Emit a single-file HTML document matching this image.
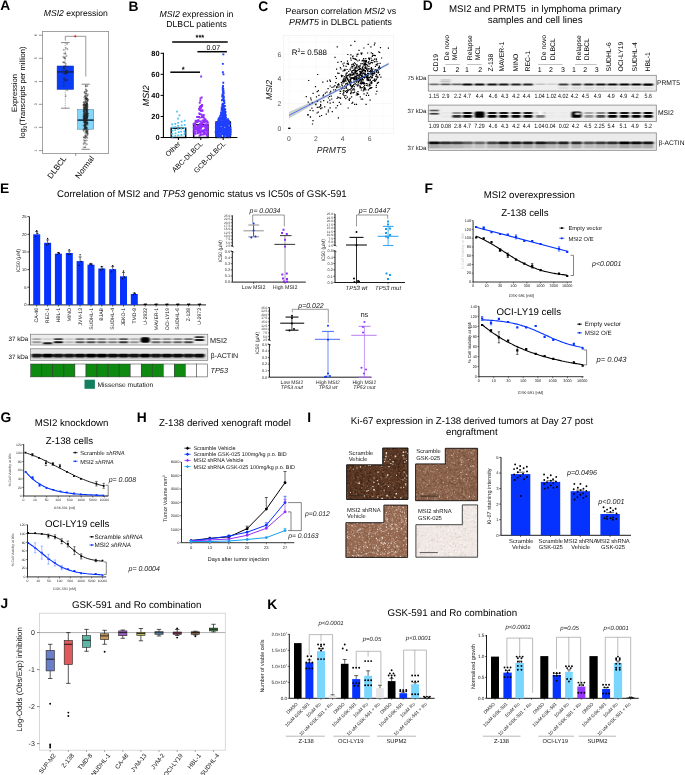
<!DOCTYPE html>
<html><head><meta charset="utf-8"><style>
html,body{margin:0;padding:0;background:#fff;width:685px;height:775px;overflow:hidden}
svg{display:block;font-family:"Liberation Sans",sans-serif;text-rendering:geometricPrecision;filter:blur(0.35px)}
</style></head><body>
<svg width="685" height="775" viewBox="0 0 685 775">
<defs>
<filter id="bl" x="-20%" y="-50%" width="140%" height="200%"><feGaussianBlur stdDeviation="0.8"/></filter>
<filter id="bl2" x="-20%" y="-50%" width="140%" height="200%"><feGaussianBlur stdDeviation="1.2"/></filter>
<filter id="bl5" x="-10%" y="-50%" width="120%" height="200%"><feGaussianBlur stdDeviation="0.9 0.55"/></filter>
</defs>
<text x="0.3" y="10.3" font-size="13.8" font-weight="bold">A</text>
<text x="128.6" y="10.5" font-size="13.8" font-weight="bold">B</text>
<text x="258.2" y="10.5" font-size="13.8" font-weight="bold">C</text>
<text x="422.7" y="10.2" font-size="13.8" font-weight="bold">D</text>
<text x="0" y="193" font-size="13.8" font-weight="bold">E</text>
<text x="424.6" y="192.8" font-size="13.8" font-weight="bold">F</text>
<text x="0.5" y="421.9" font-size="13.8" font-weight="bold">G</text>
<text x="136.8" y="421.9" font-size="13.8" font-weight="bold">H</text>
<text x="307.2" y="421.5" font-size="13.8" font-weight="bold">I</text>
<text x="0.5" y="608.4" font-size="13.8" font-weight="bold">J</text>
<text x="267.3" y="609" font-size="13.8" font-weight="bold">K</text>
<text x="43.8" y="16.2" font-size="8.6"><tspan font-style="italic">MSI2</tspan> expression</text>
<rect x="42.4" y="31.5" width="66.2" height="121.9" fill="none" stroke="#8c8c8c" stroke-width="0.8"/>
<line x1="38.9" y1="35.2" x2="42.4" y2="35.2" stroke="#555" stroke-width="0.6"/>
<text transform="translate(36.5,35.2) rotate(-90)" font-size="3.6" text-anchor="middle" fill="#333">6</text>
<line x1="38.9" y1="58.3" x2="42.4" y2="58.3" stroke="#555" stroke-width="0.6"/>
<text transform="translate(36.5,58.3) rotate(-90)" font-size="3.6" text-anchor="middle" fill="#333">5</text>
<line x1="38.9" y1="81.5" x2="42.4" y2="81.5" stroke="#555" stroke-width="0.6"/>
<text transform="translate(36.5,81.5) rotate(-90)" font-size="3.6" text-anchor="middle" fill="#333">4</text>
<line x1="38.9" y1="104.3" x2="42.4" y2="104.3" stroke="#555" stroke-width="0.6"/>
<text transform="translate(36.5,104.3) rotate(-90)" font-size="3.6" text-anchor="middle" fill="#333">3</text>
<line x1="38.9" y1="127.4" x2="42.4" y2="127.4" stroke="#555" stroke-width="0.6"/>
<text transform="translate(36.5,127.4) rotate(-90)" font-size="3.6" text-anchor="middle" fill="#333">2</text>
<line x1="38.9" y1="150.6" x2="42.4" y2="150.6" stroke="#555" stroke-width="0.6"/>
<text transform="translate(36.5,150.6) rotate(-90)" font-size="3.6" text-anchor="middle" fill="#333">1</text>
<line x1="65.3" y1="42.6" x2="65.3" y2="66" stroke="#777" stroke-width="0.6" stroke-dasharray="1.2,1"/>
<line x1="65.3" y1="89.4" x2="65.3" y2="108.2" stroke="#777" stroke-width="0.6" stroke-dasharray="1.2,1"/>
<line x1="61" y1="42.6" x2="69.7" y2="42.6" stroke="#555" stroke-width="0.7"/>
<line x1="61" y1="108.2" x2="69.7" y2="108.2" stroke="#555" stroke-width="0.7"/>
<rect x="57.1" y="66" width="16.5" height="23.4" fill="#0a3cf5" stroke="#0a2a9a" stroke-width="0.5"/>
<line x1="57.1" y1="71.9" x2="73.6" y2="71.9" stroke="#13236b" stroke-width="1.6"/>
<line x1="85.7" y1="84.2" x2="85.7" y2="109.6" stroke="#777" stroke-width="0.6" stroke-dasharray="1.2,1"/>
<line x1="85.7" y1="129.2" x2="85.7" y2="149.3" stroke="#777" stroke-width="0.6" stroke-dasharray="1.2,1"/>
<line x1="81.5" y1="84.2" x2="89.9" y2="84.2" stroke="#555" stroke-width="0.7"/>
<line x1="81.5" y1="149.3" x2="89.9" y2="149.3" stroke="#555" stroke-width="0.7"/>
<rect x="77.6" y="109.6" width="16.1" height="19.6" fill="#84d6fa" stroke="#3a7a9a" stroke-width="0.5"/>
<line x1="77.6" y1="120.1" x2="93.7" y2="120.1" stroke="#0c1a2c" stroke-width="1.4"/>
<g fill="none" stroke="#222" stroke-width="0.35"><circle cx="67.0" cy="72.0" r="0.6"/><circle cx="64.1" cy="68.7" r="0.6"/><circle cx="66.9" cy="66.5" r="0.6"/><circle cx="66.7" cy="72.7" r="0.6"/><circle cx="65.2" cy="66.1" r="0.6"/><circle cx="64.3" cy="77.9" r="0.6"/><circle cx="65.1" cy="73.3" r="0.6"/><circle cx="65.5" cy="71.6" r="0.6"/><circle cx="66.6" cy="55.9" r="0.6"/><circle cx="67.5" cy="49.2" r="0.6"/><circle cx="63.8" cy="49.9" r="0.6"/><circle cx="63.3" cy="56.8" r="0.6"/><circle cx="65.4" cy="73.9" r="0.6"/><circle cx="67.1" cy="44.0" r="0.6"/><circle cx="65.4" cy="71.4" r="0.6"/><circle cx="64.2" cy="53.6" r="0.6"/><circle cx="63.9" cy="73.8" r="0.6"/><circle cx="64.0" cy="62.3" r="0.6"/><circle cx="63.1" cy="62.3" r="0.6"/><circle cx="63.8" cy="82.6" r="0.6"/><circle cx="67.0" cy="70.7" r="0.6"/><circle cx="66.8" cy="72.8" r="0.6"/><circle cx="66.4" cy="72.9" r="0.6"/><circle cx="65.5" cy="53.4" r="0.6"/><circle cx="66.9" cy="73.4" r="0.6"/><circle cx="65.7" cy="96.0" r="0.6"/><circle cx="64.8" cy="57.6" r="0.6"/><circle cx="63.8" cy="78.9" r="0.6"/><circle cx="64.8" cy="80.2" r="0.6"/><circle cx="65.7" cy="80.0" r="0.6"/><circle cx="65.9" cy="63.9" r="0.6"/><circle cx="63.8" cy="66.4" r="0.6"/><circle cx="64.2" cy="57.8" r="0.6"/><circle cx="63.5" cy="69.6" r="0.6"/><circle cx="64.0" cy="85.7" r="0.6"/><circle cx="64.4" cy="62.5" r="0.6"/><circle cx="66.0" cy="48.1" r="0.6"/><circle cx="66.8" cy="70.8" r="0.6"/><circle cx="67.1" cy="80.3" r="0.6"/><circle cx="63.7" cy="67.6" r="0.6"/><circle cx="67.2" cy="90.3" r="0.6"/><circle cx="63.9" cy="68.4" r="0.6"/><circle cx="65.9" cy="70.6" r="0.6"/><circle cx="64.8" cy="58.6" r="0.6"/><circle cx="64.2" cy="66.7" r="0.6"/><circle cx="67.0" cy="79.8" r="0.6"/><circle cx="65.5" cy="80.0" r="0.6"/><circle cx="86.8" cy="131.7" r="0.6"/><circle cx="85.1" cy="125.6" r="0.6"/><circle cx="84.0" cy="122.5" r="0.6"/><circle cx="86.4" cy="91.5" r="0.6"/><circle cx="85.8" cy="106.3" r="0.6"/><circle cx="85.0" cy="147.2" r="0.6"/><circle cx="86.5" cy="109.9" r="0.6"/><circle cx="85.8" cy="124.4" r="0.6"/><circle cx="87.5" cy="115.3" r="0.6"/><circle cx="87.6" cy="124.8" r="0.6"/><circle cx="86.8" cy="117.0" r="0.6"/><circle cx="84.1" cy="104.3" r="0.6"/><circle cx="87.1" cy="106.8" r="0.6"/><circle cx="86.3" cy="120.5" r="0.6"/><circle cx="85.8" cy="110.3" r="0.6"/><circle cx="84.5" cy="92.0" r="0.6"/><circle cx="85.1" cy="122.7" r="0.6"/><circle cx="85.0" cy="129.0" r="0.6"/><circle cx="86.0" cy="127.8" r="0.6"/><circle cx="84.7" cy="128.1" r="0.6"/><circle cx="85.5" cy="98.0" r="0.6"/><circle cx="85.8" cy="136.7" r="0.6"/><circle cx="87.4" cy="114.4" r="0.6"/><circle cx="86.1" cy="105.3" r="0.6"/><circle cx="87.4" cy="110.9" r="0.6"/><circle cx="87.6" cy="107.7" r="0.6"/><circle cx="85.4" cy="101.4" r="0.6"/><circle cx="87.7" cy="116.0" r="0.6"/><circle cx="87.0" cy="118.2" r="0.6"/><circle cx="86.7" cy="113.8" r="0.6"/><circle cx="85.0" cy="118.1" r="0.6"/><circle cx="84.4" cy="114.1" r="0.6"/><circle cx="84.4" cy="107.5" r="0.6"/><circle cx="87.2" cy="109.3" r="0.6"/><circle cx="85.6" cy="122.4" r="0.6"/><circle cx="86.4" cy="99.1" r="0.6"/><circle cx="87.7" cy="109.8" r="0.6"/><circle cx="86.3" cy="127.6" r="0.6"/><circle cx="84.3" cy="118.9" r="0.6"/><circle cx="85.3" cy="123.9" r="0.6"/><circle cx="87.1" cy="116.1" r="0.6"/><circle cx="84.0" cy="102.2" r="0.6"/><circle cx="87.0" cy="111.4" r="0.6"/><circle cx="85.8" cy="117.6" r="0.6"/><circle cx="83.7" cy="111.4" r="0.6"/><circle cx="83.6" cy="114.1" r="0.6"/><circle cx="84.6" cy="118.3" r="0.6"/><circle cx="86.0" cy="126.8" r="0.6"/><circle cx="86.1" cy="110.7" r="0.6"/><circle cx="86.5" cy="130.3" r="0.6"/><circle cx="84.9" cy="116.2" r="0.6"/><circle cx="85.9" cy="128.2" r="0.6"/><circle cx="86.4" cy="130.0" r="0.6"/><circle cx="84.3" cy="137.7" r="0.6"/><circle cx="83.7" cy="129.2" r="0.6"/><circle cx="87.7" cy="129.4" r="0.6"/><circle cx="83.7" cy="137.3" r="0.6"/><circle cx="84.9" cy="96.0" r="0.6"/><circle cx="86.3" cy="104.8" r="0.6"/><circle cx="84.9" cy="128.9" r="0.6"/><circle cx="87.0" cy="90.6" r="0.6"/><circle cx="86.9" cy="118.6" r="0.6"/><circle cx="84.4" cy="118.5" r="0.6"/><circle cx="86.3" cy="98.3" r="0.6"/><circle cx="83.9" cy="105.4" r="0.6"/><circle cx="86.3" cy="124.6" r="0.6"/><circle cx="87.0" cy="123.3" r="0.6"/><circle cx="86.7" cy="109.4" r="0.6"/><circle cx="87.4" cy="106.5" r="0.6"/><circle cx="83.6" cy="107.8" r="0.6"/><circle cx="84.4" cy="122.4" r="0.6"/><circle cx="87.7" cy="99.9" r="0.6"/><circle cx="84.6" cy="116.8" r="0.6"/><circle cx="86.4" cy="99.2" r="0.6"/><circle cx="85.2" cy="127.7" r="0.6"/><circle cx="86.4" cy="119.1" r="0.6"/><circle cx="85.2" cy="133.0" r="0.6"/><circle cx="85.9" cy="89.4" r="0.6"/><circle cx="84.6" cy="92.4" r="0.6"/><circle cx="85.5" cy="109.1" r="0.6"/><circle cx="86.8" cy="135.3" r="0.6"/><circle cx="84.8" cy="102.8" r="0.6"/><circle cx="86.9" cy="132.7" r="0.6"/><circle cx="84.1" cy="118.6" r="0.6"/><circle cx="83.9" cy="118.5" r="0.6"/><circle cx="84.7" cy="125.2" r="0.6"/><circle cx="87.2" cy="104.4" r="0.6"/><circle cx="84.3" cy="109.1" r="0.6"/><circle cx="87.4" cy="101.5" r="0.6"/><circle cx="86.6" cy="117.9" r="0.6"/><circle cx="86.7" cy="140.4" r="0.6"/><circle cx="87.1" cy="112.0" r="0.6"/><circle cx="85.1" cy="122.9" r="0.6"/><circle cx="85.8" cy="121.3" r="0.6"/><circle cx="84.3" cy="119.1" r="0.6"/><circle cx="85.9" cy="114.5" r="0.6"/><circle cx="87.4" cy="133.4" r="0.6"/><circle cx="84.3" cy="117.9" r="0.6"/><circle cx="86.3" cy="110.8" r="0.6"/><circle cx="87.9" cy="94.4" r="0.6"/><circle cx="87.2" cy="130.5" r="0.6"/><circle cx="85.2" cy="126.7" r="0.6"/><circle cx="84.3" cy="120.8" r="0.6"/><circle cx="86.8" cy="115.4" r="0.6"/><circle cx="85.5" cy="137.7" r="0.6"/><circle cx="85.3" cy="117.2" r="0.6"/><circle cx="87.2" cy="109.7" r="0.6"/><circle cx="85.2" cy="124.6" r="0.6"/><circle cx="86.7" cy="113.5" r="0.6"/><circle cx="87.2" cy="117.1" r="0.6"/><circle cx="85.2" cy="112.9" r="0.6"/><circle cx="86.8" cy="115.1" r="0.6"/><circle cx="84.2" cy="97.3" r="0.6"/><circle cx="87.1" cy="106.9" r="0.6"/><circle cx="84.0" cy="108.0" r="0.6"/><circle cx="87.8" cy="100.1" r="0.6"/><circle cx="86.0" cy="113.9" r="0.6"/><circle cx="86.8" cy="120.5" r="0.6"/><circle cx="87.5" cy="105.1" r="0.6"/><circle cx="86.9" cy="144.2" r="0.6"/><circle cx="85.6" cy="115.4" r="0.6"/><circle cx="84.9" cy="122.1" r="0.6"/><circle cx="86.7" cy="103.6" r="0.6"/><circle cx="83.7" cy="106.2" r="0.6"/><circle cx="87.4" cy="137.8" r="0.6"/><circle cx="84.6" cy="125.2" r="0.6"/><circle cx="84.5" cy="115.4" r="0.6"/><circle cx="85.7" cy="100.4" r="0.6"/><circle cx="84.3" cy="137.2" r="0.6"/><circle cx="85.6" cy="105.8" r="0.6"/><circle cx="86.4" cy="111.4" r="0.6"/><circle cx="85.8" cy="115.3" r="0.6"/><circle cx="85.8" cy="121.9" r="0.6"/><circle cx="85.9" cy="117.5" r="0.6"/><circle cx="87.0" cy="116.9" r="0.6"/><circle cx="84.3" cy="142.3" r="0.6"/><circle cx="84.0" cy="118.7" r="0.6"/><circle cx="87.6" cy="123.0" r="0.6"/><circle cx="87.8" cy="99.7" r="0.6"/><circle cx="85.7" cy="127.2" r="0.6"/><circle cx="87.5" cy="95.8" r="0.6"/><circle cx="84.9" cy="109.2" r="0.6"/><circle cx="83.8" cy="147.4" r="0.6"/><circle cx="85.5" cy="107.9" r="0.6"/><circle cx="86.8" cy="117.3" r="0.6"/><circle cx="86.8" cy="103.0" r="0.6"/><circle cx="87.2" cy="103.0" r="0.6"/><circle cx="86.7" cy="131.8" r="0.6"/><circle cx="84.2" cy="111.8" r="0.6"/><circle cx="84.2" cy="116.3" r="0.6"/><circle cx="86.1" cy="113.6" r="0.6"/><circle cx="87.6" cy="99.2" r="0.6"/><circle cx="85.8" cy="115.5" r="0.6"/><circle cx="87.7" cy="131.0" r="0.6"/><circle cx="87.0" cy="107.8" r="0.6"/><circle cx="87.0" cy="123.1" r="0.6"/><circle cx="86.3" cy="131.4" r="0.6"/><circle cx="85.4" cy="102.2" r="0.6"/><circle cx="86.5" cy="128.5" r="0.6"/><circle cx="85.0" cy="93.3" r="0.6"/><circle cx="84.4" cy="125.8" r="0.6"/><circle cx="86.9" cy="113.0" r="0.6"/><circle cx="86.7" cy="103.4" r="0.6"/><circle cx="87.7" cy="115.7" r="0.6"/><circle cx="85.3" cy="109.6" r="0.6"/><circle cx="85.8" cy="96.3" r="0.6"/><circle cx="83.9" cy="130.8" r="0.6"/><circle cx="86.0" cy="131.9" r="0.6"/><circle cx="83.7" cy="104.4" r="0.6"/><circle cx="86.3" cy="112.0" r="0.6"/><circle cx="83.8" cy="111.0" r="0.6"/><circle cx="84.5" cy="114.0" r="0.6"/><circle cx="87.4" cy="101.2" r="0.6"/><circle cx="85.5" cy="129.5" r="0.6"/><circle cx="86.6" cy="118.0" r="0.6"/><circle cx="87.1" cy="105.3" r="0.6"/><circle cx="86.2" cy="111.3" r="0.6"/><circle cx="86.5" cy="107.9" r="0.6"/><circle cx="85.3" cy="115.0" r="0.6"/><circle cx="85.2" cy="125.6" r="0.6"/><circle cx="85.2" cy="125.8" r="0.6"/><circle cx="86.8" cy="103.9" r="0.6"/><circle cx="85.0" cy="118.7" r="0.6"/><circle cx="85.2" cy="106.2" r="0.6"/><circle cx="87.0" cy="95.6" r="0.6"/><circle cx="86.6" cy="103.9" r="0.6"/><circle cx="87.3" cy="117.2" r="0.6"/><circle cx="86.0" cy="98.2" r="0.6"/><circle cx="86.5" cy="108.3" r="0.6"/><circle cx="85.4" cy="122.9" r="0.6"/><circle cx="84.8" cy="108.6" r="0.6"/><circle cx="85.4" cy="108.2" r="0.6"/><circle cx="85.5" cy="105.4" r="0.6"/><circle cx="86.1" cy="94.1" r="0.6"/><circle cx="87.4" cy="113.8" r="0.6"/><circle cx="84.7" cy="117.6" r="0.6"/><circle cx="85.7" cy="118.6" r="0.6"/><circle cx="83.8" cy="104.5" r="0.6"/><circle cx="84.4" cy="104.8" r="0.6"/><circle cx="87.1" cy="127.7" r="0.6"/><circle cx="85.6" cy="105.5" r="0.6"/><circle cx="85.5" cy="113.4" r="0.6"/><circle cx="85.9" cy="86.0" r="0.6"/><circle cx="84.9" cy="104.0" r="0.6"/><circle cx="86.9" cy="104.0" r="0.6"/><circle cx="86.7" cy="98.4" r="0.6"/><circle cx="85.5" cy="136.0" r="0.6"/><circle cx="86.5" cy="112.8" r="0.6"/><circle cx="86.3" cy="93.4" r="0.6"/><circle cx="86.3" cy="117.6" r="0.6"/><circle cx="85.6" cy="116.8" r="0.6"/><circle cx="86.3" cy="117.1" r="0.6"/><circle cx="87.7" cy="134.8" r="0.6"/><circle cx="84.8" cy="116.2" r="0.6"/><circle cx="83.8" cy="117.2" r="0.6"/><circle cx="86.9" cy="108.3" r="0.6"/><circle cx="84.4" cy="104.4" r="0.6"/><circle cx="84.9" cy="116.6" r="0.6"/><circle cx="85.6" cy="115.6" r="0.6"/><circle cx="86.4" cy="105.7" r="0.6"/><circle cx="86.9" cy="110.9" r="0.6"/><circle cx="85.0" cy="117.9" r="0.6"/><circle cx="85.4" cy="118.9" r="0.6"/><circle cx="84.1" cy="110.0" r="0.6"/><circle cx="86.3" cy="91.0" r="0.6"/><circle cx="84.1" cy="120.0" r="0.6"/><circle cx="84.7" cy="112.5" r="0.6"/><circle cx="83.6" cy="105.3" r="0.6"/><circle cx="84.2" cy="110.8" r="0.6"/><circle cx="83.6" cy="102.3" r="0.6"/><circle cx="84.7" cy="119.9" r="0.6"/><circle cx="84.3" cy="112.3" r="0.6"/><circle cx="85.3" cy="96.4" r="0.6"/><circle cx="87.1" cy="121.2" r="0.6"/><circle cx="87.6" cy="123.0" r="0.6"/><circle cx="86.4" cy="114.6" r="0.6"/><circle cx="86.4" cy="123.6" r="0.6"/><circle cx="86.9" cy="98.3" r="0.6"/><circle cx="87.7" cy="133.2" r="0.6"/><circle cx="84.0" cy="121.0" r="0.6"/><circle cx="83.6" cy="130.3" r="0.6"/><circle cx="87.5" cy="86.0" r="0.6"/><circle cx="86.2" cy="98.6" r="0.6"/><circle cx="86.5" cy="109.7" r="0.6"/><circle cx="87.7" cy="113.2" r="0.6"/><circle cx="85.0" cy="140.7" r="0.6"/><circle cx="83.6" cy="116.7" r="0.6"/><circle cx="86.6" cy="101.6" r="0.6"/><circle cx="87.2" cy="123.5" r="0.6"/><circle cx="85.0" cy="119.4" r="0.6"/><circle cx="84.1" cy="108.0" r="0.6"/><circle cx="84.8" cy="127.5" r="0.6"/><circle cx="87.6" cy="131.9" r="0.6"/><circle cx="87.5" cy="114.0" r="0.6"/><circle cx="87.3" cy="105.0" r="0.6"/><circle cx="83.5" cy="125.5" r="0.6"/><circle cx="84.6" cy="122.0" r="0.6"/><circle cx="87.0" cy="113.3" r="0.6"/><circle cx="84.4" cy="106.8" r="0.6"/><circle cx="87.6" cy="113.6" r="0.6"/><circle cx="86.6" cy="123.0" r="0.6"/><circle cx="87.1" cy="117.8" r="0.6"/><circle cx="85.8" cy="86.0" r="0.6"/><circle cx="85.9" cy="125.1" r="0.6"/><circle cx="83.9" cy="140.1" r="0.6"/><circle cx="86.9" cy="122.1" r="0.6"/><circle cx="84.9" cy="128.2" r="0.6"/><circle cx="85.5" cy="117.5" r="0.6"/><circle cx="84.8" cy="143.4" r="0.6"/><circle cx="86.3" cy="117.4" r="0.6"/><circle cx="85.2" cy="135.5" r="0.6"/><circle cx="86.6" cy="137.1" r="0.6"/><circle cx="83.6" cy="115.6" r="0.6"/><circle cx="86.6" cy="128.2" r="0.6"/><circle cx="86.7" cy="98.4" r="0.6"/><circle cx="85.6" cy="122.4" r="0.6"/><circle cx="85.5" cy="98.2" r="0.6"/><circle cx="84.8" cy="124.4" r="0.6"/><circle cx="84.5" cy="111.8" r="0.6"/><circle cx="84.3" cy="114.9" r="0.6"/><circle cx="85.5" cy="106.1" r="0.6"/><circle cx="86.8" cy="120.7" r="0.6"/><circle cx="84.7" cy="126.8" r="0.6"/><circle cx="85.7" cy="106.0" r="0.6"/><circle cx="84.0" cy="113.4" r="0.6"/><circle cx="85.6" cy="120.8" r="0.6"/><circle cx="83.8" cy="109.8" r="0.6"/><circle cx="87.3" cy="133.7" r="0.6"/><circle cx="83.5" cy="144.0" r="0.6"/><circle cx="85.1" cy="120.8" r="0.6"/><circle cx="83.8" cy="116.4" r="0.6"/><circle cx="87.1" cy="119.5" r="0.6"/><circle cx="85.5" cy="107.2" r="0.6"/><circle cx="84.9" cy="99.3" r="0.6"/><circle cx="85.2" cy="108.1" r="0.6"/><circle cx="83.9" cy="120.8" r="0.6"/><circle cx="87.7" cy="113.6" r="0.6"/><circle cx="86.3" cy="106.4" r="0.6"/><circle cx="86.0" cy="104.7" r="0.6"/><circle cx="86.1" cy="117.6" r="0.6"/></g>
<path d="M65.3 40.6V36.3H85.8V76.5" stroke="#555" stroke-width="0.6" fill="none"/>
<circle cx="75.3" cy="36.3" r="1.1" fill="#e8202a"/>
<line x1="75.7" y1="153.4" x2="75.7" y2="156" stroke="#555" stroke-width="0.6"/>
<text transform="translate(16.6,92.9) rotate(-90)" font-size="7.7" text-anchor="middle">Expression</text>
<text transform="translate(25,92.5) rotate(-90)" font-size="7.6" text-anchor="middle">log<tspan font-size="5.2" dy="1.6">2</tspan><tspan dy="-1.6">(Transcripts per million)</tspan></text>
<text transform="translate(66.8,158.6) rotate(-53)" font-size="8.0" text-anchor="end">DLBCL</text>
<text transform="translate(94.6,158.6) rotate(-53)" font-size="8.0" text-anchor="end">Normal</text>
<text x="196.5" y="16.6" font-size="8.7" text-anchor="middle"><tspan font-style="italic">MSI2</tspan> expression in</text>
<text x="196.5" y="27.2" font-size="8.7" text-anchor="middle">DLBCL patients</text>
<line x1="163.4" y1="52.8" x2="163.4" y2="137.5" stroke="#000" stroke-width="1.1"/>
<line x1="162.8" y1="137.5" x2="237.4" y2="137.5" stroke="#000" stroke-width="1.1"/>
<line x1="160.6" y1="137.5" x2="163.4" y2="137.5" stroke="#000" stroke-width="1"/>
<text x="159.6" y="140.1" font-size="7.4" text-anchor="end" font-weight="bold">0</text>
<line x1="160.6" y1="116.5" x2="163.4" y2="116.5" stroke="#000" stroke-width="1"/>
<text x="159.6" y="119" font-size="7.4" text-anchor="end" font-weight="bold">20</text>
<line x1="160.6" y1="95.4" x2="163.4" y2="95.4" stroke="#000" stroke-width="1"/>
<text x="159.6" y="98" font-size="7.4" text-anchor="end" font-weight="bold">40</text>
<line x1="160.6" y1="74.3" x2="163.4" y2="74.3" stroke="#000" stroke-width="1"/>
<text x="159.6" y="76.9" font-size="7.4" text-anchor="end" font-weight="bold">60</text>
<line x1="160.6" y1="53.3" x2="163.4" y2="53.3" stroke="#000" stroke-width="1"/>
<text x="159.6" y="55.9" font-size="7.4" text-anchor="end" font-weight="bold">80</text>
<text transform="translate(149,95.8) rotate(-90)" font-size="9" text-anchor="middle" font-style="italic">MSI2</text>
<rect x="171.2" y="128.2" width="14.5" height="9.3" fill="none" stroke="#000" stroke-width="1.4"/>
<rect x="193.6" y="124.7" width="14.4" height="12.8" fill="none" stroke="#000" stroke-width="1.4"/>
<rect x="216" y="122" width="14.4" height="15.5" fill="none" stroke="#000" stroke-width="1.4"/>
<path d="M171.7 135.8h1.8v1.8h-1.8zM174.5 135.0h1.8v1.8h-1.8zM177.3 134.5h1.8v1.8h-1.8zM180.6 134.0h1.8v1.8h-1.8zM183.5 133.4h1.8v1.8h-1.8zM171.2 132.9h1.8v1.8h-1.8zM174.6 132.4h1.8v1.8h-1.8zM177.8 131.3h1.8v1.8h-1.8zM180.2 130.8h1.8v1.8h-1.8zM183.5 130.3h1.8v1.8h-1.8zM171.7 129.8h1.8v1.8h-1.8zM174.4 129.2h1.8v1.8h-1.8zM177.3 128.2h1.8v1.8h-1.8zM180.4 127.7h1.8v1.8h-1.8zM183.5 127.1h1.8v1.8h-1.8zM171.6 126.6h1.8v1.8h-1.8zM174.5 126.1h1.8v1.8h-1.8zM177.2 125.0h1.8v1.8h-1.8zM180.8 124.5h1.8v1.8h-1.8zM183.8 124.0h1.8v1.8h-1.8zM171.2 123.4h1.8v1.8h-1.8zM174.3 122.9h1.8v1.8h-1.8zM177.2 121.9h1.8v1.8h-1.8zM180.8 120.8h1.8v1.8h-1.8zM183.8 119.8h1.8v1.8h-1.8zM177.1 117.7h1.8v1.8h-1.8zM178.6 114.5h1.8v1.8h-1.8zM176.1 110.8h1.8v1.8h-1.8zM180.5 134.3h1.8v1.8h-1.8zM183.8 131.9h1.8v1.8h-1.8z" fill="#4fc3f7"/>
<path d="M203.0 129.8h1.9v1.9h-1.9zM198.8 129.1h1.9v1.9h-1.9zM198.6 134.8h1.9v1.9h-1.9zM203.9 124.0h1.9v1.9h-1.9zM198.7 107.4h1.9v1.9h-1.9zM201.9 133.6h1.9v1.9h-1.9zM203.0 131.7h1.9v1.9h-1.9zM200.1 125.2h1.9v1.9h-1.9zM205.2 123.3h1.9v1.9h-1.9zM199.4 123.7h1.9v1.9h-1.9zM199.3 127.6h1.9v1.9h-1.9zM196.7 128.8h1.9v1.9h-1.9zM205.9 133.3h1.9v1.9h-1.9zM199.2 109.0h1.9v1.9h-1.9zM201.3 114.8h1.9v1.9h-1.9zM198.5 129.5h1.9v1.9h-1.9zM206.1 126.0h1.9v1.9h-1.9zM206.3 127.5h1.9v1.9h-1.9zM193.1 128.2h1.9v1.9h-1.9zM207.0 131.3h1.9v1.9h-1.9zM200.2 105.0h1.9v1.9h-1.9zM193.7 127.1h1.9v1.9h-1.9zM199.8 120.5h1.9v1.9h-1.9zM193.4 127.0h1.9v1.9h-1.9zM200.6 123.9h1.9v1.9h-1.9zM198.3 112.4h1.9v1.9h-1.9zM197.9 125.1h1.9v1.9h-1.9zM198.7 113.0h1.9v1.9h-1.9zM201.3 129.4h1.9v1.9h-1.9zM204.2 120.9h1.9v1.9h-1.9zM202.8 114.1h1.9v1.9h-1.9zM197.7 120.1h1.9v1.9h-1.9zM200.9 129.4h1.9v1.9h-1.9zM192.7 130.6h1.9v1.9h-1.9zM198.0 127.9h1.9v1.9h-1.9zM206.5 129.3h1.9v1.9h-1.9zM194.4 123.6h1.9v1.9h-1.9zM205.2 126.9h1.9v1.9h-1.9zM202.0 129.9h1.9v1.9h-1.9zM196.9 131.8h1.9v1.9h-1.9zM203.9 129.3h1.9v1.9h-1.9zM196.8 126.0h1.9v1.9h-1.9zM205.1 120.6h1.9v1.9h-1.9zM193.8 123.2h1.9v1.9h-1.9zM194.6 121.1h1.9v1.9h-1.9zM201.9 115.7h1.9v1.9h-1.9zM199.1 123.0h1.9v1.9h-1.9zM194.8 132.6h1.9v1.9h-1.9zM200.0 127.3h1.9v1.9h-1.9zM196.9 132.3h1.9v1.9h-1.9zM200.6 125.0h1.9v1.9h-1.9zM203.4 133.4h1.9v1.9h-1.9zM205.0 126.3h1.9v1.9h-1.9zM193.5 125.1h1.9v1.9h-1.9zM201.2 121.8h1.9v1.9h-1.9zM206.8 125.9h1.9v1.9h-1.9zM199.7 105.0h1.9v1.9h-1.9zM203.7 128.4h1.9v1.9h-1.9zM194.8 119.8h1.9v1.9h-1.9zM205.2 128.5h1.9v1.9h-1.9zM201.0 130.8h1.9v1.9h-1.9zM205.4 128.5h1.9v1.9h-1.9zM204.0 132.6h1.9v1.9h-1.9zM205.2 124.7h1.9v1.9h-1.9zM193.5 133.6h1.9v1.9h-1.9zM202.5 119.7h1.9v1.9h-1.9zM195.5 126.2h1.9v1.9h-1.9zM196.6 121.1h1.9v1.9h-1.9zM197.3 131.6h1.9v1.9h-1.9zM200.4 113.5h1.9v1.9h-1.9zM201.0 116.4h1.9v1.9h-1.9zM204.6 118.5h1.9v1.9h-1.9zM192.8 126.7h1.9v1.9h-1.9zM196.0 120.0h1.9v1.9h-1.9zM197.9 126.2h1.9v1.9h-1.9zM202.6 115.9h1.9v1.9h-1.9zM200.6 133.5h1.9v1.9h-1.9zM200.0 125.6h1.9v1.9h-1.9zM201.8 114.9h1.9v1.9h-1.9zM201.7 119.6h1.9v1.9h-1.9zM197.4 119.1h1.9v1.9h-1.9zM194.7 119.9h1.9v1.9h-1.9zM199.3 124.7h1.9v1.9h-1.9zM205.3 130.6h1.9v1.9h-1.9zM201.3 122.5h1.9v1.9h-1.9zM193.4 128.3h1.9v1.9h-1.9zM199.0 127.4h1.9v1.9h-1.9zM198.2 126.5h1.9v1.9h-1.9zM201.0 125.8h1.9v1.9h-1.9zM201.1 130.8h1.9v1.9h-1.9zM205.9 120.8h1.9v1.9h-1.9zM197.5 124.5h1.9v1.9h-1.9zM199.0 116.7h1.9v1.9h-1.9zM200.2 106.9h1.9v1.9h-1.9zM204.8 120.2h1.9v1.9h-1.9zM202.8 125.0h1.9v1.9h-1.9zM199.4 132.1h1.9v1.9h-1.9zM204.4 126.0h1.9v1.9h-1.9zM199.6 124.4h1.9v1.9h-1.9zM206.5 123.8h1.9v1.9h-1.9zM196.7 125.5h1.9v1.9h-1.9zM194.5 128.7h1.9v1.9h-1.9zM203.6 118.8h1.9v1.9h-1.9zM196.9 124.7h1.9v1.9h-1.9zM203.4 117.6h1.9v1.9h-1.9zM201.4 129.6h1.9v1.9h-1.9zM200.0 123.6h1.9v1.9h-1.9zM196.2 116.1h1.9v1.9h-1.9zM202.4 116.1h1.9v1.9h-1.9zM193.6 131.3h1.9v1.9h-1.9zM206.5 126.3h1.9v1.9h-1.9zM205.3 127.8h1.9v1.9h-1.9zM198.1 116.1h1.9v1.9h-1.9zM194.5 122.9h1.9v1.9h-1.9zM205.4 129.3h1.9v1.9h-1.9zM199.6 125.9h1.9v1.9h-1.9zM194.4 128.5h1.9v1.9h-1.9zM199.8 125.5h1.9v1.9h-1.9zM196.2 128.2h1.9v1.9h-1.9zM198.5 124.3h1.9v1.9h-1.9zM201.1 116.0h1.9v1.9h-1.9zM201.2 105.0h1.9v1.9h-1.9zM203.5 119.6h1.9v1.9h-1.9zM198.6 108.9h1.9v1.9h-1.9zM199.5 134.0h1.9v1.9h-1.9zM199.7 120.8h1.9v1.9h-1.9zM206.1 120.2h1.9v1.9h-1.9zM193.9 122.5h1.9v1.9h-1.9zM200.0 126.2h1.9v1.9h-1.9zM205.8 134.7h1.9v1.9h-1.9zM198.4 131.1h1.9v1.9h-1.9zM196.4 127.1h1.9v1.9h-1.9zM200.7 123.1h1.9v1.9h-1.9zM197.3 130.6h1.9v1.9h-1.9zM206.0 125.9h1.9v1.9h-1.9zM193.9 126.7h1.9v1.9h-1.9zM195.6 126.6h1.9v1.9h-1.9zM193.9 125.6h1.9v1.9h-1.9zM202.9 121.6h1.9v1.9h-1.9zM196.9 127.7h1.9v1.9h-1.9zM205.6 126.7h1.9v1.9h-1.9zM205.5 130.5h1.9v1.9h-1.9zM206.1 128.1h1.9v1.9h-1.9zM196.3 130.2h1.9v1.9h-1.9zM192.7 123.0h1.9v1.9h-1.9zM199.5 106.9h1.9v1.9h-1.9zM201.6 109.8h1.9v1.9h-1.9zM203.6 129.4h1.9v1.9h-1.9zM193.5 122.6h1.9v1.9h-1.9zM202.8 125.4h1.9v1.9h-1.9zM205.9 133.6h1.9v1.9h-1.9zM206.6 134.6h1.9v1.9h-1.9zM203.0 129.7h1.9v1.9h-1.9zM205.1 127.0h1.9v1.9h-1.9zM204.8 132.5h1.9v1.9h-1.9zM197.8 131.2h1.9v1.9h-1.9zM194.1 130.8h1.9v1.9h-1.9zM203.1 131.2h1.9v1.9h-1.9zM194.6 132.3h1.9v1.9h-1.9zM198.2 127.6h1.9v1.9h-1.9zM206.9 121.6h1.9v1.9h-1.9zM200.7 124.4h1.9v1.9h-1.9zM200.2 130.8h1.9v1.9h-1.9zM206.3 127.2h1.9v1.9h-1.9zM196.7 126.0h1.9v1.9h-1.9zM200.2 75.5h1.9v1.9h-1.9zM200.7 96.6h1.9v1.9h-1.9zM199.5 97.6h1.9v1.9h-1.9zM199.4 99.7h1.9v1.9h-1.9zM198.8 101.8h1.9v1.9h-1.9zM201.1 103.9h1.9v1.9h-1.9zM198.8 106.0h1.9v1.9h-1.9zM198.1 108.1h1.9v1.9h-1.9zM201.3 109.2h1.9v1.9h-1.9zM200.2 110.2h1.9v1.9h-1.9z" fill="#912dff"/>
<path d="M227.2 121.6h1.9v1.9h-1.9zM228.0 127.6h1.9v1.9h-1.9zM221.3 104.2h1.9v1.9h-1.9zM226.0 133.5h1.9v1.9h-1.9zM224.3 133.4h1.9v1.9h-1.9zM221.7 110.9h1.9v1.9h-1.9zM226.4 133.6h1.9v1.9h-1.9zM224.2 111.6h1.9v1.9h-1.9zM221.9 129.8h1.9v1.9h-1.9zM228.1 122.7h1.9v1.9h-1.9zM220.4 112.6h1.9v1.9h-1.9zM220.6 112.6h1.9v1.9h-1.9zM225.0 118.9h1.9v1.9h-1.9zM219.3 126.2h1.9v1.9h-1.9zM223.5 128.0h1.9v1.9h-1.9zM222.2 127.8h1.9v1.9h-1.9zM220.7 109.0h1.9v1.9h-1.9zM226.0 123.3h1.9v1.9h-1.9zM223.7 114.2h1.9v1.9h-1.9zM216.9 135.7h1.9v1.9h-1.9zM218.6 128.5h1.9v1.9h-1.9zM226.7 123.5h1.9v1.9h-1.9zM228.5 128.7h1.9v1.9h-1.9zM223.3 99.5h1.9v1.9h-1.9zM222.3 132.5h1.9v1.9h-1.9zM220.6 121.3h1.9v1.9h-1.9zM221.8 117.5h1.9v1.9h-1.9zM217.3 131.1h1.9v1.9h-1.9zM222.2 117.7h1.9v1.9h-1.9zM218.6 122.3h1.9v1.9h-1.9zM221.5 94.5h1.9v1.9h-1.9zM221.7 109.8h1.9v1.9h-1.9zM215.6 126.2h1.9v1.9h-1.9zM222.0 116.3h1.9v1.9h-1.9zM224.9 122.3h1.9v1.9h-1.9zM224.6 129.0h1.9v1.9h-1.9zM227.6 119.8h1.9v1.9h-1.9zM227.2 121.4h1.9v1.9h-1.9zM222.8 107.9h1.9v1.9h-1.9zM228.3 133.5h1.9v1.9h-1.9zM221.4 133.3h1.9v1.9h-1.9zM226.8 130.8h1.9v1.9h-1.9zM219.8 119.7h1.9v1.9h-1.9zM222.4 114.9h1.9v1.9h-1.9zM229.5 126.7h1.9v1.9h-1.9zM223.7 123.7h1.9v1.9h-1.9zM222.4 125.4h1.9v1.9h-1.9zM226.6 134.1h1.9v1.9h-1.9zM219.4 131.1h1.9v1.9h-1.9zM225.1 116.9h1.9v1.9h-1.9zM217.8 117.7h1.9v1.9h-1.9zM220.8 113.6h1.9v1.9h-1.9zM218.8 119.3h1.9v1.9h-1.9zM218.6 135.9h1.9v1.9h-1.9zM228.8 123.3h1.9v1.9h-1.9zM215.6 122.7h1.9v1.9h-1.9zM219.2 133.2h1.9v1.9h-1.9zM222.5 103.3h1.9v1.9h-1.9zM225.3 126.9h1.9v1.9h-1.9zM224.5 116.4h1.9v1.9h-1.9zM221.1 118.3h1.9v1.9h-1.9zM219.0 120.2h1.9v1.9h-1.9zM223.9 110.5h1.9v1.9h-1.9zM216.5 126.8h1.9v1.9h-1.9zM218.8 116.4h1.9v1.9h-1.9zM218.7 121.7h1.9v1.9h-1.9zM222.1 132.8h1.9v1.9h-1.9zM229.0 130.0h1.9v1.9h-1.9zM225.7 132.7h1.9v1.9h-1.9zM223.2 133.9h1.9v1.9h-1.9zM222.5 121.5h1.9v1.9h-1.9zM225.2 133.5h1.9v1.9h-1.9zM223.2 116.0h1.9v1.9h-1.9zM219.8 127.6h1.9v1.9h-1.9zM216.1 127.7h1.9v1.9h-1.9zM217.7 132.9h1.9v1.9h-1.9zM226.2 122.5h1.9v1.9h-1.9zM224.3 131.4h1.9v1.9h-1.9zM225.6 119.8h1.9v1.9h-1.9zM217.3 119.3h1.9v1.9h-1.9zM228.3 134.4h1.9v1.9h-1.9zM220.7 121.5h1.9v1.9h-1.9zM228.7 135.2h1.9v1.9h-1.9zM223.1 117.9h1.9v1.9h-1.9zM223.0 135.3h1.9v1.9h-1.9zM227.1 132.1h1.9v1.9h-1.9zM222.9 111.9h1.9v1.9h-1.9zM224.9 123.9h1.9v1.9h-1.9zM218.6 119.3h1.9v1.9h-1.9zM223.8 135.8h1.9v1.9h-1.9zM220.8 118.4h1.9v1.9h-1.9zM215.8 131.1h1.9v1.9h-1.9zM220.7 106.8h1.9v1.9h-1.9zM221.9 125.3h1.9v1.9h-1.9zM218.6 126.5h1.9v1.9h-1.9zM226.3 134.1h1.9v1.9h-1.9zM216.5 131.5h1.9v1.9h-1.9zM214.9 126.0h1.9v1.9h-1.9zM224.6 111.0h1.9v1.9h-1.9zM221.3 112.3h1.9v1.9h-1.9zM222.4 127.7h1.9v1.9h-1.9zM217.8 132.6h1.9v1.9h-1.9zM217.8 132.9h1.9v1.9h-1.9zM221.9 106.1h1.9v1.9h-1.9zM226.5 123.2h1.9v1.9h-1.9zM215.2 132.2h1.9v1.9h-1.9zM223.7 108.8h1.9v1.9h-1.9zM228.2 120.8h1.9v1.9h-1.9zM222.8 118.4h1.9v1.9h-1.9zM221.0 117.3h1.9v1.9h-1.9zM218.5 122.7h1.9v1.9h-1.9zM217.4 129.3h1.9v1.9h-1.9zM219.6 134.2h1.9v1.9h-1.9zM227.6 133.2h1.9v1.9h-1.9zM214.7 131.3h1.9v1.9h-1.9zM225.8 121.1h1.9v1.9h-1.9zM224.8 130.6h1.9v1.9h-1.9zM217.7 118.0h1.9v1.9h-1.9zM218.6 116.8h1.9v1.9h-1.9zM223.3 108.7h1.9v1.9h-1.9zM223.0 108.1h1.9v1.9h-1.9zM221.5 106.9h1.9v1.9h-1.9zM227.7 123.7h1.9v1.9h-1.9zM217.8 124.3h1.9v1.9h-1.9zM221.1 129.9h1.9v1.9h-1.9zM216.6 123.3h1.9v1.9h-1.9zM224.5 124.5h1.9v1.9h-1.9zM216.0 130.0h1.9v1.9h-1.9zM217.4 134.7h1.9v1.9h-1.9zM223.5 110.6h1.9v1.9h-1.9zM222.3 120.3h1.9v1.9h-1.9zM224.7 131.7h1.9v1.9h-1.9zM225.8 128.9h1.9v1.9h-1.9zM223.3 117.9h1.9v1.9h-1.9zM217.7 129.2h1.9v1.9h-1.9zM225.0 122.7h1.9v1.9h-1.9zM219.8 114.6h1.9v1.9h-1.9zM220.3 116.9h1.9v1.9h-1.9zM221.5 126.5h1.9v1.9h-1.9zM216.4 131.1h1.9v1.9h-1.9zM216.3 128.1h1.9v1.9h-1.9zM223.7 118.0h1.9v1.9h-1.9zM225.9 126.7h1.9v1.9h-1.9zM221.7 105.9h1.9v1.9h-1.9zM221.9 103.6h1.9v1.9h-1.9zM221.0 108.3h1.9v1.9h-1.9zM222.5 118.3h1.9v1.9h-1.9zM223.5 132.5h1.9v1.9h-1.9zM223.9 105.1h1.9v1.9h-1.9zM218.0 117.8h1.9v1.9h-1.9zM228.5 129.8h1.9v1.9h-1.9zM229.7 131.0h1.9v1.9h-1.9zM219.9 129.6h1.9v1.9h-1.9zM225.7 123.9h1.9v1.9h-1.9zM227.2 133.3h1.9v1.9h-1.9zM223.0 112.6h1.9v1.9h-1.9zM219.0 127.9h1.9v1.9h-1.9zM223.7 120.0h1.9v1.9h-1.9zM228.0 134.2h1.9v1.9h-1.9zM221.4 94.5h1.9v1.9h-1.9zM222.1 114.7h1.9v1.9h-1.9zM215.0 126.1h1.9v1.9h-1.9zM227.5 132.4h1.9v1.9h-1.9zM223.5 108.1h1.9v1.9h-1.9zM215.3 128.3h1.9v1.9h-1.9zM226.0 128.5h1.9v1.9h-1.9zM225.2 131.2h1.9v1.9h-1.9zM216.6 132.7h1.9v1.9h-1.9zM222.6 126.0h1.9v1.9h-1.9zM225.1 125.2h1.9v1.9h-1.9zM219.7 128.5h1.9v1.9h-1.9zM222.3 132.2h1.9v1.9h-1.9zM224.3 108.4h1.9v1.9h-1.9zM222.8 106.8h1.9v1.9h-1.9zM222.3 131.1h1.9v1.9h-1.9zM220.1 111.5h1.9v1.9h-1.9zM216.5 125.2h1.9v1.9h-1.9zM227.6 126.1h1.9v1.9h-1.9zM223.0 100.2h1.9v1.9h-1.9zM223.4 102.1h1.9v1.9h-1.9zM223.4 128.7h1.9v1.9h-1.9zM223.0 118.9h1.9v1.9h-1.9zM222.7 129.9h1.9v1.9h-1.9zM225.8 134.2h1.9v1.9h-1.9zM220.8 117.1h1.9v1.9h-1.9zM222.2 121.7h1.9v1.9h-1.9zM221.9 118.8h1.9v1.9h-1.9zM222.6 96.6h1.9v1.9h-1.9zM217.9 127.9h1.9v1.9h-1.9zM216.2 121.4h1.9v1.9h-1.9zM216.0 124.5h1.9v1.9h-1.9zM217.4 135.0h1.9v1.9h-1.9zM227.7 127.4h1.9v1.9h-1.9zM225.5 134.1h1.9v1.9h-1.9zM226.0 125.5h1.9v1.9h-1.9zM221.4 132.3h1.9v1.9h-1.9zM216.2 132.6h1.9v1.9h-1.9zM222.1 110.4h1.9v1.9h-1.9zM227.8 128.9h1.9v1.9h-1.9zM222.4 128.1h1.9v1.9h-1.9zM224.2 123.2h1.9v1.9h-1.9zM220.3 135.4h1.9v1.9h-1.9zM216.9 131.7h1.9v1.9h-1.9zM224.2 130.9h1.9v1.9h-1.9zM222.0 122.5h1.9v1.9h-1.9zM219.9 124.1h1.9v1.9h-1.9zM218.6 130.2h1.9v1.9h-1.9zM223.0 105.4h1.9v1.9h-1.9zM219.5 129.7h1.9v1.9h-1.9zM223.4 131.1h1.9v1.9h-1.9zM218.9 122.8h1.9v1.9h-1.9zM226.1 130.7h1.9v1.9h-1.9zM221.6 113.2h1.9v1.9h-1.9zM221.9 123.5h1.9v1.9h-1.9zM228.7 130.7h1.9v1.9h-1.9zM222.8 96.8h1.9v1.9h-1.9zM225.8 128.9h1.9v1.9h-1.9zM219.8 126.5h1.9v1.9h-1.9zM227.3 123.6h1.9v1.9h-1.9zM220.6 123.3h1.9v1.9h-1.9zM229.1 122.8h1.9v1.9h-1.9zM228.3 133.3h1.9v1.9h-1.9zM224.7 125.7h1.9v1.9h-1.9zM227.3 135.2h1.9v1.9h-1.9zM222.9 128.0h1.9v1.9h-1.9zM225.8 127.1h1.9v1.9h-1.9zM217.4 121.5h1.9v1.9h-1.9zM229.7 131.2h1.9v1.9h-1.9zM226.8 123.9h1.9v1.9h-1.9zM216.8 129.2h1.9v1.9h-1.9zM218.3 125.6h1.9v1.9h-1.9zM223.4 131.8h1.9v1.9h-1.9zM224.5 116.8h1.9v1.9h-1.9zM219.0 117.6h1.9v1.9h-1.9zM229.3 134.2h1.9v1.9h-1.9zM219.9 128.2h1.9v1.9h-1.9zM229.8 128.9h1.9v1.9h-1.9zM226.1 135.2h1.9v1.9h-1.9zM222.0 133.2h1.9v1.9h-1.9zM220.2 128.2h1.9v1.9h-1.9zM216.1 133.1h1.9v1.9h-1.9zM216.0 125.3h1.9v1.9h-1.9zM223.7 119.9h1.9v1.9h-1.9zM226.4 130.5h1.9v1.9h-1.9zM227.4 121.1h1.9v1.9h-1.9zM221.6 111.9h1.9v1.9h-1.9zM228.9 130.4h1.9v1.9h-1.9zM221.0 114.6h1.9v1.9h-1.9zM224.9 114.3h1.9v1.9h-1.9zM224.3 112.0h1.9v1.9h-1.9zM217.0 126.0h1.9v1.9h-1.9zM227.7 123.8h1.9v1.9h-1.9zM225.3 131.1h1.9v1.9h-1.9zM224.1 117.6h1.9v1.9h-1.9zM225.8 119.0h1.9v1.9h-1.9zM222.8 122.8h1.9v1.9h-1.9zM222.4 126.0h1.9v1.9h-1.9zM220.2 130.3h1.9v1.9h-1.9zM227.8 135.6h1.9v1.9h-1.9zM228.3 129.7h1.9v1.9h-1.9zM217.1 134.5h1.9v1.9h-1.9zM226.4 127.0h1.9v1.9h-1.9zM218.8 131.1h1.9v1.9h-1.9zM221.5 95.5h1.9v1.9h-1.9zM217.6 130.0h1.9v1.9h-1.9zM223.4 131.6h1.9v1.9h-1.9zM221.4 104.6h1.9v1.9h-1.9zM218.3 134.2h1.9v1.9h-1.9zM220.1 113.6h1.9v1.9h-1.9zM221.4 113.0h1.9v1.9h-1.9zM226.4 126.5h1.9v1.9h-1.9zM215.0 133.2h1.9v1.9h-1.9zM222.0 129.8h1.9v1.9h-1.9zM223.8 124.6h1.9v1.9h-1.9zM218.2 117.4h1.9v1.9h-1.9zM219.7 120.7h1.9v1.9h-1.9zM227.6 121.9h1.9v1.9h-1.9zM229.8 128.7h1.9v1.9h-1.9zM224.5 114.8h1.9v1.9h-1.9zM217.2 132.0h1.9v1.9h-1.9zM226.3 130.3h1.9v1.9h-1.9zM221.5 124.3h1.9v1.9h-1.9zM219.0 118.4h1.9v1.9h-1.9zM222.0 121.5h1.9v1.9h-1.9zM227.5 121.0h1.9v1.9h-1.9zM228.0 129.1h1.9v1.9h-1.9zM221.4 115.8h1.9v1.9h-1.9zM215.6 135.2h1.9v1.9h-1.9zM228.3 130.1h1.9v1.9h-1.9zM229.6 133.2h1.9v1.9h-1.9zM222.4 132.2h1.9v1.9h-1.9zM218.6 121.9h1.9v1.9h-1.9zM222.7 117.9h1.9v1.9h-1.9zM225.2 131.8h1.9v1.9h-1.9zM222.0 125.8h1.9v1.9h-1.9zM221.7 102.7h1.9v1.9h-1.9zM218.6 123.0h1.9v1.9h-1.9zM221.3 109.4h1.9v1.9h-1.9zM219.3 114.9h1.9v1.9h-1.9zM221.0 113.4h1.9v1.9h-1.9zM229.1 127.9h1.9v1.9h-1.9zM215.5 122.4h1.9v1.9h-1.9zM222.8 95.5h1.9v1.9h-1.9zM226.6 130.6h1.9v1.9h-1.9zM221.8 112.3h1.9v1.9h-1.9zM223.7 129.5h1.9v1.9h-1.9zM218.0 125.1h1.9v1.9h-1.9zM224.2 119.9h1.9v1.9h-1.9zM225.4 128.3h1.9v1.9h-1.9zM225.8 127.2h1.9v1.9h-1.9zM222.1 132.5h1.9v1.9h-1.9zM229.4 126.6h1.9v1.9h-1.9zM227.8 133.0h1.9v1.9h-1.9zM223.2 122.0h1.9v1.9h-1.9zM225.0 124.6h1.9v1.9h-1.9zM220.8 114.6h1.9v1.9h-1.9zM229.0 127.4h1.9v1.9h-1.9zM223.2 114.7h1.9v1.9h-1.9zM224.3 113.4h1.9v1.9h-1.9zM221.2 112.4h1.9v1.9h-1.9zM227.0 118.3h1.9v1.9h-1.9zM217.1 121.6h1.9v1.9h-1.9zM222.7 123.2h1.9v1.9h-1.9zM216.3 128.8h1.9v1.9h-1.9zM217.5 126.0h1.9v1.9h-1.9zM226.3 125.9h1.9v1.9h-1.9zM221.0 99.4h1.9v1.9h-1.9zM220.5 132.7h1.9v1.9h-1.9zM217.6 127.6h1.9v1.9h-1.9zM227.4 123.4h1.9v1.9h-1.9zM215.9 131.5h1.9v1.9h-1.9zM220.6 118.8h1.9v1.9h-1.9zM227.7 129.9h1.9v1.9h-1.9zM224.8 122.5h1.9v1.9h-1.9zM225.3 125.3h1.9v1.9h-1.9zM228.0 120.2h1.9v1.9h-1.9zM215.0 132.9h1.9v1.9h-1.9zM224.6 122.9h1.9v1.9h-1.9zM223.4 109.4h1.9v1.9h-1.9zM224.4 117.2h1.9v1.9h-1.9zM222.4 53.4h1.9v1.9h-1.9zM221.9 62.9h1.9v1.9h-1.9zM221.9 71.3h1.9v1.9h-1.9zM222.5 73.4h1.9v1.9h-1.9zM222.3 81.8h1.9v1.9h-1.9zM222.1 85.0h1.9v1.9h-1.9zM221.8 87.1h1.9v1.9h-1.9zM222.3 88.1h1.9v1.9h-1.9zM221.8 89.2h1.9v1.9h-1.9zM222.6 90.2h1.9v1.9h-1.9zM222.0 91.3h1.9v1.9h-1.9zM222.8 92.3h1.9v1.9h-1.9zM221.5 93.4h1.9v1.9h-1.9zM222.2 94.5h1.9v1.9h-1.9zM221.3 95.5h1.9v1.9h-1.9zM222.9 96.6h1.9v1.9h-1.9zM222.4 97.6h1.9v1.9h-1.9zM221.5 98.7h1.9v1.9h-1.9z" fill="#1f3fff"/>
<line x1="178.4" y1="137.5" x2="178.4" y2="140" stroke="#000" stroke-width="1"/>
<line x1="200.8" y1="137.5" x2="200.8" y2="140" stroke="#000" stroke-width="1"/>
<line x1="223.2" y1="137.5" x2="223.2" y2="140" stroke="#000" stroke-width="1"/>
<line x1="172.2" y1="42" x2="227.7" y2="42" stroke="#000" stroke-width="1.5"/>
<text x="199.9" y="40.2" font-size="7.5" text-anchor="middle" font-weight="bold">***</text>
<line x1="197.4" y1="51.7" x2="226.9" y2="51.7" stroke="#000" stroke-width="1.5"/>
<text x="213.3" y="49.6" font-size="7" text-anchor="middle">0.07</text>
<line x1="170.3" y1="72.2" x2="200" y2="72.2" stroke="#000" stroke-width="1.5"/>
<text x="183.3" y="71.5" font-size="7.5" text-anchor="middle" font-weight="bold">*</text>
<text transform="translate(181,144.3) rotate(-45)" font-size="7.2" text-anchor="end">Other</text>
<text transform="translate(203.3,144.3) rotate(-45)" font-size="7.2" text-anchor="end">ABC-DLBCL</text>
<text transform="translate(225.8,144.3) rotate(-45)" font-size="7.2" text-anchor="end">GCB-DLBCL</text>
<text x="340.8" y="14" font-size="8.8" text-anchor="middle">Pearson correlation <tspan font-style="italic">MSI2</tspan> vs</text>
<text x="340.5" y="24.5" font-size="8.8" text-anchor="middle"><tspan font-style="italic">PRMT5</tspan> in DLBCL patients</text>
<line x1="289" y1="35.7" x2="289" y2="133.4" stroke="#f2f2f2" stroke-width="0.5"/>
<line x1="302.4" y1="35.7" x2="302.4" y2="133.4" stroke="#f7f7f7" stroke-width="0.5"/>
<line x1="315.9" y1="35.7" x2="315.9" y2="133.4" stroke="#f2f2f2" stroke-width="0.5"/>
<line x1="329.3" y1="35.7" x2="329.3" y2="133.4" stroke="#f7f7f7" stroke-width="0.5"/>
<line x1="342.7" y1="35.7" x2="342.7" y2="133.4" stroke="#f2f2f2" stroke-width="0.5"/>
<line x1="356.1" y1="35.7" x2="356.1" y2="133.4" stroke="#f7f7f7" stroke-width="0.5"/>
<line x1="369.6" y1="35.7" x2="369.6" y2="133.4" stroke="#f2f2f2" stroke-width="0.5"/>
<line x1="383" y1="35.7" x2="383" y2="133.4" stroke="#f7f7f7" stroke-width="0.5"/>
<line x1="283.3" y1="128.3" x2="393.7" y2="128.3" stroke="#f2f2f2" stroke-width="0.5"/>
<line x1="283.3" y1="116" x2="393.7" y2="116" stroke="#f7f7f7" stroke-width="0.5"/>
<line x1="283.3" y1="103.6" x2="393.7" y2="103.6" stroke="#f2f2f2" stroke-width="0.5"/>
<line x1="283.3" y1="91.3" x2="393.7" y2="91.3" stroke="#f7f7f7" stroke-width="0.5"/>
<line x1="283.3" y1="79" x2="393.7" y2="79" stroke="#f2f2f2" stroke-width="0.5"/>
<line x1="283.3" y1="66.7" x2="393.7" y2="66.7" stroke="#f7f7f7" stroke-width="0.5"/>
<line x1="283.3" y1="54.3" x2="393.7" y2="54.3" stroke="#f2f2f2" stroke-width="0.5"/>
<line x1="283.3" y1="42" x2="393.7" y2="42" stroke="#f7f7f7" stroke-width="0.5"/>
<rect x="283.3" y="35.7" width="110.4" height="97.7" fill="none" stroke="#ececec" stroke-width="0.5"/>
<text x="289" y="141.2" font-size="6.8" text-anchor="middle" fill="#555">0</text>
<text x="281.2" y="130.7" font-size="6.8" text-anchor="end" fill="#555">0</text>
<text x="315.9" y="141.2" font-size="6.8" text-anchor="middle" fill="#555">2</text>
<text x="281.2" y="106" font-size="6.8" text-anchor="end" fill="#555">2</text>
<text x="342.7" y="141.2" font-size="6.8" text-anchor="middle" fill="#555">4</text>
<text x="281.2" y="81.4" font-size="6.8" text-anchor="end" fill="#555">4</text>
<text x="369.6" y="141.2" font-size="6.8" text-anchor="middle" fill="#555">6</text>
<text x="281.2" y="56.7" font-size="6.8" text-anchor="end" fill="#555">6</text>
<path d="M289.0 112.1L315.9 99.7L349.4 83.4L388.7 62.5L388.7 65.0L349.4 84.7L315.9 103.2L289.0 118.6Z" stroke="none" stroke-width="1" fill="#d0d0d0"/>
<path d="M371.0 59.8h1.2v1.2h-1.2zM348.5 98.7h1.2v1.2h-1.2zM375.5 64.2h1.2v1.2h-1.2zM375.1 80.1h1.2v1.2h-1.2zM359.7 85.9h1.2v1.2h-1.2zM366.3 75.9h1.2v1.2h-1.2zM367.4 70.7h1.2v1.2h-1.2zM376.6 64.6h1.2v1.2h-1.2zM346.9 60.6h1.2v1.2h-1.2zM372.4 68.4h1.2v1.2h-1.2zM354.6 67.8h1.2v1.2h-1.2zM350.1 84.6h1.2v1.2h-1.2zM360.1 68.1h1.2v1.2h-1.2zM356.4 75.0h1.2v1.2h-1.2zM347.6 83.9h1.2v1.2h-1.2zM340.7 81.9h1.2v1.2h-1.2zM348.1 79.5h1.2v1.2h-1.2zM375.5 69.3h1.2v1.2h-1.2zM378.8 65.5h1.2v1.2h-1.2zM366.3 79.2h1.2v1.2h-1.2zM372.4 79.9h1.2v1.2h-1.2zM353.0 69.7h1.2v1.2h-1.2zM358.0 93.9h1.2v1.2h-1.2zM362.1 81.5h1.2v1.2h-1.2zM346.5 63.0h1.2v1.2h-1.2zM347.6 107.4h1.2v1.2h-1.2zM360.0 82.9h1.2v1.2h-1.2zM355.2 69.7h1.2v1.2h-1.2zM346.7 96.5h1.2v1.2h-1.2zM363.3 47.4h1.2v1.2h-1.2zM355.9 103.8h1.2v1.2h-1.2zM370.5 57.6h1.2v1.2h-1.2zM358.8 59.6h1.2v1.2h-1.2zM355.5 67.2h1.2v1.2h-1.2zM360.3 77.8h1.2v1.2h-1.2zM356.9 72.7h1.2v1.2h-1.2zM351.3 87.4h1.2v1.2h-1.2zM354.3 68.7h1.2v1.2h-1.2zM367.4 85.3h1.2v1.2h-1.2zM366.3 76.7h1.2v1.2h-1.2zM373.6 61.4h1.2v1.2h-1.2zM339.6 92.9h1.2v1.2h-1.2zM354.4 80.9h1.2v1.2h-1.2zM354.2 75.5h1.2v1.2h-1.2zM360.8 89.4h1.2v1.2h-1.2zM353.7 65.1h1.2v1.2h-1.2zM353.0 73.9h1.2v1.2h-1.2zM367.8 89.3h1.2v1.2h-1.2zM360.9 75.8h1.2v1.2h-1.2zM345.6 87.7h1.2v1.2h-1.2zM374.1 78.6h1.2v1.2h-1.2zM370.3 72.0h1.2v1.2h-1.2zM352.3 85.1h1.2v1.2h-1.2zM368.4 63.2h1.2v1.2h-1.2zM350.5 85.6h1.2v1.2h-1.2zM371.7 62.1h1.2v1.2h-1.2zM356.4 77.0h1.2v1.2h-1.2zM349.7 69.4h1.2v1.2h-1.2zM354.6 82.7h1.2v1.2h-1.2zM350.1 83.6h1.2v1.2h-1.2zM361.1 87.4h1.2v1.2h-1.2zM360.9 69.3h1.2v1.2h-1.2zM359.3 66.0h1.2v1.2h-1.2zM352.5 55.4h1.2v1.2h-1.2zM317.1 73.9h1.2v1.2h-1.2zM359.9 73.0h1.2v1.2h-1.2zM337.2 84.1h1.2v1.2h-1.2zM361.7 71.1h1.2v1.2h-1.2zM371.8 72.6h1.2v1.2h-1.2zM362.0 59.7h1.2v1.2h-1.2zM354.4 67.2h1.2v1.2h-1.2zM356.8 85.2h1.2v1.2h-1.2zM357.4 83.5h1.2v1.2h-1.2zM352.6 63.3h1.2v1.2h-1.2zM352.2 74.5h1.2v1.2h-1.2zM348.3 81.2h1.2v1.2h-1.2zM372.5 59.7h1.2v1.2h-1.2zM358.7 80.0h1.2v1.2h-1.2zM369.8 75.8h1.2v1.2h-1.2zM356.0 81.5h1.2v1.2h-1.2zM359.7 96.2h1.2v1.2h-1.2zM356.9 67.4h1.2v1.2h-1.2zM364.2 87.1h1.2v1.2h-1.2zM368.3 79.3h1.2v1.2h-1.2zM361.6 82.9h1.2v1.2h-1.2zM351.2 70.4h1.2v1.2h-1.2zM350.0 79.1h1.2v1.2h-1.2zM377.8 70.5h1.2v1.2h-1.2zM355.7 94.4h1.2v1.2h-1.2zM355.6 77.7h1.2v1.2h-1.2zM375.6 86.8h1.2v1.2h-1.2zM371.3 69.3h1.2v1.2h-1.2zM365.0 70.4h1.2v1.2h-1.2zM354.3 77.3h1.2v1.2h-1.2zM379.9 47.1h1.2v1.2h-1.2zM363.4 69.1h1.2v1.2h-1.2zM365.1 67.9h1.2v1.2h-1.2zM356.9 74.9h1.2v1.2h-1.2zM342.7 82.4h1.2v1.2h-1.2zM343.7 70.0h1.2v1.2h-1.2zM363.5 63.1h1.2v1.2h-1.2zM363.4 88.3h1.2v1.2h-1.2zM356.1 65.6h1.2v1.2h-1.2zM345.5 74.2h1.2v1.2h-1.2zM342.4 70.4h1.2v1.2h-1.2zM355.1 72.0h1.2v1.2h-1.2zM342.3 93.5h1.2v1.2h-1.2zM369.1 85.4h1.2v1.2h-1.2zM372.0 53.1h1.2v1.2h-1.2zM376.3 64.4h1.2v1.2h-1.2zM368.9 88.0h1.2v1.2h-1.2zM352.1 74.1h1.2v1.2h-1.2zM348.9 82.4h1.2v1.2h-1.2zM319.5 106.1h1.2v1.2h-1.2zM352.1 101.8h1.2v1.2h-1.2zM356.9 93.2h1.2v1.2h-1.2zM369.9 70.0h1.2v1.2h-1.2zM365.9 74.5h1.2v1.2h-1.2zM365.6 76.7h1.2v1.2h-1.2zM361.3 72.2h1.2v1.2h-1.2zM366.4 67.5h1.2v1.2h-1.2zM375.4 93.4h1.2v1.2h-1.2zM346.7 82.4h1.2v1.2h-1.2zM353.7 86.0h1.2v1.2h-1.2zM343.0 93.2h1.2v1.2h-1.2zM377.4 76.5h1.2v1.2h-1.2zM373.7 73.1h1.2v1.2h-1.2zM367.5 76.3h1.2v1.2h-1.2zM345.2 94.9h1.2v1.2h-1.2zM360.9 80.4h1.2v1.2h-1.2zM356.2 55.5h1.2v1.2h-1.2zM359.8 86.7h1.2v1.2h-1.2zM356.7 94.2h1.2v1.2h-1.2zM364.8 71.4h1.2v1.2h-1.2zM354.4 70.9h1.2v1.2h-1.2zM368.6 68.3h1.2v1.2h-1.2zM361.6 86.9h1.2v1.2h-1.2zM355.5 66.4h1.2v1.2h-1.2zM357.6 84.5h1.2v1.2h-1.2zM353.9 89.2h1.2v1.2h-1.2zM368.2 79.7h1.2v1.2h-1.2zM355.8 77.9h1.2v1.2h-1.2zM362.3 67.5h1.2v1.2h-1.2zM354.4 70.6h1.2v1.2h-1.2zM341.9 80.8h1.2v1.2h-1.2zM369.2 63.3h1.2v1.2h-1.2zM346.8 78.4h1.2v1.2h-1.2zM366.6 64.4h1.2v1.2h-1.2zM363.7 89.3h1.2v1.2h-1.2zM340.0 97.6h1.2v1.2h-1.2zM348.1 70.7h1.2v1.2h-1.2zM353.0 92.1h1.2v1.2h-1.2zM349.5 81.6h1.2v1.2h-1.2zM345.4 80.6h1.2v1.2h-1.2zM367.3 78.7h1.2v1.2h-1.2zM356.2 81.4h1.2v1.2h-1.2zM363.3 60.1h1.2v1.2h-1.2zM354.0 103.8h1.2v1.2h-1.2zM362.4 65.7h1.2v1.2h-1.2zM350.3 54.2h1.2v1.2h-1.2zM358.6 75.7h1.2v1.2h-1.2zM365.5 74.3h1.2v1.2h-1.2zM359.4 68.1h1.2v1.2h-1.2zM353.7 58.2h1.2v1.2h-1.2zM346.5 91.8h1.2v1.2h-1.2zM360.8 74.4h1.2v1.2h-1.2zM362.8 76.8h1.2v1.2h-1.2zM355.9 70.8h1.2v1.2h-1.2zM350.1 76.6h1.2v1.2h-1.2zM365.1 67.3h1.2v1.2h-1.2zM374.1 72.5h1.2v1.2h-1.2zM355.4 76.3h1.2v1.2h-1.2zM362.7 81.9h1.2v1.2h-1.2zM363.2 81.7h1.2v1.2h-1.2zM329.6 85.4h1.2v1.2h-1.2zM360.3 77.0h1.2v1.2h-1.2zM350.8 90.4h1.2v1.2h-1.2zM374.7 55.1h1.2v1.2h-1.2zM356.0 78.1h1.2v1.2h-1.2zM350.0 92.8h1.2v1.2h-1.2zM356.4 65.0h1.2v1.2h-1.2zM360.8 83.2h1.2v1.2h-1.2zM352.5 72.3h1.2v1.2h-1.2zM358.3 76.2h1.2v1.2h-1.2zM343.4 77.5h1.2v1.2h-1.2zM356.3 74.8h1.2v1.2h-1.2zM367.7 79.5h1.2v1.2h-1.2zM374.5 69.3h1.2v1.2h-1.2zM367.0 52.4h1.2v1.2h-1.2zM362.0 98.5h1.2v1.2h-1.2zM372.4 71.5h1.2v1.2h-1.2zM370.5 68.1h1.2v1.2h-1.2zM377.9 81.7h1.2v1.2h-1.2zM371.2 86.9h1.2v1.2h-1.2zM357.5 53.6h1.2v1.2h-1.2zM361.8 79.0h1.2v1.2h-1.2zM360.9 53.5h1.2v1.2h-1.2zM362.3 69.3h1.2v1.2h-1.2zM361.2 74.5h1.2v1.2h-1.2zM350.0 73.4h1.2v1.2h-1.2zM334.9 75.9h1.2v1.2h-1.2zM351.2 65.6h1.2v1.2h-1.2zM335.8 77.7h1.2v1.2h-1.2zM359.7 74.2h1.2v1.2h-1.2zM358.9 74.0h1.2v1.2h-1.2zM339.8 67.0h1.2v1.2h-1.2zM366.7 65.2h1.2v1.2h-1.2zM368.8 83.7h1.2v1.2h-1.2zM360.0 82.3h1.2v1.2h-1.2zM377.9 67.2h1.2v1.2h-1.2zM380.3 76.5h1.2v1.2h-1.2zM345.1 83.6h1.2v1.2h-1.2zM370.7 82.7h1.2v1.2h-1.2zM363.9 77.3h1.2v1.2h-1.2zM363.7 70.1h1.2v1.2h-1.2zM369.6 62.5h1.2v1.2h-1.2zM350.7 78.1h1.2v1.2h-1.2zM352.1 56.0h1.2v1.2h-1.2zM349.5 79.3h1.2v1.2h-1.2zM350.3 44.8h1.2v1.2h-1.2zM357.8 65.7h1.2v1.2h-1.2zM342.3 75.3h1.2v1.2h-1.2zM346.9 84.4h1.2v1.2h-1.2zM365.5 103.7h1.2v1.2h-1.2zM358.1 77.7h1.2v1.2h-1.2zM363.3 72.8h1.2v1.2h-1.2zM337.3 61.7h1.2v1.2h-1.2zM349.9 92.8h1.2v1.2h-1.2zM352.5 57.7h1.2v1.2h-1.2zM359.3 78.4h1.2v1.2h-1.2zM352.2 70.1h1.2v1.2h-1.2zM369.5 99.6h1.2v1.2h-1.2zM358.2 74.6h1.2v1.2h-1.2zM359.1 79.4h1.2v1.2h-1.2zM359.0 68.7h1.2v1.2h-1.2zM367.0 72.7h1.2v1.2h-1.2zM353.5 89.3h1.2v1.2h-1.2zM371.7 62.4h1.2v1.2h-1.2zM364.1 67.2h1.2v1.2h-1.2zM360.6 69.2h1.2v1.2h-1.2zM359.4 65.2h1.2v1.2h-1.2zM364.8 62.7h1.2v1.2h-1.2zM370.5 72.9h1.2v1.2h-1.2zM369.7 87.2h1.2v1.2h-1.2zM363.2 89.2h1.2v1.2h-1.2zM368.9 59.0h1.2v1.2h-1.2zM360.2 68.1h1.2v1.2h-1.2zM373.2 70.9h1.2v1.2h-1.2zM358.6 80.5h1.2v1.2h-1.2zM335.2 82.1h1.2v1.2h-1.2zM374.2 71.4h1.2v1.2h-1.2zM360.1 79.1h1.2v1.2h-1.2zM345.5 86.9h1.2v1.2h-1.2zM356.6 53.8h1.2v1.2h-1.2zM348.8 76.3h1.2v1.2h-1.2zM376.4 75.6h1.2v1.2h-1.2zM364.6 88.0h1.2v1.2h-1.2zM341.0 88.4h1.2v1.2h-1.2zM365.1 66.6h1.2v1.2h-1.2zM354.3 69.2h1.2v1.2h-1.2zM377.4 72.2h1.2v1.2h-1.2zM346.9 78.7h1.2v1.2h-1.2zM333.2 86.2h1.2v1.2h-1.2zM359.6 87.3h1.2v1.2h-1.2zM354.9 63.3h1.2v1.2h-1.2zM354.1 73.3h1.2v1.2h-1.2zM334.4 56.7h1.2v1.2h-1.2zM363.8 82.5h1.2v1.2h-1.2zM378.0 72.1h1.2v1.2h-1.2zM337.1 72.6h1.2v1.2h-1.2zM372.3 74.8h1.2v1.2h-1.2zM352.4 92.2h1.2v1.2h-1.2zM373.8 78.5h1.2v1.2h-1.2zM363.9 73.5h1.2v1.2h-1.2zM356.7 72.9h1.2v1.2h-1.2zM371.5 73.4h1.2v1.2h-1.2zM364.9 63.7h1.2v1.2h-1.2zM352.1 67.4h1.2v1.2h-1.2zM367.0 70.3h1.2v1.2h-1.2zM353.1 77.2h1.2v1.2h-1.2zM338.5 84.2h1.2v1.2h-1.2zM375.9 63.7h1.2v1.2h-1.2zM354.9 67.4h1.2v1.2h-1.2zM351.9 77.2h1.2v1.2h-1.2zM362.8 70.1h1.2v1.2h-1.2zM341.1 84.2h1.2v1.2h-1.2zM343.4 94.9h1.2v1.2h-1.2zM353.2 88.0h1.2v1.2h-1.2zM353.0 69.5h1.2v1.2h-1.2zM359.7 71.0h1.2v1.2h-1.2zM371.7 55.7h1.2v1.2h-1.2zM353.5 76.8h1.2v1.2h-1.2zM364.5 65.3h1.2v1.2h-1.2zM365.8 60.1h1.2v1.2h-1.2zM346.5 68.9h1.2v1.2h-1.2zM361.5 81.6h1.2v1.2h-1.2zM348.1 80.8h1.2v1.2h-1.2zM371.0 71.2h1.2v1.2h-1.2zM364.1 84.8h1.2v1.2h-1.2zM359.1 70.9h1.2v1.2h-1.2zM343.6 69.4h1.2v1.2h-1.2zM360.2 80.6h1.2v1.2h-1.2zM350.1 57.6h1.2v1.2h-1.2zM366.9 76.7h1.2v1.2h-1.2zM357.5 78.4h1.2v1.2h-1.2zM349.6 80.9h1.2v1.2h-1.2zM369.5 80.4h1.2v1.2h-1.2zM367.1 69.2h1.2v1.2h-1.2zM352.1 77.5h1.2v1.2h-1.2zM372.2 54.8h1.2v1.2h-1.2zM355.5 70.5h1.2v1.2h-1.2zM355.4 71.2h1.2v1.2h-1.2zM360.3 77.8h1.2v1.2h-1.2zM350.3 93.1h1.2v1.2h-1.2zM353.8 78.2h1.2v1.2h-1.2zM357.1 85.3h1.2v1.2h-1.2zM376.4 61.1h1.2v1.2h-1.2zM376.0 71.5h1.2v1.2h-1.2zM355.9 59.3h1.2v1.2h-1.2zM377.3 63.1h1.2v1.2h-1.2zM358.4 67.3h1.2v1.2h-1.2zM363.2 72.3h1.2v1.2h-1.2zM369.0 70.9h1.2v1.2h-1.2zM362.2 68.1h1.2v1.2h-1.2zM374.0 58.6h1.2v1.2h-1.2zM361.7 82.6h1.2v1.2h-1.2zM345.2 74.5h1.2v1.2h-1.2zM373.8 44.3h1.2v1.2h-1.2zM354.2 78.1h1.2v1.2h-1.2zM355.4 79.5h1.2v1.2h-1.2zM324.7 92.6h1.2v1.2h-1.2zM370.3 87.9h1.2v1.2h-1.2zM368.2 60.9h1.2v1.2h-1.2zM368.0 72.7h1.2v1.2h-1.2zM370.1 69.7h1.2v1.2h-1.2zM378.2 51.2h1.2v1.2h-1.2zM358.4 49.7h1.2v1.2h-1.2zM369.6 82.3h1.2v1.2h-1.2zM350.4 67.2h1.2v1.2h-1.2zM354.8 70.5h1.2v1.2h-1.2zM371.0 68.4h1.2v1.2h-1.2zM363.4 69.6h1.2v1.2h-1.2zM343.7 80.3h1.2v1.2h-1.2zM363.0 58.1h1.2v1.2h-1.2zM356.8 70.0h1.2v1.2h-1.2zM349.5 74.8h1.2v1.2h-1.2zM363.8 61.4h1.2v1.2h-1.2zM354.3 67.7h1.2v1.2h-1.2zM341.0 76.0h1.2v1.2h-1.2zM346.2 75.9h1.2v1.2h-1.2zM379.1 51.9h1.2v1.2h-1.2zM341.6 75.3h1.2v1.2h-1.2zM361.4 76.1h1.2v1.2h-1.2zM365.9 82.9h1.2v1.2h-1.2zM366.2 77.5h1.2v1.2h-1.2zM344.9 90.7h1.2v1.2h-1.2zM355.2 75.7h1.2v1.2h-1.2zM360.5 72.7h1.2v1.2h-1.2zM368.0 94.8h1.2v1.2h-1.2zM351.5 77.7h1.2v1.2h-1.2zM345.6 72.7h1.2v1.2h-1.2zM370.3 71.0h1.2v1.2h-1.2zM371.5 82.4h1.2v1.2h-1.2zM363.1 61.4h1.2v1.2h-1.2zM351.9 85.1h1.2v1.2h-1.2zM363.5 87.5h1.2v1.2h-1.2zM360.1 86.9h1.2v1.2h-1.2zM368.4 73.4h1.2v1.2h-1.2zM344.6 69.5h1.2v1.2h-1.2zM360.2 63.3h1.2v1.2h-1.2zM357.1 74.2h1.2v1.2h-1.2zM346.2 91.9h1.2v1.2h-1.2zM361.3 82.1h1.2v1.2h-1.2zM359.3 85.2h1.2v1.2h-1.2zM354.2 79.0h1.2v1.2h-1.2zM363.4 93.2h1.2v1.2h-1.2zM342.7 79.2h1.2v1.2h-1.2zM358.3 69.3h1.2v1.2h-1.2zM363.8 76.1h1.2v1.2h-1.2zM362.1 70.2h1.2v1.2h-1.2zM371.2 82.3h1.2v1.2h-1.2zM345.2 94.9h1.2v1.2h-1.2zM341.7 87.3h1.2v1.2h-1.2zM361.6 63.0h1.2v1.2h-1.2zM364.1 63.7h1.2v1.2h-1.2zM375.8 74.0h1.2v1.2h-1.2zM365.9 61.3h1.2v1.2h-1.2zM348.9 82.0h1.2v1.2h-1.2zM368.1 57.5h1.2v1.2h-1.2zM349.2 73.5h1.2v1.2h-1.2zM341.9 85.3h1.2v1.2h-1.2zM375.7 59.3h1.2v1.2h-1.2zM362.6 83.0h1.2v1.2h-1.2zM367.0 83.4h1.2v1.2h-1.2zM365.3 89.3h1.2v1.2h-1.2zM379.6 67.5h1.2v1.2h-1.2zM362.1 75.6h1.2v1.2h-1.2zM372.8 72.9h1.2v1.2h-1.2zM347.2 83.4h1.2v1.2h-1.2zM343.0 65.2h1.2v1.2h-1.2zM375.2 75.8h1.2v1.2h-1.2zM375.7 78.8h1.2v1.2h-1.2zM364.7 61.2h1.2v1.2h-1.2zM361.5 60.3h1.2v1.2h-1.2zM360.8 71.8h1.2v1.2h-1.2zM351.0 96.3h1.2v1.2h-1.2zM376.5 77.3h1.2v1.2h-1.2zM366.4 67.4h1.2v1.2h-1.2zM364.7 74.1h1.2v1.2h-1.2zM363.2 58.4h1.2v1.2h-1.2zM370.8 86.9h1.2v1.2h-1.2zM364.7 67.2h1.2v1.2h-1.2zM367.4 80.1h1.2v1.2h-1.2zM345.5 65.7h1.2v1.2h-1.2zM364.7 75.1h1.2v1.2h-1.2zM375.7 58.2h1.2v1.2h-1.2zM353.0 84.3h1.2v1.2h-1.2zM357.4 91.1h1.2v1.2h-1.2zM369.1 84.7h1.2v1.2h-1.2zM369.8 79.2h1.2v1.2h-1.2zM366.0 84.7h1.2v1.2h-1.2zM340.4 68.4h1.2v1.2h-1.2zM364.6 60.3h1.2v1.2h-1.2zM345.4 76.8h1.2v1.2h-1.2zM349.5 89.3h1.2v1.2h-1.2zM365.1 75.4h1.2v1.2h-1.2zM355.5 84.0h1.2v1.2h-1.2zM368.1 58.1h1.2v1.2h-1.2zM379.5 62.7h1.2v1.2h-1.2zM367.8 68.3h1.2v1.2h-1.2zM367.1 77.8h1.2v1.2h-1.2zM348.7 99.8h1.2v1.2h-1.2zM351.5 86.0h1.2v1.2h-1.2zM346.7 90.9h1.2v1.2h-1.2zM352.8 73.7h1.2v1.2h-1.2zM346.4 78.3h1.2v1.2h-1.2zM351.4 86.4h1.2v1.2h-1.2zM356.5 80.6h1.2v1.2h-1.2zM347.5 62.6h1.2v1.2h-1.2zM342.7 90.4h1.2v1.2h-1.2zM343.3 89.8h1.2v1.2h-1.2zM364.1 76.9h1.2v1.2h-1.2zM359.6 83.0h1.2v1.2h-1.2zM370.6 77.2h1.2v1.2h-1.2zM370.8 67.0h1.2v1.2h-1.2zM355.0 58.8h1.2v1.2h-1.2zM366.5 92.4h1.2v1.2h-1.2zM342.4 80.6h1.2v1.2h-1.2zM378.7 68.3h1.2v1.2h-1.2zM372.5 73.0h1.2v1.2h-1.2zM356.4 78.5h1.2v1.2h-1.2zM345.6 83.1h1.2v1.2h-1.2zM363.2 64.2h1.2v1.2h-1.2zM337.5 86.6h1.2v1.2h-1.2zM350.0 79.7h1.2v1.2h-1.2zM367.4 73.5h1.2v1.2h-1.2zM359.7 74.5h1.2v1.2h-1.2zM353.3 79.2h1.2v1.2h-1.2zM369.7 62.4h1.2v1.2h-1.2zM347.0 79.3h1.2v1.2h-1.2zM362.1 73.2h1.2v1.2h-1.2zM353.2 78.0h1.2v1.2h-1.2zM349.2 89.1h1.2v1.2h-1.2zM364.2 83.1h1.2v1.2h-1.2zM347.6 90.0h1.2v1.2h-1.2zM379.9 67.9h1.2v1.2h-1.2zM352.2 85.2h1.2v1.2h-1.2zM374.1 80.8h1.2v1.2h-1.2zM346.4 76.8h1.2v1.2h-1.2zM365.8 68.5h1.2v1.2h-1.2zM345.2 98.1h1.2v1.2h-1.2zM343.6 62.4h1.2v1.2h-1.2zM360.7 75.1h1.2v1.2h-1.2zM366.6 74.9h1.2v1.2h-1.2zM344.3 68.7h1.2v1.2h-1.2zM372.4 71.4h1.2v1.2h-1.2zM349.8 84.7h1.2v1.2h-1.2zM360.4 52.5h1.2v1.2h-1.2zM363.2 86.0h1.2v1.2h-1.2zM365.7 75.0h1.2v1.2h-1.2zM338.4 72.7h1.2v1.2h-1.2zM377.4 82.0h1.2v1.2h-1.2zM365.3 75.2h1.2v1.2h-1.2zM354.0 73.2h1.2v1.2h-1.2zM347.2 53.9h1.2v1.2h-1.2zM339.5 90.6h1.2v1.2h-1.2zM343.3 80.7h1.2v1.2h-1.2zM365.1 67.3h1.2v1.2h-1.2zM355.0 76.1h1.2v1.2h-1.2zM346.0 92.1h1.2v1.2h-1.2zM352.9 73.3h1.2v1.2h-1.2zM376.7 69.8h1.2v1.2h-1.2zM355.1 72.3h1.2v1.2h-1.2zM352.2 65.9h1.2v1.2h-1.2zM374.3 61.0h1.2v1.2h-1.2zM364.2 70.2h1.2v1.2h-1.2zM359.4 72.5h1.2v1.2h-1.2zM351.9 89.3h1.2v1.2h-1.2zM341.2 82.2h1.2v1.2h-1.2zM345.5 77.3h1.2v1.2h-1.2zM353.4 81.6h1.2v1.2h-1.2zM356.4 75.6h1.2v1.2h-1.2zM363.0 83.4h1.2v1.2h-1.2zM365.2 58.1h1.2v1.2h-1.2zM361.4 52.6h1.2v1.2h-1.2zM361.4 79.3h1.2v1.2h-1.2zM347.4 74.9h1.2v1.2h-1.2zM334.3 85.1h1.2v1.2h-1.2zM352.9 64.3h1.2v1.2h-1.2zM348.0 74.3h1.2v1.2h-1.2zM351.4 77.1h1.2v1.2h-1.2zM355.8 79.1h1.2v1.2h-1.2zM344.7 78.5h1.2v1.2h-1.2zM346.2 89.9h1.2v1.2h-1.2zM357.7 69.1h1.2v1.2h-1.2zM360.2 83.0h1.2v1.2h-1.2zM351.4 72.4h1.2v1.2h-1.2zM364.6 73.0h1.2v1.2h-1.2zM356.4 65.1h1.2v1.2h-1.2zM347.2 79.3h1.2v1.2h-1.2zM359.4 65.0h1.2v1.2h-1.2zM373.7 79.6h1.2v1.2h-1.2zM351.2 71.6h1.2v1.2h-1.2zM372.2 74.6h1.2v1.2h-1.2zM374.6 69.5h1.2v1.2h-1.2zM376.0 70.4h1.2v1.2h-1.2zM349.5 68.7h1.2v1.2h-1.2zM376.3 90.7h1.2v1.2h-1.2zM360.2 72.1h1.2v1.2h-1.2zM356.0 92.4h1.2v1.2h-1.2zM356.3 64.0h1.2v1.2h-1.2zM365.8 94.7h1.2v1.2h-1.2zM359.5 86.3h1.2v1.2h-1.2zM356.9 94.0h1.2v1.2h-1.2zM373.5 54.7h1.2v1.2h-1.2zM350.6 91.7h1.2v1.2h-1.2zM347.0 78.0h1.2v1.2h-1.2zM367.9 79.0h1.2v1.2h-1.2zM366.9 92.5h1.2v1.2h-1.2zM371.4 76.0h1.2v1.2h-1.2zM346.6 72.3h1.2v1.2h-1.2zM371.2 74.4h1.2v1.2h-1.2zM364.4 64.5h1.2v1.2h-1.2zM379.0 74.1h1.2v1.2h-1.2zM344.6 79.7h1.2v1.2h-1.2zM361.4 79.2h1.2v1.2h-1.2zM355.7 73.2h1.2v1.2h-1.2zM340.7 61.0h1.2v1.2h-1.2zM350.7 74.3h1.2v1.2h-1.2zM371.8 70.3h1.2v1.2h-1.2zM353.5 83.8h1.2v1.2h-1.2zM350.6 86.1h1.2v1.2h-1.2zM368.8 57.8h1.2v1.2h-1.2zM370.2 84.4h1.2v1.2h-1.2zM370.2 82.4h1.2v1.2h-1.2zM349.9 79.4h1.2v1.2h-1.2zM358.2 80.5h1.2v1.2h-1.2zM370.7 52.2h1.2v1.2h-1.2zM351.4 102.8h1.2v1.2h-1.2zM350.3 74.5h1.2v1.2h-1.2zM368.3 65.8h1.2v1.2h-1.2zM376.7 82.7h1.2v1.2h-1.2zM345.7 86.3h1.2v1.2h-1.2zM329.2 79.5h1.2v1.2h-1.2zM342.3 63.4h1.2v1.2h-1.2zM347.3 88.7h1.2v1.2h-1.2zM357.3 92.9h1.2v1.2h-1.2zM365.9 63.8h1.2v1.2h-1.2zM357.2 60.4h1.2v1.2h-1.2zM350.9 81.6h1.2v1.2h-1.2zM360.6 98.6h1.2v1.2h-1.2zM347.9 63.7h1.2v1.2h-1.2zM358.4 78.1h1.2v1.2h-1.2zM351.6 66.1h1.2v1.2h-1.2zM379.3 67.9h1.2v1.2h-1.2zM368.2 77.3h1.2v1.2h-1.2zM349.4 83.3h1.2v1.2h-1.2zM347.5 63.6h1.2v1.2h-1.2zM353.9 62.2h1.2v1.2h-1.2zM340.1 103.5h1.2v1.2h-1.2zM350.5 88.0h1.2v1.2h-1.2zM350.5 59.6h1.2v1.2h-1.2zM369.0 77.0h1.2v1.2h-1.2zM354.0 91.5h1.2v1.2h-1.2zM349.9 78.3h1.2v1.2h-1.2zM343.6 81.2h1.2v1.2h-1.2zM345.5 80.6h1.2v1.2h-1.2zM358.1 81.1h1.2v1.2h-1.2zM356.4 79.8h1.2v1.2h-1.2zM371.8 77.1h1.2v1.2h-1.2zM351.7 74.4h1.2v1.2h-1.2zM371.0 81.1h1.2v1.2h-1.2zM361.8 78.1h1.2v1.2h-1.2zM358.8 77.4h1.2v1.2h-1.2zM336.0 68.5h1.2v1.2h-1.2zM344.2 76.0h1.2v1.2h-1.2zM367.4 74.7h1.2v1.2h-1.2zM374.8 65.9h1.2v1.2h-1.2zM361.2 71.0h1.2v1.2h-1.2zM367.6 62.1h1.2v1.2h-1.2zM354.2 71.9h1.2v1.2h-1.2zM354.6 58.3h1.2v1.2h-1.2zM351.3 63.9h1.2v1.2h-1.2zM370.0 73.3h1.2v1.2h-1.2zM362.8 79.2h1.2v1.2h-1.2zM356.2 67.4h1.2v1.2h-1.2zM355.1 71.5h1.2v1.2h-1.2zM365.2 75.1h1.2v1.2h-1.2zM362.6 90.4h1.2v1.2h-1.2zM349.4 97.7h1.2v1.2h-1.2zM378.5 66.8h1.2v1.2h-1.2zM361.8 67.0h1.2v1.2h-1.2zM359.0 67.4h1.2v1.2h-1.2zM375.8 84.7h1.2v1.2h-1.2zM370.6 61.8h1.2v1.2h-1.2zM357.9 81.8h1.2v1.2h-1.2zM365.0 70.1h1.2v1.2h-1.2zM346.7 74.9h1.2v1.2h-1.2zM351.6 86.3h1.2v1.2h-1.2zM333.1 89.2h1.2v1.2h-1.2zM309.5 109.7h1.2v1.2h-1.2zM322.5 95.2h1.2v1.2h-1.2zM320.2 101.2h1.2v1.2h-1.2zM312.4 110.1h1.2v1.2h-1.2zM308.1 79.9h1.2v1.2h-1.2zM330.6 95.6h1.2v1.2h-1.2zM336.4 97.9h1.2v1.2h-1.2zM307.0 114.2h1.2v1.2h-1.2zM317.0 100.5h1.2v1.2h-1.2zM316.6 100.4h1.2v1.2h-1.2zM326.3 91.5h1.2v1.2h-1.2zM328.9 95.9h1.2v1.2h-1.2zM321.0 114.9h1.2v1.2h-1.2zM339.4 86.3h1.2v1.2h-1.2zM320.2 105.0h1.2v1.2h-1.2zM316.7 106.8h1.2v1.2h-1.2zM335.4 107.2h1.2v1.2h-1.2zM338.4 97.1h1.2v1.2h-1.2zM339.8 97.7h1.2v1.2h-1.2zM311.3 107.6h1.2v1.2h-1.2zM312.4 120.0h1.2v1.2h-1.2zM323.1 100.0h1.2v1.2h-1.2zM343.5 87.8h1.2v1.2h-1.2zM329.5 107.2h1.2v1.2h-1.2zM329.6 102.6h1.2v1.2h-1.2zM317.7 111.5h1.2v1.2h-1.2zM344.4 80.0h1.2v1.2h-1.2zM311.9 123.4h1.2v1.2h-1.2zM327.0 101.5h1.2v1.2h-1.2zM331.7 111.0h1.2v1.2h-1.2zM337.1 96.5h1.2v1.2h-1.2zM337.3 84.6h1.2v1.2h-1.2zM320.1 108.1h1.2v1.2h-1.2zM315.4 103.6h1.2v1.2h-1.2zM344.0 96.5h1.2v1.2h-1.2zM326.8 80.5h1.2v1.2h-1.2zM315.9 96.2h1.2v1.2h-1.2zM310.1 97.5h1.2v1.2h-1.2zM336.9 105.0h1.2v1.2h-1.2zM338.7 101.8h1.2v1.2h-1.2zM327.5 88.1h1.2v1.2h-1.2zM320.0 104.1h1.2v1.2h-1.2zM331.1 98.4h1.2v1.2h-1.2zM344.0 85.5h1.2v1.2h-1.2zM327.8 109.5h1.2v1.2h-1.2zM336.2 85.9h1.2v1.2h-1.2zM340.0 90.7h1.2v1.2h-1.2zM335.0 89.3h1.2v1.2h-1.2zM324.1 106.2h1.2v1.2h-1.2zM311.7 102.3h1.2v1.2h-1.2zM332.6 101.7h1.2v1.2h-1.2zM338.0 83.2h1.2v1.2h-1.2zM343.3 78.6h1.2v1.2h-1.2zM310.6 99.2h1.2v1.2h-1.2zM309.1 103.7h1.2v1.2h-1.2zM330.1 90.7h1.2v1.2h-1.2zM337.8 117.2h1.2v1.2h-1.2zM307.6 101.6h1.2v1.2h-1.2zM329.2 99.6h1.2v1.2h-1.2zM315.2 104.1h1.2v1.2h-1.2zM344.8 90.8h1.2v1.2h-1.2zM319.1 115.7h1.2v1.2h-1.2zM307.8 114.2h1.2v1.2h-1.2zM336.0 87.1h1.2v1.2h-1.2zM316.6 91.1h1.2v1.2h-1.2zM321.4 107.3h1.2v1.2h-1.2zM309.8 116.5h1.2v1.2h-1.2zM317.8 90.1h1.2v1.2h-1.2zM309.9 116.2h1.2v1.2h-1.2zM314.9 86.0h1.2v1.2h-1.2zM327.8 97.4h1.2v1.2h-1.2zM316.5 112.4h1.2v1.2h-1.2zM331.4 86.7h1.2v1.2h-1.2zM340.8 74.8h1.2v1.2h-1.2zM327.7 111.2h1.2v1.2h-1.2zM305.7 96.0h1.2v1.2h-1.2zM343.2 91.7h1.2v1.2h-1.2zM312.5 92.8h1.2v1.2h-1.2zM318.4 106.7h1.2v1.2h-1.2zM325.7 113.6h1.2v1.2h-1.2zM329.4 92.3h1.2v1.2h-1.2zM318.3 94.7h1.2v1.2h-1.2zM322.2 81.6h1.2v1.2h-1.2zM329.8 80.8h1.2v1.2h-1.2zM322.9 94.2h1.2v1.2h-1.2zM354.2 40.8h1.2v1.2h-1.2zM336.7 46.3h1.2v1.2h-1.2zM387.8 47.5h1.2v1.2h-1.2zM374.3 42.6h1.2v1.2h-1.2zM370.3 46.3h1.2v1.2h-1.2zM367.6 43.8h1.2v1.2h-1.2zM381.0 57.4h1.2v1.2h-1.2z" fill="#000"/>
<rect x="288.2" y="127.6" width="2.2" height="1.4" fill="#000"/>
<line x1="289" y1="115.4" x2="388.7" y2="63.8" stroke="#3d6ee8" stroke-width="0.9"/>
<text x="291.8" y="54.7" font-size="7.9">R<tspan font-size="5.2" dy="-3.2">2</tspan><tspan dy="3.2">= 0.588</tspan></text>
<text x="331.4" y="152.8" font-size="8.6" text-anchor="middle" font-style="italic" fill="#222">PRMT5</text>
<text transform="translate(272,90) rotate(-90)" font-size="8.6" text-anchor="middle" font-style="italic" fill="#222">MSI2</text>
<text x="535.1" y="11.9" font-size="9.7" text-anchor="middle">MSI2 and PRMT5&#160; in lymphoma primary</text>
<text x="535.2" y="22.9" font-size="9.7" text-anchor="middle">samples and cell lines</text>
<text transform="translate(438.2,71.4) rotate(-90)" font-size="6.8">CD19</text>
<text transform="translate(493.1,71.4) rotate(-90)" font-size="6.8">Z-138</text>
<text transform="translate(504.3,71.4) rotate(-90)" font-size="6.8">MAVER-1</text>
<text transform="translate(517.7,71.4) rotate(-90)" font-size="6.8">MINO</text>
<text transform="translate(530.1,71.4) rotate(-90)" font-size="6.8">REC-1</text>
<text transform="translate(610.8,71.4) rotate(-90)" font-size="6.8">SUDHL-6</text>
<text transform="translate(623.4,71.4) rotate(-90)" font-size="6.8">OCI-LY19</text>
<text transform="translate(636.5,71.4) rotate(-90)" font-size="6.8">SUDHL-4</text>
<text transform="translate(649.6,71.4) rotate(-90)" font-size="6.8">HBL-1</text>
<text transform="translate(449.1,60.2) rotate(-90)" font-size="6.8">De novo</text>
<text transform="translate(457.4,60.2) rotate(-90)" font-size="6.8">MCL</text>
<text transform="translate(472.1,60.2) rotate(-90)" font-size="6.8">Relapse</text>
<text transform="translate(479.7,60.2) rotate(-90)" font-size="6.8">MCL</text>
<text transform="translate(546.3,60.2) rotate(-90)" font-size="6.8">De novo</text>
<text transform="translate(554.6,60.2) rotate(-90)" font-size="6.8">DLBCL</text>
<text transform="translate(580.6,60.2) rotate(-90)" font-size="6.8">Relapse</text>
<text transform="translate(588.9,60.2) rotate(-90)" font-size="6.8">DLBCL</text>
<line x1="445.4" y1="64.5" x2="459.8" y2="64.5" stroke="#999" stroke-width="0.6"/>
<line x1="467" y1="64.5" x2="481.5" y2="64.5" stroke="#999" stroke-width="0.6"/>
<line x1="538.2" y1="64.5" x2="562.6" y2="64.5" stroke="#999" stroke-width="0.6"/>
<line x1="575" y1="64.5" x2="596.7" y2="64.5" stroke="#999" stroke-width="0.6"/>
<text x="444.4" y="72" font-size="7" text-anchor="middle">1</text>
<text x="457.4" y="72" font-size="7" text-anchor="middle">2</text>
<text x="467" y="72" font-size="7" text-anchor="middle">1</text>
<text x="480.2" y="72" font-size="7" text-anchor="middle">2</text>
<text x="539.6" y="72" font-size="7" text-anchor="middle">1</text>
<text x="550.9" y="72" font-size="7" text-anchor="middle">2</text>
<text x="562.9" y="72" font-size="7" text-anchor="middle">3</text>
<text x="574" y="72" font-size="7" text-anchor="middle">1</text>
<text x="585.3" y="72" font-size="7" text-anchor="middle">2</text>
<text x="596.8" y="72" font-size="7" text-anchor="middle">3</text>
<rect x="428.3" y="75.3" width="228" height="15.8" fill="#efefef" stroke="#858585" stroke-width="0.8"/>
<rect x="428.3" y="105.1" width="228" height="16.5" fill="#efefef" stroke="#858585" stroke-width="0.8"/>
<rect x="428.3" y="132.9" width="228" height="17.4" fill="#ebebeb" stroke="#858585" stroke-width="0.8"/>
<g filter="url(#bl5)">
<rect x="429.2" y="83.4" width="10.0" height="1.8" rx="0.6" fill="#000" opacity="0.53"/>
<rect x="440.6" y="83.4" width="10.0" height="1.9" rx="0.6" fill="#000" opacity="0.63"/>
<rect x="451.8" y="83.4" width="10.0" height="1.9" rx="0.6" fill="#000" opacity="0.58"/>
<rect x="462.5" y="83.4" width="10.0" height="2.2" rx="0.6" fill="#000" opacity="0.97"/>
<rect x="474.6" y="83.4" width="10.0" height="2.2" rx="0.6" fill="#000" opacity="0.95"/>
<rect x="487.2" y="83.4" width="10.0" height="2.2" rx="0.6" fill="#000" opacity="0.92"/>
<rect x="498.8" y="83.4" width="10.0" height="2.1" rx="0.6" fill="#000" opacity="0.89"/>
<rect x="511.0" y="83.4" width="10.0" height="2.1" rx="0.6" fill="#000" opacity="0.84"/>
<rect x="523.0" y="83.4" width="10.0" height="2.1" rx="0.6" fill="#000" opacity="0.84"/>
<rect x="535.4" y="83.4" width="10.0" height="1.5" rx="0.6" fill="#000" opacity="0.19"/>
<rect x="546.5" y="83.4" width="10.0" height="1.4" rx="0.6" fill="#000" opacity="0.16"/>
<rect x="558.5" y="83.4" width="10.0" height="2.0" rx="0.6" fill="#000" opacity="0.73"/>
<rect x="571.5" y="83.4" width="10.0" height="2.0" rx="0.6" fill="#000" opacity="0.76"/>
<rect x="584.0" y="83.4" width="10.0" height="2.1" rx="0.6" fill="#000" opacity="0.86"/>
<rect x="595.8" y="83.4" width="10.0" height="2.2" rx="0.6" fill="#000" opacity="0.92"/>
<rect x="607.5" y="83.4" width="10.0" height="2.2" rx="0.6" fill="#000" opacity="0.97"/>
<rect x="619.5" y="83.4" width="10.0" height="2.2" rx="0.6" fill="#000" opacity="1.00"/>
<rect x="631.3" y="83.4" width="10.0" height="2.2" rx="0.6" fill="#000" opacity="1.00"/>
<rect x="643.1" y="83.4" width="10.0" height="2.3" rx="0.6" fill="#000" opacity="1.00"/>
<rect x="440.6" y="79.4" width="10" height="1.1" fill="#000" opacity="0.22"/>
<rect x="440.6" y="81.2" width="10" height="1.1" fill="#000" opacity="0.22"/>
<rect x="558.5" y="86.8" width="10" height="2.5" fill="#000" opacity="0.07"/>
<rect x="571.5" y="86.8" width="10" height="2.5" fill="#000" opacity="0.07"/>
<rect x="584.0" y="86.8" width="10" height="2.5" fill="#000" opacity="0.07"/>
<rect x="595.8" y="86.8" width="10" height="2.5" fill="#000" opacity="0.07"/>
<rect x="607.5" y="86.8" width="10" height="2.5" fill="#000" opacity="0.07"/>
<rect x="619.5" y="86.8" width="10" height="2.5" fill="#000" opacity="0.07"/>
<rect x="631.3" y="86.8" width="10" height="2.5" fill="#000" opacity="0.07"/>
<rect x="643.1" y="86.8" width="10" height="2.5" fill="#000" opacity="0.07"/>
<rect x="429.6" y="109.7" width="9.2" height="1.6" fill="#000" opacity="0.65"/>
<rect x="429.6" y="112.9" width="9.2" height="1.7" fill="#000" opacity="0.75"/>
<rect x="441.0" y="112" width="9.2" height="2" rx="0.8" fill="#000" opacity="0.03"/>
<rect x="441.0" y="115.1" width="9.2" height="2.6" rx="1" fill="#000" opacity="0.03"/>
<rect x="452.2" y="112" width="9.2" height="2" rx="0.8" fill="#000" opacity="0.4"/>
<rect x="452.2" y="115.1" width="9.2" height="2.6" rx="1" fill="#000" opacity="0.8"/>
<rect x="462.9" y="112" width="9.2" height="2" rx="0.8" fill="#000" opacity="0.95"/>
<rect x="462.9" y="115.1" width="9.2" height="2.6" rx="1" fill="#000" opacity="1"/>
<rect x="474.7" y="111.4" width="9.8" height="6.4" rx="1.5" fill="#000"/>
<rect x="487.6" y="112" width="9.2" height="2" rx="0.8" fill="#000" opacity="0.92"/>
<rect x="487.6" y="115.1" width="9.2" height="2.6" rx="1" fill="#000" opacity="1"/>
<rect x="499.2" y="112" width="9.2" height="2" rx="0.8" fill="#000" opacity="0.92"/>
<rect x="499.2" y="115.1" width="9.2" height="2.6" rx="1" fill="#000" opacity="1"/>
<rect x="511.4" y="112" width="9.2" height="2" rx="0.8" fill="#000" opacity="0.92"/>
<rect x="511.4" y="115.1" width="9.2" height="2.6" rx="1" fill="#000" opacity="1"/>
<rect x="523.4" y="112" width="9.2" height="2" rx="0.8" fill="#000" opacity="0.9"/>
<rect x="523.4" y="115.1" width="9.2" height="2.6" rx="1" fill="#000" opacity="1"/>
<rect x="535.8" y="112" width="9.2" height="2" rx="0.8" fill="#000" opacity="0.3"/>
<rect x="535.8" y="115.1" width="9.2" height="2.6" rx="1" fill="#000" opacity="0.5"/>
<rect x="546.9" y="112" width="9.2" height="2" rx="0.8" fill="#000" opacity="0.02"/>
<rect x="546.9" y="115.1" width="9.2" height="2.6" rx="1" fill="#000" opacity="0.02"/>
<rect x="558.9" y="112" width="9.2" height="2" rx="0.8" fill="#000" opacity="0.02"/>
<rect x="558.9" y="115.1" width="9.2" height="2.6" rx="1" fill="#000" opacity="0.02"/>
<rect x="571.6" y="111.4" width="9.8" height="6.4" rx="1.5" fill="#000"/>
<rect x="584.4" y="112" width="9.2" height="2" rx="0.8" fill="#000" opacity="0.3"/>
<rect x="584.4" y="115.1" width="9.2" height="2.6" rx="1" fill="#000" opacity="0.4"/>
<rect x="596.2" y="112" width="9.2" height="2" rx="0.8" fill="#000" opacity="0.45"/>
<rect x="596.2" y="115.1" width="9.2" height="2.6" rx="1" fill="#000" opacity="0.7"/>
<rect x="607.9" y="112" width="9.2" height="2" rx="0.8" fill="#000" opacity="0.9"/>
<rect x="607.9" y="115.1" width="9.2" height="2.6" rx="1" fill="#000" opacity="1"/>
<rect x="619.9" y="112" width="9.2" height="2" rx="0.8" fill="#000" opacity="0.92"/>
<rect x="619.9" y="115.1" width="9.2" height="2.6" rx="1" fill="#000" opacity="1"/>
<rect x="631.7" y="112" width="9.2" height="2" rx="0.8" fill="#000" opacity="0.85"/>
<rect x="631.7" y="115.1" width="9.2" height="2.6" rx="1" fill="#000" opacity="1"/>
<rect x="643.5" y="112" width="9.2" height="2" rx="0.8" fill="#000" opacity="1"/>
<rect x="643.5" y="115.1" width="9.2" height="2.6" rx="1" fill="#000" opacity="1"/>
<ellipse cx="577.7" cy="113.8" rx="2.3" ry="1.3" fill="#fff" opacity="0.85"/>
<ellipse cx="540.4" cy="113" rx="2.8" ry="2" fill="#fff" opacity="0.9"/>
<rect x="428.6" y="141.6" width="11.2" height="2.6" rx="1" fill="#000" opacity="0.95"/>
<rect x="428.6" y="144.2" width="11.2" height="4.2" fill="#000" opacity="0.28"/>
<rect x="440.0" y="141.6" width="11.2" height="2.6" rx="1" fill="#000" opacity="0.80"/>
<rect x="440.0" y="144.2" width="11.2" height="4.2" fill="#000" opacity="0.24"/>
<rect x="451.2" y="141.6" width="11.2" height="2.6" rx="1" fill="#000" opacity="0.75"/>
<rect x="451.2" y="144.2" width="11.2" height="4.2" fill="#000" opacity="0.22"/>
<rect x="461.9" y="141.6" width="11.2" height="2.6" rx="1" fill="#000" opacity="0.60"/>
<rect x="461.9" y="144.2" width="11.2" height="4.2" fill="#000" opacity="0.18"/>
<rect x="474.0" y="141.6" width="11.2" height="2.6" rx="1" fill="#000" opacity="0.55"/>
<rect x="474.0" y="144.2" width="11.2" height="4.2" fill="#000" opacity="0.17"/>
<rect x="486.6" y="141.6" width="11.2" height="2.6" rx="1" fill="#000" opacity="0.70"/>
<rect x="486.6" y="144.2" width="11.2" height="4.2" fill="#000" opacity="0.21"/>
<rect x="498.2" y="141.6" width="11.2" height="2.6" rx="1" fill="#000" opacity="0.90"/>
<rect x="498.2" y="144.2" width="11.2" height="4.2" fill="#000" opacity="0.27"/>
<rect x="510.4" y="141.6" width="11.2" height="2.6" rx="1" fill="#000" opacity="0.90"/>
<rect x="510.4" y="144.2" width="11.2" height="4.2" fill="#000" opacity="0.27"/>
<rect x="522.4" y="141.6" width="11.2" height="2.6" rx="1" fill="#000" opacity="0.88"/>
<rect x="522.4" y="144.2" width="11.2" height="4.2" fill="#000" opacity="0.26"/>
<rect x="534.8" y="141.6" width="11.2" height="2.6" rx="1" fill="#000" opacity="0.90"/>
<rect x="534.8" y="144.2" width="11.2" height="4.2" fill="#000" opacity="0.27"/>
<rect x="545.9" y="141.6" width="11.2" height="2.6" rx="1" fill="#000" opacity="0.70"/>
<rect x="545.9" y="144.2" width="11.2" height="4.2" fill="#000" opacity="0.21"/>
<rect x="557.9" y="141.6" width="11.2" height="2.6" rx="1" fill="#000" opacity="0.85"/>
<rect x="557.9" y="144.2" width="11.2" height="4.2" fill="#000" opacity="0.26"/>
<rect x="570.9" y="141.6" width="11.2" height="2.6" rx="1" fill="#000" opacity="0.80"/>
<rect x="570.9" y="144.2" width="11.2" height="4.2" fill="#000" opacity="0.24"/>
<rect x="583.4" y="141.6" width="11.2" height="2.6" rx="1" fill="#000" opacity="0.65"/>
<rect x="583.4" y="144.2" width="11.2" height="4.2" fill="#000" opacity="0.20"/>
<rect x="595.2" y="141.6" width="11.2" height="2.6" rx="1" fill="#000" opacity="0.75"/>
<rect x="595.2" y="144.2" width="11.2" height="4.2" fill="#000" opacity="0.22"/>
<rect x="606.9" y="141.6" width="11.2" height="2.6" rx="1" fill="#000" opacity="0.80"/>
<rect x="606.9" y="144.2" width="11.2" height="4.2" fill="#000" opacity="0.24"/>
<rect x="618.9" y="141.6" width="11.2" height="2.6" rx="1" fill="#000" opacity="1.00"/>
<rect x="618.9" y="144.2" width="11.2" height="4.2" fill="#000" opacity="0.30"/>
<rect x="630.7" y="141.6" width="11.2" height="2.6" rx="1" fill="#000" opacity="0.95"/>
<rect x="630.7" y="144.2" width="11.2" height="4.2" fill="#000" opacity="0.28"/>
<rect x="642.5" y="141.6" width="11.2" height="2.6" rx="1" fill="#000" opacity="0.90"/>
<rect x="642.5" y="144.2" width="11.2" height="4.2" fill="#000" opacity="0.27"/>
</g>
<text transform="translate(434.0,97.6) scale(0.86,1)" font-size="6.2" text-anchor="middle" fill="#111">1.15</text>
<text transform="translate(445.8,97.6) scale(0.86,1)" font-size="6.2" text-anchor="middle" fill="#111">2.9</text>
<text transform="translate(457.8,97.6) scale(0.86,1)" font-size="6.2" text-anchor="middle" fill="#111">2.2</text>
<text transform="translate(467.2,97.6) scale(0.86,1)" font-size="6.2" text-anchor="middle" fill="#111">4.7</text>
<text transform="translate(479.5,97.6) scale(0.86,1)" font-size="6.2" text-anchor="middle" fill="#111">4.4</text>
<text transform="translate(493.1,97.6) scale(0.86,1)" font-size="6.2" text-anchor="middle" fill="#111">4..6</text>
<text transform="translate(504.8,97.6) scale(0.86,1)" font-size="6.2" text-anchor="middle" fill="#111">4.3</text>
<text transform="translate(515.9,97.6) scale(0.86,1)" font-size="6.2" text-anchor="middle" fill="#111">4.2</text>
<text transform="translate(526.4,97.6) scale(0.86,1)" font-size="6.2" text-anchor="middle" fill="#111">4.4</text>
<text transform="translate(539.6,97.6) scale(0.86,1)" font-size="6.2" text-anchor="middle" fill="#111">1.04</text>
<text transform="translate(551.4,97.6) scale(0.86,1)" font-size="6.2" text-anchor="middle" fill="#111">1.02</text>
<text transform="translate(563.2,97.6) scale(0.86,1)" font-size="6.2" text-anchor="middle" fill="#111">4.02</text>
<text transform="translate(574.4,97.6) scale(0.86,1)" font-size="6.2" text-anchor="middle" fill="#111">4.2</text>
<text transform="translate(585.5,97.6) scale(0.86,1)" font-size="6.2" text-anchor="middle" fill="#111">4.5</text>
<text transform="translate(597.4,97.6) scale(0.86,1)" font-size="6.2" text-anchor="middle" fill="#111">4.9</text>
<text transform="translate(611.1,97.6) scale(0.86,1)" font-size="6.2" text-anchor="middle" fill="#111">4.9</text>
<text transform="translate(623.5,97.6) scale(0.86,1)" font-size="6.2" text-anchor="middle" fill="#111">4.9</text>
<text transform="translate(635.0,97.6) scale(0.86,1)" font-size="6.2" text-anchor="middle" fill="#111">4.2</text>
<text transform="translate(648.3,97.6) scale(0.86,1)" font-size="6.2" text-anchor="middle" fill="#111">5.6</text>
<text transform="translate(434.0,127.6) scale(0.86,1)" font-size="6.2" text-anchor="middle" fill="#111">1.09</text>
<text transform="translate(445.8,127.6) scale(0.86,1)" font-size="6.2" text-anchor="middle" fill="#111">0.08</text>
<text transform="translate(457.8,127.6) scale(0.86,1)" font-size="6.2" text-anchor="middle" fill="#111">2.8</text>
<text transform="translate(467.2,127.6) scale(0.86,1)" font-size="6.2" text-anchor="middle" fill="#111">4.7</text>
<text transform="translate(479.5,127.6) scale(0.86,1)" font-size="6.2" text-anchor="middle" fill="#111">7.29</text>
<text transform="translate(493.1,127.6) scale(0.86,1)" font-size="6.2" text-anchor="middle" fill="#111">4..6</text>
<text transform="translate(504.8,127.6) scale(0.86,1)" font-size="6.2" text-anchor="middle" fill="#111">4.3</text>
<text transform="translate(515.9,127.6) scale(0.86,1)" font-size="6.2" text-anchor="middle" fill="#111">4.2</text>
<text transform="translate(526.4,127.6) scale(0.86,1)" font-size="6.2" text-anchor="middle" fill="#111">4.4</text>
<text transform="translate(539.3,127.6) scale(0.86,1)" font-size="6.2" text-anchor="middle" fill="#111">1.04</text>
<text transform="translate(550.4,127.6) scale(0.86,1)" font-size="6.2" text-anchor="middle" fill="#111">0.04</text>
<text transform="translate(563.9,127.6) scale(0.86,1)" font-size="6.2" text-anchor="middle" fill="#111">0.02</text>
<text transform="translate(575.5,127.6) scale(0.86,1)" font-size="6.2" text-anchor="middle" fill="#111">4.2</text>
<text transform="translate(587.8,127.6) scale(0.86,1)" font-size="6.2" text-anchor="middle" fill="#111">4.5</text>
<text transform="translate(599.5,127.6) scale(0.86,1)" font-size="6.2" text-anchor="middle" fill="#111">2.25</text>
<text transform="translate(611.1,127.6) scale(0.86,1)" font-size="6.2" text-anchor="middle" fill="#111">5.4</text>
<text transform="translate(623.3,127.6) scale(0.86,1)" font-size="6.2" text-anchor="middle" fill="#111">5.1</text>
<text transform="translate(635.0,127.6) scale(0.86,1)" font-size="6.2" text-anchor="middle" fill="#111">4.9</text>
<text transform="translate(648.3,127.6) scale(0.86,1)" font-size="6.2" text-anchor="middle" fill="#111">5.2</text>
<text x="407.4" y="79.5" font-size="6" fill="#111">75 kDa</text>
<text x="407.4" y="112.6" font-size="6" fill="#111">37 kDa</text>
<text x="407.4" y="149.6" font-size="6" fill="#111">37 kDa</text>
<text x="656.9" y="85.2" font-size="6.8" fill="#111">PRMT5</text>
<text x="657.9" y="115.2" font-size="6.8" fill="#111">MSI2</text>
<text x="658.4" y="144.5" font-size="6.7" fill="#111">&#946;-ACTIN</text>
<text x="57" y="197.4" font-size="9.7">Correlation of MSI2 and <tspan font-style="italic">TP53</tspan> genomic status vs IC50s of GSK-591</text>
<line x1="29.4" y1="216.6" x2="29.4" y2="304.9" stroke="#000" stroke-width="0.9"/>
<line x1="29.4" y1="304.9" x2="206" y2="304.9" stroke="#000" stroke-width="0.9"/>
<line x1="27.4" y1="304.9" x2="29.4" y2="304.9" stroke="#000" stroke-width="0.7"/>
<text x="26.6" y="306.4" font-size="4.2" text-anchor="end" fill="#222">0</text>
<line x1="27.4" y1="287.2" x2="29.4" y2="287.2" stroke="#000" stroke-width="0.7"/>
<text x="26.6" y="288.8" font-size="4.2" text-anchor="end" fill="#222">5</text>
<line x1="27.4" y1="269.6" x2="29.4" y2="269.6" stroke="#000" stroke-width="0.7"/>
<text x="26.6" y="271.1" font-size="4.2" text-anchor="end" fill="#222">10</text>
<line x1="27.4" y1="251.9" x2="29.4" y2="251.9" stroke="#000" stroke-width="0.7"/>
<text x="26.6" y="253.4" font-size="4.2" text-anchor="end" fill="#222">15</text>
<line x1="27.4" y1="234.3" x2="29.4" y2="234.3" stroke="#000" stroke-width="0.7"/>
<text x="26.6" y="235.8" font-size="4.2" text-anchor="end" fill="#222">20</text>
<line x1="27.4" y1="216.6" x2="29.4" y2="216.6" stroke="#000" stroke-width="0.7"/>
<text x="26.6" y="218.1" font-size="4.2" text-anchor="end" fill="#222">25</text>
<text transform="translate(19.5,260.5) rotate(-90)" font-size="5.2" text-anchor="middle" fill="#222">IC50 (&#181;M)</text>
<rect x="33.2" y="234.3" width="7" height="70.6" fill="#0532ff"/>
<line x1="36.7" y1="234.3" x2="36.7" y2="231.5" stroke="#000" stroke-width="0.6"/>
<line x1="35.2" y1="231.5" x2="38.2" y2="231.5" stroke="#000" stroke-width="0.6"/>
<line x1="36.7" y1="304.9" x2="36.7" y2="306.6" stroke="#000" stroke-width="0.6"/>
<text transform="translate(38.3,308) rotate(-90)" font-size="5.1" text-anchor="end" fill="#111">CA-46</text>
<rect x="44.1" y="242.8" width="7" height="62.1" fill="#0532ff"/>
<line x1="47.6" y1="242.8" x2="47.6" y2="239.9" stroke="#000" stroke-width="0.6"/>
<line x1="46.1" y1="239.9" x2="49.1" y2="239.9" stroke="#000" stroke-width="0.6"/>
<line x1="47.6" y1="304.9" x2="47.6" y2="306.6" stroke="#000" stroke-width="0.6"/>
<text transform="translate(49.2,308) rotate(-90)" font-size="5.1" text-anchor="end" fill="#111">REC-1</text>
<rect x="54.9" y="253.7" width="7" height="51.2" fill="#0532ff"/>
<line x1="58.4" y1="253.7" x2="58.4" y2="252.7" stroke="#000" stroke-width="0.6"/>
<line x1="56.9" y1="252.7" x2="59.9" y2="252.7" stroke="#000" stroke-width="0.6"/>
<line x1="58.4" y1="304.9" x2="58.4" y2="306.6" stroke="#000" stroke-width="0.6"/>
<text transform="translate(60,308) rotate(-90)" font-size="5.1" text-anchor="end" fill="#111">HBL-1</text>
<rect x="65.8" y="253" width="7" height="51.9" fill="#0532ff"/>
<line x1="69.2" y1="253" x2="69.2" y2="250.9" stroke="#000" stroke-width="0.6"/>
<line x1="67.8" y1="250.9" x2="70.8" y2="250.9" stroke="#000" stroke-width="0.6"/>
<line x1="69.2" y1="304.9" x2="69.2" y2="306.6" stroke="#000" stroke-width="0.6"/>
<text transform="translate(70.8,308) rotate(-90)" font-size="5.1" text-anchor="end" fill="#111">MINO</text>
<rect x="76.6" y="261.1" width="7" height="43.8" fill="#0532ff"/>
<line x1="80.1" y1="261.1" x2="80.1" y2="256.9" stroke="#000" stroke-width="0.6"/>
<line x1="78.6" y1="256.9" x2="81.6" y2="256.9" stroke="#000" stroke-width="0.6"/>
<line x1="80.1" y1="304.9" x2="80.1" y2="306.6" stroke="#000" stroke-width="0.6"/>
<text transform="translate(81.7,308) rotate(-90)" font-size="5.1" text-anchor="end" fill="#111">JVM-13</text>
<rect x="87.5" y="264.7" width="7" height="40.2" fill="#0532ff"/>
<line x1="91" y1="264.7" x2="91" y2="263.4" stroke="#000" stroke-width="0.6"/>
<line x1="89.5" y1="263.4" x2="92.5" y2="263.4" stroke="#000" stroke-width="0.6"/>
<line x1="91" y1="304.9" x2="91" y2="306.6" stroke="#000" stroke-width="0.6"/>
<text transform="translate(92.5,308) rotate(-90)" font-size="5.1" text-anchor="end" fill="#111">SUDHL-1</text>
<rect x="98.3" y="268.5" width="7" height="36.4" fill="#0532ff"/>
<line x1="101.8" y1="268.5" x2="101.8" y2="266.8" stroke="#000" stroke-width="0.6"/>
<line x1="100.3" y1="266.8" x2="103.3" y2="266.8" stroke="#000" stroke-width="0.6"/>
<line x1="101.8" y1="304.9" x2="101.8" y2="306.6" stroke="#000" stroke-width="0.6"/>
<text transform="translate(103.4,308) rotate(-90)" font-size="5.1" text-anchor="end" fill="#111">BJAB</text>
<rect x="109.2" y="269.2" width="7" height="35.7" fill="#0532ff"/>
<line x1="112.7" y1="269.2" x2="112.7" y2="266.4" stroke="#000" stroke-width="0.6"/>
<line x1="111.2" y1="266.4" x2="114.2" y2="266.4" stroke="#000" stroke-width="0.6"/>
<line x1="112.7" y1="304.9" x2="112.7" y2="306.6" stroke="#000" stroke-width="0.6"/>
<text transform="translate(114.2,308) rotate(-90)" font-size="5.1" text-anchor="end" fill="#111">SUDHL-4</text>
<rect x="120" y="276.3" width="7" height="28.6" fill="#0532ff"/>
<line x1="123.5" y1="276.3" x2="123.5" y2="272.4" stroke="#000" stroke-width="0.6"/>
<line x1="122" y1="272.4" x2="125" y2="272.4" stroke="#000" stroke-width="0.6"/>
<line x1="123.5" y1="304.9" x2="123.5" y2="306.6" stroke="#000" stroke-width="0.6"/>
<text transform="translate(125.1,308) rotate(-90)" font-size="5.1" text-anchor="end" fill="#111">JEKO-1</text>
<rect x="130.8" y="294" width="7" height="10.9" fill="#0532ff"/>
<line x1="134.3" y1="294" x2="134.3" y2="293.1" stroke="#000" stroke-width="0.6"/>
<line x1="132.8" y1="293.1" x2="135.8" y2="293.1" stroke="#000" stroke-width="0.6"/>
<line x1="134.3" y1="304.9" x2="134.3" y2="306.6" stroke="#000" stroke-width="0.6"/>
<text transform="translate(135.9,308) rotate(-90)" font-size="5.1" text-anchor="end" fill="#111">TMD-8</text>
<line x1="145.2" y1="304.4" x2="145.2" y2="304" stroke="#000" stroke-width="0.6"/>
<line x1="143.7" y1="304" x2="146.7" y2="304" stroke="#000" stroke-width="0.6"/>
<line x1="145.2" y1="304.9" x2="145.2" y2="306.6" stroke="#000" stroke-width="0.6"/>
<text transform="translate(146.8,308) rotate(-90)" font-size="5.1" text-anchor="end" fill="#111">U-2932</text>
<line x1="156.1" y1="304.4" x2="156.1" y2="304" stroke="#000" stroke-width="0.6"/>
<line x1="154.6" y1="304" x2="157.6" y2="304" stroke="#000" stroke-width="0.6"/>
<line x1="156.1" y1="304.9" x2="156.1" y2="306.6" stroke="#000" stroke-width="0.6"/>
<text transform="translate(157.7,308) rotate(-90)" font-size="5.1" text-anchor="end" fill="#111">MAVER-1</text>
<line x1="166.9" y1="304.4" x2="166.9" y2="304" stroke="#000" stroke-width="0.6"/>
<line x1="165.4" y1="304" x2="168.4" y2="304" stroke="#000" stroke-width="0.6"/>
<line x1="166.9" y1="304.9" x2="166.9" y2="306.6" stroke="#000" stroke-width="0.6"/>
<text transform="translate(168.5,308) rotate(-90)" font-size="5.1" text-anchor="end" fill="#111">OCI-LY19</text>
<line x1="177.8" y1="304.4" x2="177.8" y2="304" stroke="#000" stroke-width="0.6"/>
<line x1="176.2" y1="304" x2="179.2" y2="304" stroke="#000" stroke-width="0.6"/>
<line x1="177.8" y1="304.9" x2="177.8" y2="306.6" stroke="#000" stroke-width="0.6"/>
<text transform="translate(179.3,308) rotate(-90)" font-size="5.1" text-anchor="end" fill="#111">SUDHL-6</text>
<line x1="188.6" y1="304.4" x2="188.6" y2="304" stroke="#000" stroke-width="0.6"/>
<line x1="187.1" y1="304" x2="190.1" y2="304" stroke="#000" stroke-width="0.6"/>
<line x1="188.6" y1="304.9" x2="188.6" y2="306.6" stroke="#000" stroke-width="0.6"/>
<text transform="translate(190.2,308) rotate(-90)" font-size="5.1" text-anchor="end" fill="#111">Z-138</text>
<line x1="199.4" y1="304.4" x2="199.4" y2="304" stroke="#000" stroke-width="0.6"/>
<line x1="197.9" y1="304" x2="200.9" y2="304" stroke="#000" stroke-width="0.6"/>
<line x1="199.4" y1="304.9" x2="199.4" y2="306.6" stroke="#000" stroke-width="0.6"/>
<text transform="translate(201,308) rotate(-90)" font-size="5.1" text-anchor="end" fill="#111">U-2973</text>
<path d="M36.0 230.8a0.7 0.7 0 1 0 1.4 0a0.7 0.7 0 1 0 -1.4 0zM35.0 236.4a0.7 0.7 0 1 0 1.4 0a0.7 0.7 0 1 0 -1.4 0zM37.0 233.2a0.7 0.7 0 1 0 1.4 0a0.7 0.7 0 1 0 -1.4 0zM46.9 238.5a0.7 0.7 0 1 0 1.4 0a0.7 0.7 0 1 0 -1.4 0zM45.9 244.9a0.7 0.7 0 1 0 1.4 0a0.7 0.7 0 1 0 -1.4 0zM47.9 243.8a0.7 0.7 0 1 0 1.4 0a0.7 0.7 0 1 0 -1.4 0zM57.7 252.7a0.7 0.7 0 1 0 1.4 0a0.7 0.7 0 1 0 -1.4 0zM56.7 254.4a0.7 0.7 0 1 0 1.4 0a0.7 0.7 0 1 0 -1.4 0zM58.7 253.4a0.7 0.7 0 1 0 1.4 0a0.7 0.7 0 1 0 -1.4 0zM68.5 249.8a0.7 0.7 0 1 0 1.4 0a0.7 0.7 0 1 0 -1.4 0zM67.5 254.4a0.7 0.7 0 1 0 1.4 0a0.7 0.7 0 1 0 -1.4 0zM69.5 254.1a0.7 0.7 0 1 0 1.4 0a0.7 0.7 0 1 0 -1.4 0zM79.4 254.8a0.7 0.7 0 1 0 1.4 0a0.7 0.7 0 1 0 -1.4 0zM78.4 265.4a0.7 0.7 0 1 0 1.4 0a0.7 0.7 0 1 0 -1.4 0zM80.4 261.5a0.7 0.7 0 1 0 1.4 0a0.7 0.7 0 1 0 -1.4 0zM90.2 264.0a0.7 0.7 0 1 0 1.4 0a0.7 0.7 0 1 0 -1.4 0zM89.2 264.3a0.7 0.7 0 1 0 1.4 0a0.7 0.7 0 1 0 -1.4 0zM91.2 265.0a0.7 0.7 0 1 0 1.4 0a0.7 0.7 0 1 0 -1.4 0zM101.1 266.4a0.7 0.7 0 1 0 1.4 0a0.7 0.7 0 1 0 -1.4 0zM100.1 270.0a0.7 0.7 0 1 0 1.4 0a0.7 0.7 0 1 0 -1.4 0zM102.1 268.9a0.7 0.7 0 1 0 1.4 0a0.7 0.7 0 1 0 -1.4 0zM112.0 265.7a0.7 0.7 0 1 0 1.4 0a0.7 0.7 0 1 0 -1.4 0zM111.0 271.7a0.7 0.7 0 1 0 1.4 0a0.7 0.7 0 1 0 -1.4 0zM113.0 269.6a0.7 0.7 0 1 0 1.4 0a0.7 0.7 0 1 0 -1.4 0zM122.8 271.0a0.7 0.7 0 1 0 1.4 0a0.7 0.7 0 1 0 -1.4 0zM121.8 278.8a0.7 0.7 0 1 0 1.4 0a0.7 0.7 0 1 0 -1.4 0zM123.8 277.0a0.7 0.7 0 1 0 1.4 0a0.7 0.7 0 1 0 -1.4 0zM133.7 292.9a0.7 0.7 0 1 0 1.4 0a0.7 0.7 0 1 0 -1.4 0zM132.7 294.7a0.7 0.7 0 1 0 1.4 0a0.7 0.7 0 1 0 -1.4 0zM134.7 294.0a0.7 0.7 0 1 0 1.4 0a0.7 0.7 0 1 0 -1.4 0zM143.5 304.4a0.7 0.7 0 1 0 1.4 0a0.7 0.7 0 1 0 -1.4 0zM145.5 304.2a0.7 0.7 0 1 0 1.4 0a0.7 0.7 0 1 0 -1.4 0zM144.5 304.5a0.7 0.7 0 1 0 1.4 0a0.7 0.7 0 1 0 -1.4 0zM154.4 304.4a0.7 0.7 0 1 0 1.4 0a0.7 0.7 0 1 0 -1.4 0zM156.4 304.2a0.7 0.7 0 1 0 1.4 0a0.7 0.7 0 1 0 -1.4 0zM155.4 304.5a0.7 0.7 0 1 0 1.4 0a0.7 0.7 0 1 0 -1.4 0zM165.2 304.4a0.7 0.7 0 1 0 1.4 0a0.7 0.7 0 1 0 -1.4 0zM167.2 304.2a0.7 0.7 0 1 0 1.4 0a0.7 0.7 0 1 0 -1.4 0zM166.2 304.5a0.7 0.7 0 1 0 1.4 0a0.7 0.7 0 1 0 -1.4 0zM176.1 304.4a0.7 0.7 0 1 0 1.4 0a0.7 0.7 0 1 0 -1.4 0zM178.1 304.2a0.7 0.7 0 1 0 1.4 0a0.7 0.7 0 1 0 -1.4 0zM177.1 304.5a0.7 0.7 0 1 0 1.4 0a0.7 0.7 0 1 0 -1.4 0zM186.9 304.4a0.7 0.7 0 1 0 1.4 0a0.7 0.7 0 1 0 -1.4 0zM188.9 304.2a0.7 0.7 0 1 0 1.4 0a0.7 0.7 0 1 0 -1.4 0zM187.9 304.5a0.7 0.7 0 1 0 1.4 0a0.7 0.7 0 1 0 -1.4 0zM197.8 304.4a0.7 0.7 0 1 0 1.4 0a0.7 0.7 0 1 0 -1.4 0zM199.8 304.2a0.7 0.7 0 1 0 1.4 0a0.7 0.7 0 1 0 -1.4 0zM198.8 304.5a0.7 0.7 0 1 0 1.4 0a0.7 0.7 0 1 0 -1.4 0z" fill="#000"/>
<rect x="30.5" y="334.2" width="177.3" height="10.8" fill="#ececec" stroke="#6a6a6a" stroke-width="0.6"/>
<rect x="30.5" y="348.8" width="177.3" height="11.6" fill="#e4e4e4" stroke="#6a6a6a" stroke-width="0.6"/>
<g filter="url(#bl5)">
<rect x="32.1" y="338.2" width="9.2" height="1.8" rx="0.7" fill="#000" opacity="0.30"/>
<rect x="32.1" y="341.2" width="9.2" height="2.1" rx="0.7" fill="#000" opacity="0.37"/>
<rect x="43.0" y="338.2" width="9.2" height="1.8" rx="0.7" fill="#000" opacity="0.12"/>
<rect x="43.0" y="342.2" width="9.2" height="2.1" rx="0.7" fill="#000" opacity="0.89"/>
<rect x="53.8" y="338.2" width="9.2" height="1.8" rx="0.7" fill="#000" opacity="0.75"/>
<rect x="53.8" y="341.2" width="9.2" height="2.1" rx="0.7" fill="#000" opacity="0.95"/>
<rect x="64.7" y="338.2" width="9.2" height="1.8" rx="0.7" fill="#000" opacity="0.15"/>
<rect x="64.7" y="341.2" width="9.2" height="2.1" rx="0.7" fill="#000" opacity="0.21"/>
<rect x="75.5" y="338.2" width="9.2" height="1.8" rx="0.7" fill="#000" opacity="0.50"/>
<rect x="75.5" y="341.2" width="9.2" height="2.1" rx="0.7" fill="#000" opacity="0.63"/>
<rect x="86.4" y="338.2" width="9.2" height="1.8" rx="0.7" fill="#000" opacity="0.55"/>
<rect x="86.4" y="341.2" width="9.2" height="2.1" rx="0.7" fill="#000" opacity="0.68"/>
<rect x="97.2" y="338.2" width="9.2" height="1.8" rx="0.7" fill="#000" opacity="0.45"/>
<rect x="97.2" y="341.2" width="9.2" height="2.1" rx="0.7" fill="#000" opacity="0.58"/>
<rect x="108.1" y="338.2" width="9.2" height="1.8" rx="0.7" fill="#000" opacity="0.35"/>
<rect x="108.1" y="341.2" width="9.2" height="2.1" rx="0.7" fill="#000" opacity="0.47"/>
<rect x="118.9" y="338.2" width="9.2" height="1.8" rx="0.7" fill="#000" opacity="0.65"/>
<rect x="118.9" y="341.2" width="9.2" height="2.1" rx="0.7" fill="#000" opacity="0.79"/>
<rect x="129.8" y="338.2" width="9.2" height="1.8" rx="0.7" fill="#000" opacity="0.25"/>
<rect x="129.8" y="341.2" width="9.2" height="2.1" rx="0.7" fill="#000" opacity="0.37"/>
<rect x="140.6" y="337.2" width="9.2" height="5.6" rx="2" fill="#000"/>
<rect x="151.5" y="338.2" width="9.2" height="1.8" rx="0.7" fill="#000" opacity="0.45"/>
<rect x="151.5" y="341.2" width="9.2" height="2.1" rx="0.7" fill="#000" opacity="0.58"/>
<rect x="162.3" y="338.2" width="9.2" height="1.8" rx="0.7" fill="#000" opacity="0.40"/>
<rect x="162.3" y="341.2" width="9.2" height="2.1" rx="0.7" fill="#000" opacity="0.53"/>
<rect x="173.2" y="338.2" width="9.2" height="1.8" rx="0.7" fill="#000" opacity="0.45"/>
<rect x="173.2" y="341.2" width="9.2" height="2.1" rx="0.7" fill="#000" opacity="0.58"/>
<rect x="184.0" y="338.2" width="9.2" height="1.8" rx="0.7" fill="#000" opacity="0.55"/>
<rect x="184.0" y="341.2" width="9.2" height="2.1" rx="0.7" fill="#000" opacity="0.73"/>
<rect x="194.8" y="336.3" width="9.2" height="1.8" rx="0.7" fill="#000" opacity="0.80"/>
<rect x="194.8" y="339.0" width="9.2" height="2.1" rx="0.7" fill="#000" opacity="0.89"/>
<rect x="31.4" y="353.8" width="10.6" height="3.6" rx="1.3" fill="#000" opacity="0.90"/>
<rect x="31.5" y="357.2" width="10.4" height="2" fill="#000" opacity="0.15"/>
<rect x="42.3" y="353.8" width="10.6" height="3.6" rx="1.3" fill="#000" opacity="1.00"/>
<rect x="42.4" y="357.2" width="10.4" height="2" fill="#000" opacity="0.15"/>
<rect x="53.1" y="353.8" width="10.6" height="3.6" rx="1.3" fill="#000" opacity="0.90"/>
<rect x="53.2" y="357.2" width="10.4" height="2" fill="#000" opacity="0.15"/>
<rect x="64.0" y="353.8" width="10.6" height="3.6" rx="1.3" fill="#000" opacity="0.90"/>
<rect x="64.0" y="357.2" width="10.4" height="2" fill="#000" opacity="0.15"/>
<rect x="74.8" y="353.8" width="10.6" height="3.6" rx="1.3" fill="#000" opacity="0.95"/>
<rect x="74.9" y="357.2" width="10.4" height="2" fill="#000" opacity="0.15"/>
<rect x="85.7" y="353.8" width="10.6" height="3.6" rx="1.3" fill="#000" opacity="1.00"/>
<rect x="85.8" y="357.2" width="10.4" height="2" fill="#000" opacity="0.15"/>
<rect x="96.5" y="353.8" width="10.6" height="3.6" rx="1.3" fill="#000" opacity="1.00"/>
<rect x="96.6" y="357.2" width="10.4" height="2" fill="#000" opacity="0.15"/>
<rect x="107.4" y="353.8" width="10.6" height="3.6" rx="1.3" fill="#000" opacity="0.95"/>
<rect x="107.5" y="357.2" width="10.4" height="2" fill="#000" opacity="0.15"/>
<rect x="118.2" y="353.8" width="10.6" height="3.6" rx="1.3" fill="#000" opacity="0.95"/>
<rect x="118.3" y="357.2" width="10.4" height="2" fill="#000" opacity="0.15"/>
<rect x="129.0" y="353.8" width="10.6" height="3.6" rx="1.3" fill="#000" opacity="0.90"/>
<rect x="129.2" y="357.2" width="10.4" height="2" fill="#000" opacity="0.15"/>
<rect x="139.9" y="353.8" width="10.6" height="3.6" rx="1.3" fill="#000" opacity="1.00"/>
<rect x="140.0" y="357.2" width="10.4" height="2" fill="#000" opacity="0.15"/>
<rect x="150.8" y="353.8" width="10.6" height="3.6" rx="1.3" fill="#000" opacity="0.90"/>
<rect x="150.9" y="357.2" width="10.4" height="2" fill="#000" opacity="0.15"/>
<rect x="161.6" y="353.8" width="10.6" height="3.6" rx="1.3" fill="#000" opacity="0.95"/>
<rect x="161.7" y="357.2" width="10.4" height="2" fill="#000" opacity="0.15"/>
<rect x="172.4" y="353.8" width="10.6" height="3.6" rx="1.3" fill="#000" opacity="0.95"/>
<rect x="172.6" y="357.2" width="10.4" height="2" fill="#000" opacity="0.15"/>
<rect x="183.3" y="353.8" width="10.6" height="3.6" rx="1.3" fill="#000" opacity="0.90"/>
<rect x="183.4" y="357.2" width="10.4" height="2" fill="#000" opacity="0.15"/>
<rect x="194.1" y="353.8" width="10.6" height="3.6" rx="1.3" fill="#000" opacity="0.95"/>
<rect x="194.2" y="357.2" width="10.4" height="2" fill="#000" opacity="0.15"/>
</g>
<text x="8.4" y="341.4" font-size="6.3" fill="#000">37 kDa</text>
<text x="8.4" y="359.4" font-size="6.3" fill="#000">37 kDa</text>
<text x="210" y="342.8" font-size="7.3" fill="#111">MSI2</text>
<text x="210.5" y="357.6" font-size="7.1" fill="#111">&#946;-ACTIN</text>
<text x="210.5" y="373.2" font-size="7.3" font-style="italic" fill="#111">TP53</text>
<rect x="30.7" y="364" width="11.1" height="12.9" fill="#0f8a10" stroke="#333" stroke-width="0.5"/>
<rect x="41.8" y="364" width="11.1" height="12.9" fill="#0f8a10" stroke="#333" stroke-width="0.5"/>
<rect x="52.8" y="364" width="11.1" height="12.9" fill="#0f8a10" stroke="#333" stroke-width="0.5"/>
<rect x="63.9" y="364" width="11.1" height="12.9" fill="#0f8a10" stroke="#333" stroke-width="0.5"/>
<rect x="74.9" y="364" width="11.1" height="12.9" fill="#fff" stroke="#333" stroke-width="0.5"/>
<rect x="86" y="364" width="11.1" height="12.9" fill="#0f8a10" stroke="#333" stroke-width="0.5"/>
<rect x="97" y="364" width="11.1" height="12.9" fill="#0f8a10" stroke="#333" stroke-width="0.5"/>
<rect x="108.1" y="364" width="11.1" height="12.9" fill="#0f8a10" stroke="#333" stroke-width="0.5"/>
<rect x="119.1" y="364" width="11.1" height="12.9" fill="#0f8a10" stroke="#333" stroke-width="0.5"/>
<rect x="130.2" y="364" width="11.1" height="12.9" fill="#fff" stroke="#333" stroke-width="0.5"/>
<rect x="141.2" y="364" width="11.1" height="12.9" fill="#0f8a10" stroke="#333" stroke-width="0.5"/>
<rect x="152.2" y="364" width="11.1" height="12.9" fill="#0f8a10" stroke="#333" stroke-width="0.5"/>
<rect x="163.3" y="364" width="11.1" height="12.9" fill="#fff" stroke="#333" stroke-width="0.5"/>
<rect x="174.3" y="364" width="11.1" height="12.9" fill="#0f8a10" stroke="#333" stroke-width="0.5"/>
<rect x="185.4" y="364" width="11.1" height="12.9" fill="#fff" stroke="#333" stroke-width="0.5"/>
<rect x="196.4" y="364" width="11.1" height="12.9" fill="#fff" stroke="#333" stroke-width="0.5"/>
<rect x="84.5" y="379.7" width="10.4" height="9.1" fill="#137f5e"/>
<text x="97.5" y="386.6" font-size="6.7" fill="#111">Missense mutation</text>
<line x1="232.3" y1="215.3" x2="232.3" y2="246.5" stroke="#000" stroke-width="0.9"/>
<line x1="232.3" y1="251" x2="232.3" y2="282.1" stroke="#000" stroke-width="0.9"/>
<line x1="230.8" y1="245.3" x2="233.8" y2="246.9" stroke="#000" stroke-width="0.6"/>
<line x1="230.8" y1="250.6" x2="233.8" y2="252.2" stroke="#000" stroke-width="0.6"/>
<line x1="232.3" y1="282.1" x2="305.8" y2="282.1" stroke="#000" stroke-width="0.9"/>
<line x1="230.9" y1="216" x2="232.3" y2="216" stroke="#000" stroke-width="0.5"/>
<text x="230.3" y="217.1" font-size="3.2" text-anchor="end" fill="#333">25.0</text>
<line x1="230.9" y1="219.3" x2="232.3" y2="219.3" stroke="#000" stroke-width="0.5"/>
<text x="230.3" y="220.4" font-size="3.2" text-anchor="end" fill="#333">22.5</text>
<line x1="230.9" y1="222.7" x2="232.3" y2="222.7" stroke="#000" stroke-width="0.5"/>
<text x="230.3" y="223.8" font-size="3.2" text-anchor="end" fill="#333">20.0</text>
<line x1="230.9" y1="226" x2="232.3" y2="226" stroke="#000" stroke-width="0.5"/>
<text x="230.3" y="227.1" font-size="3.2" text-anchor="end" fill="#333">17.5</text>
<line x1="230.9" y1="229.3" x2="232.3" y2="229.3" stroke="#000" stroke-width="0.5"/>
<text x="230.3" y="230.4" font-size="3.2" text-anchor="end" fill="#333">15.0</text>
<line x1="230.9" y1="232.7" x2="232.3" y2="232.7" stroke="#000" stroke-width="0.5"/>
<text x="230.3" y="233.8" font-size="3.2" text-anchor="end" fill="#333">12.5</text>
<line x1="230.9" y1="236" x2="232.3" y2="236" stroke="#000" stroke-width="0.5"/>
<text x="230.3" y="237.1" font-size="3.2" text-anchor="end" fill="#333">10.0</text>
<line x1="230.9" y1="239.3" x2="232.3" y2="239.3" stroke="#000" stroke-width="0.5"/>
<text x="230.3" y="240.4" font-size="3.2" text-anchor="end" fill="#333">7.5</text>
<line x1="230.9" y1="242.7" x2="232.3" y2="242.7" stroke="#000" stroke-width="0.5"/>
<text x="230.3" y="243.8" font-size="3.2" text-anchor="end" fill="#333">5.0</text>
<line x1="230.9" y1="246" x2="232.3" y2="246" stroke="#000" stroke-width="0.5"/>
<text x="230.3" y="247.1" font-size="3.2" text-anchor="end" fill="#333">2.5</text>
<line x1="230.7" y1="282.1" x2="232.3" y2="282.1" stroke="#000" stroke-width="0.6"/>
<text x="230.1" y="283.4" font-size="3.8" text-anchor="end" fill="#333">0.0</text>
<line x1="230.7" y1="276" x2="232.3" y2="276" stroke="#000" stroke-width="0.6"/>
<text x="230.1" y="277.3" font-size="3.8" text-anchor="end" fill="#333">0.1</text>
<line x1="230.7" y1="269.9" x2="232.3" y2="269.9" stroke="#000" stroke-width="0.6"/>
<text x="230.1" y="271.2" font-size="3.8" text-anchor="end" fill="#333">0.2</text>
<line x1="230.7" y1="263.7" x2="232.3" y2="263.7" stroke="#000" stroke-width="0.6"/>
<text x="230.1" y="265" font-size="3.8" text-anchor="end" fill="#333">0.3</text>
<line x1="230.7" y1="257.6" x2="232.3" y2="257.6" stroke="#000" stroke-width="0.6"/>
<text x="230.1" y="258.9" font-size="3.8" text-anchor="end" fill="#333">0.4</text>
<line x1="230.7" y1="251.5" x2="232.3" y2="251.5" stroke="#000" stroke-width="0.6"/>
<text x="230.1" y="252.8" font-size="3.8" text-anchor="end" fill="#333">0.5</text>
<text transform="translate(221.8,251.3) rotate(-90)" font-size="5" text-anchor="middle" fill="#222">IC50 (&#181;M)</text>
<path d="M252.7 222.9V215H284.3V226.4" stroke="#555" stroke-width="0.6" fill="none"/>
<text x="265" y="213.2" font-size="6.9" text-anchor="middle" font-style="italic" fill="#222">p= 0.0034</text>
<line x1="253.6" y1="225" x2="253.6" y2="236.8" stroke="#222" stroke-width="0.8"/>
<line x1="243.4" y1="230.8" x2="263.8" y2="230.8" stroke="#999" stroke-width="1.1"/>
<line x1="248.3" y1="225" x2="259.1" y2="225" stroke="#999" stroke-width="1.1"/>
<line x1="248.3" y1="236.8" x2="259.1" y2="236.8" stroke="#999" stroke-width="1.1"/>
<path d="M252.6 223.4a1.0 1.0 0 1 0 2.0 0a1.0 1.0 0 1 0 -2.0 0zM252.6 230.5a1.0 1.0 0 1 0 2.0 0a1.0 1.0 0 1 0 -2.0 0zM250.3 237.5a1.0 1.0 0 1 0 2.0 0a1.0 1.0 0 1 0 -2.0 0zM254.5 236.4a1.0 1.0 0 1 0 2.0 0a1.0 1.0 0 1 0 -2.0 0z" fill="#0532ff"/>
<line x1="285" y1="235.6" x2="285" y2="282" stroke="#999" stroke-width="0.9"/>
<line x1="274.4" y1="244.4" x2="295.2" y2="244.4" stroke="#444" stroke-width="1.1"/>
<line x1="280" y1="235.6" x2="291.5" y2="235.6" stroke="#444" stroke-width="1.1"/>
<path d="M282.5 228.7h2.0v2.0h-2.0zM281.0 232.0h2.0v2.0h-2.0zM285.8 233.0h2.0v2.0h-2.0zM284.0 238.7h2.0v2.0h-2.0zM284.0 245.5h2.0v2.0h-2.0zM281.3 273.5h2.0v2.0h-2.0zM285.8 272.5h2.0v2.0h-2.0zM282.0 277.5h2.0v2.0h-2.0zM286.0 278.0h2.0v2.0h-2.0zM283.0 280.6h2.0v2.0h-2.0zM286.0 280.6h2.0v2.0h-2.0z" fill="#912dff"/>
<line x1="253.6" y1="282.1" x2="253.6" y2="283.8" stroke="#000" stroke-width="0.6"/>
<line x1="285" y1="282.1" x2="285" y2="283.8" stroke="#000" stroke-width="0.6"/>
<text x="253.6" y="289.2" font-size="5.3" text-anchor="middle" fill="#222">Low MSI2</text>
<text x="285" y="289.2" font-size="5.3" text-anchor="middle" fill="#222">High MSI2</text>
<line x1="335" y1="213.9" x2="335" y2="245.8" stroke="#000" stroke-width="0.9"/>
<line x1="335" y1="250.6" x2="335" y2="282.5" stroke="#000" stroke-width="0.9"/>
<line x1="333.5" y1="244.6" x2="336.5" y2="246.2" stroke="#000" stroke-width="0.6"/>
<line x1="333.5" y1="250.2" x2="336.5" y2="251.8" stroke="#000" stroke-width="0.6"/>
<line x1="335" y1="282.5" x2="405" y2="282.5" stroke="#000" stroke-width="0.9"/>
<line x1="333.6" y1="214" x2="335" y2="214" stroke="#000" stroke-width="0.5"/>
<text x="333" y="215.1" font-size="3.2" text-anchor="end" fill="#333">25.0</text>
<line x1="333.6" y1="217.5" x2="335" y2="217.5" stroke="#000" stroke-width="0.5"/>
<text x="333" y="218.6" font-size="3.2" text-anchor="end" fill="#333">22.5</text>
<line x1="333.6" y1="221" x2="335" y2="221" stroke="#000" stroke-width="0.5"/>
<text x="333" y="222.1" font-size="3.2" text-anchor="end" fill="#333">20.0</text>
<line x1="333.6" y1="224.5" x2="335" y2="224.5" stroke="#000" stroke-width="0.5"/>
<text x="333" y="225.6" font-size="3.2" text-anchor="end" fill="#333">17.5</text>
<line x1="333.6" y1="228" x2="335" y2="228" stroke="#000" stroke-width="0.5"/>
<text x="333" y="229.1" font-size="3.2" text-anchor="end" fill="#333">15.0</text>
<line x1="333.6" y1="231.5" x2="335" y2="231.5" stroke="#000" stroke-width="0.5"/>
<text x="333" y="232.6" font-size="3.2" text-anchor="end" fill="#333">12.5</text>
<line x1="333.6" y1="235" x2="335" y2="235" stroke="#000" stroke-width="0.5"/>
<text x="333" y="236.1" font-size="3.2" text-anchor="end" fill="#333">10.0</text>
<line x1="333.6" y1="238.5" x2="335" y2="238.5" stroke="#000" stroke-width="0.5"/>
<text x="333" y="239.6" font-size="3.2" text-anchor="end" fill="#333">7.5</text>
<line x1="333.6" y1="242" x2="335" y2="242" stroke="#000" stroke-width="0.5"/>
<text x="333" y="243.1" font-size="3.2" text-anchor="end" fill="#333">5.0</text>
<line x1="333.6" y1="245.5" x2="335" y2="245.5" stroke="#000" stroke-width="0.5"/>
<text x="333" y="246.6" font-size="3.2" text-anchor="end" fill="#333">2.5</text>
<line x1="333.4" y1="282.5" x2="335" y2="282.5" stroke="#000" stroke-width="0.6"/>
<text x="332.8" y="283.8" font-size="3.8" text-anchor="end" fill="#333">0.0</text>
<line x1="333.4" y1="276.2" x2="335" y2="276.2" stroke="#000" stroke-width="0.6"/>
<text x="332.8" y="277.5" font-size="3.8" text-anchor="end" fill="#333">0.1</text>
<line x1="333.4" y1="269.9" x2="335" y2="269.9" stroke="#000" stroke-width="0.6"/>
<text x="332.8" y="271.2" font-size="3.8" text-anchor="end" fill="#333">0.2</text>
<line x1="333.4" y1="263.6" x2="335" y2="263.6" stroke="#000" stroke-width="0.6"/>
<text x="332.8" y="264.9" font-size="3.8" text-anchor="end" fill="#333">0.3</text>
<line x1="333.4" y1="257.3" x2="335" y2="257.3" stroke="#000" stroke-width="0.6"/>
<text x="332.8" y="258.6" font-size="3.8" text-anchor="end" fill="#333">0.4</text>
<line x1="333.4" y1="251" x2="335" y2="251" stroke="#000" stroke-width="0.6"/>
<text x="332.8" y="252.3" font-size="3.8" text-anchor="end" fill="#333">0.5</text>
<text transform="translate(324.5,250.3) rotate(-90)" font-size="5" text-anchor="middle" fill="#222">IC50 (&#181;M)</text>
<path d="M356.5 226.4V215H387.7V218.7" stroke="#555" stroke-width="0.6" fill="none"/>
<text x="374.5" y="213.2" font-size="7" text-anchor="middle" font-style="italic" fill="#222">p= 0.0447</text>
<line x1="356.5" y1="237.4" x2="356.5" y2="282.5" stroke="#111" stroke-width="0.9"/>
<line x1="346" y1="245" x2="366.9" y2="245" stroke="#111" stroke-width="1.1"/>
<line x1="349.5" y1="237.4" x2="363.5" y2="237.4" stroke="#111" stroke-width="1.1"/>
<path d="M355.5 232.0a1.0 1.0 0 1 0 2.0 0a1.0 1.0 0 1 0 -2.0 0zM355.5 245.3a1.0 1.0 0 1 0 2.0 0a1.0 1.0 0 1 0 -2.0 0zM353.0 278.5a1.0 1.0 0 1 0 2.0 0a1.0 1.0 0 1 0 -2.0 0zM357.0 281.0a1.0 1.0 0 1 0 2.0 0a1.0 1.0 0 1 0 -2.0 0zM353.5 282.0a1.0 1.0 0 1 0 2.0 0a1.0 1.0 0 1 0 -2.0 0zM358.0 281.5a1.0 1.0 0 1 0 2.0 0a1.0 1.0 0 1 0 -2.0 0z" fill="#000"/>
<line x1="388.1" y1="226.4" x2="388.1" y2="245.5" stroke="#39a7f0" stroke-width="0.9"/>
<line x1="377.7" y1="236.3" x2="398.5" y2="236.3" stroke="#39a7f0" stroke-width="1.1"/>
<line x1="383" y1="226.4" x2="393.5" y2="226.4" stroke="#39a7f0" stroke-width="1.1"/>
<line x1="383" y1="245.5" x2="393.5" y2="245.5" stroke="#39a7f0" stroke-width="1.1"/>
<path d="M387.0 220.6h2.0v2.0h-2.0zM387.0 223.5h2.0v2.0h-2.0zM385.0 228.0h2.0v2.0h-2.0zM389.0 227.5h2.0v2.0h-2.0zM385.0 232.0h2.0v2.0h-2.0zM385.0 235.6h2.0v2.0h-2.0zM389.0 234.0h2.0v2.0h-2.0zM387.0 236.5h2.0v2.0h-2.0zM385.5 272.5h2.0v2.0h-2.0zM389.0 274.0h2.0v2.0h-2.0zM387.0 278.0h2.0v2.0h-2.0z" fill="#1a9cf0"/>
<line x1="356.5" y1="282.5" x2="356.5" y2="284.2" stroke="#000" stroke-width="0.6"/>
<line x1="388.1" y1="282.5" x2="388.1" y2="284.2" stroke="#000" stroke-width="0.6"/>
<text x="356.5" y="290.3" font-size="6.0" text-anchor="middle" font-style="italic" fill="#222">TP53 wt</text>
<text x="388.1" y="290.3" font-size="6.0" text-anchor="middle" font-style="italic" fill="#222">TP53 mut</text>
<line x1="269.4" y1="307.3" x2="269.4" y2="340.4" stroke="#000" stroke-width="0.9"/>
<line x1="269.4" y1="344" x2="269.4" y2="377.2" stroke="#000" stroke-width="0.9"/>
<line x1="267.9" y1="339.2" x2="270.9" y2="340.8" stroke="#000" stroke-width="0.6"/>
<line x1="267.9" y1="343.6" x2="270.9" y2="345.2" stroke="#000" stroke-width="0.6"/>
<line x1="269.4" y1="377.2" x2="371.6" y2="377.2" stroke="#000" stroke-width="0.9"/>
<line x1="268" y1="307.5" x2="269.4" y2="307.5" stroke="#000" stroke-width="0.5"/>
<text x="267.4" y="308.6" font-size="3.2" text-anchor="end" fill="#333">25.0</text>
<line x1="268" y1="311.1" x2="269.4" y2="311.1" stroke="#000" stroke-width="0.5"/>
<text x="267.4" y="312.2" font-size="3.2" text-anchor="end" fill="#333">22.5</text>
<line x1="268" y1="314.7" x2="269.4" y2="314.7" stroke="#000" stroke-width="0.5"/>
<text x="267.4" y="315.8" font-size="3.2" text-anchor="end" fill="#333">20.0</text>
<line x1="268" y1="318.3" x2="269.4" y2="318.3" stroke="#000" stroke-width="0.5"/>
<text x="267.4" y="319.4" font-size="3.2" text-anchor="end" fill="#333">17.5</text>
<line x1="268" y1="321.9" x2="269.4" y2="321.9" stroke="#000" stroke-width="0.5"/>
<text x="267.4" y="323" font-size="3.2" text-anchor="end" fill="#333">15.0</text>
<line x1="268" y1="325.6" x2="269.4" y2="325.6" stroke="#000" stroke-width="0.5"/>
<text x="267.4" y="326.7" font-size="3.2" text-anchor="end" fill="#333">12.5</text>
<line x1="268" y1="329.2" x2="269.4" y2="329.2" stroke="#000" stroke-width="0.5"/>
<text x="267.4" y="330.3" font-size="3.2" text-anchor="end" fill="#333">10.0</text>
<line x1="268" y1="332.8" x2="269.4" y2="332.8" stroke="#000" stroke-width="0.5"/>
<text x="267.4" y="333.9" font-size="3.2" text-anchor="end" fill="#333">7.5</text>
<line x1="268" y1="336.4" x2="269.4" y2="336.4" stroke="#000" stroke-width="0.5"/>
<text x="267.4" y="337.5" font-size="3.2" text-anchor="end" fill="#333">5.0</text>
<line x1="268" y1="340" x2="269.4" y2="340" stroke="#000" stroke-width="0.5"/>
<text x="267.4" y="341.1" font-size="3.2" text-anchor="end" fill="#333">2.5</text>
<line x1="267.8" y1="377.2" x2="269.4" y2="377.2" stroke="#000" stroke-width="0.6"/>
<text x="267.2" y="378.5" font-size="3.8" text-anchor="end" fill="#333">0.0</text>
<line x1="267.8" y1="370.7" x2="269.4" y2="370.7" stroke="#000" stroke-width="0.6"/>
<text x="267.2" y="372" font-size="3.8" text-anchor="end" fill="#333">0.1</text>
<line x1="267.8" y1="364.1" x2="269.4" y2="364.1" stroke="#000" stroke-width="0.6"/>
<text x="267.2" y="365.4" font-size="3.8" text-anchor="end" fill="#333">0.2</text>
<line x1="267.8" y1="357.6" x2="269.4" y2="357.6" stroke="#000" stroke-width="0.6"/>
<text x="267.2" y="358.9" font-size="3.8" text-anchor="end" fill="#333">0.3</text>
<line x1="267.8" y1="351" x2="269.4" y2="351" stroke="#000" stroke-width="0.6"/>
<text x="267.2" y="352.3" font-size="3.8" text-anchor="end" fill="#333">0.4</text>
<line x1="267.8" y1="344.5" x2="269.4" y2="344.5" stroke="#000" stroke-width="0.6"/>
<text x="267.2" y="345.8" font-size="3.8" text-anchor="end" fill="#333">0.5</text>
<text transform="translate(259,343) rotate(-90)" font-size="5" text-anchor="middle" fill="#222">IC50 (&#181;M)</text>
<path d="M292.3 312.4V309.3H328.3V322.6" stroke="#555" stroke-width="0.6" fill="none"/>
<text x="311" y="307.7" font-size="7" text-anchor="middle" font-style="italic" fill="#222">p=0.022</text>
<line x1="291.9" y1="317.1" x2="291.9" y2="330.2" stroke="#111" stroke-width="0.8"/>
<line x1="280.2" y1="323.2" x2="304.2" y2="323.2" stroke="#111" stroke-width="1.1"/>
<line x1="285.5" y1="317.1" x2="298.5" y2="317.1" stroke="#111" stroke-width="1.1"/>
<line x1="285.5" y1="330.2" x2="298.5" y2="330.2" stroke="#111" stroke-width="1.1"/>
<path d="M291.0 315.8a1.0 1.0 0 1 0 2.0 0a1.0 1.0 0 1 0 -2.0 0zM291.0 318.0a1.0 1.0 0 1 0 2.0 0a1.0 1.0 0 1 0 -2.0 0zM291.0 323.5a1.0 1.0 0 1 0 2.0 0a1.0 1.0 0 1 0 -2.0 0zM288.5 330.5a1.0 1.0 0 1 0 2.0 0a1.0 1.0 0 1 0 -2.0 0zM293.0 329.0a1.0 1.0 0 1 0 2.0 0a1.0 1.0 0 1 0 -2.0 0z" fill="#000"/>
<line x1="328" y1="331.4" x2="328" y2="377.2" stroke="#2f5cf5" stroke-width="0.7"/>
<line x1="315" y1="339.3" x2="340" y2="339.3" stroke="#2f5cf5" stroke-width="0.9"/>
<line x1="322" y1="331.4" x2="334" y2="331.4" stroke="#2f5cf5" stroke-width="0.9"/>
<path d="M327.0 325.8a1.0 1.0 0 1 0 2.0 0a1.0 1.0 0 1 0 -2.0 0zM327.0 339.7a1.0 1.0 0 1 0 2.0 0a1.0 1.0 0 1 0 -2.0 0zM327.0 373.5a1.0 1.0 0 1 0 2.0 0a1.0 1.0 0 1 0 -2.0 0zM325.0 376.5a1.0 1.0 0 1 0 2.0 0a1.0 1.0 0 1 0 -2.0 0zM329.0 376.0a1.0 1.0 0 1 0 2.0 0a1.0 1.0 0 1 0 -2.0 0zM324.0 377.0a1.0 1.0 0 1 0 2.0 0a1.0 1.0 0 1 0 -2.0 0z" fill="#0532ff"/>
<line x1="364.4" y1="326.3" x2="364.4" y2="377.2" stroke="#b070f0" stroke-width="0.7"/>
<line x1="351.2" y1="335.3" x2="376.7" y2="335.3" stroke="#b070f0" stroke-width="0.9"/>
<line x1="358.5" y1="326.3" x2="370.5" y2="326.3" stroke="#b070f0" stroke-width="0.9"/>
<line x1="358.5" y1="377.2" x2="370.5" y2="377.2" stroke="#b070f0" stroke-width="1.1"/>
<path d="M363.4 322.0a1.0 1.0 0 1 0 2.0 0a1.0 1.0 0 1 0 -2.0 0zM362.0 327.0a1.0 1.0 0 1 0 2.0 0a1.0 1.0 0 1 0 -2.0 0zM362.0 332.5a1.0 1.0 0 1 0 2.0 0a1.0 1.0 0 1 0 -2.0 0zM360.5 367.7a1.0 1.0 0 1 0 2.0 0a1.0 1.0 0 1 0 -2.0 0zM365.0 369.5a1.0 1.0 0 1 0 2.0 0a1.0 1.0 0 1 0 -2.0 0zM363.0 373.5a1.0 1.0 0 1 0 2.0 0a1.0 1.0 0 1 0 -2.0 0z" fill="#912dff"/>
<text x="364.4" y="316.5" font-size="7.6" text-anchor="middle" fill="#222">ns</text>
<text x="291.9" y="383.9" font-size="5.1" text-anchor="middle" fill="#222">Low MSI2</text>
<text x="291.9" y="389.4" font-size="5.1" text-anchor="middle" font-style="italic" fill="#222">TP53 mut</text>
<text x="328" y="383.9" font-size="5.1" text-anchor="middle" fill="#222">High MSI2</text>
<text x="328" y="389.4" font-size="5.1" text-anchor="middle" font-style="italic" fill="#222">TP53 wt</text>
<text x="364.4" y="383.9" font-size="5.1" text-anchor="middle" fill="#222">High MSI2</text>
<text x="364.4" y="389.4" font-size="5.1" text-anchor="middle" font-style="italic" fill="#222">TP53 mut</text>
<text x="529.3" y="197.5" font-size="9.7" text-anchor="middle">MSI2 overexpression</text>
<text x="524.9" y="215.6" font-size="9.7" text-anchor="middle">Z-138 cells</text>
<line x1="473.1" y1="220.6" x2="473.1" y2="282" stroke="#000" stroke-width="0.8"/>
<line x1="473.1" y1="282" x2="572" y2="282" stroke="#000" stroke-width="0.8"/>
<line x1="471.6" y1="282" x2="473.1" y2="282" stroke="#000" stroke-width="0.5"/>
<text x="471.1" y="283.2" font-size="3.8" text-anchor="end" fill="#222">0</text>
<line x1="471.6" y1="273.2" x2="473.1" y2="273.2" stroke="#000" stroke-width="0.5"/>
<text x="471.1" y="274.4" font-size="3.8" text-anchor="end" fill="#222">20</text>
<line x1="471.6" y1="264.5" x2="473.1" y2="264.5" stroke="#000" stroke-width="0.5"/>
<text x="471.1" y="265.7" font-size="3.8" text-anchor="end" fill="#222">40</text>
<line x1="471.6" y1="255.7" x2="473.1" y2="255.7" stroke="#000" stroke-width="0.5"/>
<text x="471.1" y="256.9" font-size="3.8" text-anchor="end" fill="#222">60</text>
<line x1="471.6" y1="246.9" x2="473.1" y2="246.9" stroke="#000" stroke-width="0.5"/>
<text x="471.1" y="248.1" font-size="3.8" text-anchor="end" fill="#222">80</text>
<line x1="471.6" y1="238.2" x2="473.1" y2="238.2" stroke="#000" stroke-width="0.5"/>
<text x="471.1" y="239.3" font-size="3.8" text-anchor="end" fill="#222">100</text>
<line x1="471.6" y1="229.4" x2="473.1" y2="229.4" stroke="#000" stroke-width="0.5"/>
<text x="471.1" y="230.6" font-size="3.8" text-anchor="end" fill="#222">120</text>
<line x1="471.6" y1="220.6" x2="473.1" y2="220.6" stroke="#000" stroke-width="0.5"/>
<text x="471.1" y="221.8" font-size="3.8" text-anchor="end" fill="#222">140</text>
<line x1="473.1" y1="282" x2="473.1" y2="283.5" stroke="#000" stroke-width="0.5"/>
<text x="473.1" y="287.4" font-size="3.8" text-anchor="middle" fill="#222">0</text>
<line x1="486.6" y1="282" x2="486.6" y2="283.5" stroke="#000" stroke-width="0.5"/>
<text x="486.6" y="287.4" font-size="3.8" text-anchor="middle" fill="#222">10</text>
<line x1="500" y1="282" x2="500" y2="283.5" stroke="#000" stroke-width="0.5"/>
<text x="500" y="287.4" font-size="3.8" text-anchor="middle" fill="#222">30</text>
<line x1="513.5" y1="282" x2="513.5" y2="283.5" stroke="#000" stroke-width="0.5"/>
<text x="513.5" y="287.4" font-size="3.8" text-anchor="middle" fill="#222">100</text>
<line x1="526.9" y1="282" x2="526.9" y2="283.5" stroke="#000" stroke-width="0.5"/>
<text x="526.9" y="287.4" font-size="3.8" text-anchor="middle" fill="#222">300</text>
<line x1="540.4" y1="282" x2="540.4" y2="283.5" stroke="#000" stroke-width="0.5"/>
<text x="540.4" y="287.4" font-size="3.8" text-anchor="middle" fill="#222">1000</text>
<line x1="553.8" y1="282" x2="553.8" y2="283.5" stroke="#000" stroke-width="0.5"/>
<text x="553.8" y="287.4" font-size="3.8" text-anchor="middle" fill="#222">3000</text>
<line x1="567.2" y1="282" x2="567.2" y2="283.5" stroke="#000" stroke-width="0.5"/>
<text x="567.2" y="287.4" font-size="3.8" text-anchor="middle" fill="#222">10000</text>
<text x="521.3" y="297.2" font-size="4.0" text-anchor="middle" fill="#222">GSK-591 [nM]</text>
<text transform="translate(463.6,251) rotate(-90)" font-size="3.8" text-anchor="middle" fill="#c8c8c8">% Cell Viability at 96h</text>
<line x1="476" y1="227.2" x2="567.2" y2="251.2" stroke="#0532ff" stroke-width="1.1"/>
<path d="M476.1 236.1C476.5 236.3 477.7 236.7 478.4 237.1C479.2 237.4 480.0 237.8 480.8 238.2C481.6 238.5 482.3 238.9 483.1 239.3C483.9 239.7 484.7 240.1 485.4 240.5C486.2 240.9 487.0 241.4 487.8 241.8C488.6 242.2 489.3 242.7 490.1 243.1C490.9 243.6 491.7 244.0 492.5 244.5C493.2 244.9 494.0 245.4 494.8 245.9C495.6 246.4 496.3 246.9 497.1 247.3C497.9 247.8 498.7 248.3 499.5 248.8C500.2 249.3 501.0 249.8 501.8 250.3C502.6 250.8 503.4 251.3 504.1 251.8C504.9 252.3 505.7 252.8 506.5 253.3C507.2 253.8 508.0 254.3 508.8 254.8C509.6 255.3 510.4 255.8 511.1 256.3C511.9 256.7 512.7 257.2 513.5 257.7C514.3 258.1 515.0 258.6 515.8 259.1C516.6 259.5 517.4 260.0 518.1 260.4C518.9 260.8 519.7 261.3 520.5 261.7C521.3 262.1 522.0 262.5 522.8 262.9C523.6 263.3 524.4 263.7 525.2 264.1C525.9 264.5 526.7 264.8 527.5 265.2C528.3 265.6 529.0 265.9 529.8 266.2C530.6 266.6 531.4 266.9 532.2 267.2C532.9 267.5 533.7 267.8 534.5 268.1C535.3 268.4 536.1 268.7 536.8 269.0C537.6 269.2 538.4 269.5 539.2 269.7C539.9 270.0 540.7 270.2 541.5 270.4C542.3 270.7 543.1 270.9 543.8 271.1C544.6 271.3 545.4 271.5 546.2 271.7C547.0 271.9 547.7 272.1 548.5 272.2C549.3 272.4 550.1 272.6 550.8 272.7C551.6 272.9 552.4 273.1 553.2 273.2C554.0 273.3 554.7 273.5 555.5 273.6C556.3 273.7 557.1 273.9 557.9 274.0C558.6 274.1 559.4 274.2 560.2 274.3C561.0 274.4 561.7 274.5 562.5 274.6C563.3 274.7 564.1 274.8 564.9 274.9C565.6 275.0 566.8 275.1 567.2 275.1" stroke="#000" stroke-width="1.1" fill="none"/>
<path d="M475.0 225.9h2.2v2.2h-2.2zM482.6 227.1h2.2v2.2h-2.2zM490.4 231.1h2.2v2.2h-2.2zM498.9 232.9h2.2v2.2h-2.2zM506.7 233.6h2.2v2.2h-2.2zM514.9 235.8h2.2v2.2h-2.2zM523.2 239.9h2.2v2.2h-2.2zM531.1 239.9h2.2v2.2h-2.2zM539.5 242.9h2.2v2.2h-2.2zM557.9 247.8h2.2v2.2h-2.2zM566.1 250.7h2.2v2.2h-2.2z" fill="#0532ff"/>
<path d="M475.0 236.4h2.2v2.2h-2.2zM482.6 237.2h2.2v2.2h-2.2zM490.4 241.1h2.2v2.2h-2.2zM498.9 249.0h2.2v2.2h-2.2zM506.7 254.2h2.2v2.2h-2.2zM514.9 258.6h2.2v2.2h-2.2zM523.2 262.6h2.2v2.2h-2.2zM531.1 264.7h2.2v2.2h-2.2zM539.5 269.1h2.2v2.2h-2.2zM557.9 272.6h2.2v2.2h-2.2zM566.1 274.9h2.2v2.2h-2.2z" fill="#000"/>
<line x1="483.7" y1="226.7" x2="483.7" y2="229.7" stroke="#0532ff" stroke-width="0.6"/>
<line x1="482.5" y1="226.7" x2="484.9" y2="226.7" stroke="#0532ff" stroke-width="0.6"/>
<line x1="482.5" y1="229.7" x2="484.9" y2="229.7" stroke="#0532ff" stroke-width="0.6"/>
<line x1="516" y1="234.9" x2="516" y2="238.9" stroke="#0532ff" stroke-width="0.6"/>
<line x1="514.8" y1="234.9" x2="517.2" y2="234.9" stroke="#0532ff" stroke-width="0.6"/>
<line x1="514.8" y1="238.9" x2="517.2" y2="238.9" stroke="#0532ff" stroke-width="0.6"/>
<line x1="559" y1="246.7" x2="559" y2="251.1" stroke="#0532ff" stroke-width="0.6"/>
<line x1="557.8" y1="246.7" x2="560.2" y2="246.7" stroke="#0532ff" stroke-width="0.6"/>
<line x1="557.8" y1="251.1" x2="560.2" y2="251.1" stroke="#0532ff" stroke-width="0.6"/>
<line x1="507.8" y1="253.1" x2="507.8" y2="257.5" stroke="#000" stroke-width="0.6"/>
<line x1="506.6" y1="253.1" x2="509" y2="253.1" stroke="#000" stroke-width="0.6"/>
<line x1="506.6" y1="257.5" x2="509" y2="257.5" stroke="#000" stroke-width="0.6"/>
<line x1="532.2" y1="263.6" x2="532.2" y2="268" stroke="#000" stroke-width="0.6"/>
<line x1="531" y1="263.6" x2="533.4" y2="263.6" stroke="#000" stroke-width="0.6"/>
<line x1="531" y1="268" x2="533.4" y2="268" stroke="#000" stroke-width="0.6"/>
<line x1="500" y1="248.7" x2="500" y2="251.5" stroke="#000" stroke-width="0.6"/>
<line x1="498.8" y1="248.7" x2="501.2" y2="248.7" stroke="#000" stroke-width="0.6"/>
<line x1="498.8" y1="251.5" x2="501.2" y2="251.5" stroke="#000" stroke-width="0.6"/>
<path d="M570.6 255.3H573.5V275.5H570.6" stroke="#333" stroke-width="0.6" fill="none"/>
<line x1="559.3" y1="228.1" x2="564.3" y2="228.1" stroke="#000" stroke-width="0.7"/>
<path d="M560.9 227.2h1.8v1.8h-1.8z" fill="#000"/>
<text x="568.4" y="230.3" font-size="5.8" fill="#111">Empty vector</text>
<line x1="559.3" y1="238.3" x2="564.3" y2="238.3" stroke="#0532ff" stroke-width="0.7"/>
<path d="M560.9 237.4h1.8v1.8h-1.8z" fill="#0532ff"/>
<text x="568.4" y="240.5" font-size="5.8" fill="#111">MSI2 O/E</text>
<text x="592" y="265.5" font-size="7" font-style="italic" fill="#222">p&lt;0.0001</text>
<text x="528.8" y="315" font-size="9.7" text-anchor="middle">OCI-LY19 cells</text>
<line x1="478.9" y1="306.3" x2="478.9" y2="376.7" stroke="#000" stroke-width="0.8"/>
<line x1="478.9" y1="376.7" x2="583.5" y2="376.7" stroke="#000" stroke-width="0.8"/>
<line x1="477.4" y1="376.7" x2="478.9" y2="376.7" stroke="#000" stroke-width="0.5"/>
<text x="476.9" y="377.9" font-size="3.8" text-anchor="end" fill="#222">0</text>
<line x1="477.4" y1="366.6" x2="478.9" y2="366.6" stroke="#000" stroke-width="0.5"/>
<text x="476.9" y="367.8" font-size="3.8" text-anchor="end" fill="#222">20</text>
<line x1="477.4" y1="356.6" x2="478.9" y2="356.6" stroke="#000" stroke-width="0.5"/>
<text x="476.9" y="357.8" font-size="3.8" text-anchor="end" fill="#222">40</text>
<line x1="477.4" y1="346.5" x2="478.9" y2="346.5" stroke="#000" stroke-width="0.5"/>
<text x="476.9" y="347.7" font-size="3.8" text-anchor="end" fill="#222">60</text>
<line x1="477.4" y1="336.5" x2="478.9" y2="336.5" stroke="#000" stroke-width="0.5"/>
<text x="476.9" y="337.7" font-size="3.8" text-anchor="end" fill="#222">80</text>
<line x1="477.4" y1="326.4" x2="478.9" y2="326.4" stroke="#000" stroke-width="0.5"/>
<text x="476.9" y="327.6" font-size="3.8" text-anchor="end" fill="#222">100</text>
<line x1="477.4" y1="316.3" x2="478.9" y2="316.3" stroke="#000" stroke-width="0.5"/>
<text x="476.9" y="317.5" font-size="3.8" text-anchor="end" fill="#222">120</text>
<line x1="477.4" y1="306.3" x2="478.9" y2="306.3" stroke="#000" stroke-width="0.5"/>
<text x="476.9" y="307.5" font-size="3.8" text-anchor="end" fill="#222">140</text>
<line x1="478.9" y1="376.7" x2="478.9" y2="378.2" stroke="#000" stroke-width="0.5"/>
<text x="478.9" y="382.1" font-size="3.8" text-anchor="middle" fill="#222">0</text>
<line x1="493.7" y1="376.7" x2="493.7" y2="378.2" stroke="#000" stroke-width="0.5"/>
<text x="493.7" y="382.1" font-size="3.8" text-anchor="middle" fill="#222">10</text>
<line x1="508.4" y1="376.7" x2="508.4" y2="378.2" stroke="#000" stroke-width="0.5"/>
<text x="508.4" y="382.1" font-size="3.8" text-anchor="middle" fill="#222">30</text>
<line x1="523.2" y1="376.7" x2="523.2" y2="378.2" stroke="#000" stroke-width="0.5"/>
<text x="523.2" y="382.1" font-size="3.8" text-anchor="middle" fill="#222">100</text>
<line x1="537.9" y1="376.7" x2="537.9" y2="378.2" stroke="#000" stroke-width="0.5"/>
<text x="537.9" y="382.1" font-size="3.8" text-anchor="middle" fill="#222">300</text>
<line x1="552.7" y1="376.7" x2="552.7" y2="378.2" stroke="#000" stroke-width="0.5"/>
<text x="552.7" y="382.1" font-size="3.8" text-anchor="middle" fill="#222">1000</text>
<line x1="567.5" y1="376.7" x2="567.5" y2="378.2" stroke="#000" stroke-width="0.5"/>
<text x="567.5" y="382.1" font-size="3.8" text-anchor="middle" fill="#222">3000</text>
<line x1="582.2" y1="376.7" x2="582.2" y2="378.2" stroke="#000" stroke-width="0.5"/>
<text x="582.2" y="382.1" font-size="3.8" text-anchor="middle" fill="#222">10000</text>
<text transform="translate(470.8,342.5) rotate(-90)" font-size="4.3" text-anchor="middle" fill="#222">% Cell Viability at 96h</text>
<text x="530.5" y="393.8" font-size="4.0" text-anchor="middle" fill="#222">GSK-591 [nM]</text>
<path d="M482.1 319.8C482.5 319.8 483.8 319.9 484.7 319.9C485.5 320.0 486.4 320.0 487.3 320.1C488.1 320.1 489.0 320.2 489.8 320.2C490.7 320.3 491.6 320.4 492.4 320.4C493.3 320.5 494.1 320.6 495.0 320.7C495.9 320.7 496.7 320.8 497.6 320.9C498.4 321.0 499.3 321.1 500.2 321.2C501.0 321.3 501.9 321.4 502.7 321.5C503.6 321.6 504.5 321.7 505.3 321.9C506.2 322.0 507.0 322.1 507.9 322.3C508.8 322.4 509.6 322.6 510.5 322.8C511.3 322.9 512.2 323.1 513.1 323.3C513.9 323.5 514.8 323.7 515.6 323.9C516.5 324.1 517.4 324.3 518.2 324.5C519.1 324.8 519.9 325.0 520.8 325.2C521.7 325.5 522.5 325.8 523.4 326.0C524.2 326.3 525.1 326.6 526.0 326.9C526.8 327.2 527.7 327.5 528.5 327.8C529.4 328.1 530.3 328.4 531.1 328.8C532.0 329.1 532.8 329.5 533.7 329.8C534.5 330.2 535.4 330.5 536.3 330.9C537.1 331.3 538.0 331.7 538.8 332.0C539.7 332.4 540.6 332.8 541.4 333.2C542.3 333.6 543.1 334.0 544.0 334.4C544.9 334.8 545.7 335.2 546.6 335.6C547.4 336.0 548.3 336.4 549.2 336.7C550.0 337.1 550.9 337.5 551.7 337.9C552.6 338.3 553.5 338.7 554.3 339.0C555.2 339.4 556.0 339.7 556.9 340.1C557.8 340.4 558.6 340.8 559.5 341.1C560.3 341.4 561.2 341.8 562.1 342.1C562.9 342.4 563.8 342.7 564.6 343.0C565.5 343.3 566.4 343.5 567.2 343.8C568.1 344.1 568.9 344.3 569.8 344.6C570.7 344.8 571.5 345.0 572.4 345.3C573.2 345.5 574.1 345.7 575.0 345.9C575.8 346.1 576.7 346.3 577.5 346.5C578.4 346.6 579.3 346.8 580.1 347.0C581.0 347.1 582.3 347.3 582.7 347.4" stroke="#0532ff" stroke-width="1.1" fill="none"/>
<path d="M482.1 324.7C482.5 325.0 483.8 326.1 484.7 326.8C485.5 327.5 486.4 328.1 487.3 328.8C488.1 329.5 489.0 330.1 489.8 330.7C490.7 331.4 491.6 332.0 492.4 332.6C493.3 333.2 494.1 333.8 495.0 334.3C495.9 334.9 496.7 335.5 497.6 336.0C498.4 336.6 499.3 337.1 500.2 337.7C501.0 338.2 501.9 338.7 502.7 339.2C503.6 339.7 504.5 340.2 505.3 340.7C506.2 341.2 507.0 341.6 507.9 342.1C508.8 342.6 509.6 343.0 510.5 343.4C511.3 343.9 512.2 344.3 513.1 344.7C513.9 345.2 514.8 345.6 515.6 346.0C516.5 346.4 517.4 346.8 518.2 347.2C519.1 347.6 519.9 347.9 520.8 348.3C521.7 348.7 522.5 349.0 523.4 349.4C524.2 349.7 525.1 350.1 526.0 350.4C526.8 350.8 527.7 351.1 528.5 351.4C529.4 351.7 530.3 352.0 531.1 352.4C532.0 352.7 532.8 353.0 533.7 353.3C534.5 353.6 535.4 353.8 536.3 354.1C537.1 354.4 538.0 354.7 538.8 355.0C539.7 355.2 540.6 355.5 541.4 355.7C542.3 356.0 543.1 356.3 544.0 356.5C544.9 356.8 545.7 357.0 546.6 357.2C547.4 357.5 548.3 357.7 549.2 357.9C550.0 358.2 550.9 358.4 551.7 358.6C552.6 358.8 553.5 359.0 554.3 359.2C555.2 359.4 556.0 359.6 556.9 359.8C557.8 360.0 558.6 360.2 559.5 360.4C560.3 360.6 561.2 360.8 562.1 361.0C562.9 361.1 563.8 361.3 564.6 361.5C565.5 361.7 566.4 361.8 567.2 362.0C568.1 362.2 568.9 362.3 569.8 362.5C570.7 362.6 571.5 362.8 572.4 363.0C573.2 363.1 574.1 363.3 575.0 363.4C575.8 363.5 576.7 363.7 577.5 363.8C578.4 364.0 579.3 364.1 580.1 364.2C581.0 364.4 582.3 364.6 582.7 364.6" stroke="#000" stroke-width="1.1" fill="none"/>
<path d="M481.0 317.4h2.2v2.2h-2.2zM489.9 321.7h2.2v2.2h-2.2zM497.8 317.8h2.2v2.2h-2.2zM507.0 320.9h2.2v2.2h-2.2zM516.2 326.2h2.2v2.2h-2.2zM525.1 326.2h2.2v2.2h-2.2zM534.6 324.9h2.2v2.2h-2.2zM543.5 335.7h2.2v2.2h-2.2zM552.2 338.8h2.2v2.2h-2.2zM572.7 342.8h2.2v2.2h-2.2zM581.6 347.2h2.2v2.2h-2.2z" fill="#0532ff"/>
<path d="M481.0 323.9h2.2v2.2h-2.2zM489.9 329.6h2.2v2.2h-2.2zM497.8 336.2h2.2v2.2h-2.2zM507.0 339.6h2.2v2.2h-2.2zM516.2 349.3h2.2v2.2h-2.2zM525.1 348.0h2.2v2.2h-2.2zM534.6 352.7h2.2v2.2h-2.2zM543.5 355.1h2.2v2.2h-2.2zM552.2 357.7h2.2v2.2h-2.2zM572.7 361.2h2.2v2.2h-2.2zM581.6 364.6h2.2v2.2h-2.2z" fill="#000"/>
<line x1="498.9" y1="331.8" x2="498.9" y2="342.8" stroke="#000" stroke-width="0.6"/>
<line x1="497.7" y1="331.8" x2="500.1" y2="331.8" stroke="#000" stroke-width="0.6"/>
<line x1="497.7" y1="342.8" x2="500.1" y2="342.8" stroke="#000" stroke-width="0.6"/>
<line x1="517.3" y1="346.4" x2="517.3" y2="354.4" stroke="#000" stroke-width="0.6"/>
<line x1="516.1" y1="346.4" x2="518.5" y2="346.4" stroke="#000" stroke-width="0.6"/>
<line x1="516.1" y1="354.4" x2="518.5" y2="354.4" stroke="#000" stroke-width="0.6"/>
<line x1="491" y1="329.5" x2="491" y2="331.9" stroke="#000" stroke-width="0.6"/>
<line x1="489.8" y1="329.5" x2="492.2" y2="329.5" stroke="#000" stroke-width="0.6"/>
<line x1="489.8" y1="331.9" x2="492.2" y2="331.9" stroke="#000" stroke-width="0.6"/>
<line x1="482.1" y1="316.5" x2="482.1" y2="320.5" stroke="#0532ff" stroke-width="0.6"/>
<line x1="480.9" y1="316.5" x2="483.3" y2="316.5" stroke="#0532ff" stroke-width="0.6"/>
<line x1="480.9" y1="320.5" x2="483.3" y2="320.5" stroke="#0532ff" stroke-width="0.6"/>
<line x1="491" y1="320.8" x2="491" y2="324.8" stroke="#0532ff" stroke-width="0.6"/>
<line x1="489.8" y1="320.8" x2="492.2" y2="320.8" stroke="#0532ff" stroke-width="0.6"/>
<line x1="489.8" y1="324.8" x2="492.2" y2="324.8" stroke="#0532ff" stroke-width="0.6"/>
<path d="M583.7 349.9H586.6V364.9H583.7" stroke="#333" stroke-width="0.6" fill="none"/>
<line x1="577" y1="324.2" x2="582" y2="324.2" stroke="#000" stroke-width="0.7"/>
<path d="M578.6 323.3h1.8v1.8h-1.8z" fill="#000"/>
<text x="584.8" y="326.4" font-size="6.2" fill="#111">Empty vector</text>
<line x1="577" y1="332.8" x2="582" y2="332.8" stroke="#0532ff" stroke-width="0.7"/>
<path d="M578.6 331.9h1.8v1.8h-1.8z" fill="#0532ff"/>
<text x="584.8" y="335" font-size="6.2" fill="#111">MSI2 O/E</text>
<text x="596.6" y="362.2" font-size="7.6" font-style="italic" fill="#222">p= 0.043</text>
<text x="71.6" y="425.9" font-size="9.7" text-anchor="middle">MSI2 knockdown</text>
<text x="69.4" y="443.8" font-size="9.7" text-anchor="middle">Z-138 cells</text>
<line x1="23.7" y1="444.2" x2="23.7" y2="496" stroke="#000" stroke-width="0.8"/>
<line x1="23.7" y1="496" x2="108.2" y2="496" stroke="#000" stroke-width="0.8"/>
<line x1="22.2" y1="496" x2="23.7" y2="496" stroke="#000" stroke-width="0.5"/>
<text x="21.7" y="497.2" font-size="3.4" text-anchor="end" fill="#222">0</text>
<line x1="22.2" y1="487.4" x2="23.7" y2="487.4" stroke="#000" stroke-width="0.5"/>
<text x="21.7" y="488.6" font-size="3.4" text-anchor="end" fill="#222">20</text>
<line x1="22.2" y1="478.8" x2="23.7" y2="478.8" stroke="#000" stroke-width="0.5"/>
<text x="21.7" y="480" font-size="3.4" text-anchor="end" fill="#222">40</text>
<line x1="22.2" y1="470.2" x2="23.7" y2="470.2" stroke="#000" stroke-width="0.5"/>
<text x="21.7" y="471.4" font-size="3.4" text-anchor="end" fill="#222">60</text>
<line x1="22.2" y1="461.6" x2="23.7" y2="461.6" stroke="#000" stroke-width="0.5"/>
<text x="21.7" y="462.8" font-size="3.4" text-anchor="end" fill="#222">80</text>
<line x1="22.2" y1="453" x2="23.7" y2="453" stroke="#000" stroke-width="0.5"/>
<text x="21.7" y="454.2" font-size="3.4" text-anchor="end" fill="#222">100</text>
<line x1="22.2" y1="444.4" x2="23.7" y2="444.4" stroke="#000" stroke-width="0.5"/>
<text x="21.7" y="445.6" font-size="3.4" text-anchor="end" fill="#222">120</text>
<line x1="23.5" y1="496" x2="23.5" y2="497.5" stroke="#000" stroke-width="0.5"/>
<text x="23.5" y="501.4" font-size="3.4" text-anchor="middle" fill="#222">0</text>
<line x1="35" y1="496" x2="35" y2="497.5" stroke="#000" stroke-width="0.5"/>
<text x="35" y="501.4" font-size="3.4" text-anchor="middle" fill="#222">10</text>
<line x1="46.6" y1="496" x2="46.6" y2="497.5" stroke="#000" stroke-width="0.5"/>
<text x="46.6" y="501.4" font-size="3.4" text-anchor="middle" fill="#222">50</text>
<line x1="58.2" y1="496" x2="58.2" y2="497.5" stroke="#000" stroke-width="0.5"/>
<text x="58.2" y="501.4" font-size="3.4" text-anchor="middle" fill="#222">100</text>
<line x1="69.7" y1="496" x2="69.7" y2="497.5" stroke="#000" stroke-width="0.5"/>
<text x="69.7" y="501.4" font-size="3.4" text-anchor="middle" fill="#222">500</text>
<line x1="81.2" y1="496" x2="81.2" y2="497.5" stroke="#000" stroke-width="0.5"/>
<text x="81.2" y="501.4" font-size="3.4" text-anchor="middle" fill="#222">1000</text>
<line x1="92.8" y1="496" x2="92.8" y2="497.5" stroke="#000" stroke-width="0.5"/>
<text x="92.8" y="501.4" font-size="3.4" text-anchor="middle" fill="#222">5000</text>
<line x1="104.4" y1="496" x2="104.4" y2="497.5" stroke="#000" stroke-width="0.5"/>
<text x="104.4" y="501.4" font-size="3.4" text-anchor="middle" fill="#222">10000</text>
<text x="64.5" y="509" font-size="3.4" text-anchor="middle" fill="#333">GSK-591 [nM]</text>
<text transform="translate(10.5,470) rotate(-90)" font-size="3.4" text-anchor="middle" fill="#333">% Cell Viability at 96h</text>
<path d="M25.4 452.7C25.7 452.8 26.7 453.1 27.4 453.4C28.1 453.6 28.7 453.8 29.4 454.1C30.1 454.3 30.8 454.5 31.4 454.8C32.1 455.0 32.8 455.3 33.4 455.6C34.1 455.8 34.8 456.1 35.4 456.3C36.1 456.6 36.8 456.9 37.4 457.2C38.1 457.5 38.8 457.8 39.5 458.0C40.1 458.3 40.8 458.6 41.5 458.9C42.1 459.2 42.8 459.6 43.5 459.9C44.1 460.2 44.8 460.5 45.5 460.8C46.1 461.1 46.8 461.5 47.5 461.8C48.2 462.1 48.8 462.5 49.5 462.8C50.2 463.1 50.8 463.5 51.5 463.8C52.2 464.1 52.8 464.5 53.5 464.8C54.2 465.2 54.8 465.5 55.5 465.9C56.2 466.2 56.9 466.6 57.5 466.9C58.2 467.3 58.9 467.6 59.5 468.0C60.2 468.3 60.9 468.7 61.5 469.0C62.2 469.4 62.9 469.7 63.5 470.1C64.2 470.4 64.9 470.8 65.6 471.1C66.2 471.5 66.9 471.8 67.6 472.1C68.2 472.5 68.9 472.8 69.6 473.2C70.2 473.5 70.9 473.8 71.6 474.1C72.2 474.5 72.9 474.8 73.6 475.1C74.3 475.4 74.9 475.8 75.6 476.1C76.3 476.4 76.9 476.7 77.6 477.0C78.3 477.3 78.9 477.6 79.6 477.9C80.3 478.2 80.9 478.4 81.6 478.7C82.3 479.0 83.0 479.3 83.6 479.5C84.3 479.8 85.0 480.1 85.6 480.3C86.3 480.6 87.0 480.8 87.6 481.1C88.3 481.3 89.0 481.6 89.6 481.8C90.3 482.0 91.0 482.3 91.7 482.5C92.3 482.7 93.0 482.9 93.7 483.1C94.3 483.3 95.0 483.5 95.7 483.7C96.3 483.9 97.0 484.1 97.7 484.3C98.3 484.5 99.0 484.7 99.7 484.9C100.4 485.0 101.0 485.2 101.7 485.4C102.4 485.5 103.4 485.8 103.7 485.9" stroke="#000" stroke-width="0.9" fill="none"/>
<path d="M25.6 471.6C25.9 472.0 26.9 473.2 27.6 474.0C28.3 474.7 28.9 475.4 29.6 476.1C30.3 476.8 30.9 477.4 31.6 478.0C32.2 478.6 32.9 479.2 33.6 479.7C34.2 480.3 34.9 480.8 35.6 481.3C36.2 481.8 36.9 482.3 37.6 482.7C38.2 483.2 38.9 483.6 39.6 484.0C40.2 484.4 40.9 484.8 41.6 485.1C42.2 485.5 42.9 485.9 43.6 486.2C44.2 486.5 44.9 486.8 45.5 487.1C46.2 487.4 46.9 487.7 47.5 488.0C48.2 488.2 48.9 488.5 49.5 488.7C50.2 489.0 50.9 489.2 51.5 489.4C52.2 489.6 52.9 489.8 53.5 490.0C54.2 490.2 54.9 490.4 55.5 490.6C56.2 490.7 56.9 490.9 57.5 491.1C58.2 491.2 58.8 491.4 59.5 491.5C60.2 491.7 60.8 491.8 61.5 491.9C62.2 492.1 62.8 492.2 63.5 492.3C64.2 492.4 64.8 492.5 65.5 492.6C66.2 492.7 66.8 492.8 67.5 492.9C68.2 493.0 68.8 493.1 69.5 493.2C70.2 493.3 70.8 493.4 71.5 493.4C72.1 493.5 72.8 493.6 73.5 493.7C74.1 493.7 74.8 493.8 75.5 493.9C76.1 493.9 76.8 494.0 77.5 494.0C78.1 494.1 78.8 494.2 79.5 494.2C80.1 494.3 80.8 494.3 81.5 494.4C82.1 494.4 82.8 494.4 83.5 494.5C84.1 494.5 84.8 494.6 85.4 494.6C86.1 494.6 86.8 494.7 87.4 494.7C88.1 494.7 88.8 494.8 89.4 494.8C90.1 494.8 90.8 494.9 91.4 494.9C92.1 494.9 92.8 494.9 93.4 495.0C94.1 495.0 94.8 495.0 95.4 495.0C96.1 495.1 96.8 495.1 97.4 495.1C98.1 495.1 98.7 495.1 99.4 495.2C100.1 495.2 100.7 495.2 101.4 495.2C102.1 495.2 103.1 495.3 103.4 495.3" stroke="#0532ff" stroke-width="1.1" fill="none"/>
<path d="M24.5 451.7h1.8v1.8h-1.8zM31.5 453.8h1.8v1.8h-1.8zM38.0 456.9h1.8v1.8h-1.8zM45.0 462.2h1.8v1.8h-1.8zM52.0 463.1h1.8v1.8h-1.8zM59.0 465.3h1.8v1.8h-1.8zM66.0 470.9h1.8v1.8h-1.8zM73.0 475.3h1.8v1.8h-1.8zM80.0 477.9h1.8v1.8h-1.8zM95.5 482.8h1.8v1.8h-1.8zM102.8 484.9h1.8v1.8h-1.8z" fill="#000"/>
<path d="M24.7 471.0h1.8v1.8h-1.8zM31.7 476.7h1.8v1.8h-1.8zM38.6 484.3h1.8v1.8h-1.8zM45.6 487.1h1.8v1.8h-1.8zM52.6 489.0h1.8v1.8h-1.8zM59.5 490.4h1.8v1.8h-1.8zM65.9 491.5h1.8v1.8h-1.8zM73.1 492.6h1.8v1.8h-1.8zM79.8 493.4h1.8v1.8h-1.8zM95.5 494.3h1.8v1.8h-1.8zM102.5 494.7h1.8v1.8h-1.8z" fill="#0532ff"/>
<line x1="45.9" y1="460.6" x2="45.9" y2="465.6" stroke="#000" stroke-width="0.5"/>
<line x1="44.7" y1="460.6" x2="47.1" y2="460.6" stroke="#000" stroke-width="0.5"/>
<line x1="44.7" y1="465.6" x2="47.1" y2="465.6" stroke="#000" stroke-width="0.5"/>
<line x1="52.9" y1="462.5" x2="52.9" y2="465.5" stroke="#000" stroke-width="0.5"/>
<line x1="51.7" y1="462.5" x2="54.1" y2="462.5" stroke="#000" stroke-width="0.5"/>
<line x1="51.7" y1="465.5" x2="54.1" y2="465.5" stroke="#000" stroke-width="0.5"/>
<line x1="59.9" y1="464.4" x2="59.9" y2="468" stroke="#000" stroke-width="0.5"/>
<line x1="58.7" y1="464.4" x2="61.1" y2="464.4" stroke="#000" stroke-width="0.5"/>
<line x1="58.7" y1="468" x2="61.1" y2="468" stroke="#000" stroke-width="0.5"/>
<line x1="96.4" y1="481.4" x2="96.4" y2="486" stroke="#000" stroke-width="0.5"/>
<line x1="95.2" y1="481.4" x2="97.6" y2="481.4" stroke="#000" stroke-width="0.5"/>
<line x1="95.2" y1="486" x2="97.6" y2="486" stroke="#000" stroke-width="0.5"/>
<line x1="103.7" y1="483.3" x2="103.7" y2="488.3" stroke="#000" stroke-width="0.5"/>
<line x1="102.5" y1="483.3" x2="104.9" y2="483.3" stroke="#000" stroke-width="0.5"/>
<line x1="102.5" y1="488.3" x2="104.9" y2="488.3" stroke="#000" stroke-width="0.5"/>
<line x1="32.4" y1="453.5" x2="32.4" y2="455.9" stroke="#000" stroke-width="0.5"/>
<line x1="31.2" y1="453.5" x2="33.6" y2="453.5" stroke="#000" stroke-width="0.5"/>
<line x1="31.2" y1="455.9" x2="33.6" y2="455.9" stroke="#000" stroke-width="0.5"/>
<line x1="39.5" y1="484" x2="39.5" y2="486.4" stroke="#0532ff" stroke-width="0.5"/>
<line x1="38.3" y1="484" x2="40.7" y2="484" stroke="#0532ff" stroke-width="0.5"/>
<line x1="38.3" y1="486.4" x2="40.7" y2="486.4" stroke="#0532ff" stroke-width="0.5"/>
<line x1="32.6" y1="476.6" x2="32.6" y2="478.6" stroke="#0532ff" stroke-width="0.5"/>
<line x1="31.4" y1="476.6" x2="33.8" y2="476.6" stroke="#0532ff" stroke-width="0.5"/>
<line x1="31.4" y1="478.6" x2="33.8" y2="478.6" stroke="#0532ff" stroke-width="0.5"/>
<path d="M105.5 485.2H108.2V496H105.5" stroke="#333" stroke-width="0.6" fill="none"/>
<line x1="73" y1="452.6" x2="77.6" y2="452.6" stroke="#000" stroke-width="0.7"/>
<path d="M74.5 451.8h1.6v1.6h-1.6z" fill="#000"/>
<text x="80.2" y="454.8" font-size="5.8" fill="#111">Scramble <tspan font-style="italic">shRNA</tspan></text>
<line x1="73" y1="461.3" x2="77.6" y2="461.3" stroke="#0532ff" stroke-width="0.7"/>
<path d="M74.5 460.5h1.6v1.6h-1.6z" fill="#0532ff"/>
<text x="80.2" y="463.5" font-size="5.8" fill="#111">MSI2 <tspan font-style="italic">shRNA</tspan></text>
<text x="108.7" y="481.8" font-size="7" font-style="italic" fill="#222">p= 0.008</text>
<text x="77.2" y="526.6" font-size="9.7" text-anchor="middle">OCI-LY19 cells</text>
<line x1="27.5" y1="524.6" x2="27.5" y2="576.9" stroke="#000" stroke-width="0.8"/>
<line x1="27.5" y1="576.9" x2="106.3" y2="576.9" stroke="#000" stroke-width="0.8"/>
<line x1="26" y1="576.9" x2="27.5" y2="576.9" stroke="#000" stroke-width="0.5"/>
<text x="25.5" y="578.1" font-size="3.4" text-anchor="end" fill="#222">0</text>
<line x1="26" y1="568.2" x2="27.5" y2="568.2" stroke="#000" stroke-width="0.5"/>
<text x="25.5" y="569.4" font-size="3.4" text-anchor="end" fill="#222">20</text>
<line x1="26" y1="559.6" x2="27.5" y2="559.6" stroke="#000" stroke-width="0.5"/>
<text x="25.5" y="560.8" font-size="3.4" text-anchor="end" fill="#222">40</text>
<line x1="26" y1="550.9" x2="27.5" y2="550.9" stroke="#000" stroke-width="0.5"/>
<text x="25.5" y="552.1" font-size="3.4" text-anchor="end" fill="#222">60</text>
<line x1="26" y1="542.3" x2="27.5" y2="542.3" stroke="#000" stroke-width="0.5"/>
<text x="25.5" y="543.5" font-size="3.4" text-anchor="end" fill="#222">80</text>
<line x1="26" y1="533.6" x2="27.5" y2="533.6" stroke="#000" stroke-width="0.5"/>
<text x="25.5" y="534.8" font-size="3.4" text-anchor="end" fill="#222">100</text>
<line x1="26" y1="524.9" x2="27.5" y2="524.9" stroke="#000" stroke-width="0.5"/>
<text x="25.5" y="526.1" font-size="3.4" text-anchor="end" fill="#222">120</text>
<line x1="27.5" y1="576.9" x2="27.5" y2="578.4" stroke="#000" stroke-width="0.5"/>
<text x="27.5" y="582.3" font-size="3.4" text-anchor="middle" fill="#222">0</text>
<line x1="38.2" y1="576.9" x2="38.2" y2="578.4" stroke="#000" stroke-width="0.5"/>
<text x="38.2" y="582.3" font-size="3.4" text-anchor="middle" fill="#222">10</text>
<line x1="48.9" y1="576.9" x2="48.9" y2="578.4" stroke="#000" stroke-width="0.5"/>
<text x="48.9" y="582.3" font-size="3.4" text-anchor="middle" fill="#222">50</text>
<line x1="59.6" y1="576.9" x2="59.6" y2="578.4" stroke="#000" stroke-width="0.5"/>
<text x="59.6" y="582.3" font-size="3.4" text-anchor="middle" fill="#222">100</text>
<line x1="70.3" y1="576.9" x2="70.3" y2="578.4" stroke="#000" stroke-width="0.5"/>
<text x="70.3" y="582.3" font-size="3.4" text-anchor="middle" fill="#222">500</text>
<line x1="81" y1="576.9" x2="81" y2="578.4" stroke="#000" stroke-width="0.5"/>
<text x="81" y="582.3" font-size="3.4" text-anchor="middle" fill="#222">1000</text>
<line x1="91.7" y1="576.9" x2="91.7" y2="578.4" stroke="#000" stroke-width="0.5"/>
<text x="91.7" y="582.3" font-size="3.4" text-anchor="middle" fill="#222">5000</text>
<line x1="102.4" y1="576.9" x2="102.4" y2="578.4" stroke="#000" stroke-width="0.5"/>
<text x="102.4" y="582.3" font-size="3.4" text-anchor="middle" fill="#222">10000</text>
<text x="64.5" y="589.5" font-size="3.6" text-anchor="middle" fill="#333">GSK-591 [nM]</text>
<text transform="translate(14,550) rotate(-90)" font-size="3.4" text-anchor="middle" fill="#333">% Cell Viability at 96h</text>
<path d="M28.1 533.3C28.4 533.3 29.4 533.4 30.0 533.4C30.6 533.4 31.3 533.4 31.9 533.4C32.6 533.4 33.2 533.5 33.8 533.5C34.5 533.5 35.1 533.5 35.7 533.6C36.4 533.6 37.0 533.6 37.6 533.7C38.3 533.7 38.9 533.8 39.5 533.8C40.2 533.9 40.8 533.9 41.5 534.0C42.1 534.0 42.7 534.1 43.4 534.2C44.0 534.3 44.6 534.3 45.3 534.4C45.9 534.5 46.5 534.6 47.2 534.7C47.8 534.9 48.4 535.0 49.1 535.1C49.7 535.3 50.4 535.4 51.0 535.6C51.6 535.8 52.3 536.0 52.9 536.2C53.5 536.4 54.2 536.6 54.8 536.8C55.4 537.1 56.1 537.4 56.7 537.7C57.4 538.0 58.0 538.3 58.6 538.6C59.3 538.9 59.9 539.3 60.5 539.7C61.2 540.1 61.8 540.5 62.4 540.9C63.1 541.4 63.7 541.9 64.3 542.3C65.0 542.8 65.6 543.3 66.3 543.8C66.9 544.3 67.5 544.9 68.2 545.4C68.8 546.0 69.4 546.5 70.1 547.1C70.7 547.6 71.3 548.2 72.0 548.7C72.6 549.3 73.2 549.8 73.9 550.3C74.5 550.9 75.2 551.4 75.8 551.9C76.4 552.4 77.1 552.9 77.7 553.3C78.3 553.8 79.0 554.2 79.6 554.6C80.2 555.0 80.9 555.4 81.5 555.8C82.2 556.1 82.8 556.5 83.4 556.8C84.1 557.1 84.7 557.4 85.3 557.7C86.0 557.9 86.6 558.2 87.2 558.4C87.9 558.6 88.5 558.8 89.1 559.0C89.8 559.2 90.4 559.4 91.1 559.5C91.7 559.7 92.3 559.8 93.0 559.9C93.6 560.1 94.2 560.2 94.9 560.3C95.5 560.4 96.1 560.5 96.8 560.6C97.4 560.6 98.0 560.7 98.7 560.8C99.3 560.8 100.0 560.9 100.6 561.0C101.2 561.0 102.2 561.1 102.5 561.1" stroke="#000" stroke-width="0.9" fill="none"/>
<path d="M28.1 542.8C28.4 543.1 29.4 543.7 30.0 544.1C30.6 544.6 31.3 545.0 31.9 545.5C32.6 545.9 33.2 546.4 33.8 546.9C34.5 547.4 35.1 547.9 35.7 548.3C36.4 548.8 37.0 549.3 37.6 549.9C38.3 550.4 38.9 550.9 39.5 551.4C40.2 551.9 40.8 552.4 41.5 553.0C42.1 553.5 42.7 554.0 43.4 554.5C44.0 555.0 44.6 555.5 45.3 556.0C45.9 556.6 46.5 557.1 47.2 557.6C47.8 558.1 48.4 558.5 49.1 559.0C49.7 559.5 50.4 560.0 51.0 560.4C51.6 560.9 52.3 561.4 52.9 561.8C53.5 562.2 54.2 562.7 54.8 563.1C55.4 563.5 56.1 563.9 56.7 564.3C57.4 564.7 58.0 565.0 58.6 565.4C59.3 565.7 59.9 566.1 60.5 566.4C61.2 566.7 61.8 567.1 62.4 567.4C63.1 567.7 63.7 568.0 64.3 568.2C65.0 568.5 65.6 568.8 66.3 569.0C66.9 569.3 67.5 569.5 68.2 569.7C68.8 570.0 69.4 570.2 70.1 570.4C70.7 570.6 71.3 570.8 72.0 571.0C72.6 571.1 73.2 571.3 73.9 571.5C74.5 571.6 75.2 571.8 75.8 571.9C76.4 572.1 77.1 572.2 77.7 572.3C78.3 572.5 79.0 572.6 79.6 572.7C80.2 572.8 80.9 572.9 81.5 573.0C82.2 573.1 82.8 573.2 83.4 573.3C84.1 573.4 84.7 573.5 85.3 573.5C86.0 573.6 86.6 573.7 87.2 573.8C87.9 573.8 88.5 573.9 89.1 574.0C89.8 574.0 90.4 574.1 91.1 574.1C91.7 574.2 92.3 574.2 93.0 574.3C93.6 574.3 94.2 574.4 94.9 574.4C95.5 574.4 96.1 574.5 96.8 574.5C97.4 574.5 98.0 574.6 98.7 574.6C99.3 574.6 100.0 574.7 100.6 574.7C101.2 574.7 102.2 574.8 102.5 574.8" stroke="#0532ff" stroke-width="1.1" fill="none"/>
<path d="M27.2 532.1h1.8v1.8h-1.8zM34.2 532.3h1.8v1.8h-1.8zM40.9 532.9h1.8v1.8h-1.8zM47.5 535.1h1.8v1.8h-1.8zM54.1 535.9h1.8v1.8h-1.8zM60.8 540.3h1.8v1.8h-1.8zM67.0 543.1h1.8v1.8h-1.8zM73.5 549.8h1.8v1.8h-1.8zM80.3 555.5h1.8v1.8h-1.8zM94.9 559.6h1.8v1.8h-1.8zM101.6 559.8h1.8v1.8h-1.8z" fill="#000"/>
<path d="M27.2 542.1h1.8v1.8h-1.8zM34.2 546.9h1.8v1.8h-1.8zM40.9 551.7h1.8v1.8h-1.8zM47.5 558.3h1.8v1.8h-1.8zM54.1 562.1h1.8v1.8h-1.8zM60.8 566.8h1.8v1.8h-1.8zM67.0 568.2h1.8v1.8h-1.8zM73.5 570.1h1.8v1.8h-1.8zM80.3 572.5h1.8v1.8h-1.8zM94.9 573.1h1.8v1.8h-1.8zM101.6 574.4h1.8v1.8h-1.8z" fill="#0532ff"/>
<line x1="48.4" y1="534" x2="48.4" y2="538" stroke="#000" stroke-width="0.5"/>
<line x1="47.2" y1="534" x2="49.6" y2="534" stroke="#000" stroke-width="0.5"/>
<line x1="47.2" y1="538" x2="49.6" y2="538" stroke="#000" stroke-width="0.5"/>
<line x1="55" y1="534.8" x2="55" y2="538.8" stroke="#000" stroke-width="0.5"/>
<line x1="53.8" y1="534.8" x2="56.2" y2="534.8" stroke="#000" stroke-width="0.5"/>
<line x1="53.8" y1="538.8" x2="56.2" y2="538.8" stroke="#000" stroke-width="0.5"/>
<line x1="61.7" y1="538.7" x2="61.7" y2="543.7" stroke="#000" stroke-width="0.5"/>
<line x1="60.5" y1="538.7" x2="62.9" y2="538.7" stroke="#000" stroke-width="0.5"/>
<line x1="60.5" y1="543.7" x2="62.9" y2="543.7" stroke="#000" stroke-width="0.5"/>
<line x1="67.9" y1="541" x2="67.9" y2="547" stroke="#000" stroke-width="0.5"/>
<line x1="66.7" y1="541" x2="69.1" y2="541" stroke="#000" stroke-width="0.5"/>
<line x1="66.7" y1="547" x2="69.1" y2="547" stroke="#000" stroke-width="0.5"/>
<line x1="74.4" y1="546.7" x2="74.4" y2="554.7" stroke="#000" stroke-width="0.5"/>
<line x1="73.2" y1="546.7" x2="75.6" y2="546.7" stroke="#000" stroke-width="0.5"/>
<line x1="73.2" y1="554.7" x2="75.6" y2="554.7" stroke="#000" stroke-width="0.5"/>
<line x1="81.2" y1="553.9" x2="81.2" y2="558.9" stroke="#000" stroke-width="0.5"/>
<line x1="80" y1="553.9" x2="82.4" y2="553.9" stroke="#000" stroke-width="0.5"/>
<line x1="80" y1="558.9" x2="82.4" y2="558.9" stroke="#000" stroke-width="0.5"/>
<line x1="95.8" y1="559.3" x2="95.8" y2="561.7" stroke="#000" stroke-width="0.5"/>
<line x1="94.6" y1="559.3" x2="97" y2="559.3" stroke="#000" stroke-width="0.5"/>
<line x1="94.6" y1="561.7" x2="97" y2="561.7" stroke="#000" stroke-width="0.5"/>
<line x1="35.1" y1="542.8" x2="35.1" y2="552.8" stroke="#5a7cff" stroke-width="0.5"/>
<line x1="33.9" y1="542.8" x2="36.3" y2="542.8" stroke="#5a7cff" stroke-width="0.5"/>
<line x1="33.9" y1="552.8" x2="36.3" y2="552.8" stroke="#5a7cff" stroke-width="0.5"/>
<line x1="41.8" y1="546.1" x2="41.8" y2="559.1" stroke="#5a7cff" stroke-width="0.5"/>
<line x1="40.6" y1="546.1" x2="43" y2="546.1" stroke="#5a7cff" stroke-width="0.5"/>
<line x1="40.6" y1="559.1" x2="43" y2="559.1" stroke="#5a7cff" stroke-width="0.5"/>
<line x1="48.4" y1="554.2" x2="48.4" y2="564.2" stroke="#5a7cff" stroke-width="0.5"/>
<line x1="47.2" y1="554.2" x2="49.6" y2="554.2" stroke="#5a7cff" stroke-width="0.5"/>
<line x1="47.2" y1="564.2" x2="49.6" y2="564.2" stroke="#5a7cff" stroke-width="0.5"/>
<line x1="55" y1="560" x2="55" y2="566" stroke="#5a7cff" stroke-width="0.5"/>
<line x1="53.8" y1="560" x2="56.2" y2="560" stroke="#5a7cff" stroke-width="0.5"/>
<line x1="53.8" y1="566" x2="56.2" y2="566" stroke="#5a7cff" stroke-width="0.5"/>
<line x1="61.7" y1="565.7" x2="61.7" y2="569.7" stroke="#5a7cff" stroke-width="0.5"/>
<line x1="60.5" y1="565.7" x2="62.9" y2="565.7" stroke="#5a7cff" stroke-width="0.5"/>
<line x1="60.5" y1="569.7" x2="62.9" y2="569.7" stroke="#5a7cff" stroke-width="0.5"/>
<path d="M103.6 562H106.3V574.4H103.6" stroke="#333" stroke-width="0.6" fill="none"/>
<line x1="89.5" y1="536.8" x2="94" y2="536.8" stroke="#000" stroke-width="0.7"/>
<path d="M90.9 536.0h1.6v1.6h-1.6z" fill="#000"/>
<text x="94.5" y="539" font-size="6.3" fill="#111">Scramble <tspan font-style="italic">shRNA</tspan></text>
<line x1="89.5" y1="545" x2="94" y2="545" stroke="#0532ff" stroke-width="0.7"/>
<path d="M90.9 544.2h1.6v1.6h-1.6z" fill="#0532ff"/>
<text x="94.5" y="547.2" font-size="6.3" fill="#111">MSI2 <tspan font-style="italic">shRNA</tspan></text>
<text x="128.5" y="571.2" font-size="7" font-style="italic" fill="#222">p= 0.0004</text>
<text x="158.9" y="426.3" font-size="9.7">Z-138 derived xenograft model</text>
<line x1="181.5" y1="462.1" x2="181.5" y2="542.7" stroke="#000" stroke-width="0.8"/>
<line x1="181.5" y1="542.7" x2="294.3" y2="542.7" stroke="#000" stroke-width="0.8"/>
<line x1="179.8" y1="542.7" x2="181.5" y2="542.7" stroke="#000" stroke-width="0.5"/>
<text x="179.3" y="544" font-size="3.9" text-anchor="end" fill="#222">0</text>
<line x1="179.8" y1="529.3" x2="181.5" y2="529.3" stroke="#000" stroke-width="0.5"/>
<text x="179.3" y="530.6" font-size="3.9" text-anchor="end" fill="#222">1000</text>
<line x1="179.8" y1="515.8" x2="181.5" y2="515.8" stroke="#000" stroke-width="0.5"/>
<text x="179.3" y="517.1" font-size="3.9" text-anchor="end" fill="#222">2000</text>
<line x1="179.8" y1="502.4" x2="181.5" y2="502.4" stroke="#000" stroke-width="0.5"/>
<text x="179.3" y="503.7" font-size="3.9" text-anchor="end" fill="#222">3000</text>
<line x1="179.8" y1="489" x2="181.5" y2="489" stroke="#000" stroke-width="0.5"/>
<text x="179.3" y="490.3" font-size="3.9" text-anchor="end" fill="#222">4000</text>
<line x1="179.8" y1="475.6" x2="181.5" y2="475.6" stroke="#000" stroke-width="0.5"/>
<text x="179.3" y="476.9" font-size="3.9" text-anchor="end" fill="#222">5000</text>
<line x1="179.8" y1="462.1" x2="181.5" y2="462.1" stroke="#000" stroke-width="0.5"/>
<text x="179.3" y="463.4" font-size="3.9" text-anchor="end" fill="#222">6000</text>
<line x1="191.1" y1="542.7" x2="191.1" y2="544.3" stroke="#000" stroke-width="0.5"/>
<text x="191.1" y="548.9" font-size="4.1" text-anchor="middle" fill="#222">0</text>
<line x1="209.8" y1="542.7" x2="209.8" y2="544.3" stroke="#000" stroke-width="0.5"/>
<text x="209.8" y="548.9" font-size="4.1" text-anchor="middle" fill="#222">13</text>
<line x1="228.9" y1="542.7" x2="228.9" y2="544.3" stroke="#000" stroke-width="0.5"/>
<text x="228.9" y="548.9" font-size="4.1" text-anchor="middle" fill="#222">16</text>
<line x1="247.1" y1="542.7" x2="247.1" y2="544.3" stroke="#000" stroke-width="0.5"/>
<text x="247.1" y="548.9" font-size="4.1" text-anchor="middle" fill="#222">20</text>
<line x1="266.3" y1="542.7" x2="266.3" y2="544.3" stroke="#000" stroke-width="0.5"/>
<text x="266.3" y="548.9" font-size="4.1" text-anchor="middle" fill="#222">23</text>
<line x1="285" y1="542.7" x2="285" y2="544.3" stroke="#000" stroke-width="0.5"/>
<text x="285" y="548.9" font-size="4.1" text-anchor="middle" fill="#222">27</text>
<text x="238.4" y="561.4" font-size="5.4" text-anchor="middle" fill="#111">Days after tumor injection</text>
<text transform="translate(167.2,498.5) rotate(-90)" font-size="5.3" text-anchor="middle" fill="#222">Tumor Volume mm<tspan font-size="3.4" dy="-1.8">3</tspan></text>
<line x1="228.9" y1="536.9" x2="228.9" y2="535.4" stroke="#000" stroke-width="0.6"/>
<line x1="227.4" y1="535.4" x2="230.4" y2="535.4" stroke="#000" stroke-width="0.6"/>
<line x1="247.1" y1="528.7" x2="247.1" y2="526.2" stroke="#000" stroke-width="0.6"/>
<line x1="245.6" y1="526.2" x2="248.6" y2="526.2" stroke="#000" stroke-width="0.6"/>
<line x1="266.3" y1="509.1" x2="266.3" y2="497.5" stroke="#000" stroke-width="0.6"/>
<line x1="264.8" y1="497.5" x2="267.8" y2="497.5" stroke="#000" stroke-width="0.6"/>
<line x1="285" y1="482.7" x2="285" y2="471.5" stroke="#000" stroke-width="0.6"/>
<line x1="283.5" y1="471.5" x2="286.5" y2="471.5" stroke="#000" stroke-width="0.6"/>
<path d="M191.1 540.6L209.8 538.3L228.9 536.9L247.1 528.7L266.3 509.1L285.0 482.7" stroke="#000" stroke-width="1.0" fill="none"/>
<path d="M189.7 540.6a1.45 1.45 0 1 0 2.9 0a1.45 1.45 0 1 0 -2.9 0zM208.4 538.3a1.45 1.45 0 1 0 2.9 0a1.45 1.45 0 1 0 -2.9 0zM227.5 536.9a1.45 1.45 0 1 0 2.9 0a1.45 1.45 0 1 0 -2.9 0zM245.7 528.7a1.45 1.45 0 1 0 2.9 0a1.45 1.45 0 1 0 -2.9 0zM264.9 509.1a1.45 1.45 0 1 0 2.9 0a1.45 1.45 0 1 0 -2.9 0zM283.6 482.7a1.45 1.45 0 1 0 2.9 0a1.45 1.45 0 1 0 -2.9 0z" fill="#000"/>
<line x1="266.3" y1="525.2" x2="266.3" y2="522.7" stroke="#0532ff" stroke-width="0.6"/>
<line x1="264.8" y1="522.7" x2="267.8" y2="522.7" stroke="#0532ff" stroke-width="0.6"/>
<line x1="285" y1="502.6" x2="285" y2="496.3" stroke="#0532ff" stroke-width="0.6"/>
<line x1="283.5" y1="496.3" x2="286.5" y2="496.3" stroke="#0532ff" stroke-width="0.6"/>
<path d="M191.1 540.6L209.8 538.8L228.9 536.0L247.1 532.2L266.3 525.2L285.0 502.6" stroke="#0532ff" stroke-width="1.0" fill="none"/>
<path d="M189.7 540.6a1.45 1.45 0 1 0 2.9 0a1.45 1.45 0 1 0 -2.9 0zM208.4 538.8a1.45 1.45 0 1 0 2.9 0a1.45 1.45 0 1 0 -2.9 0zM227.5 536.0a1.45 1.45 0 1 0 2.9 0a1.45 1.45 0 1 0 -2.9 0zM245.7 532.2a1.45 1.45 0 1 0 2.9 0a1.45 1.45 0 1 0 -2.9 0zM264.9 525.2a1.45 1.45 0 1 0 2.9 0a1.45 1.45 0 1 0 -2.9 0zM283.6 502.6a1.45 1.45 0 1 0 2.9 0a1.45 1.45 0 1 0 -2.9 0z" fill="#0532ff"/>
<line x1="285" y1="511.9" x2="285" y2="499.4" stroke="#912dff" stroke-width="0.6"/>
<line x1="283.5" y1="499.4" x2="286.5" y2="499.4" stroke="#912dff" stroke-width="0.6"/>
<path d="M191.1 541.0L209.8 540.0L228.9 539.0L247.1 535.3L266.3 528.3L285.0 511.9" stroke="#912dff" stroke-width="1.0" fill="none"/>
<path d="M189.7 541.0a1.45 1.45 0 1 0 2.9 0a1.45 1.45 0 1 0 -2.9 0zM208.4 540.0a1.45 1.45 0 1 0 2.9 0a1.45 1.45 0 1 0 -2.9 0zM227.5 539.0a1.45 1.45 0 1 0 2.9 0a1.45 1.45 0 1 0 -2.9 0zM245.7 535.3a1.45 1.45 0 1 0 2.9 0a1.45 1.45 0 1 0 -2.9 0zM264.9 528.3a1.45 1.45 0 1 0 2.9 0a1.45 1.45 0 1 0 -2.9 0zM283.6 511.9a1.45 1.45 0 1 0 2.9 0a1.45 1.45 0 1 0 -2.9 0z" fill="#912dff"/>
<line x1="285" y1="530.6" x2="285" y2="528.4" stroke="#1aa0f0" stroke-width="0.6"/>
<line x1="283.5" y1="528.4" x2="286.5" y2="528.4" stroke="#1aa0f0" stroke-width="0.6"/>
<path d="M191.1 541.5L209.8 541.5L228.9 541.0L247.1 539.5L266.3 537.6L285.0 530.6" stroke="#1aa0f0" stroke-width="1.0" fill="none"/>
<path d="M189.7 541.5a1.45 1.45 0 1 0 2.9 0a1.45 1.45 0 1 0 -2.9 0zM208.4 541.5a1.45 1.45 0 1 0 2.9 0a1.45 1.45 0 1 0 -2.9 0zM227.5 541.0a1.45 1.45 0 1 0 2.9 0a1.45 1.45 0 1 0 -2.9 0zM245.7 539.5a1.45 1.45 0 1 0 2.9 0a1.45 1.45 0 1 0 -2.9 0zM264.9 537.6a1.45 1.45 0 1 0 2.9 0a1.45 1.45 0 1 0 -2.9 0zM283.6 530.6a1.45 1.45 0 1 0 2.9 0a1.45 1.45 0 1 0 -2.9 0z" fill="#1aa0f0"/>
<path d="M288 502.6H301.3V530.6H288" stroke="#333" stroke-width="0.6" fill="none"/>
<path d="M288 511.9H291V530.6" stroke="#333" stroke-width="0.6" fill="none"/>
<text x="305" y="516" font-size="6.8" font-style="italic" fill="#222">p=0.012</text>
<text x="288.2" y="537.8" font-size="6.8" font-style="italic" fill="#222">p= 0.0163</text>
<line x1="184.4" y1="448.2" x2="190.6" y2="448.2" stroke="#000" stroke-width="0.8"/>
<path d="M187.5 446.5l1.7 1.7l-1.7 1.7l-1.7 -1.7z" fill="#000"/>
<text x="193.4" y="450.1" font-size="5.45" fill="#111">Scramble Vehicle</text>
<line x1="184.4" y1="454.3" x2="190.6" y2="454.3" stroke="#0532ff" stroke-width="0.8"/>
<path d="M187.5 452.6l1.7 1.7l-1.7 1.7l-1.7 -1.7z" fill="#0532ff"/>
<text x="193.4" y="456.2" font-size="5.45" fill="#111">Scramble GSK-025 100mg/kg p.o. BID</text>
<line x1="184.4" y1="460.4" x2="190.6" y2="460.4" stroke="#912dff" stroke-width="0.8"/>
<path d="M187.5 458.7l1.7 1.7l-1.7 1.7l-1.7 -1.7z" fill="#912dff"/>
<text x="193.4" y="462.3" font-size="5.45" fill="#111">MSI2 shRNA Vehicle</text>
<line x1="184.4" y1="466.6" x2="190.6" y2="466.6" stroke="#1aa0f0" stroke-width="0.8"/>
<path d="M187.5 464.9l1.7 1.7l-1.7 1.7l-1.7 -1.7z" fill="#1aa0f0"/>
<text x="193.4" y="468.5" font-size="5.45" fill="#111">MSI2 shRNA GSK-025 100mg/kg p.o. BID</text>
<text x="350.8" y="423.6" font-size="9.7">Ki-67 expression in Z-138 derived tumors at Day 27 post</text>
<text x="446" y="434.7" font-size="9.7">engraftment</text>
<path d="M346.6 464.8H382.7V448H408V499.5H346.6Z" fill="#5a3825"/>
<clipPath id="c1"><path d="M346.6 464.8H382.7V448H408V499.5H346.6Z"/></clipPath>
<path clip-path="url(#c1)" d="M393.8 494.6h0.8v0.8h-0.8zM407.3 448.1h1.2v1.2h-1.2zM362.2 460.4h1.1v1.1h-1.1zM383.0 469.8h1.3v1.3h-1.3zM404.5 456.3h0.8v0.8h-0.8zM383.6 468.7h0.9v0.9h-0.9zM376.8 483.1h1.5v1.5h-1.5zM403.9 489.7h0.9v0.9h-0.9zM400.5 484.2h0.8v0.8h-0.8zM404.5 460.1h1.3v1.3h-1.3zM388.6 494.1h1.3v1.3h-1.3zM406.6 450.8h0.6v0.6h-0.6zM358.1 477.1h1.0v1.0h-1.0zM351.1 457.8h1.2v1.2h-1.2zM370.8 486.8h1.1v1.1h-1.1zM399.9 486.5h1.1v1.1h-1.1zM368.1 458.6h0.9v0.9h-0.9zM368.0 466.2h0.8v0.8h-0.8zM374.9 453.0h1.5v1.5h-1.5zM379.9 452.4h0.9v0.9h-0.9zM361.7 455.5h1.1v1.1h-1.1zM357.2 455.2h1.3v1.3h-1.3zM372.4 482.1h1.1v1.1h-1.1zM377.0 463.5h1.0v1.0h-1.0zM375.4 464.9h1.4v1.4h-1.4zM361.2 458.9h0.9v0.9h-0.9zM394.2 491.1h1.2v1.2h-1.2zM368.0 480.7h1.4v1.4h-1.4zM360.9 481.7h1.3v1.3h-1.3zM370.0 454.9h1.2v1.2h-1.2zM358.9 466.4h1.1v1.1h-1.1zM405.4 455.2h0.7v0.7h-0.7zM379.4 496.2h0.6v0.6h-0.6zM385.5 448.8h1.2v1.2h-1.2zM353.4 481.5h1.0v1.0h-1.0zM386.5 461.0h0.7v0.7h-0.7zM357.4 461.7h0.8v0.8h-0.8zM358.3 475.5h1.0v1.0h-1.0zM396.7 473.1h1.1v1.1h-1.1zM389.6 491.4h1.2v1.2h-1.2zM348.5 471.3h0.6v0.6h-0.6zM383.2 450.8h1.1v1.1h-1.1zM355.5 491.7h0.7v0.7h-0.7zM386.7 483.8h0.9v0.9h-0.9zM382.6 464.6h0.9v0.9h-0.9zM361.9 448.2h1.3v1.3h-1.3zM350.7 457.8h0.7v0.7h-0.7zM395.4 474.7h1.1v1.1h-1.1zM381.8 489.0h1.2v1.2h-1.2zM377.6 463.6h1.1v1.1h-1.1zM406.7 476.8h1.1v1.1h-1.1zM400.8 450.5h0.7v0.7h-0.7zM394.7 496.2h0.7v0.7h-0.7zM347.5 447.9h1.2v1.2h-1.2zM354.4 476.3h1.3v1.3h-1.3zM347.1 492.4h0.9v0.9h-0.9zM380.1 465.7h0.9v0.9h-0.9zM370.9 447.7h1.0v1.0h-1.0zM362.5 466.0h0.8v0.8h-0.8zM366.4 483.2h1.6v1.6h-1.6zM358.1 492.0h1.2v1.2h-1.2zM352.1 448.0h1.5v1.5h-1.5zM360.3 452.8h1.3v1.3h-1.3zM389.4 493.5h1.1v1.1h-1.1zM365.4 464.0h0.8v0.8h-0.8zM385.3 496.2h0.7v0.7h-0.7zM370.0 465.8h0.7v0.7h-0.7zM382.7 498.2h0.9v0.9h-0.9zM390.8 493.9h0.9v0.9h-0.9zM402.4 485.9h1.2v1.2h-1.2zM358.2 461.9h0.7v0.7h-0.7zM401.3 489.3h0.7v0.7h-0.7zM378.5 458.3h1.4v1.4h-1.4zM381.1 496.0h1.3v1.3h-1.3zM352.2 466.6h1.2v1.2h-1.2zM402.2 466.7h0.8v0.8h-0.8zM363.6 460.4h0.8v0.8h-0.8zM367.2 460.3h1.1v1.1h-1.1zM401.1 496.8h0.8v0.8h-0.8zM381.2 482.3h0.8v0.8h-0.8zM378.8 457.8h1.0v1.0h-1.0zM366.1 489.6h0.8v0.8h-0.8zM379.3 477.7h0.9v0.9h-0.9zM403.2 464.6h0.9v0.9h-0.9zM388.5 472.5h1.3v1.3h-1.3zM355.3 455.0h1.3v1.3h-1.3zM370.0 491.7h0.8v0.8h-0.8zM360.9 492.0h1.0v1.0h-1.0zM352.7 458.7h1.4v1.4h-1.4zM362.2 475.9h1.4v1.4h-1.4zM383.3 486.0h1.6v1.6h-1.6zM364.4 492.5h1.2v1.2h-1.2zM358.5 454.3h0.9v0.9h-0.9zM354.5 487.2h1.2v1.2h-1.2zM348.7 492.6h1.2v1.2h-1.2zM373.3 454.7h1.1v1.1h-1.1zM402.4 477.6h1.1v1.1h-1.1zM383.3 475.7h1.2v1.2h-1.2zM358.5 455.4h0.6v0.6h-0.6zM397.2 447.7h0.9v0.9h-0.9zM381.8 473.0h1.5v1.5h-1.5zM359.3 453.5h0.8v0.8h-0.8zM376.6 462.5h1.1v1.1h-1.1zM388.2 463.9h1.3v1.3h-1.3zM347.1 475.4h1.5v1.5h-1.5zM403.2 476.7h1.6v1.6h-1.6zM360.5 462.8h1.0v1.0h-1.0zM377.3 489.7h1.0v1.0h-1.0zM349.1 483.6h0.8v0.8h-0.8zM400.3 458.5h0.9v0.9h-0.9zM354.4 463.0h1.2v1.2h-1.2zM362.4 449.9h1.2v1.2h-1.2zM391.2 453.1h1.0v1.0h-1.0zM350.3 448.4h1.0v1.0h-1.0zM363.9 492.8h0.6v0.6h-0.6zM385.8 485.3h1.0v1.0h-1.0zM376.9 460.3h0.9v0.9h-0.9zM349.5 494.3h0.6v0.6h-0.6zM354.5 484.8h1.1v1.1h-1.1zM377.7 462.8h0.8v0.8h-0.8zM395.2 453.9h0.9v0.9h-0.9zM392.0 462.6h1.6v1.6h-1.6zM356.8 474.6h1.1v1.1h-1.1zM377.0 487.6h0.6v0.6h-0.6zM379.8 488.3h0.7v0.7h-0.7zM379.6 470.2h1.0v1.0h-1.0zM379.0 479.5h1.3v1.3h-1.3zM401.0 481.0h1.6v1.6h-1.6zM387.0 461.5h0.7v0.7h-0.7zM350.6 461.5h0.7v0.7h-0.7zM388.0 482.9h1.2v1.2h-1.2zM369.7 471.5h0.9v0.9h-0.9zM402.5 448.4h0.9v0.9h-0.9zM381.0 456.6h1.5v1.5h-1.5zM375.8 466.8h0.7v0.7h-0.7zM363.4 477.9h0.9v0.9h-0.9zM348.9 477.4h0.9v0.9h-0.9zM397.9 483.0h1.3v1.3h-1.3zM400.8 489.3h0.9v0.9h-0.9zM381.1 460.9h0.8v0.8h-0.8zM358.8 453.3h0.8v0.8h-0.8zM360.0 482.2h0.9v0.9h-0.9zM349.1 469.3h0.8v0.8h-0.8zM388.3 458.8h1.2v1.2h-1.2zM356.7 472.1h1.5v1.5h-1.5zM364.7 474.6h1.0v1.0h-1.0zM350.2 448.3h1.4v1.4h-1.4zM367.0 482.8h1.0v1.0h-1.0zM397.5 457.5h1.1v1.1h-1.1zM380.0 488.6h0.6v0.6h-0.6zM368.3 471.9h1.2v1.2h-1.2zM354.6 475.3h1.3v1.3h-1.3zM391.1 459.0h1.0v1.0h-1.0zM364.4 467.5h1.0v1.0h-1.0zM403.9 447.9h1.5v1.5h-1.5zM348.2 451.6h0.8v0.8h-0.8zM363.5 491.5h1.4v1.4h-1.4zM403.7 467.8h0.6v0.6h-0.6zM384.7 494.0h0.7v0.7h-0.7zM396.8 447.4h1.3v1.3h-1.3zM376.2 494.0h1.5v1.5h-1.5zM349.0 473.2h0.8v0.8h-0.8zM373.1 450.9h1.0v1.0h-1.0zM371.1 447.7h1.1v1.1h-1.1zM400.8 450.4h1.5v1.5h-1.5zM375.9 458.1h1.6v1.6h-1.6zM375.2 470.0h1.0v1.0h-1.0zM400.3 454.3h0.8v0.8h-0.8zM363.3 450.5h1.4v1.4h-1.4zM375.9 478.2h1.5v1.5h-1.5zM376.4 461.7h1.1v1.1h-1.1zM376.9 463.0h0.8v0.8h-0.8zM368.2 485.5h0.8v0.8h-0.8zM407.3 459.7h0.9v0.9h-0.9zM353.7 467.7h1.0v1.0h-1.0zM388.0 493.7h0.8v0.8h-0.8zM395.8 463.4h1.0v1.0h-1.0zM354.0 493.5h1.0v1.0h-1.0zM389.0 448.7h1.3v1.3h-1.3zM359.9 470.6h1.3v1.3h-1.3zM356.4 474.4h1.4v1.4h-1.4zM356.2 471.7h0.8v0.8h-0.8zM354.9 472.7h1.1v1.1h-1.1zM385.5 491.5h1.3v1.3h-1.3zM366.6 472.4h1.3v1.3h-1.3zM397.5 482.6h1.1v1.1h-1.1zM354.4 492.3h0.9v0.9h-0.9zM371.1 493.2h0.8v0.8h-0.8zM402.4 459.5h0.7v0.7h-0.7zM377.6 488.5h1.0v1.0h-1.0zM397.6 467.7h1.4v1.4h-1.4zM353.2 462.2h0.7v0.7h-0.7zM391.4 471.6h1.3v1.3h-1.3zM360.4 485.0h1.6v1.6h-1.6zM350.7 463.7h1.5v1.5h-1.5zM398.5 492.5h0.8v0.8h-0.8zM380.7 451.9h1.0v1.0h-1.0zM381.5 460.8h1.0v1.0h-1.0zM368.7 452.0h0.7v0.7h-0.7zM393.8 447.4h1.6v1.6h-1.6zM401.0 498.2h1.4v1.4h-1.4zM346.3 453.5h0.9v0.9h-0.9zM357.0 450.4h1.5v1.5h-1.5zM402.1 487.1h0.9v0.9h-0.9zM398.5 489.7h0.9v0.9h-0.9zM353.9 454.5h1.0v1.0h-1.0zM397.2 451.4h1.0v1.0h-1.0zM368.0 493.6h0.8v0.8h-0.8zM386.2 464.0h1.2v1.2h-1.2zM396.4 489.7h1.4v1.4h-1.4zM364.2 461.8h0.7v0.7h-0.7zM361.6 453.5h1.4v1.4h-1.4zM348.8 457.2h1.4v1.4h-1.4zM393.3 497.6h1.0v1.0h-1.0zM348.9 489.2h0.9v0.9h-0.9zM393.8 448.7h0.6v0.6h-0.6zM382.7 482.7h1.2v1.2h-1.2zM378.9 478.4h0.7v0.7h-0.7zM349.9 465.4h1.1v1.1h-1.1zM361.4 456.7h1.0v1.0h-1.0zM371.0 461.1h1.5v1.5h-1.5zM404.0 449.9h1.1v1.1h-1.1zM360.9 465.0h0.6v0.6h-0.6zM351.2 449.4h0.7v0.7h-0.7zM385.7 451.3h1.5v1.5h-1.5zM395.2 461.2h1.3v1.3h-1.3zM404.5 453.4h1.2v1.2h-1.2zM374.7 463.5h0.9v0.9h-0.9zM351.5 480.9h0.8v0.8h-0.8zM372.1 495.3h0.9v0.9h-0.9zM365.4 495.4h1.2v1.2h-1.2zM381.0 458.8h1.2v1.2h-1.2zM369.4 475.5h1.0v1.0h-1.0zM350.9 492.6h1.3v1.3h-1.3zM405.0 463.3h0.9v0.9h-0.9zM354.5 463.3h0.9v0.9h-0.9zM357.4 461.2h0.9v0.9h-0.9zM398.6 470.3h1.4v1.4h-1.4zM348.9 456.9h1.6v1.6h-1.6zM349.1 451.0h1.1v1.1h-1.1zM363.8 457.4h1.2v1.2h-1.2zM383.4 457.1h1.1v1.1h-1.1zM374.2 491.3h0.7v0.7h-0.7zM360.6 476.8h0.6v0.6h-0.6zM398.1 497.4h0.9v0.9h-0.9zM393.4 460.1h1.5v1.5h-1.5zM359.3 448.0h0.7v0.7h-0.7zM374.0 449.2h1.6v1.6h-1.6zM384.7 476.7h1.2v1.2h-1.2zM371.6 493.0h1.3v1.3h-1.3zM372.7 462.3h0.7v0.7h-0.7zM365.6 465.8h0.7v0.7h-0.7zM402.8 460.7h1.1v1.1h-1.1zM350.0 475.8h1.2v1.2h-1.2zM351.1 497.9h0.8v0.8h-0.8zM362.3 485.5h0.9v0.9h-0.9zM400.0 459.8h0.9v0.9h-0.9zM388.4 491.5h1.5v1.5h-1.5zM363.8 474.8h1.0v1.0h-1.0zM387.4 459.0h1.4v1.4h-1.4zM389.9 456.6h0.9v0.9h-0.9zM366.7 495.4h1.1v1.1h-1.1zM383.9 495.4h1.0v1.0h-1.0zM404.4 462.7h0.6v0.6h-0.6zM352.4 483.2h1.0v1.0h-1.0zM397.1 474.8h1.3v1.3h-1.3zM367.6 477.6h1.3v1.3h-1.3zM369.0 472.6h1.4v1.4h-1.4zM403.3 465.7h0.7v0.7h-0.7zM397.5 470.2h1.6v1.6h-1.6zM392.7 466.2h1.5v1.5h-1.5zM379.5 484.0h1.5v1.5h-1.5zM381.7 496.3h1.0v1.0h-1.0zM369.4 480.5h1.0v1.0h-1.0zM389.4 474.7h1.3v1.3h-1.3zM396.5 476.5h1.5v1.5h-1.5zM394.3 491.8h0.6v0.6h-0.6zM347.1 480.2h0.9v0.9h-0.9zM399.5 467.5h1.3v1.3h-1.3zM361.0 479.7h1.5v1.5h-1.5zM399.0 466.3h1.1v1.1h-1.1zM378.9 465.2h1.1v1.1h-1.1zM405.4 492.9h0.9v0.9h-0.9zM388.1 496.4h1.0v1.0h-1.0zM398.0 488.3h1.5v1.5h-1.5zM351.0 494.7h1.6v1.6h-1.6zM361.1 480.3h0.7v0.7h-0.7zM382.9 483.8h1.3v1.3h-1.3zM398.9 462.8h0.7v0.7h-0.7zM396.3 448.9h0.8v0.8h-0.8zM360.6 487.4h1.0v1.0h-1.0zM397.3 481.7h1.4v1.4h-1.4zM394.4 492.9h0.9v0.9h-0.9zM367.8 479.8h1.2v1.2h-1.2zM393.9 489.2h0.9v0.9h-0.9zM353.4 485.5h1.3v1.3h-1.3zM363.3 450.6h0.6v0.6h-0.6zM361.4 461.7h0.8v0.8h-0.8zM349.2 456.3h0.9v0.9h-0.9zM351.7 458.1h1.0v1.0h-1.0zM398.2 492.4h1.0v1.0h-1.0zM353.7 461.2h1.3v1.3h-1.3zM370.9 476.7h1.3v1.3h-1.3zM386.7 491.9h0.7v0.7h-0.7zM364.3 449.2h1.1v1.1h-1.1zM384.0 460.8h0.7v0.7h-0.7zM374.7 456.2h0.8v0.8h-0.8zM369.5 496.2h1.0v1.0h-1.0zM389.6 466.7h1.0v1.0h-1.0zM354.5 456.8h1.4v1.4h-1.4zM372.2 461.9h1.6v1.6h-1.6zM400.0 461.1h1.0v1.0h-1.0zM380.9 456.0h1.0v1.0h-1.0zM363.7 489.4h0.7v0.7h-0.7zM407.0 459.7h0.9v0.9h-0.9zM350.5 494.3h1.4v1.4h-1.4zM350.3 474.7h1.0v1.0h-1.0zM383.0 464.5h1.6v1.6h-1.6zM359.6 489.8h0.9v0.9h-0.9zM385.9 469.5h1.1v1.1h-1.1zM378.3 479.9h0.7v0.7h-0.7zM349.8 497.6h0.9v0.9h-0.9zM367.9 459.7h1.2v1.2h-1.2zM406.6 468.3h0.9v0.9h-0.9zM367.7 449.1h0.7v0.7h-0.7zM348.8 463.9h1.6v1.6h-1.6zM354.9 475.9h0.8v0.8h-0.8zM348.5 490.7h0.7v0.7h-0.7zM354.5 489.7h0.8v0.8h-0.8zM358.4 496.2h0.8v0.8h-0.8zM397.1 463.2h1.2v1.2h-1.2zM364.9 464.7h1.5v1.5h-1.5zM401.7 456.3h1.3v1.3h-1.3zM354.8 463.1h0.7v0.7h-0.7zM385.7 484.7h1.3v1.3h-1.3zM393.8 467.9h0.8v0.8h-0.8zM346.1 469.9h1.5v1.5h-1.5zM373.4 479.0h1.5v1.5h-1.5zM399.0 485.5h1.2v1.2h-1.2zM360.3 486.0h1.0v1.0h-1.0zM389.2 458.7h1.5v1.5h-1.5zM355.9 488.0h1.5v1.5h-1.5zM355.3 491.9h1.2v1.2h-1.2zM383.2 460.6h0.9v0.9h-0.9zM360.4 470.1h1.2v1.2h-1.2zM390.9 483.9h0.9v0.9h-0.9zM366.5 486.5h1.6v1.6h-1.6zM359.8 468.8h0.9v0.9h-0.9zM405.7 448.1h1.5v1.5h-1.5zM393.1 464.5h1.3v1.3h-1.3zM368.8 480.3h1.0v1.0h-1.0zM402.1 470.9h1.4v1.4h-1.4zM381.2 466.4h1.6v1.6h-1.6zM357.8 494.0h1.6v1.6h-1.6zM398.1 478.8h1.2v1.2h-1.2zM402.9 469.6h1.4v1.4h-1.4zM393.6 491.7h1.0v1.0h-1.0zM386.3 452.4h0.7v0.7h-0.7zM352.7 485.4h1.0v1.0h-1.0zM402.0 451.7h0.8v0.8h-0.8zM397.5 469.1h0.8v0.8h-0.8zM393.8 459.3h1.6v1.6h-1.6zM362.9 491.7h1.1v1.1h-1.1zM403.3 462.5h1.5v1.5h-1.5zM364.6 470.5h1.2v1.2h-1.2zM380.0 481.9h1.3v1.3h-1.3zM362.4 447.8h1.3v1.3h-1.3zM382.9 476.5h1.1v1.1h-1.1zM402.8 462.5h1.5v1.5h-1.5zM356.1 483.0h1.5v1.5h-1.5zM355.6 487.2h0.9v0.9h-0.9zM349.6 469.6h1.3v1.3h-1.3zM363.7 496.6h0.6v0.6h-0.6zM362.6 465.1h1.0v1.0h-1.0zM364.6 448.7h0.8v0.8h-0.8zM362.2 482.1h1.0v1.0h-1.0zM390.5 470.3h0.9v0.9h-0.9zM355.6 459.0h1.5v1.5h-1.5zM374.1 463.7h0.8v0.8h-0.8zM399.8 483.6h1.3v1.3h-1.3zM395.3 459.8h1.3v1.3h-1.3zM350.5 481.8h0.9v0.9h-0.9zM386.8 459.2h1.0v1.0h-1.0zM387.3 495.9h0.9v0.9h-0.9zM356.3 453.8h1.3v1.3h-1.3zM401.0 448.4h0.9v0.9h-0.9zM356.6 496.8h0.7v0.7h-0.7zM350.0 486.8h1.6v1.6h-1.6zM393.6 453.4h1.0v1.0h-1.0zM377.9 493.6h1.4v1.4h-1.4zM349.6 470.6h1.4v1.4h-1.4zM379.2 481.6h1.6v1.6h-1.6zM406.1 490.5h1.2v1.2h-1.2zM365.1 455.8h0.8v0.8h-0.8zM385.2 487.1h1.5v1.5h-1.5zM402.3 462.4h0.9v0.9h-0.9zM357.9 475.2h1.5v1.5h-1.5zM392.7 470.1h0.8v0.8h-0.8zM397.7 493.5h1.4v1.4h-1.4zM363.9 467.5h1.2v1.2h-1.2zM402.4 460.0h1.0v1.0h-1.0zM349.9 447.7h0.8v0.8h-0.8zM395.7 482.2h1.1v1.1h-1.1zM371.1 461.0h1.4v1.4h-1.4zM375.9 451.0h1.2v1.2h-1.2zM406.8 451.0h1.6v1.6h-1.6zM351.9 463.1h1.6v1.6h-1.6zM405.6 456.8h1.3v1.3h-1.3zM383.5 467.8h1.4v1.4h-1.4zM385.0 459.0h1.1v1.1h-1.1zM389.6 479.4h1.1v1.1h-1.1zM391.6 454.6h0.6v0.6h-0.6zM348.1 479.4h1.0v1.0h-1.0zM397.6 497.7h0.7v0.7h-0.7zM369.3 469.0h1.1v1.1h-1.1zM402.0 478.4h0.9v0.9h-0.9zM386.7 464.4h1.2v1.2h-1.2zM352.1 476.5h1.1v1.1h-1.1zM385.6 476.6h1.2v1.2h-1.2zM391.2 454.2h1.4v1.4h-1.4zM384.4 483.0h1.0v1.0h-1.0zM351.1 494.8h1.4v1.4h-1.4zM405.8 471.0h1.5v1.5h-1.5zM399.4 475.6h1.5v1.5h-1.5zM396.3 452.9h0.7v0.7h-0.7zM371.0 474.8h1.3v1.3h-1.3zM380.6 492.4h1.4v1.4h-1.4zM352.1 464.7h1.5v1.5h-1.5zM392.4 448.2h1.2v1.2h-1.2zM353.6 473.1h1.6v1.6h-1.6zM350.7 489.9h1.1v1.1h-1.1zM406.4 491.9h0.7v0.7h-0.7zM385.7 491.9h0.9v0.9h-0.9zM389.5 460.7h0.8v0.8h-0.8zM366.2 462.3h1.6v1.6h-1.6zM360.5 469.3h1.1v1.1h-1.1zM388.4 497.3h1.2v1.2h-1.2zM398.8 454.1h1.3v1.3h-1.3zM356.6 492.3h1.2v1.2h-1.2zM354.4 491.2h1.1v1.1h-1.1zM375.7 451.4h1.5v1.5h-1.5zM377.8 492.2h0.7v0.7h-0.7zM387.8 466.8h1.1v1.1h-1.1zM384.2 489.8h1.5v1.5h-1.5zM356.5 491.9h0.7v0.7h-0.7zM346.8 463.1h0.9v0.9h-0.9zM393.5 476.4h1.0v1.0h-1.0zM394.5 495.6h1.2v1.2h-1.2zM386.3 491.9h0.9v0.9h-0.9zM407.4 456.8h0.6v0.6h-0.6zM396.7 456.5h0.9v0.9h-0.9zM377.6 453.2h1.0v1.0h-1.0zM367.7 451.8h1.2v1.2h-1.2zM373.6 455.5h1.4v1.4h-1.4zM371.0 448.6h1.5v1.5h-1.5zM371.3 452.3h0.9v0.9h-0.9zM361.8 449.8h0.9v0.9h-0.9zM356.3 458.4h1.3v1.3h-1.3zM355.9 448.7h0.8v0.8h-0.8zM364.1 455.9h1.2v1.2h-1.2zM400.1 490.2h1.1v1.1h-1.1zM394.2 488.1h1.2v1.2h-1.2zM395.2 466.8h1.3v1.3h-1.3zM378.0 485.4h1.3v1.3h-1.3zM350.3 490.6h0.6v0.6h-0.6zM372.1 477.7h1.4v1.4h-1.4zM349.7 482.1h0.9v0.9h-0.9zM348.5 464.5h1.2v1.2h-1.2zM351.4 491.4h0.6v0.6h-0.6zM360.9 464.6h0.7v0.7h-0.7zM402.7 497.0h1.5v1.5h-1.5zM358.3 490.4h0.9v0.9h-0.9zM364.0 483.2h0.7v0.7h-0.7zM346.5 495.5h1.0v1.0h-1.0zM395.1 469.6h0.7v0.7h-0.7zM375.4 456.5h0.7v0.7h-0.7zM347.3 468.2h0.9v0.9h-0.9zM366.5 496.8h1.4v1.4h-1.4zM389.3 459.9h1.3v1.3h-1.3zM389.0 474.8h0.8v0.8h-0.8zM358.9 469.2h0.9v0.9h-0.9zM400.3 471.3h1.3v1.3h-1.3zM401.3 479.6h0.8v0.8h-0.8zM365.9 495.2h0.6v0.6h-0.6zM359.5 479.1h1.5v1.5h-1.5zM396.3 485.0h1.3v1.3h-1.3zM368.9 450.5h1.2v1.2h-1.2zM350.7 488.8h0.7v0.7h-0.7zM347.7 499.1h0.8v0.8h-0.8zM381.5 450.4h1.6v1.6h-1.6zM346.9 482.7h1.4v1.4h-1.4zM364.5 448.1h0.6v0.6h-0.6zM349.8 486.3h1.1v1.1h-1.1zM401.0 480.0h1.2v1.2h-1.2zM358.2 458.7h1.6v1.6h-1.6zM404.4 469.8h1.4v1.4h-1.4zM390.4 461.9h0.8v0.8h-0.8zM391.8 496.8h1.6v1.6h-1.6zM368.1 450.9h0.9v0.9h-0.9zM350.4 498.4h0.9v0.9h-0.9zM397.9 459.9h1.6v1.6h-1.6zM376.0 490.3h1.2v1.2h-1.2zM393.3 451.4h0.7v0.7h-0.7zM367.8 492.4h1.5v1.5h-1.5zM389.9 478.5h0.6v0.6h-0.6zM403.0 481.4h1.2v1.2h-1.2zM397.7 459.6h1.2v1.2h-1.2zM388.2 486.6h0.7v0.7h-0.7zM390.7 493.9h1.2v1.2h-1.2zM356.7 495.0h0.7v0.7h-0.7zM360.2 491.4h1.2v1.2h-1.2zM366.6 488.8h1.2v1.2h-1.2zM353.1 459.2h1.4v1.4h-1.4zM395.8 451.3h1.1v1.1h-1.1zM390.0 464.4h0.7v0.7h-0.7zM371.5 495.5h1.3v1.3h-1.3zM359.1 490.9h1.3v1.3h-1.3zM364.0 461.4h0.8v0.8h-0.8zM371.0 466.1h0.9v0.9h-0.9zM399.7 486.6h1.1v1.1h-1.1zM404.9 481.9h1.6v1.6h-1.6zM396.6 480.0h1.3v1.3h-1.3zM393.4 486.3h1.5v1.5h-1.5zM367.0 466.3h0.8v0.8h-0.8zM402.7 494.0h1.0v1.0h-1.0zM370.4 454.0h1.6v1.6h-1.6zM387.2 497.0h1.2v1.2h-1.2zM377.4 485.8h1.5v1.5h-1.5zM397.9 465.3h1.1v1.1h-1.1zM403.9 473.4h1.4v1.4h-1.4zM378.5 490.5h0.7v0.7h-0.7zM346.2 452.2h1.0v1.0h-1.0zM368.4 496.6h1.6v1.6h-1.6zM354.3 490.4h1.1v1.1h-1.1zM397.6 466.3h1.4v1.4h-1.4zM346.4 471.6h0.9v0.9h-0.9zM361.6 463.0h1.0v1.0h-1.0zM376.4 474.4h1.3v1.3h-1.3zM396.7 496.9h1.3v1.3h-1.3zM361.8 477.3h1.0v1.0h-1.0zM360.6 464.7h0.8v0.8h-0.8zM379.1 450.8h1.1v1.1h-1.1zM371.4 447.9h0.9v0.9h-0.9zM405.9 477.5h0.7v0.7h-0.7zM381.7 483.9h0.7v0.7h-0.7zM370.8 458.4h1.1v1.1h-1.1zM396.7 460.0h0.7v0.7h-0.7zM354.8 479.3h0.7v0.7h-0.7zM378.2 489.0h1.4v1.4h-1.4zM387.2 448.0h1.0v1.0h-1.0zM361.2 474.2h0.8v0.8h-0.8zM354.2 496.3h1.5v1.5h-1.5zM352.3 490.3h0.7v0.7h-0.7zM366.6 498.4h1.5v1.5h-1.5zM374.8 483.7h1.0v1.0h-1.0zM398.3 463.9h0.8v0.8h-0.8zM354.9 479.9h1.2v1.2h-1.2zM401.3 454.9h1.4v1.4h-1.4zM404.2 486.1h0.7v0.7h-0.7zM355.6 452.1h0.9v0.9h-0.9zM392.7 454.9h1.0v1.0h-1.0zM349.0 482.6h0.7v0.7h-0.7zM394.9 479.2h0.8v0.8h-0.8zM388.9 465.4h1.1v1.1h-1.1zM380.3 461.5h1.0v1.0h-1.0zM394.2 491.8h1.4v1.4h-1.4zM381.1 492.6h0.7v0.7h-0.7zM406.3 449.6h1.5v1.5h-1.5zM394.5 467.4h1.4v1.4h-1.4zM404.8 455.8h1.2v1.2h-1.2zM346.5 481.9h0.7v0.7h-0.7zM387.1 448.9h1.0v1.0h-1.0zM399.0 463.0h1.6v1.6h-1.6zM374.8 456.6h1.5v1.5h-1.5zM355.4 477.8h1.5v1.5h-1.5zM403.9 476.2h0.8v0.8h-0.8zM376.9 462.6h0.9v0.9h-0.9zM365.8 458.1h0.6v0.6h-0.6zM392.1 448.1h1.2v1.2h-1.2zM368.6 480.9h1.2v1.2h-1.2zM375.4 487.4h1.2v1.2h-1.2zM401.0 477.4h1.5v1.5h-1.5zM399.2 483.9h0.9v0.9h-0.9zM375.8 451.4h1.3v1.3h-1.3zM385.9 489.8h0.7v0.7h-0.7zM353.8 480.6h1.3v1.3h-1.3zM350.7 449.1h0.9v0.9h-0.9zM367.1 450.3h0.7v0.7h-0.7zM358.7 448.4h0.7v0.7h-0.7zM347.5 466.4h1.3v1.3h-1.3zM386.7 478.6h1.1v1.1h-1.1zM357.7 450.1h0.8v0.8h-0.8zM404.2 489.3h1.2v1.2h-1.2zM383.5 485.7h1.4v1.4h-1.4zM360.8 488.7h1.2v1.2h-1.2zM363.3 462.4h0.8v0.8h-0.8zM379.5 497.2h1.4v1.4h-1.4zM356.4 453.7h0.9v0.9h-0.9zM356.0 454.7h1.3v1.3h-1.3zM365.5 476.7h0.9v0.9h-0.9zM406.7 478.1h0.7v0.7h-0.7zM393.8 462.4h1.1v1.1h-1.1zM363.8 472.8h0.9v0.9h-0.9zM365.5 455.3h1.6v1.6h-1.6zM358.8 462.1h1.0v1.0h-1.0zM353.3 459.3h1.0v1.0h-1.0zM382.0 475.1h1.0v1.0h-1.0zM387.7 486.0h0.9v0.9h-0.9zM360.8 479.7h1.0v1.0h-1.0zM397.0 447.9h1.1v1.1h-1.1zM367.3 458.2h1.5v1.5h-1.5zM359.2 487.9h1.5v1.5h-1.5zM405.6 453.6h0.8v0.8h-0.8zM351.0 463.8h1.5v1.5h-1.5zM385.8 455.6h0.7v0.7h-0.7zM392.3 479.8h0.6v0.6h-0.6zM382.2 457.3h0.9v0.9h-0.9zM352.3 498.5h1.1v1.1h-1.1zM384.0 458.0h1.0v1.0h-1.0zM385.6 485.7h1.5v1.5h-1.5zM361.3 459.8h1.0v1.0h-1.0zM365.0 489.7h1.0v1.0h-1.0zM369.0 473.3h1.2v1.2h-1.2zM367.6 447.8h1.3v1.3h-1.3zM353.2 491.6h0.8v0.8h-0.8zM361.5 474.8h1.5v1.5h-1.5zM369.5 472.2h1.0v1.0h-1.0zM352.7 462.1h1.5v1.5h-1.5zM403.5 460.4h1.5v1.5h-1.5zM347.3 484.7h0.6v0.6h-0.6zM372.2 468.7h1.0v1.0h-1.0zM404.1 465.8h0.6v0.6h-0.6zM353.0 486.2h0.7v0.7h-0.7zM349.4 457.3h1.6v1.6h-1.6zM373.3 455.0h1.3v1.3h-1.3zM369.0 475.7h1.6v1.6h-1.6zM388.7 474.7h1.6v1.6h-1.6zM376.9 470.6h1.5v1.5h-1.5zM404.9 484.6h1.0v1.0h-1.0zM370.9 448.0h0.8v0.8h-0.8zM393.6 472.5h1.5v1.5h-1.5zM387.0 476.5h1.4v1.4h-1.4zM376.6 481.8h1.1v1.1h-1.1zM367.9 487.1h0.7v0.7h-0.7zM405.9 496.8h1.4v1.4h-1.4zM374.8 470.7h1.0v1.0h-1.0zM374.1 458.7h1.4v1.4h-1.4zM400.0 473.1h1.5v1.5h-1.5zM363.7 491.5h1.6v1.6h-1.6zM387.1 496.9h1.3v1.3h-1.3z" fill="#2a170b" opacity="0.55"/>
<path clip-path="url(#c1)" d="M388.9 472.1h0.5v0.5h-0.5zM354.0 490.3h0.6v0.6h-0.6zM388.2 455.7h1.0v1.0h-1.0zM405.0 479.6h0.5v0.5h-0.5zM391.3 472.0h1.1v1.1h-1.1zM355.2 461.9h1.1v1.1h-1.1zM397.6 494.4h0.9v0.9h-0.9zM387.5 495.6h1.0v1.0h-1.0zM351.7 455.7h0.5v0.5h-0.5zM353.1 449.0h0.8v0.8h-0.8zM384.1 492.0h0.8v0.8h-0.8zM355.9 494.2h1.1v1.1h-1.1zM406.2 448.8h0.9v0.9h-0.9zM385.0 475.2h0.6v0.6h-0.6zM402.9 475.4h0.5v0.5h-0.5zM367.5 485.1h0.6v0.6h-0.6zM393.9 458.4h0.8v0.8h-0.8zM364.0 454.0h1.1v1.1h-1.1zM366.9 486.1h1.1v1.1h-1.1zM363.5 447.9h0.9v0.9h-0.9zM360.7 492.7h0.6v0.6h-0.6zM390.5 449.0h0.7v0.7h-0.7zM358.2 491.4h0.9v0.9h-0.9zM386.7 451.9h0.7v0.7h-0.7zM400.9 479.1h1.0v1.0h-1.0zM376.8 458.0h1.1v1.1h-1.1zM362.3 456.3h1.0v1.0h-1.0zM351.4 486.9h1.0v1.0h-1.0zM369.7 474.1h0.8v0.8h-0.8zM350.8 451.7h0.7v0.7h-0.7zM346.6 457.2h0.8v0.8h-0.8zM384.8 474.2h0.6v0.6h-0.6zM392.7 488.4h1.0v1.0h-1.0zM388.3 460.5h1.1v1.1h-1.1zM382.0 456.7h1.0v1.0h-1.0zM384.7 476.9h0.8v0.8h-0.8zM393.2 485.1h0.9v0.9h-0.9zM350.1 459.4h1.2v1.2h-1.2zM371.0 480.3h0.6v0.6h-0.6zM381.2 478.8h1.0v1.0h-1.0zM405.7 471.1h0.7v0.7h-0.7zM356.0 464.8h0.8v0.8h-0.8zM405.3 473.8h1.0v1.0h-1.0zM391.3 448.4h0.7v0.7h-0.7zM379.5 450.6h0.6v0.6h-0.6zM392.5 482.4h0.6v0.6h-0.6zM353.4 491.0h0.8v0.8h-0.8zM365.5 484.6h1.0v1.0h-1.0zM407.1 452.8h1.0v1.0h-1.0zM374.4 460.4h0.8v0.8h-0.8zM347.6 454.1h0.6v0.6h-0.6zM388.8 484.1h0.7v0.7h-0.7zM365.1 487.4h0.8v0.8h-0.8zM367.6 496.3h0.9v0.9h-0.9zM379.4 479.2h0.5v0.5h-0.5zM370.6 488.1h1.0v1.0h-1.0zM400.8 463.6h0.8v0.8h-0.8zM360.7 457.3h0.6v0.6h-0.6zM358.4 456.0h0.8v0.8h-0.8zM371.3 486.8h1.0v1.0h-1.0zM379.4 481.4h0.8v0.8h-0.8zM365.2 473.5h0.9v0.9h-0.9zM405.0 489.8h0.5v0.5h-0.5zM385.4 452.2h0.9v0.9h-0.9zM398.5 483.7h0.6v0.6h-0.6zM372.1 457.6h1.0v1.0h-1.0zM389.9 485.6h0.7v0.7h-0.7zM382.7 458.1h1.2v1.2h-1.2zM403.8 449.1h0.9v0.9h-0.9zM390.4 459.6h0.5v0.5h-0.5zM346.5 484.1h0.5v0.5h-0.5zM370.1 488.9h0.5v0.5h-0.5zM389.6 469.8h0.8v0.8h-0.8zM375.8 465.6h1.1v1.1h-1.1zM387.4 467.7h0.6v0.6h-0.6zM377.0 498.9h1.1v1.1h-1.1zM350.4 465.9h0.8v0.8h-0.8zM371.2 453.4h0.6v0.6h-0.6zM378.9 484.6h1.0v1.0h-1.0zM387.6 482.4h0.5v0.5h-0.5zM359.7 465.0h0.7v0.7h-0.7zM370.1 468.2h0.7v0.7h-0.7zM346.7 492.0h1.2v1.2h-1.2zM384.0 461.6h0.8v0.8h-0.8zM402.1 478.4h1.0v1.0h-1.0zM389.1 498.0h1.0v1.0h-1.0zM352.7 473.5h1.1v1.1h-1.1zM354.3 450.4h0.5v0.5h-0.5zM350.4 455.9h1.0v1.0h-1.0zM383.0 485.2h0.9v0.9h-0.9zM368.0 488.2h0.6v0.6h-0.6zM368.2 468.9h1.0v1.0h-1.0zM392.9 476.7h0.9v0.9h-0.9zM363.3 478.0h1.1v1.1h-1.1zM373.1 486.3h0.9v0.9h-0.9zM377.8 479.0h0.6v0.6h-0.6zM359.4 456.6h0.9v0.9h-0.9zM387.4 484.1h0.6v0.6h-0.6zM366.6 455.0h1.0v1.0h-1.0zM372.1 461.7h0.7v0.7h-0.7zM404.3 472.2h1.2v1.2h-1.2zM365.8 458.6h1.0v1.0h-1.0zM402.1 455.9h1.1v1.1h-1.1zM382.1 494.0h1.2v1.2h-1.2zM372.5 496.2h0.6v0.6h-0.6zM373.5 470.5h0.7v0.7h-0.7zM376.0 486.5h0.6v0.6h-0.6zM375.8 474.7h0.6v0.6h-0.6zM385.6 460.6h0.9v0.9h-0.9zM381.1 486.0h1.2v1.2h-1.2zM403.1 473.5h0.7v0.7h-0.7zM361.0 488.0h1.0v1.0h-1.0zM394.9 490.5h0.9v0.9h-0.9zM401.2 481.4h0.9v0.9h-0.9zM397.5 481.1h1.0v1.0h-1.0zM403.2 467.9h1.0v1.0h-1.0zM364.4 472.5h1.1v1.1h-1.1zM405.9 496.3h1.0v1.0h-1.0zM398.2 493.1h0.9v0.9h-0.9zM361.0 448.4h1.0v1.0h-1.0zM392.8 485.2h0.9v0.9h-0.9zM386.6 484.6h0.9v0.9h-0.9zM386.6 459.1h0.9v0.9h-0.9zM384.9 476.9h0.7v0.7h-0.7zM354.1 481.4h0.6v0.6h-0.6zM394.8 456.9h1.0v1.0h-1.0zM368.1 494.1h0.7v0.7h-0.7zM355.8 482.2h1.0v1.0h-1.0zM367.6 471.8h1.0v1.0h-1.0zM364.3 467.6h0.9v0.9h-0.9zM364.6 454.9h1.1v1.1h-1.1zM353.6 498.3h1.1v1.1h-1.1zM373.8 492.1h0.5v0.5h-0.5zM380.8 465.9h0.7v0.7h-0.7zM401.0 449.4h1.1v1.1h-1.1zM351.1 482.5h0.7v0.7h-0.7zM378.4 495.1h1.1v1.1h-1.1zM352.3 463.3h0.8v0.8h-0.8zM390.1 447.7h1.1v1.1h-1.1zM398.0 496.9h0.6v0.6h-0.6zM359.3 490.5h0.9v0.9h-0.9zM361.3 448.5h0.7v0.7h-0.7zM387.7 485.4h0.7v0.7h-0.7zM402.5 473.8h0.9v0.9h-0.9zM370.5 468.4h0.8v0.8h-0.8zM396.9 470.3h0.7v0.7h-0.7zM372.9 495.2h0.9v0.9h-0.9zM352.6 469.2h0.8v0.8h-0.8zM346.9 496.9h1.1v1.1h-1.1zM352.5 476.1h0.7v0.7h-0.7zM359.3 461.9h0.5v0.5h-0.5zM388.4 466.4h1.0v1.0h-1.0zM396.3 477.1h0.7v0.7h-0.7zM354.7 481.1h1.0v1.0h-1.0zM394.3 454.8h0.5v0.5h-0.5zM400.3 478.9h0.6v0.6h-0.6zM389.7 450.4h0.9v0.9h-0.9zM380.4 484.6h0.6v0.6h-0.6zM401.8 495.8h1.2v1.2h-1.2zM393.0 463.5h1.2v1.2h-1.2zM383.8 484.5h1.0v1.0h-1.0zM358.8 491.5h1.0v1.0h-1.0zM359.9 467.2h0.6v0.6h-0.6zM372.8 498.6h0.8v0.8h-0.8zM370.6 489.1h0.6v0.6h-0.6zM353.7 486.1h0.6v0.6h-0.6zM383.7 489.6h0.9v0.9h-0.9zM351.1 458.2h0.9v0.9h-0.9zM404.7 481.2h1.0v1.0h-1.0zM382.7 464.3h0.9v0.9h-0.9zM346.7 468.8h1.1v1.1h-1.1zM358.7 480.9h1.0v1.0h-1.0zM355.9 491.8h0.7v0.7h-0.7zM405.2 465.3h0.9v0.9h-0.9zM404.4 489.8h0.8v0.8h-0.8zM358.1 479.2h0.9v0.9h-0.9zM350.0 467.1h1.1v1.1h-1.1zM378.4 456.8h1.0v1.0h-1.0zM374.0 494.6h0.8v0.8h-0.8zM347.9 456.0h0.6v0.6h-0.6zM404.6 466.1h0.7v0.7h-0.7zM406.1 458.2h0.9v0.9h-0.9zM404.5 494.6h0.6v0.6h-0.6zM375.0 460.5h1.0v1.0h-1.0zM361.4 456.8h0.7v0.7h-0.7zM354.3 484.5h0.7v0.7h-0.7zM370.8 461.8h0.8v0.8h-0.8zM364.8 465.7h1.0v1.0h-1.0zM356.9 483.0h0.7v0.7h-0.7zM351.8 453.6h1.1v1.1h-1.1zM348.6 461.7h1.1v1.1h-1.1zM351.1 458.5h0.7v0.7h-0.7zM397.3 453.4h1.2v1.2h-1.2zM353.4 476.6h1.0v1.0h-1.0zM380.5 473.7h0.8v0.8h-0.8zM361.7 498.7h0.8v0.8h-0.8zM385.3 477.4h1.2v1.2h-1.2zM361.0 455.4h1.1v1.1h-1.1zM377.4 480.6h0.9v0.9h-0.9zM394.1 490.6h1.0v1.0h-1.0zM346.6 490.9h0.5v0.5h-0.5zM398.7 447.5h1.0v1.0h-1.0zM385.3 448.8h1.0v1.0h-1.0zM381.6 453.7h1.1v1.1h-1.1zM382.3 471.2h1.2v1.2h-1.2zM358.5 456.5h1.1v1.1h-1.1zM356.1 489.8h0.6v0.6h-0.6zM396.1 468.6h0.9v0.9h-0.9zM383.5 467.9h0.9v0.9h-0.9zM385.9 454.5h1.1v1.1h-1.1zM396.8 458.4h0.7v0.7h-0.7zM370.4 487.3h0.9v0.9h-0.9zM365.6 487.3h0.6v0.6h-0.6zM389.8 486.5h0.6v0.6h-0.6zM381.0 478.0h1.2v1.2h-1.2zM364.4 471.1h1.2v1.2h-1.2zM354.2 493.8h0.8v0.8h-0.8zM367.3 498.9h0.8v0.8h-0.8zM361.3 458.2h1.0v1.0h-1.0zM385.2 459.9h0.8v0.8h-0.8zM363.8 490.7h0.8v0.8h-0.8zM384.1 494.7h0.7v0.7h-0.7zM404.6 472.5h0.9v0.9h-0.9zM362.8 483.3h1.0v1.0h-1.0zM382.5 492.0h0.8v0.8h-0.8zM347.1 494.6h0.9v0.9h-0.9zM384.1 478.6h0.5v0.5h-0.5zM363.8 452.1h1.0v1.0h-1.0zM398.5 481.5h1.1v1.1h-1.1zM366.6 449.2h0.8v0.8h-0.8zM356.6 463.4h0.7v0.7h-0.7zM357.2 483.0h0.9v0.9h-0.9zM396.8 498.4h0.7v0.7h-0.7zM403.8 487.1h0.9v0.9h-0.9zM406.1 474.1h0.5v0.5h-0.5zM353.8 463.6h1.0v1.0h-1.0zM381.1 482.9h0.5v0.5h-0.5zM361.3 476.1h1.0v1.0h-1.0zM372.8 458.9h0.7v0.7h-0.7zM393.0 484.6h0.7v0.7h-0.7zM404.6 449.9h0.7v0.7h-0.7zM373.1 489.0h0.9v0.9h-0.9zM387.7 496.6h0.8v0.8h-0.8zM357.3 468.6h0.9v0.9h-0.9zM354.4 449.5h1.0v1.0h-1.0zM406.9 495.6h0.8v0.8h-0.8zM373.9 490.1h1.2v1.2h-1.2zM368.0 496.5h1.0v1.0h-1.0zM355.4 470.9h0.5v0.5h-0.5zM371.1 474.4h1.1v1.1h-1.1zM366.4 481.0h1.0v1.0h-1.0zM378.4 479.2h0.8v0.8h-0.8zM383.5 471.2h1.1v1.1h-1.1zM353.0 492.0h1.0v1.0h-1.0zM346.9 484.6h0.8v0.8h-0.8zM377.2 474.2h1.0v1.0h-1.0zM376.1 480.4h0.7v0.7h-0.7zM350.3 481.8h1.2v1.2h-1.2zM351.0 494.5h0.8v0.8h-0.8zM386.2 461.2h1.0v1.0h-1.0zM373.0 488.6h0.7v0.7h-0.7zM366.8 479.9h0.6v0.6h-0.6zM405.9 478.7h1.2v1.2h-1.2zM357.2 484.2h0.6v0.6h-0.6zM351.3 470.4h0.8v0.8h-0.8zM380.5 471.7h0.6v0.6h-0.6zM388.1 461.4h0.7v0.7h-0.7zM394.1 482.6h1.0v1.0h-1.0zM402.9 491.6h0.7v0.7h-0.7zM406.1 474.3h0.9v0.9h-0.9zM363.3 467.5h0.9v0.9h-0.9zM348.3 484.7h0.7v0.7h-0.7zM388.6 485.2h0.9v0.9h-0.9zM350.8 476.6h0.7v0.7h-0.7zM390.1 484.2h0.9v0.9h-0.9zM391.0 454.9h1.1v1.1h-1.1zM405.6 493.9h1.1v1.1h-1.1zM371.0 495.6h0.9v0.9h-0.9zM359.3 475.4h1.1v1.1h-1.1zM388.0 490.6h0.5v0.5h-0.5zM405.7 495.1h0.9v0.9h-0.9zM402.9 457.0h0.8v0.8h-0.8zM356.4 481.9h1.1v1.1h-1.1zM403.3 451.6h1.0v1.0h-1.0zM380.4 458.8h1.1v1.1h-1.1zM378.7 449.8h0.8v0.8h-0.8zM388.2 491.5h0.6v0.6h-0.6zM382.4 451.9h1.1v1.1h-1.1zM346.7 497.6h0.9v0.9h-0.9zM392.3 482.0h0.9v0.9h-0.9zM373.2 458.4h0.7v0.7h-0.7zM351.9 461.3h1.0v1.0h-1.0zM380.0 476.8h0.9v0.9h-0.9zM404.3 491.4h0.7v0.7h-0.7zM380.4 497.6h0.7v0.7h-0.7zM389.2 480.9h1.0v1.0h-1.0zM380.4 485.8h0.8v0.8h-0.8zM403.8 476.8h0.7v0.7h-0.7zM385.3 482.7h1.1v1.1h-1.1zM385.3 474.5h0.7v0.7h-0.7zM372.3 462.3h0.9v0.9h-0.9zM399.2 478.2h0.6v0.6h-0.6zM348.5 492.9h0.7v0.7h-0.7zM388.3 496.1h1.2v1.2h-1.2zM380.3 494.6h0.8v0.8h-0.8zM404.1 482.7h0.6v0.6h-0.6zM395.9 455.7h1.2v1.2h-1.2zM349.3 486.7h0.6v0.6h-0.6zM379.2 466.6h1.1v1.1h-1.1zM362.8 484.5h1.2v1.2h-1.2zM350.3 484.5h0.6v0.6h-0.6zM394.1 491.8h0.6v0.6h-0.6zM400.5 470.2h0.7v0.7h-0.7zM405.6 467.5h0.6v0.6h-0.6zM366.3 494.0h1.2v1.2h-1.2zM374.1 473.0h0.9v0.9h-0.9zM397.6 447.9h1.1v1.1h-1.1zM405.9 468.5h0.8v0.8h-0.8zM405.0 468.6h0.8v0.8h-0.8zM398.9 471.9h1.0v1.0h-1.0zM363.8 482.6h0.8v0.8h-0.8zM394.1 472.8h1.1v1.1h-1.1zM379.8 491.8h0.8v0.8h-0.8zM387.2 461.3h0.9v0.9h-0.9zM386.9 457.4h0.9v0.9h-0.9zM402.8 458.0h0.8v0.8h-0.8zM397.8 469.7h0.5v0.5h-0.5zM378.3 471.2h1.1v1.1h-1.1zM387.0 487.6h0.8v0.8h-0.8zM401.4 490.4h0.6v0.6h-0.6zM386.7 494.1h1.0v1.0h-1.0zM405.8 461.0h0.9v0.9h-0.9zM378.8 462.7h1.0v1.0h-1.0zM372.6 480.9h1.0v1.0h-1.0zM391.0 452.9h0.5v0.5h-0.5zM396.7 481.2h0.6v0.6h-0.6zM354.3 473.3h0.6v0.6h-0.6zM403.2 459.0h1.2v1.2h-1.2zM390.1 476.1h1.0v1.0h-1.0zM388.7 462.3h0.8v0.8h-0.8zM350.1 449.9h1.2v1.2h-1.2zM398.5 486.5h0.6v0.6h-0.6zM384.5 484.4h0.8v0.8h-0.8zM369.6 485.2h0.5v0.5h-0.5zM375.1 460.8h0.8v0.8h-0.8zM380.0 469.1h1.1v1.1h-1.1zM400.2 486.6h1.1v1.1h-1.1zM376.8 461.4h1.1v1.1h-1.1zM353.3 478.1h0.9v0.9h-0.9zM352.8 458.0h1.0v1.0h-1.0zM398.8 467.7h0.9v0.9h-0.9zM389.7 477.5h0.8v0.8h-0.8zM385.3 484.0h1.1v1.1h-1.1zM380.7 481.7h0.6v0.6h-0.6zM356.2 489.4h0.7v0.7h-0.7zM373.1 493.3h0.6v0.6h-0.6zM387.8 460.3h0.9v0.9h-0.9zM396.2 489.7h1.0v1.0h-1.0zM378.1 475.7h0.6v0.6h-0.6zM353.5 486.2h0.5v0.5h-0.5zM403.4 457.1h1.0v1.0h-1.0zM373.6 479.0h1.0v1.0h-1.0zM364.3 490.0h1.0v1.0h-1.0zM381.8 477.2h0.8v0.8h-0.8zM405.8 467.6h0.7v0.7h-0.7zM380.3 494.9h1.1v1.1h-1.1zM381.6 467.7h1.0v1.0h-1.0zM380.4 489.8h1.1v1.1h-1.1zM389.2 497.6h1.0v1.0h-1.0zM406.1 481.2h0.7v0.7h-0.7zM384.7 487.1h0.8v0.8h-0.8zM356.4 465.6h1.0v1.0h-1.0zM358.8 448.0h1.1v1.1h-1.1zM405.7 492.2h1.1v1.1h-1.1zM390.9 475.9h1.0v1.0h-1.0zM392.1 464.6h0.6v0.6h-0.6zM388.6 478.5h1.2v1.2h-1.2zM371.8 469.0h0.6v0.6h-0.6zM347.1 454.7h0.9v0.9h-0.9zM405.5 453.5h0.6v0.6h-0.6zM388.2 463.3h0.5v0.5h-0.5zM400.7 455.3h0.8v0.8h-0.8zM392.3 487.6h1.2v1.2h-1.2zM382.7 455.3h0.6v0.6h-0.6zM385.7 475.2h0.7v0.7h-0.7zM356.4 465.7h0.7v0.7h-0.7zM367.9 465.6h1.0v1.0h-1.0zM374.5 491.2h0.9v0.9h-0.9zM364.0 495.1h1.0v1.0h-1.0zM397.8 459.4h1.2v1.2h-1.2zM385.3 467.0h0.7v0.7h-0.7zM352.3 449.4h0.6v0.6h-0.6zM365.2 474.9h0.8v0.8h-0.8zM349.1 455.2h0.5v0.5h-0.5zM348.6 462.8h0.9v0.9h-0.9zM355.4 492.9h1.2v1.2h-1.2zM384.1 450.2h0.6v0.6h-0.6zM377.4 495.6h1.2v1.2h-1.2zM391.6 493.6h0.6v0.6h-0.6zM377.4 472.3h0.7v0.7h-0.7zM380.6 476.4h1.2v1.2h-1.2zM350.4 463.1h0.6v0.6h-0.6zM359.9 464.0h0.8v0.8h-0.8zM405.0 464.5h0.8v0.8h-0.8zM356.5 459.0h0.7v0.7h-0.7zM381.2 463.1h0.7v0.7h-0.7zM378.2 448.3h1.1v1.1h-1.1zM349.2 468.6h1.2v1.2h-1.2zM356.5 449.9h0.8v0.8h-0.8zM385.0 467.4h0.7v0.7h-0.7zM388.7 478.0h0.7v0.7h-0.7zM384.0 490.8h0.9v0.9h-0.9zM370.0 479.3h0.9v0.9h-0.9zM352.4 494.2h0.6v0.6h-0.6zM391.7 469.8h1.0v1.0h-1.0zM378.3 489.8h0.8v0.8h-0.8zM361.2 487.1h1.1v1.1h-1.1zM377.0 495.3h1.0v1.0h-1.0zM403.3 457.5h1.2v1.2h-1.2zM393.4 496.2h0.7v0.7h-0.7zM380.3 493.6h1.0v1.0h-1.0zM363.8 462.3h1.2v1.2h-1.2zM387.5 450.4h0.7v0.7h-0.7zM380.4 457.3h0.8v0.8h-0.8zM387.3 452.0h0.7v0.7h-0.7zM400.4 449.8h0.6v0.6h-0.6zM396.5 482.4h0.8v0.8h-0.8zM399.1 458.5h0.5v0.5h-0.5zM396.1 480.5h0.7v0.7h-0.7zM381.8 451.8h0.7v0.7h-0.7zM381.1 491.1h0.7v0.7h-0.7zM350.0 452.2h0.7v0.7h-0.7zM384.6 483.8h1.0v1.0h-1.0zM399.8 482.6h1.0v1.0h-1.0zM382.6 481.8h1.0v1.0h-1.0zM406.1 456.8h1.0v1.0h-1.0zM353.7 458.0h1.1v1.1h-1.1zM371.1 476.9h0.6v0.6h-0.6zM377.5 448.8h0.9v0.9h-0.9zM404.7 482.9h1.0v1.0h-1.0zM380.1 464.0h1.0v1.0h-1.0zM370.0 464.9h0.9v0.9h-0.9zM406.0 485.3h1.0v1.0h-1.0zM354.1 489.2h0.8v0.8h-0.8zM384.7 476.4h1.0v1.0h-1.0zM348.2 452.7h0.7v0.7h-0.7zM358.7 482.8h0.6v0.6h-0.6zM352.0 475.0h0.5v0.5h-0.5zM395.0 464.6h0.7v0.7h-0.7zM382.9 497.9h0.7v0.7h-0.7z" fill="#a07858" opacity="0.6"/>
<path clip-path="url(#c1)" d="M359.8 466.3h1.3v1.3h-1.3zM403.5 455.5h0.8v0.8h-0.8zM364.7 463.9h1.3v1.3h-1.3zM387.9 485.9h1.1v1.1h-1.1zM372.5 496.1h0.8v0.8h-0.8zM347.2 448.2h1.4v1.4h-1.4zM377.8 483.2h1.3v1.3h-1.3zM396.0 474.8h1.0v1.0h-1.0zM353.0 468.7h0.9v0.9h-0.9zM403.0 486.8h1.0v1.0h-1.0zM377.4 471.6h1.2v1.2h-1.2zM404.1 461.6h1.2v1.2h-1.2zM377.1 496.7h1.0v1.0h-1.0zM385.8 452.1h1.2v1.2h-1.2zM405.1 484.6h0.8v0.8h-0.8zM406.4 475.2h1.2v1.2h-1.2zM404.2 477.6h1.0v1.0h-1.0zM372.4 486.0h1.1v1.1h-1.1zM356.5 467.6h0.9v0.9h-0.9zM352.2 453.7h1.2v1.2h-1.2zM365.7 456.6h1.3v1.3h-1.3zM383.7 489.8h0.9v0.9h-0.9zM384.1 461.0h1.1v1.1h-1.1zM373.4 477.4h1.2v1.2h-1.2zM402.5 479.6h1.0v1.0h-1.0zM394.7 455.6h1.3v1.3h-1.3zM381.4 460.7h1.3v1.3h-1.3zM353.1 449.3h1.0v1.0h-1.0zM377.1 480.0h1.0v1.0h-1.0zM381.4 497.7h1.5v1.5h-1.5zM390.3 463.0h1.1v1.1h-1.1zM395.5 493.0h1.5v1.5h-1.5zM369.9 464.9h1.0v1.0h-1.0zM394.2 496.7h1.2v1.2h-1.2zM373.3 481.8h1.1v1.1h-1.1zM381.2 457.2h0.9v0.9h-0.9zM371.0 461.4h0.9v0.9h-0.9zM405.3 483.3h1.1v1.1h-1.1zM407.0 453.0h1.0v1.0h-1.0zM400.2 497.2h1.4v1.4h-1.4zM357.6 476.7h0.8v0.8h-0.8zM350.1 492.1h0.8v0.8h-0.8zM351.9 452.8h1.3v1.3h-1.3zM384.6 458.6h1.1v1.1h-1.1zM404.6 458.4h0.8v0.8h-0.8zM385.7 453.0h1.2v1.2h-1.2zM361.6 449.0h1.3v1.3h-1.3zM392.3 463.7h0.9v0.9h-0.9zM406.1 460.1h1.0v1.0h-1.0zM368.6 459.9h1.0v1.0h-1.0zM402.7 451.5h1.4v1.4h-1.4zM379.0 449.4h0.9v0.9h-0.9zM386.4 476.4h1.0v1.0h-1.0zM363.8 495.1h1.3v1.3h-1.3zM386.8 495.1h1.0v1.0h-1.0zM366.3 490.6h1.1v1.1h-1.1zM373.3 488.9h1.5v1.5h-1.5zM400.5 487.2h1.1v1.1h-1.1zM389.5 459.1h1.0v1.0h-1.0zM358.4 482.4h1.5v1.5h-1.5zM392.4 461.1h1.3v1.3h-1.3zM367.6 489.9h1.1v1.1h-1.1zM361.5 462.5h0.9v0.9h-0.9zM368.2 464.9h1.1v1.1h-1.1zM386.3 495.1h1.4v1.4h-1.4zM381.4 466.2h0.9v0.9h-0.9zM382.5 450.9h0.8v0.8h-0.8zM385.3 455.8h1.4v1.4h-1.4zM387.0 474.3h1.5v1.5h-1.5zM354.1 463.4h1.2v1.2h-1.2zM405.3 451.4h1.2v1.2h-1.2zM402.4 454.8h1.3v1.3h-1.3zM388.4 466.0h1.2v1.2h-1.2zM403.5 471.5h1.1v1.1h-1.1zM380.6 449.0h1.4v1.4h-1.4z" fill="#ffffff" opacity="0.85"/>
<path d="M346.6 464.8H382.7V448H408V499.5H346.6Z" fill="none" stroke="#111" stroke-width="0.9"/>
<path d="M415.6 463.9H445.3V448.3H477.6V500.7H415.6Z" fill="#8c634c"/>
<clipPath id="c2"><path d="M415.6 463.9H445.3V448.3H477.6V500.7H415.6Z"/></clipPath>
<path clip-path="url(#c2)" d="M418.1 498.9h1.4v1.4h-1.4zM465.8 494.7h1.1v1.1h-1.1zM434.0 479.4h1.1v1.1h-1.1zM424.0 488.5h0.8v0.8h-0.8zM447.0 461.9h0.8v0.8h-0.8zM469.6 488.3h0.7v0.7h-0.7zM462.8 496.2h1.2v1.2h-1.2zM457.9 461.6h1.2v1.2h-1.2zM438.5 496.1h1.2v1.2h-1.2zM435.0 494.0h1.2v1.2h-1.2zM427.8 459.2h0.6v0.6h-0.6zM462.9 452.4h0.8v0.8h-0.8zM460.8 463.9h0.8v0.8h-0.8zM419.2 450.4h1.1v1.1h-1.1zM423.9 498.5h0.6v0.6h-0.6zM434.5 457.3h1.3v1.3h-1.3zM461.8 453.8h0.6v0.6h-0.6zM420.2 486.5h1.2v1.2h-1.2zM454.3 473.4h1.0v1.0h-1.0zM451.9 453.4h1.2v1.2h-1.2zM463.4 483.6h0.8v0.8h-0.8zM428.2 499.0h1.4v1.4h-1.4zM461.5 489.0h1.0v1.0h-1.0zM469.5 484.0h1.0v1.0h-1.0zM457.4 452.0h0.9v0.9h-0.9zM467.4 472.9h1.0v1.0h-1.0zM450.0 497.3h0.8v0.8h-0.8zM457.5 471.4h0.8v0.8h-0.8zM418.2 479.9h0.7v0.7h-0.7zM451.3 470.4h0.9v0.9h-0.9zM470.1 452.5h1.0v1.0h-1.0zM440.8 455.8h0.9v0.9h-0.9zM468.8 458.1h1.1v1.1h-1.1zM431.7 475.0h1.0v1.0h-1.0zM419.6 490.2h0.9v0.9h-0.9zM427.9 458.5h1.4v1.4h-1.4zM473.7 472.5h0.8v0.8h-0.8zM458.9 450.4h1.3v1.3h-1.3zM415.5 450.5h0.9v0.9h-0.9zM443.5 448.2h0.8v0.8h-0.8zM476.3 488.5h0.6v0.6h-0.6zM469.3 472.0h1.4v1.4h-1.4zM434.9 463.9h1.1v1.1h-1.1zM445.4 462.3h1.0v1.0h-1.0zM454.5 464.0h1.3v1.3h-1.3zM461.5 487.2h1.1v1.1h-1.1zM429.5 484.9h0.7v0.7h-0.7zM424.0 474.3h0.7v0.7h-0.7zM422.8 478.6h1.4v1.4h-1.4zM418.7 471.2h0.7v0.7h-0.7zM448.5 477.9h1.0v1.0h-1.0zM417.5 484.5h1.0v1.0h-1.0zM450.5 482.6h1.3v1.3h-1.3zM442.2 495.8h0.7v0.7h-0.7zM443.3 457.1h0.9v0.9h-0.9zM471.1 498.9h1.0v1.0h-1.0zM432.1 464.5h1.3v1.3h-1.3zM442.2 458.1h1.3v1.3h-1.3zM446.6 470.0h1.3v1.3h-1.3zM461.2 448.4h1.4v1.4h-1.4zM443.1 457.1h1.3v1.3h-1.3zM441.0 483.6h1.2v1.2h-1.2zM427.1 499.3h1.1v1.1h-1.1zM418.8 476.1h0.6v0.6h-0.6zM475.9 482.7h0.9v0.9h-0.9zM464.6 489.3h1.2v1.2h-1.2zM429.5 452.5h1.3v1.3h-1.3zM470.2 466.0h0.9v0.9h-0.9zM439.9 462.1h1.4v1.4h-1.4zM448.0 484.9h1.1v1.1h-1.1zM420.8 451.7h0.7v0.7h-0.7zM445.7 480.5h1.4v1.4h-1.4zM471.0 486.6h0.9v0.9h-0.9zM436.5 484.4h0.9v0.9h-0.9zM462.7 486.1h0.7v0.7h-0.7zM465.0 452.8h0.9v0.9h-0.9zM475.4 481.8h1.3v1.3h-1.3zM472.4 461.6h1.2v1.2h-1.2zM438.3 451.4h0.7v0.7h-0.7zM422.9 480.8h1.1v1.1h-1.1zM467.5 463.2h1.2v1.2h-1.2zM431.6 464.2h1.1v1.1h-1.1zM439.5 500.2h0.9v0.9h-0.9zM429.7 493.7h1.3v1.3h-1.3zM425.2 465.5h1.0v1.0h-1.0zM419.1 467.1h1.2v1.2h-1.2zM462.8 455.7h0.8v0.8h-0.8zM431.9 483.8h0.7v0.7h-0.7zM476.2 453.9h1.0v1.0h-1.0zM458.7 497.4h1.1v1.1h-1.1zM468.3 475.7h0.8v0.8h-0.8zM441.2 479.6h1.0v1.0h-1.0zM463.7 476.1h0.9v0.9h-0.9zM447.2 475.2h0.6v0.6h-0.6zM435.4 477.7h1.2v1.2h-1.2zM441.6 486.9h1.0v1.0h-1.0zM437.9 460.4h1.2v1.2h-1.2zM472.4 486.1h0.8v0.8h-0.8zM458.7 474.1h1.3v1.3h-1.3zM415.5 488.3h1.0v1.0h-1.0zM468.3 479.7h0.6v0.6h-0.6zM458.1 475.8h0.8v0.8h-0.8zM422.6 468.6h1.0v1.0h-1.0zM444.9 448.8h0.7v0.7h-0.7zM457.2 476.3h1.2v1.2h-1.2zM440.7 461.1h1.2v1.2h-1.2zM428.7 451.0h0.9v0.9h-0.9zM442.9 458.6h1.4v1.4h-1.4zM429.4 454.1h1.1v1.1h-1.1zM424.0 462.5h0.9v0.9h-0.9zM432.2 482.2h0.7v0.7h-0.7zM455.0 453.8h1.1v1.1h-1.1zM475.6 488.9h1.4v1.4h-1.4zM449.0 456.2h0.9v0.9h-0.9zM463.2 454.6h1.1v1.1h-1.1zM435.2 495.9h0.9v0.9h-0.9zM435.1 462.0h1.0v1.0h-1.0zM474.1 476.0h1.2v1.2h-1.2zM447.3 452.1h1.1v1.1h-1.1zM452.0 479.1h0.8v0.8h-0.8zM431.8 465.2h0.6v0.6h-0.6zM425.1 462.8h1.0v1.0h-1.0zM471.6 484.5h1.0v1.0h-1.0zM459.7 471.3h0.6v0.6h-0.6zM457.6 484.7h1.1v1.1h-1.1zM467.8 488.6h1.3v1.3h-1.3zM417.9 500.2h1.1v1.1h-1.1zM451.9 480.0h0.8v0.8h-0.8zM433.8 493.7h1.1v1.1h-1.1zM474.6 458.7h1.1v1.1h-1.1zM452.2 449.7h1.1v1.1h-1.1zM439.1 470.5h0.7v0.7h-0.7zM451.8 482.9h1.3v1.3h-1.3zM467.1 499.0h1.4v1.4h-1.4zM458.5 462.5h1.0v1.0h-1.0zM420.4 477.5h0.8v0.8h-0.8zM448.5 487.3h0.6v0.6h-0.6zM469.4 449.8h1.0v1.0h-1.0zM428.7 449.9h1.0v1.0h-1.0zM431.2 451.9h1.3v1.3h-1.3zM430.3 496.9h1.1v1.1h-1.1zM437.0 450.8h1.3v1.3h-1.3zM421.8 488.5h1.0v1.0h-1.0zM443.4 452.1h0.9v0.9h-0.9zM416.0 487.7h1.2v1.2h-1.2zM423.7 474.6h0.7v0.7h-0.7zM459.4 457.8h0.7v0.7h-0.7zM432.6 498.6h1.3v1.3h-1.3zM440.2 489.5h0.9v0.9h-0.9zM426.9 495.0h0.6v0.6h-0.6zM464.4 498.3h0.7v0.7h-0.7zM468.6 488.9h0.6v0.6h-0.6zM442.7 461.5h0.9v0.9h-0.9zM439.0 468.7h0.6v0.6h-0.6zM431.9 462.9h1.1v1.1h-1.1zM458.2 487.1h1.1v1.1h-1.1zM470.6 477.0h0.9v0.9h-0.9zM417.6 485.9h1.0v1.0h-1.0zM425.1 474.4h1.4v1.4h-1.4zM452.5 463.9h1.2v1.2h-1.2zM439.7 448.8h0.7v0.7h-0.7zM474.6 452.6h1.2v1.2h-1.2zM417.1 470.1h0.8v0.8h-0.8zM436.5 452.6h0.9v0.9h-0.9zM462.3 475.4h0.7v0.7h-0.7zM465.1 493.5h1.0v1.0h-1.0zM437.5 448.9h0.7v0.7h-0.7zM438.2 453.6h1.4v1.4h-1.4zM455.0 464.2h1.1v1.1h-1.1zM425.5 495.9h1.0v1.0h-1.0zM458.5 457.3h1.0v1.0h-1.0zM459.5 468.3h0.7v0.7h-0.7zM444.2 491.0h1.0v1.0h-1.0zM475.7 477.0h1.3v1.3h-1.3zM417.1 480.9h1.0v1.0h-1.0zM437.4 495.2h0.7v0.7h-0.7zM445.1 463.7h1.4v1.4h-1.4zM463.7 458.5h0.7v0.7h-0.7zM416.4 457.0h1.3v1.3h-1.3zM469.3 489.8h0.9v0.9h-0.9zM444.8 477.8h1.2v1.2h-1.2zM415.3 457.3h1.1v1.1h-1.1zM424.0 497.1h0.6v0.6h-0.6zM475.6 459.2h0.8v0.8h-0.8zM441.2 481.0h1.4v1.4h-1.4zM444.5 494.7h1.3v1.3h-1.3zM476.1 466.7h1.0v1.0h-1.0zM416.5 468.0h0.9v0.9h-0.9zM422.9 491.5h0.8v0.8h-0.8zM423.4 454.0h0.6v0.6h-0.6zM461.9 475.7h1.0v1.0h-1.0zM440.8 498.4h0.9v0.9h-0.9zM444.4 483.8h1.3v1.3h-1.3zM468.5 494.1h0.7v0.7h-0.7zM473.7 491.0h0.9v0.9h-0.9zM464.9 497.6h1.2v1.2h-1.2zM460.7 491.6h1.3v1.3h-1.3zM463.6 452.0h0.8v0.8h-0.8zM422.8 472.4h0.7v0.7h-0.7zM449.0 496.0h1.4v1.4h-1.4zM417.6 483.7h0.7v0.7h-0.7zM468.7 449.6h0.7v0.7h-0.7zM435.1 448.0h1.1v1.1h-1.1zM427.7 485.3h1.4v1.4h-1.4zM444.1 472.2h1.4v1.4h-1.4zM434.5 494.1h1.2v1.2h-1.2zM415.6 463.3h1.2v1.2h-1.2zM417.7 492.6h1.3v1.3h-1.3zM462.1 490.3h1.1v1.1h-1.1zM465.3 472.3h0.9v0.9h-0.9zM458.8 472.3h0.8v0.8h-0.8zM431.6 470.8h0.9v0.9h-0.9zM461.7 488.8h1.2v1.2h-1.2zM467.5 466.8h0.9v0.9h-0.9zM467.0 457.2h1.2v1.2h-1.2zM447.6 482.6h1.2v1.2h-1.2zM456.8 460.3h0.6v0.6h-0.6zM474.2 494.8h1.0v1.0h-1.0zM456.1 452.6h1.0v1.0h-1.0zM451.7 484.6h0.8v0.8h-0.8zM420.7 498.0h1.3v1.3h-1.3zM426.0 490.8h1.2v1.2h-1.2zM426.4 490.0h0.9v0.9h-0.9zM435.8 456.2h1.1v1.1h-1.1zM453.3 474.8h0.7v0.7h-0.7zM464.5 464.5h0.8v0.8h-0.8zM454.7 457.3h1.3v1.3h-1.3zM455.3 489.2h0.9v0.9h-0.9zM441.8 461.1h0.8v0.8h-0.8zM440.8 489.0h1.0v1.0h-1.0zM466.8 453.7h0.8v0.8h-0.8zM417.5 495.8h0.7v0.7h-0.7zM448.8 483.2h0.8v0.8h-0.8zM476.0 499.3h0.8v0.8h-0.8zM423.7 481.8h1.0v1.0h-1.0zM452.4 480.0h1.4v1.4h-1.4zM462.6 464.1h1.2v1.2h-1.2zM443.0 498.9h1.0v1.0h-1.0zM415.9 495.9h0.8v0.8h-0.8zM465.9 479.7h1.2v1.2h-1.2zM460.8 495.1h1.3v1.3h-1.3zM455.1 464.9h1.0v1.0h-1.0zM432.4 465.5h1.0v1.0h-1.0zM441.4 463.0h0.8v0.8h-0.8zM434.4 457.8h1.1v1.1h-1.1zM421.0 460.9h0.7v0.7h-0.7zM459.1 462.6h0.7v0.7h-0.7zM465.9 470.6h1.2v1.2h-1.2zM435.0 465.9h1.0v1.0h-1.0zM419.6 499.1h0.7v0.7h-0.7zM471.6 482.2h1.2v1.2h-1.2zM428.1 494.5h1.0v1.0h-1.0zM440.9 458.0h0.7v0.7h-0.7zM468.6 498.6h0.9v0.9h-0.9zM460.0 484.4h1.0v1.0h-1.0zM444.9 476.8h0.9v0.9h-0.9zM461.3 469.7h1.0v1.0h-1.0zM426.5 499.1h0.7v0.7h-0.7zM459.6 482.5h0.9v0.9h-0.9zM475.7 449.8h0.8v0.8h-0.8zM436.0 481.4h1.1v1.1h-1.1zM459.4 493.1h0.6v0.6h-0.6zM449.8 468.7h1.2v1.2h-1.2zM448.0 466.2h0.6v0.6h-0.6zM434.4 471.2h0.9v0.9h-0.9zM438.7 482.0h0.9v0.9h-0.9zM467.9 466.8h0.9v0.9h-0.9zM441.9 495.1h1.1v1.1h-1.1zM474.7 447.9h1.4v1.4h-1.4zM427.4 495.0h0.6v0.6h-0.6zM468.1 480.9h1.1v1.1h-1.1zM439.5 468.3h0.7v0.7h-0.7zM423.9 480.6h0.9v0.9h-0.9zM417.0 456.8h0.7v0.7h-0.7zM426.9 471.4h1.3v1.3h-1.3zM451.3 486.7h0.7v0.7h-0.7zM457.8 492.9h1.4v1.4h-1.4zM459.1 479.4h1.4v1.4h-1.4zM423.0 489.3h1.2v1.2h-1.2zM460.3 466.6h0.7v0.7h-0.7zM423.9 483.3h0.8v0.8h-0.8zM473.8 454.1h1.3v1.3h-1.3zM444.8 463.3h0.8v0.8h-0.8zM437.1 467.2h0.8v0.8h-0.8zM428.7 498.7h0.9v0.9h-0.9zM453.8 484.7h0.9v0.9h-0.9zM473.2 463.3h0.8v0.8h-0.8zM418.0 461.8h0.6v0.6h-0.6zM454.2 478.1h0.6v0.6h-0.6zM474.0 486.0h1.0v1.0h-1.0zM473.8 475.7h0.7v0.7h-0.7zM463.6 498.0h0.6v0.6h-0.6zM446.2 459.5h1.3v1.3h-1.3zM421.2 490.2h0.8v0.8h-0.8zM454.8 484.0h1.2v1.2h-1.2zM418.5 473.3h0.7v0.7h-0.7zM423.1 456.4h0.7v0.7h-0.7zM473.2 477.3h0.8v0.8h-0.8zM445.3 450.8h0.8v0.8h-0.8zM453.9 484.1h1.1v1.1h-1.1zM476.0 499.0h1.3v1.3h-1.3zM444.1 487.6h0.8v0.8h-0.8zM468.5 460.4h1.4v1.4h-1.4zM415.9 489.5h1.0v1.0h-1.0zM465.6 475.0h1.3v1.3h-1.3zM458.8 481.1h1.4v1.4h-1.4zM422.4 496.3h1.0v1.0h-1.0zM459.0 482.9h0.9v0.9h-0.9zM447.8 498.8h1.0v1.0h-1.0zM471.9 448.2h1.1v1.1h-1.1zM458.0 468.7h0.7v0.7h-0.7zM464.3 487.3h0.9v0.9h-0.9zM421.0 491.7h1.2v1.2h-1.2zM466.9 490.8h0.8v0.8h-0.8zM453.9 472.3h0.9v0.9h-0.9zM440.3 482.9h1.4v1.4h-1.4zM444.4 467.0h1.1v1.1h-1.1zM454.1 469.1h1.1v1.1h-1.1zM455.9 487.1h0.7v0.7h-0.7zM455.4 469.5h1.3v1.3h-1.3zM453.3 490.2h1.2v1.2h-1.2zM428.2 451.8h1.2v1.2h-1.2zM418.5 497.4h1.2v1.2h-1.2zM441.5 483.1h0.7v0.7h-0.7zM454.9 496.2h0.6v0.6h-0.6zM473.3 464.1h0.9v0.9h-0.9zM473.4 489.6h0.9v0.9h-0.9zM475.8 449.4h1.1v1.1h-1.1zM446.9 494.5h0.6v0.6h-0.6zM435.2 473.0h0.7v0.7h-0.7zM455.0 492.1h1.3v1.3h-1.3zM423.8 474.1h1.4v1.4h-1.4zM419.6 484.8h0.8v0.8h-0.8zM471.3 479.5h1.3v1.3h-1.3zM418.3 479.6h0.9v0.9h-0.9zM421.7 469.1h1.2v1.2h-1.2zM451.3 479.0h0.8v0.8h-0.8zM446.5 471.0h1.3v1.3h-1.3zM469.5 470.7h1.0v1.0h-1.0zM433.4 477.7h0.7v0.7h-0.7zM475.2 469.7h0.6v0.6h-0.6zM433.6 497.6h0.8v0.8h-0.8zM438.9 498.8h1.2v1.2h-1.2zM437.5 456.5h0.9v0.9h-0.9zM438.2 494.7h1.0v1.0h-1.0zM472.3 499.3h1.3v1.3h-1.3zM440.3 468.2h1.0v1.0h-1.0zM457.1 492.1h1.3v1.3h-1.3zM434.6 486.4h0.9v0.9h-0.9zM463.1 448.4h1.3v1.3h-1.3zM458.5 455.6h0.8v0.8h-0.8zM434.2 474.5h1.3v1.3h-1.3zM475.4 479.5h0.7v0.7h-0.7zM475.9 498.3h0.7v0.7h-0.7zM456.3 482.7h1.1v1.1h-1.1zM460.1 448.1h0.8v0.8h-0.8zM436.2 482.0h0.7v0.7h-0.7zM432.4 457.2h0.6v0.6h-0.6zM444.5 458.5h1.0v1.0h-1.0zM428.0 489.5h0.7v0.7h-0.7zM463.0 482.4h0.7v0.7h-0.7zM438.6 467.8h1.0v1.0h-1.0zM457.1 448.7h0.7v0.7h-0.7zM458.3 452.5h1.3v1.3h-1.3zM438.0 449.6h1.2v1.2h-1.2zM430.1 500.0h1.3v1.3h-1.3zM470.2 494.3h0.7v0.7h-0.7zM416.8 468.8h0.9v0.9h-0.9zM440.3 479.0h1.2v1.2h-1.2zM463.9 496.5h1.1v1.1h-1.1zM469.7 452.8h0.6v0.6h-0.6zM443.1 494.1h0.9v0.9h-0.9zM422.1 454.5h0.8v0.8h-0.8zM468.5 465.3h1.3v1.3h-1.3zM473.3 488.2h1.3v1.3h-1.3zM431.0 458.1h0.8v0.8h-0.8zM416.3 496.7h0.8v0.8h-0.8zM454.1 462.7h1.0v1.0h-1.0zM442.2 485.7h0.8v0.8h-0.8zM433.1 455.1h0.9v0.9h-0.9zM467.0 498.5h0.6v0.6h-0.6zM467.7 486.4h0.7v0.7h-0.7zM425.2 493.3h0.8v0.8h-0.8zM471.2 475.9h1.4v1.4h-1.4zM446.3 454.6h1.1v1.1h-1.1zM442.6 451.4h1.3v1.3h-1.3zM470.8 498.3h1.1v1.1h-1.1zM451.1 457.8h1.4v1.4h-1.4zM460.6 482.8h1.2v1.2h-1.2zM467.4 465.9h0.7v0.7h-0.7zM476.6 449.5h0.8v0.8h-0.8zM445.7 450.0h0.8v0.8h-0.8zM469.0 480.5h1.1v1.1h-1.1zM416.4 470.3h0.7v0.7h-0.7zM439.1 468.2h0.9v0.9h-0.9zM434.7 488.7h1.0v1.0h-1.0zM471.5 466.0h0.7v0.7h-0.7zM437.2 493.5h0.9v0.9h-0.9zM466.1 484.2h0.8v0.8h-0.8zM427.0 453.7h1.0v1.0h-1.0zM458.0 463.0h1.4v1.4h-1.4zM416.1 489.1h0.7v0.7h-0.7zM476.8 452.8h1.3v1.3h-1.3zM440.2 463.0h0.6v0.6h-0.6zM428.5 467.7h1.3v1.3h-1.3zM475.1 451.9h1.0v1.0h-1.0zM417.1 453.2h1.1v1.1h-1.1zM447.6 494.8h1.3v1.3h-1.3zM424.9 480.9h1.2v1.2h-1.2zM463.0 477.5h1.0v1.0h-1.0zM450.5 469.4h1.1v1.1h-1.1zM470.4 466.1h1.0v1.0h-1.0zM442.4 493.3h0.8v0.8h-0.8zM442.4 487.2h0.9v0.9h-0.9zM468.3 476.1h0.7v0.7h-0.7zM437.9 455.5h1.0v1.0h-1.0zM437.6 465.5h1.3v1.3h-1.3zM470.6 487.3h1.2v1.2h-1.2zM470.6 496.0h0.7v0.7h-0.7zM470.8 456.3h0.8v0.8h-0.8zM463.9 455.1h1.4v1.4h-1.4zM472.8 447.7h1.1v1.1h-1.1zM472.5 476.1h1.0v1.0h-1.0zM451.4 476.8h1.1v1.1h-1.1zM457.5 498.1h0.7v0.7h-0.7zM429.8 448.3h0.7v0.7h-0.7zM427.7 495.1h0.9v0.9h-0.9zM452.2 464.0h1.4v1.4h-1.4zM427.1 468.5h0.9v0.9h-0.9zM428.4 451.7h0.9v0.9h-0.9zM427.4 448.9h1.3v1.3h-1.3zM436.3 448.4h1.1v1.1h-1.1zM444.8 484.0h0.9v0.9h-0.9zM423.8 481.4h0.9v0.9h-0.9zM469.6 465.0h0.8v0.8h-0.8zM426.7 461.3h0.8v0.8h-0.8zM447.3 467.1h1.4v1.4h-1.4zM427.8 497.1h0.9v0.9h-0.9zM445.0 498.0h1.2v1.2h-1.2zM473.9 476.1h0.9v0.9h-0.9zM457.1 483.9h0.6v0.6h-0.6zM421.7 497.3h1.2v1.2h-1.2zM465.9 457.5h1.4v1.4h-1.4zM433.8 455.2h0.9v0.9h-0.9zM436.8 450.7h1.3v1.3h-1.3zM469.0 458.1h1.0v1.0h-1.0zM469.1 467.6h1.0v1.0h-1.0zM430.3 472.4h0.8v0.8h-0.8zM466.4 456.3h0.6v0.6h-0.6zM470.9 456.8h1.0v1.0h-1.0zM458.9 464.8h1.3v1.3h-1.3zM436.2 458.3h0.7v0.7h-0.7zM470.7 459.0h1.3v1.3h-1.3zM443.6 496.8h0.7v0.7h-0.7zM468.0 499.0h1.2v1.2h-1.2zM423.3 499.9h1.2v1.2h-1.2zM428.3 498.8h0.7v0.7h-0.7zM423.1 448.5h1.1v1.1h-1.1zM440.1 452.3h1.0v1.0h-1.0zM469.7 452.6h1.1v1.1h-1.1zM425.6 474.6h0.9v0.9h-0.9zM432.2 448.4h1.1v1.1h-1.1zM442.7 484.2h0.7v0.7h-0.7zM476.2 449.0h0.8v0.8h-0.8zM455.0 454.9h0.8v0.8h-0.8zM446.1 487.3h1.3v1.3h-1.3zM434.9 482.5h0.6v0.6h-0.6zM470.2 482.8h1.3v1.3h-1.3zM428.0 473.7h1.2v1.2h-1.2zM416.6 491.8h1.2v1.2h-1.2zM463.8 456.2h1.2v1.2h-1.2zM450.4 455.8h0.7v0.7h-0.7zM468.4 468.8h0.8v0.8h-0.8zM438.1 483.8h0.7v0.7h-0.7zM425.0 481.7h1.3v1.3h-1.3zM456.8 497.4h0.8v0.8h-0.8zM437.1 467.4h0.9v0.9h-0.9zM431.8 489.4h0.8v0.8h-0.8zM440.7 472.4h1.4v1.4h-1.4zM435.6 484.1h0.9v0.9h-0.9zM464.9 468.3h0.6v0.6h-0.6zM447.6 465.6h0.8v0.8h-0.8zM433.2 447.8h1.2v1.2h-1.2zM449.0 481.1h1.1v1.1h-1.1zM438.7 471.8h1.0v1.0h-1.0zM472.1 466.2h0.7v0.7h-0.7zM420.3 465.4h1.1v1.1h-1.1zM451.2 485.9h1.1v1.1h-1.1zM420.3 468.3h0.9v0.9h-0.9zM422.0 478.5h1.2v1.2h-1.2zM417.9 475.7h0.7v0.7h-0.7zM463.4 477.2h0.7v0.7h-0.7zM447.2 460.5h0.8v0.8h-0.8zM456.3 468.8h1.3v1.3h-1.3zM472.0 492.5h0.9v0.9h-0.9zM471.1 451.5h1.2v1.2h-1.2zM437.5 493.3h0.6v0.6h-0.6zM450.8 451.5h0.8v0.8h-0.8zM450.0 455.0h1.2v1.2h-1.2zM446.9 459.5h1.0v1.0h-1.0zM442.7 449.5h1.2v1.2h-1.2zM459.2 495.3h1.4v1.4h-1.4zM438.0 481.5h1.1v1.1h-1.1zM418.4 485.8h0.8v0.8h-0.8zM441.4 480.3h1.0v1.0h-1.0zM432.6 493.7h0.7v0.7h-0.7zM452.3 457.3h1.3v1.3h-1.3zM473.0 485.0h1.3v1.3h-1.3zM462.5 482.0h1.2v1.2h-1.2zM471.5 459.1h1.2v1.2h-1.2zM426.3 472.0h0.9v0.9h-0.9zM454.2 481.1h1.3v1.3h-1.3zM467.3 451.3h0.7v0.7h-0.7zM417.9 485.1h0.9v0.9h-0.9zM475.4 458.8h1.4v1.4h-1.4zM462.0 487.7h1.1v1.1h-1.1zM469.8 459.9h1.3v1.3h-1.3zM469.6 479.5h1.1v1.1h-1.1zM429.3 473.5h1.1v1.1h-1.1zM434.5 449.8h1.4v1.4h-1.4zM465.1 466.9h1.0v1.0h-1.0zM451.7 498.0h1.0v1.0h-1.0zM460.1 490.0h0.7v0.7h-0.7zM451.0 496.4h1.3v1.3h-1.3zM472.1 456.2h1.2v1.2h-1.2zM432.3 493.6h1.2v1.2h-1.2zM438.4 478.2h1.0v1.0h-1.0zM473.6 477.0h0.7v0.7h-0.7zM448.4 449.0h0.7v0.7h-0.7zM445.7 472.2h0.7v0.7h-0.7zM436.3 462.9h0.8v0.8h-0.8zM442.8 449.8h0.6v0.6h-0.6zM429.5 485.2h1.3v1.3h-1.3zM461.8 451.7h1.3v1.3h-1.3zM465.8 491.9h1.2v1.2h-1.2zM431.3 473.8h1.0v1.0h-1.0zM417.4 476.2h0.8v0.8h-0.8zM474.0 482.6h1.2v1.2h-1.2zM417.0 485.0h1.2v1.2h-1.2zM443.7 461.0h1.0v1.0h-1.0zM449.3 470.6h0.9v0.9h-0.9zM456.7 494.6h0.8v0.8h-0.8zM469.7 450.6h1.2v1.2h-1.2zM436.5 475.4h0.9v0.9h-0.9zM419.9 456.3h1.4v1.4h-1.4zM440.9 497.6h1.0v1.0h-1.0zM470.6 470.9h1.4v1.4h-1.4zM444.8 461.5h0.7v0.7h-0.7zM419.5 453.5h1.1v1.1h-1.1zM437.7 493.7h0.8v0.8h-0.8zM473.1 457.9h0.8v0.8h-0.8zM436.2 461.6h0.9v0.9h-0.9zM465.0 451.6h0.8v0.8h-0.8zM418.5 488.6h0.7v0.7h-0.7zM446.8 493.4h0.9v0.9h-0.9zM422.1 461.6h1.4v1.4h-1.4zM421.1 493.2h0.7v0.7h-0.7zM425.2 488.2h1.1v1.1h-1.1zM435.1 484.7h0.7v0.7h-0.7zM469.6 477.8h1.4v1.4h-1.4zM451.9 477.6h1.3v1.3h-1.3zM451.2 452.3h1.1v1.1h-1.1zM433.1 481.0h1.4v1.4h-1.4zM453.0 491.5h0.9v0.9h-0.9zM416.0 450.4h0.6v0.6h-0.6zM428.7 462.1h0.9v0.9h-0.9zM455.6 486.9h1.2v1.2h-1.2zM461.6 492.5h1.2v1.2h-1.2zM443.7 469.6h0.7v0.7h-0.7zM416.1 492.9h0.7v0.7h-0.7zM468.9 468.9h0.6v0.6h-0.6zM466.3 485.0h1.4v1.4h-1.4zM448.7 496.5h1.0v1.0h-1.0zM431.3 468.8h1.1v1.1h-1.1zM470.1 490.4h1.3v1.3h-1.3zM448.4 471.9h1.0v1.0h-1.0zM473.1 467.2h0.6v0.6h-0.6zM439.3 481.7h1.3v1.3h-1.3zM473.4 483.7h1.3v1.3h-1.3zM465.4 490.1h1.1v1.1h-1.1zM473.9 494.7h0.6v0.6h-0.6zM422.6 499.7h1.1v1.1h-1.1zM423.9 495.7h0.7v0.7h-0.7zM448.5 468.2h0.8v0.8h-0.8zM430.0 452.4h0.9v0.9h-0.9zM421.4 480.6h0.9v0.9h-0.9zM462.5 496.8h1.3v1.3h-1.3zM461.1 488.9h0.7v0.7h-0.7zM475.4 478.0h1.0v1.0h-1.0zM456.9 457.6h1.0v1.0h-1.0zM422.7 495.9h1.0v1.0h-1.0zM423.3 498.6h1.1v1.1h-1.1zM461.8 489.8h1.2v1.2h-1.2zM442.8 462.7h0.6v0.6h-0.6zM453.8 453.6h0.9v0.9h-0.9zM470.1 495.0h1.3v1.3h-1.3zM427.2 497.3h0.7v0.7h-0.7zM471.9 486.8h1.4v1.4h-1.4zM476.2 475.4h0.8v0.8h-0.8zM472.1 464.3h0.9v0.9h-0.9z" fill="#5b3d2b" opacity="0.5"/>
<path clip-path="url(#c2)" d="M450.5 455.3h0.8v0.8h-0.8zM423.6 471.5h1.0v1.0h-1.0zM472.2 498.0h0.9v0.9h-0.9zM461.4 470.2h1.0v1.0h-1.0zM423.6 456.7h0.6v0.6h-0.6zM440.5 451.0h0.9v0.9h-0.9zM426.5 484.0h0.8v0.8h-0.8zM458.0 484.6h1.0v1.0h-1.0zM445.0 477.9h0.7v0.7h-0.7zM446.1 452.5h1.1v1.1h-1.1zM473.0 451.9h0.5v0.5h-0.5zM439.7 475.5h0.8v0.8h-0.8zM436.2 480.5h0.7v0.7h-0.7zM440.3 449.6h0.9v0.9h-0.9zM420.4 492.9h0.8v0.8h-0.8zM437.1 482.4h1.0v1.0h-1.0zM425.5 468.8h1.1v1.1h-1.1zM468.8 468.4h0.7v0.7h-0.7zM465.9 452.4h0.6v0.6h-0.6zM450.6 477.7h0.8v0.8h-0.8zM462.7 494.1h0.7v0.7h-0.7zM435.5 492.5h0.6v0.6h-0.6zM469.4 484.8h1.0v1.0h-1.0zM454.6 453.4h0.9v0.9h-0.9zM446.1 457.6h0.6v0.6h-0.6zM431.6 454.6h0.6v0.6h-0.6zM467.4 497.6h1.1v1.1h-1.1zM450.0 477.7h0.5v0.5h-0.5zM422.5 488.2h0.8v0.8h-0.8zM450.2 487.3h1.0v1.0h-1.0zM459.2 448.5h0.8v0.8h-0.8zM466.9 490.7h1.1v1.1h-1.1zM447.5 475.4h0.5v0.5h-0.5zM446.9 477.3h1.1v1.1h-1.1zM470.2 451.3h0.6v0.6h-0.6zM439.0 488.9h0.6v0.6h-0.6zM463.1 478.9h1.0v1.0h-1.0zM436.6 469.1h0.5v0.5h-0.5zM447.3 488.5h0.8v0.8h-0.8zM447.5 495.8h1.0v1.0h-1.0zM434.6 497.3h0.9v0.9h-0.9zM433.8 458.9h0.9v0.9h-0.9zM446.7 479.4h0.6v0.6h-0.6zM462.7 493.0h0.8v0.8h-0.8zM433.9 498.8h1.1v1.1h-1.1zM423.0 476.2h0.8v0.8h-0.8zM432.5 475.0h0.9v0.9h-0.9zM437.8 463.9h1.0v1.0h-1.0zM456.1 464.0h0.6v0.6h-0.6zM439.0 497.0h1.0v1.0h-1.0zM428.4 479.8h0.5v0.5h-0.5zM471.5 497.4h0.6v0.6h-0.6zM436.5 463.8h0.6v0.6h-0.6zM457.7 467.8h0.5v0.5h-0.5zM428.8 482.5h0.9v0.9h-0.9zM416.2 476.7h0.9v0.9h-0.9zM454.6 482.0h1.0v1.0h-1.0zM436.0 492.5h0.8v0.8h-0.8zM419.0 482.1h0.7v0.7h-0.7zM454.6 467.5h0.8v0.8h-0.8zM449.7 485.1h0.7v0.7h-0.7zM456.6 460.0h1.0v1.0h-1.0zM429.7 451.8h0.5v0.5h-0.5zM452.3 464.8h0.8v0.8h-0.8zM434.4 470.8h1.0v1.0h-1.0zM472.3 450.0h1.1v1.1h-1.1zM446.4 486.5h1.1v1.1h-1.1zM426.8 467.8h1.0v1.0h-1.0zM447.3 494.8h1.0v1.0h-1.0zM477.2 482.7h0.5v0.5h-0.5zM471.3 457.7h0.6v0.6h-0.6zM438.2 458.9h0.6v0.6h-0.6zM454.8 495.7h0.7v0.7h-0.7zM438.5 481.6h0.7v0.7h-0.7zM445.9 495.8h0.6v0.6h-0.6zM448.3 459.0h1.0v1.0h-1.0zM428.1 490.4h0.7v0.7h-0.7zM472.9 466.9h0.8v0.8h-0.8zM421.8 462.5h0.7v0.7h-0.7zM470.5 478.5h1.0v1.0h-1.0zM468.2 452.7h0.7v0.7h-0.7zM466.8 487.5h0.8v0.8h-0.8zM440.4 474.2h0.5v0.5h-0.5zM423.3 466.7h0.6v0.6h-0.6zM429.4 490.1h1.0v1.0h-1.0zM460.4 477.5h1.1v1.1h-1.1zM429.5 480.4h0.8v0.8h-0.8zM473.7 466.0h0.6v0.6h-0.6zM462.8 490.3h0.9v0.9h-0.9zM463.7 457.9h0.9v0.9h-0.9zM448.5 495.6h0.7v0.7h-0.7zM430.4 464.0h0.8v0.8h-0.8zM476.1 484.4h0.9v0.9h-0.9zM444.0 468.6h1.1v1.1h-1.1zM443.0 454.4h1.0v1.0h-1.0zM427.7 468.3h0.9v0.9h-0.9zM466.7 448.2h0.9v0.9h-0.9zM423.6 480.9h0.9v0.9h-0.9zM447.2 470.2h0.8v0.8h-0.8zM474.5 466.4h0.8v0.8h-0.8zM424.5 468.4h0.5v0.5h-0.5zM471.5 465.9h1.1v1.1h-1.1zM423.5 482.5h0.9v0.9h-0.9zM456.3 489.7h0.5v0.5h-0.5zM461.1 449.3h0.7v0.7h-0.7zM467.6 477.7h1.1v1.1h-1.1zM468.7 470.1h0.7v0.7h-0.7zM427.8 450.1h0.9v0.9h-0.9zM465.2 450.4h0.8v0.8h-0.8zM466.7 481.4h0.7v0.7h-0.7zM474.1 470.1h0.7v0.7h-0.7zM446.1 466.1h0.7v0.7h-0.7zM446.0 451.9h0.9v0.9h-0.9zM451.4 485.3h0.6v0.6h-0.6zM417.8 485.0h0.7v0.7h-0.7zM452.3 462.1h0.7v0.7h-0.7zM431.5 473.7h0.9v0.9h-0.9zM429.8 464.5h0.8v0.8h-0.8zM458.5 467.4h0.5v0.5h-0.5zM447.2 471.6h1.1v1.1h-1.1zM451.1 450.3h0.9v0.9h-0.9zM420.5 467.6h0.5v0.5h-0.5zM452.3 456.8h1.1v1.1h-1.1zM427.1 498.5h1.0v1.0h-1.0zM447.3 472.3h0.7v0.7h-0.7zM461.7 457.8h0.7v0.7h-0.7zM418.9 470.4h0.6v0.6h-0.6zM472.3 471.6h0.6v0.6h-0.6zM432.3 457.4h0.6v0.6h-0.6zM418.6 485.6h0.6v0.6h-0.6zM467.3 498.5h1.0v1.0h-1.0zM426.1 489.4h0.9v0.9h-0.9zM473.8 463.2h0.9v0.9h-0.9zM453.4 457.8h0.9v0.9h-0.9zM460.1 490.1h1.0v1.0h-1.0zM416.9 487.7h0.7v0.7h-0.7zM462.7 455.9h0.7v0.7h-0.7zM440.4 484.3h0.9v0.9h-0.9zM465.7 448.3h0.7v0.7h-0.7zM460.7 460.3h1.0v1.0h-1.0zM434.6 483.0h0.5v0.5h-0.5zM472.0 453.8h0.7v0.7h-0.7zM439.3 463.8h0.8v0.8h-0.8zM447.6 489.4h1.1v1.1h-1.1zM464.9 485.9h0.6v0.6h-0.6zM428.5 448.7h0.6v0.6h-0.6zM463.8 450.9h0.7v0.7h-0.7zM439.0 456.2h0.7v0.7h-0.7zM430.9 469.4h0.6v0.6h-0.6zM416.7 495.4h0.9v0.9h-0.9zM462.8 461.1h1.1v1.1h-1.1zM466.9 469.4h0.7v0.7h-0.7zM464.3 449.0h0.8v0.8h-0.8zM468.9 495.6h1.1v1.1h-1.1zM441.8 448.8h0.7v0.7h-0.7zM431.9 478.1h0.9v0.9h-0.9zM476.0 464.7h0.7v0.7h-0.7zM420.6 491.5h0.8v0.8h-0.8zM429.7 474.2h0.8v0.8h-0.8zM465.9 459.9h0.8v0.8h-0.8zM442.9 453.3h0.6v0.6h-0.6zM430.1 470.7h0.8v0.8h-0.8zM461.5 495.7h0.6v0.6h-0.6zM475.5 469.4h1.0v1.0h-1.0zM435.7 486.1h0.9v0.9h-0.9zM416.5 493.7h0.5v0.5h-0.5zM445.7 459.3h0.9v0.9h-0.9zM426.4 479.7h1.0v1.0h-1.0zM452.0 491.8h0.7v0.7h-0.7zM456.5 471.2h1.0v1.0h-1.0zM421.2 493.6h0.5v0.5h-0.5zM468.2 452.3h0.9v0.9h-0.9zM421.6 488.9h0.6v0.6h-0.6zM419.5 493.5h0.8v0.8h-0.8zM467.9 489.5h0.6v0.6h-0.6zM421.1 485.3h1.0v1.0h-1.0zM426.5 494.5h0.5v0.5h-0.5zM462.9 480.8h0.7v0.7h-0.7zM438.9 464.0h0.8v0.8h-0.8zM446.4 456.7h0.5v0.5h-0.5zM448.0 458.0h0.6v0.6h-0.6zM430.7 455.4h1.0v1.0h-1.0zM433.4 482.0h0.5v0.5h-0.5zM456.1 497.8h1.0v1.0h-1.0zM462.6 469.8h0.8v0.8h-0.8zM471.1 460.3h0.8v0.8h-0.8zM460.4 465.6h0.8v0.8h-0.8zM417.5 483.7h0.6v0.6h-0.6zM431.2 459.6h0.9v0.9h-0.9zM439.9 499.9h1.0v1.0h-1.0zM472.5 484.0h0.6v0.6h-0.6zM435.4 467.0h0.6v0.6h-0.6zM444.1 489.3h0.8v0.8h-0.8zM425.4 486.2h1.1v1.1h-1.1zM444.6 455.3h0.9v0.9h-0.9zM448.6 490.2h0.9v0.9h-0.9zM469.2 448.6h0.9v0.9h-0.9zM452.6 488.8h0.6v0.6h-0.6zM451.4 461.8h1.0v1.0h-1.0zM420.0 456.0h1.1v1.1h-1.1zM461.0 461.2h0.7v0.7h-0.7zM442.2 460.2h0.6v0.6h-0.6zM475.3 458.9h0.9v0.9h-0.9zM459.8 486.5h0.7v0.7h-0.7zM428.8 480.1h1.1v1.1h-1.1zM439.3 459.3h0.8v0.8h-0.8zM426.9 466.0h0.9v0.9h-0.9zM430.2 471.3h0.9v0.9h-0.9zM424.9 455.3h1.1v1.1h-1.1zM469.0 494.2h0.8v0.8h-0.8zM446.6 453.7h0.6v0.6h-0.6zM422.2 475.8h0.8v0.8h-0.8zM425.9 453.1h0.8v0.8h-0.8zM424.0 448.7h0.6v0.6h-0.6zM465.0 482.4h0.8v0.8h-0.8zM429.3 472.5h0.5v0.5h-0.5zM435.5 473.1h0.6v0.6h-0.6zM451.3 471.2h0.5v0.5h-0.5zM424.2 473.4h1.0v1.0h-1.0zM418.8 477.4h0.7v0.7h-0.7zM439.2 496.2h0.9v0.9h-0.9zM432.7 471.4h1.1v1.1h-1.1zM469.0 470.2h0.8v0.8h-0.8zM443.5 455.6h1.1v1.1h-1.1zM429.5 459.5h0.6v0.6h-0.6zM473.6 495.8h0.9v0.9h-0.9zM448.0 478.4h0.7v0.7h-0.7zM470.3 477.0h1.0v1.0h-1.0zM458.2 483.4h0.9v0.9h-0.9zM463.3 490.5h0.9v0.9h-0.9zM435.2 461.8h0.6v0.6h-0.6zM468.4 473.5h0.5v0.5h-0.5zM452.2 493.0h1.1v1.1h-1.1zM473.5 493.5h0.6v0.6h-0.6zM447.1 485.0h0.9v0.9h-0.9zM437.3 449.7h1.0v1.0h-1.0zM463.5 493.3h0.7v0.7h-0.7zM430.5 492.1h0.9v0.9h-0.9zM456.7 449.8h0.6v0.6h-0.6zM462.9 494.2h0.7v0.7h-0.7zM469.3 457.3h0.8v0.8h-0.8zM436.9 476.0h0.6v0.6h-0.6zM438.9 472.1h0.8v0.8h-0.8zM428.0 479.7h0.6v0.6h-0.6zM475.8 460.7h0.6v0.6h-0.6zM432.0 477.7h0.8v0.8h-0.8zM456.1 453.7h0.7v0.7h-0.7zM449.6 498.9h1.0v1.0h-1.0zM450.8 463.8h0.6v0.6h-0.6zM454.4 477.4h0.8v0.8h-0.8zM459.8 472.2h1.0v1.0h-1.0zM433.0 464.9h1.0v1.0h-1.0zM451.2 498.1h0.5v0.5h-0.5zM472.5 450.8h0.9v0.9h-0.9zM451.2 454.3h0.7v0.7h-0.7zM445.0 477.1h0.8v0.8h-0.8zM416.9 500.1h0.7v0.7h-0.7zM459.9 496.4h1.1v1.1h-1.1zM426.6 494.6h0.8v0.8h-0.8zM455.9 460.9h0.6v0.6h-0.6zM451.1 495.2h0.8v0.8h-0.8zM474.4 485.0h0.5v0.5h-0.5zM473.2 453.9h0.6v0.6h-0.6zM450.2 497.2h0.6v0.6h-0.6zM433.8 450.4h0.6v0.6h-0.6zM441.9 478.1h0.8v0.8h-0.8zM418.2 470.4h0.8v0.8h-0.8zM473.1 465.0h0.9v0.9h-0.9zM445.4 488.7h0.9v0.9h-0.9zM476.8 481.3h0.7v0.7h-0.7zM441.3 492.8h0.7v0.7h-0.7zM472.5 470.9h1.1v1.1h-1.1zM424.5 489.0h0.8v0.8h-0.8zM429.4 479.0h0.5v0.5h-0.5zM427.6 492.3h0.8v0.8h-0.8zM436.3 455.6h0.6v0.6h-0.6zM429.6 472.2h0.5v0.5h-0.5zM427.8 470.2h1.0v1.0h-1.0zM469.0 497.0h0.6v0.6h-0.6zM422.8 492.3h0.9v0.9h-0.9zM430.4 470.5h1.1v1.1h-1.1zM465.9 497.0h0.8v0.8h-0.8zM427.3 476.3h0.6v0.6h-0.6zM422.5 452.7h0.7v0.7h-0.7zM425.3 461.3h0.9v0.9h-0.9zM456.8 449.1h1.0v1.0h-1.0zM466.1 497.5h0.6v0.6h-0.6zM460.4 477.0h0.9v0.9h-0.9zM471.1 452.1h1.0v1.0h-1.0zM468.5 481.7h0.7v0.7h-0.7zM448.7 455.2h0.9v0.9h-0.9zM449.3 478.0h0.9v0.9h-0.9zM421.6 450.5h0.6v0.6h-0.6zM420.3 490.0h0.6v0.6h-0.6zM438.6 482.4h0.7v0.7h-0.7zM471.8 495.8h0.7v0.7h-0.7zM451.4 488.9h1.1v1.1h-1.1zM458.3 471.6h0.5v0.5h-0.5zM454.9 482.4h0.9v0.9h-0.9zM436.8 493.0h0.9v0.9h-0.9zM438.9 460.8h0.5v0.5h-0.5zM459.2 464.3h1.0v1.0h-1.0zM435.1 463.8h1.0v1.0h-1.0zM438.7 499.5h0.8v0.8h-0.8zM473.5 454.4h0.5v0.5h-0.5zM416.0 493.8h0.8v0.8h-0.8zM460.5 475.3h1.1v1.1h-1.1zM465.5 473.1h0.6v0.6h-0.6zM439.1 468.4h0.7v0.7h-0.7zM459.4 491.6h1.0v1.0h-1.0zM427.4 456.7h0.9v0.9h-0.9zM460.5 488.8h1.0v1.0h-1.0zM436.1 451.5h0.7v0.7h-0.7zM435.2 453.6h0.9v0.9h-0.9zM446.8 480.5h1.0v1.0h-1.0zM450.8 494.3h1.0v1.0h-1.0zM447.9 480.4h0.8v0.8h-0.8zM439.2 486.2h0.9v0.9h-0.9zM438.1 482.1h0.8v0.8h-0.8zM422.1 486.9h0.8v0.8h-0.8zM472.9 495.1h0.6v0.6h-0.6zM431.8 484.5h0.6v0.6h-0.6zM466.2 483.1h1.1v1.1h-1.1zM437.0 483.9h0.9v0.9h-0.9zM457.5 497.6h0.7v0.7h-0.7zM429.7 490.2h0.6v0.6h-0.6zM449.3 496.3h1.0v1.0h-1.0zM457.9 448.5h1.1v1.1h-1.1zM443.4 463.3h0.5v0.5h-0.5zM424.1 450.3h0.8v0.8h-0.8zM438.7 463.2h1.0v1.0h-1.0zM420.1 469.9h1.0v1.0h-1.0zM466.6 485.1h0.8v0.8h-0.8zM425.0 468.5h0.9v0.9h-0.9zM463.5 479.8h1.0v1.0h-1.0zM450.1 492.2h1.0v1.0h-1.0zM425.5 455.4h1.1v1.1h-1.1zM433.6 471.4h0.8v0.8h-0.8zM467.8 448.6h0.8v0.8h-0.8zM443.8 453.1h0.8v0.8h-0.8zM469.5 450.7h0.7v0.7h-0.7zM452.8 476.3h1.0v1.0h-1.0zM436.5 454.4h0.7v0.7h-0.7zM466.7 470.8h0.7v0.7h-0.7zM463.8 478.7h0.6v0.6h-0.6zM438.9 495.7h0.5v0.5h-0.5zM462.4 464.0h0.9v0.9h-0.9zM425.3 482.2h1.0v1.0h-1.0zM419.4 498.2h0.6v0.6h-0.6zM416.0 491.0h0.8v0.8h-0.8zM417.4 482.2h0.8v0.8h-0.8zM476.8 498.9h1.0v1.0h-1.0zM447.6 490.7h0.9v0.9h-0.9zM432.2 487.1h0.7v0.7h-0.7zM441.4 452.2h0.6v0.6h-0.6zM446.2 491.7h1.0v1.0h-1.0zM425.0 476.4h0.7v0.7h-0.7zM427.8 467.0h0.9v0.9h-0.9zM472.6 453.1h0.7v0.7h-0.7zM461.6 474.0h0.7v0.7h-0.7zM464.8 448.7h1.1v1.1h-1.1zM432.0 492.2h1.0v1.0h-1.0zM467.1 480.3h0.9v0.9h-0.9zM418.1 470.2h0.9v0.9h-0.9zM432.1 483.6h0.8v0.8h-0.8zM456.6 492.8h0.7v0.7h-0.7zM453.8 450.4h1.0v1.0h-1.0zM465.7 483.9h0.9v0.9h-0.9zM449.9 464.9h1.0v1.0h-1.0zM423.5 478.5h0.6v0.6h-0.6zM461.4 474.2h0.9v0.9h-0.9zM425.7 469.7h0.9v0.9h-0.9zM442.7 485.9h0.6v0.6h-0.6zM437.3 453.5h0.9v0.9h-0.9zM439.6 487.0h1.0v1.0h-1.0zM417.5 480.4h1.0v1.0h-1.0zM472.1 452.7h0.6v0.6h-0.6zM442.8 487.3h0.6v0.6h-0.6zM477.2 485.4h0.5v0.5h-0.5zM461.4 470.5h0.6v0.6h-0.6zM456.3 485.3h0.9v0.9h-0.9zM431.0 457.6h0.5v0.5h-0.5zM425.6 466.8h0.7v0.7h-0.7zM419.6 492.2h0.6v0.6h-0.6zM420.2 458.9h0.8v0.8h-0.8zM454.0 452.3h0.6v0.6h-0.6zM416.7 468.6h1.1v1.1h-1.1zM463.5 492.5h1.0v1.0h-1.0zM428.9 481.8h0.8v0.8h-0.8zM437.7 487.6h0.8v0.8h-0.8zM453.7 461.9h1.1v1.1h-1.1zM455.8 480.8h1.0v1.0h-1.0zM471.9 457.2h0.7v0.7h-0.7zM475.4 483.1h1.0v1.0h-1.0zM435.8 499.6h0.8v0.8h-0.8zM465.1 495.6h0.8v0.8h-0.8zM441.1 474.1h0.6v0.6h-0.6zM419.6 497.4h0.9v0.9h-0.9zM420.5 478.9h0.6v0.6h-0.6zM467.4 466.9h0.5v0.5h-0.5zM456.4 499.9h0.9v0.9h-0.9zM474.9 453.3h0.7v0.7h-0.7zM463.4 472.2h0.6v0.6h-0.6zM436.4 462.8h0.9v0.9h-0.9zM463.1 486.4h0.9v0.9h-0.9zM461.6 496.3h0.7v0.7h-0.7zM432.3 499.2h1.0v1.0h-1.0zM456.4 489.4h0.9v0.9h-0.9zM434.4 477.6h0.6v0.6h-0.6zM421.2 465.6h1.0v1.0h-1.0zM423.9 450.4h0.6v0.6h-0.6zM463.9 494.2h0.7v0.7h-0.7zM474.7 472.9h0.9v0.9h-0.9zM456.5 471.1h1.0v1.0h-1.0zM470.9 472.7h0.7v0.7h-0.7zM473.3 484.6h0.7v0.7h-0.7zM425.4 468.6h0.8v0.8h-0.8zM465.7 484.7h0.8v0.8h-0.8zM471.4 478.4h1.0v1.0h-1.0zM419.1 452.0h1.0v1.0h-1.0zM460.9 461.6h0.6v0.6h-0.6zM419.5 464.5h1.0v1.0h-1.0zM427.0 460.8h1.0v1.0h-1.0zM426.6 460.4h0.9v0.9h-0.9zM468.4 497.4h0.5v0.5h-0.5zM435.7 480.0h0.7v0.7h-0.7zM461.1 459.7h0.9v0.9h-0.9zM425.2 455.7h1.0v1.0h-1.0zM454.1 477.7h0.7v0.7h-0.7zM457.0 497.8h0.7v0.7h-0.7zM418.1 461.3h1.0v1.0h-1.0zM433.7 487.5h0.6v0.6h-0.6zM452.2 467.0h0.8v0.8h-0.8zM438.4 478.9h0.9v0.9h-0.9zM458.8 470.6h0.5v0.5h-0.5zM466.5 453.5h0.7v0.7h-0.7zM464.0 499.2h0.9v0.9h-0.9zM422.4 498.6h0.5v0.5h-0.5zM417.3 486.3h1.1v1.1h-1.1zM454.9 493.7h0.9v0.9h-0.9zM420.4 480.3h1.0v1.0h-1.0zM445.8 485.1h0.8v0.8h-0.8zM421.7 493.2h0.6v0.6h-0.6zM427.9 454.7h0.7v0.7h-0.7zM440.2 458.4h0.6v0.6h-0.6zM443.2 448.5h0.8v0.8h-0.8zM421.9 455.0h0.6v0.6h-0.6zM467.5 490.5h1.1v1.1h-1.1zM465.2 474.4h0.7v0.7h-0.7zM451.3 480.8h1.1v1.1h-1.1zM435.8 495.1h1.1v1.1h-1.1zM474.3 480.7h0.9v0.9h-0.9zM476.9 469.5h1.0v1.0h-1.0zM420.2 460.4h0.8v0.8h-0.8zM460.8 457.2h1.0v1.0h-1.0zM451.0 455.2h0.5v0.5h-0.5zM439.7 490.8h1.1v1.1h-1.1zM462.2 459.6h1.0v1.0h-1.0zM424.8 468.7h0.9v0.9h-0.9zM436.2 465.2h0.8v0.8h-0.8zM471.4 472.6h0.6v0.6h-0.6zM437.2 478.6h0.8v0.8h-0.8zM474.4 474.5h1.0v1.0h-1.0zM461.7 472.4h0.8v0.8h-0.8zM443.8 454.3h0.6v0.6h-0.6zM422.4 454.9h0.5v0.5h-0.5zM439.6 455.5h1.1v1.1h-1.1zM440.3 448.1h0.9v0.9h-0.9zM459.6 497.7h0.6v0.6h-0.6zM434.9 487.1h0.9v0.9h-0.9zM453.8 496.7h1.1v1.1h-1.1zM415.6 468.1h1.1v1.1h-1.1zM416.2 465.6h1.0v1.0h-1.0zM419.7 478.6h1.1v1.1h-1.1zM448.4 448.2h0.6v0.6h-0.6zM440.5 448.5h0.9v0.9h-0.9zM431.8 465.8h1.0v1.0h-1.0zM460.8 489.9h0.6v0.6h-0.6zM436.5 481.2h0.8v0.8h-0.8zM465.1 469.4h1.0v1.0h-1.0zM428.8 482.1h1.0v1.0h-1.0zM476.4 467.6h1.0v1.0h-1.0zM452.6 481.6h0.7v0.7h-0.7zM469.5 451.3h1.1v1.1h-1.1zM450.4 478.5h0.6v0.6h-0.6zM457.0 455.9h1.0v1.0h-1.0zM461.4 456.7h1.0v1.0h-1.0zM454.4 463.4h0.9v0.9h-0.9zM458.3 474.0h0.9v0.9h-0.9zM464.2 494.5h1.0v1.0h-1.0zM421.7 492.9h1.1v1.1h-1.1zM445.2 495.4h0.6v0.6h-0.6zM417.8 471.4h0.6v0.6h-0.6zM423.2 471.0h1.1v1.1h-1.1zM447.4 499.7h0.8v0.8h-0.8zM444.0 449.1h0.6v0.6h-0.6zM469.4 483.9h0.8v0.8h-0.8zM470.5 482.0h0.7v0.7h-0.7zM469.0 486.2h0.5v0.5h-0.5zM466.6 466.9h1.0v1.0h-1.0z" fill="#c9ab95" opacity="0.6"/>
<path clip-path="url(#c2)" d="M466.5 495.5h0.7v0.7h-0.7zM460.7 464.1h1.1v1.1h-1.1zM422.1 493.6h1.2v1.2h-1.2zM447.2 476.6h1.0v1.0h-1.0zM470.7 452.4h1.1v1.1h-1.1zM436.7 469.0h1.1v1.1h-1.1zM422.7 455.3h1.0v1.0h-1.0zM460.3 459.6h1.0v1.0h-1.0zM437.3 449.4h0.8v0.8h-0.8zM425.2 471.5h0.9v0.9h-0.9zM439.0 495.5h0.8v0.8h-0.8zM427.0 497.5h1.0v1.0h-1.0zM474.1 471.5h1.0v1.0h-1.0zM435.6 498.4h0.8v0.8h-0.8zM472.8 465.7h1.1v1.1h-1.1zM455.4 488.7h0.7v0.7h-0.7zM477.2 474.0h0.6v0.6h-0.6zM457.4 451.9h1.0v1.0h-1.0zM459.7 458.6h0.7v0.7h-0.7zM423.4 482.2h1.0v1.0h-1.0zM472.3 465.0h0.7v0.7h-0.7zM454.1 491.6h1.0v1.0h-1.0zM445.5 461.9h1.0v1.0h-1.0zM468.2 459.3h1.0v1.0h-1.0zM463.0 500.1h0.8v0.8h-0.8zM439.6 450.3h0.7v0.7h-0.7zM461.2 462.0h1.1v1.1h-1.1zM435.0 489.6h0.8v0.8h-0.8zM462.1 470.9h0.7v0.7h-0.7zM428.0 463.0h0.7v0.7h-0.7zM468.8 496.1h1.1v1.1h-1.1zM415.4 494.0h1.1v1.1h-1.1zM467.5 481.0h0.7v0.7h-0.7zM433.7 468.3h0.7v0.7h-0.7zM416.9 497.8h0.8v0.8h-0.8zM452.8 453.4h1.1v1.1h-1.1zM461.8 450.1h0.7v0.7h-0.7zM461.4 451.0h0.6v0.6h-0.6zM422.4 455.2h1.1v1.1h-1.1zM463.7 477.9h0.8v0.8h-0.8zM463.9 481.2h0.6v0.6h-0.6zM426.8 484.3h0.9v0.9h-0.9zM439.7 475.7h0.7v0.7h-0.7zM451.3 454.9h1.2v1.2h-1.2zM466.1 473.8h1.2v1.2h-1.2zM457.1 478.1h1.0v1.0h-1.0zM458.6 499.6h1.1v1.1h-1.1zM429.7 450.8h1.2v1.2h-1.2zM460.9 478.4h0.9v0.9h-0.9zM474.1 450.2h0.7v0.7h-0.7zM434.8 500.1h1.0v1.0h-1.0zM452.5 465.9h0.7v0.7h-0.7zM416.3 455.4h0.7v0.7h-0.7zM446.7 466.9h1.2v1.2h-1.2zM472.4 477.0h0.7v0.7h-0.7zM434.8 449.2h1.0v1.0h-1.0zM439.1 496.5h0.8v0.8h-0.8zM467.9 468.5h1.0v1.0h-1.0zM437.3 490.3h0.7v0.7h-0.7zM425.1 450.6h0.8v0.8h-0.8zM460.5 472.0h1.1v1.1h-1.1zM451.5 475.8h0.9v0.9h-0.9zM417.7 478.9h0.7v0.7h-0.7zM420.4 453.3h0.7v0.7h-0.7zM453.7 462.9h0.8v0.8h-0.8zM440.8 498.0h0.8v0.8h-0.8zM433.9 461.1h0.8v0.8h-0.8zM433.5 491.2h1.2v1.2h-1.2zM439.7 493.4h0.7v0.7h-0.7zM445.2 491.1h0.7v0.7h-0.7zM477.1 468.8h0.9v0.9h-0.9zM473.9 496.1h0.7v0.7h-0.7zM443.4 486.4h0.9v0.9h-0.9zM473.3 458.2h1.2v1.2h-1.2zM453.6 480.0h1.0v1.0h-1.0zM431.7 471.2h0.7v0.7h-0.7zM465.2 465.3h0.7v0.7h-0.7zM470.2 465.7h1.2v1.2h-1.2zM442.7 481.9h1.1v1.1h-1.1zM447.0 497.2h1.1v1.1h-1.1z" fill="#f2e6dc" opacity="0.7"/>
<path d="M415.6 463.9H445.3V448.3H477.6V500.7H415.6Z" fill="none" stroke="#111" stroke-width="0.9"/>
<path d="M345.9 522.7H383.9V505.1H407.6V557.4H345.9Z" fill="#976b53"/>
<clipPath id="c3"><path d="M345.9 522.7H383.9V505.1H407.6V557.4H345.9Z"/></clipPath>
<path clip-path="url(#c3)" d="M400.6 532.6h0.7v0.7h-0.7zM356.1 512.2h1.0v1.0h-1.0zM404.1 533.5h0.9v0.9h-0.9zM352.5 524.3h0.7v0.7h-0.7zM373.4 528.4h1.3v1.3h-1.3zM370.0 551.0h0.6v0.6h-0.6zM366.8 542.4h1.0v1.0h-1.0zM350.3 523.2h1.0v1.0h-1.0zM404.5 517.2h0.7v0.7h-0.7zM392.2 536.8h0.9v0.9h-0.9zM369.5 521.7h1.1v1.1h-1.1zM398.7 520.1h1.3v1.3h-1.3zM371.3 530.4h0.8v0.8h-0.8zM350.9 515.2h0.8v0.8h-0.8zM372.3 530.3h1.3v1.3h-1.3zM367.7 544.7h0.8v0.8h-0.8zM374.7 508.4h1.3v1.3h-1.3zM367.1 538.1h1.0v1.0h-1.0zM375.4 517.0h1.3v1.3h-1.3zM374.7 511.6h0.7v0.7h-0.7zM376.6 534.2h0.8v0.8h-0.8zM359.8 547.9h1.1v1.1h-1.1zM354.4 547.0h0.6v0.6h-0.6zM397.6 548.5h0.7v0.7h-0.7zM406.7 551.8h0.7v0.7h-0.7zM385.9 529.0h0.7v0.7h-0.7zM358.1 515.3h1.1v1.1h-1.1zM380.8 555.4h0.8v0.8h-0.8zM375.1 524.1h0.9v0.9h-0.9zM381.3 545.6h1.1v1.1h-1.1zM352.5 519.0h1.1v1.1h-1.1zM392.5 550.0h0.9v0.9h-0.9zM373.7 507.1h1.0v1.0h-1.0zM364.1 532.1h1.1v1.1h-1.1zM355.9 508.5h1.2v1.2h-1.2zM390.0 556.3h1.0v1.0h-1.0zM349.4 508.4h1.4v1.4h-1.4zM390.8 513.3h0.9v0.9h-0.9zM357.4 545.1h1.2v1.2h-1.2zM402.6 539.0h0.9v0.9h-0.9zM401.6 524.6h1.2v1.2h-1.2zM358.9 519.0h1.1v1.1h-1.1zM363.5 549.6h1.0v1.0h-1.0zM402.7 536.0h1.1v1.1h-1.1zM376.7 514.8h0.9v0.9h-0.9zM400.6 539.9h1.2v1.2h-1.2zM370.9 515.1h1.2v1.2h-1.2zM371.3 545.5h0.7v0.7h-0.7zM367.0 538.4h1.3v1.3h-1.3zM357.7 555.9h1.1v1.1h-1.1zM357.6 505.2h1.3v1.3h-1.3zM387.1 542.4h0.9v0.9h-0.9zM350.8 529.6h1.1v1.1h-1.1zM362.4 554.7h1.2v1.2h-1.2zM346.4 519.8h1.3v1.3h-1.3zM391.6 546.7h0.8v0.8h-0.8zM399.8 539.1h0.9v0.9h-0.9zM387.4 517.2h1.3v1.3h-1.3zM350.2 518.5h1.2v1.2h-1.2zM371.1 550.7h1.3v1.3h-1.3zM387.4 523.5h1.0v1.0h-1.0zM366.0 521.1h0.6v0.6h-0.6zM361.3 541.0h1.0v1.0h-1.0zM365.9 521.8h0.7v0.7h-0.7zM350.1 512.7h1.1v1.1h-1.1zM402.8 540.6h0.9v0.9h-0.9zM380.3 511.8h0.7v0.7h-0.7zM349.2 534.2h1.1v1.1h-1.1zM355.1 554.0h0.7v0.7h-0.7zM377.0 538.7h0.6v0.6h-0.6zM362.1 532.4h1.1v1.1h-1.1zM387.6 539.4h0.7v0.7h-0.7zM349.1 549.7h0.7v0.7h-0.7zM368.0 548.8h0.6v0.6h-0.6zM398.4 538.8h0.9v0.9h-0.9zM360.1 531.7h1.3v1.3h-1.3zM357.9 517.5h1.0v1.0h-1.0zM395.4 526.4h0.9v0.9h-0.9zM404.7 532.5h1.2v1.2h-1.2zM387.0 533.3h0.9v0.9h-0.9zM385.9 548.3h0.7v0.7h-0.7zM361.9 515.5h1.2v1.2h-1.2zM365.4 528.0h1.0v1.0h-1.0zM404.6 504.9h0.7v0.7h-0.7zM399.0 528.6h0.9v0.9h-0.9zM403.8 510.4h0.6v0.6h-0.6zM401.3 547.5h1.0v1.0h-1.0zM361.9 545.4h0.7v0.7h-0.7zM371.8 513.6h0.9v0.9h-0.9zM345.8 528.6h1.0v1.0h-1.0zM406.0 524.4h1.0v1.0h-1.0zM354.8 519.5h0.8v0.8h-0.8zM405.4 511.2h1.1v1.1h-1.1zM396.7 553.8h1.2v1.2h-1.2zM356.5 552.7h1.0v1.0h-1.0zM378.2 551.5h0.6v0.6h-0.6zM389.7 544.3h1.1v1.1h-1.1zM357.5 552.5h0.8v0.8h-0.8zM365.2 548.1h1.3v1.3h-1.3zM361.5 529.5h1.3v1.3h-1.3zM378.7 516.6h0.9v0.9h-0.9zM384.5 542.5h0.8v0.8h-0.8zM357.2 545.5h0.8v0.8h-0.8zM360.7 519.8h0.8v0.8h-0.8zM353.8 524.9h0.8v0.8h-0.8zM385.4 510.1h0.9v0.9h-0.9zM403.8 528.4h1.3v1.3h-1.3zM359.6 545.9h0.7v0.7h-0.7zM404.0 554.8h1.2v1.2h-1.2zM357.8 544.1h1.2v1.2h-1.2zM385.9 545.3h0.8v0.8h-0.8zM393.6 516.4h1.0v1.0h-1.0zM369.9 515.9h0.8v0.8h-0.8zM400.0 507.8h1.0v1.0h-1.0zM375.3 510.6h0.7v0.7h-0.7zM372.4 523.4h0.8v0.8h-0.8zM361.1 516.5h1.1v1.1h-1.1zM405.7 520.7h0.9v0.9h-0.9zM388.6 520.8h0.7v0.7h-0.7zM385.6 523.3h0.6v0.6h-0.6zM365.8 550.8h0.6v0.6h-0.6zM400.3 536.6h1.3v1.3h-1.3zM379.9 541.6h1.3v1.3h-1.3zM356.0 510.3h1.1v1.1h-1.1zM375.0 531.9h0.9v0.9h-0.9zM405.8 536.1h1.1v1.1h-1.1zM347.2 519.2h0.8v0.8h-0.8zM406.6 511.8h1.0v1.0h-1.0zM390.4 537.0h1.2v1.2h-1.2zM367.8 513.2h0.8v0.8h-0.8zM379.3 531.8h0.9v0.9h-0.9zM402.2 525.7h0.8v0.8h-0.8zM382.4 534.9h1.2v1.2h-1.2zM379.9 505.0h1.0v1.0h-1.0zM356.7 516.8h1.2v1.2h-1.2zM404.9 550.3h0.8v0.8h-0.8zM371.6 549.5h1.3v1.3h-1.3zM348.9 519.1h1.1v1.1h-1.1zM357.6 505.8h0.8v0.8h-0.8zM378.7 541.9h1.2v1.2h-1.2zM380.3 535.9h1.0v1.0h-1.0zM394.3 538.5h1.1v1.1h-1.1zM401.3 510.9h0.6v0.6h-0.6zM378.1 527.8h1.3v1.3h-1.3zM364.4 539.9h1.2v1.2h-1.2zM360.1 505.1h0.9v0.9h-0.9zM357.9 514.6h1.0v1.0h-1.0zM356.4 533.8h1.1v1.1h-1.1zM374.5 534.2h0.8v0.8h-0.8zM380.8 549.1h1.3v1.3h-1.3zM352.1 521.5h1.2v1.2h-1.2zM381.7 524.7h1.3v1.3h-1.3zM400.7 534.1h0.8v0.8h-0.8zM404.9 529.8h0.9v0.9h-0.9zM353.1 553.8h1.2v1.2h-1.2zM349.6 513.9h1.3v1.3h-1.3zM350.0 539.9h1.1v1.1h-1.1zM376.3 540.8h0.9v0.9h-0.9zM384.0 550.4h1.1v1.1h-1.1zM377.9 536.7h0.7v0.7h-0.7zM366.0 542.0h1.1v1.1h-1.1zM352.7 550.0h0.9v0.9h-0.9zM360.5 512.3h1.3v1.3h-1.3zM390.6 520.9h0.8v0.8h-0.8zM397.9 512.3h1.0v1.0h-1.0zM386.6 553.6h1.1v1.1h-1.1zM351.9 531.6h1.3v1.3h-1.3zM362.2 509.4h0.6v0.6h-0.6zM396.9 553.4h1.0v1.0h-1.0zM364.4 525.5h0.7v0.7h-0.7zM372.3 529.3h1.0v1.0h-1.0zM351.8 555.5h1.1v1.1h-1.1zM380.9 548.0h0.6v0.6h-0.6zM381.5 523.9h1.1v1.1h-1.1zM403.4 508.4h0.7v0.7h-0.7zM366.9 532.4h1.3v1.3h-1.3zM390.8 533.4h0.8v0.8h-0.8zM376.6 527.8h0.7v0.7h-0.7zM401.8 548.6h1.1v1.1h-1.1zM360.7 534.8h0.9v0.9h-0.9zM385.4 506.5h1.1v1.1h-1.1zM379.9 553.0h1.1v1.1h-1.1zM393.7 516.2h1.0v1.0h-1.0zM365.2 556.0h1.4v1.4h-1.4zM360.7 537.4h0.7v0.7h-0.7zM379.4 556.3h0.7v0.7h-0.7zM390.2 531.4h1.4v1.4h-1.4zM370.6 547.8h1.1v1.1h-1.1zM394.7 549.1h1.1v1.1h-1.1zM366.9 535.7h1.2v1.2h-1.2zM396.0 537.7h1.0v1.0h-1.0zM350.5 510.6h1.1v1.1h-1.1zM369.8 540.0h1.0v1.0h-1.0zM369.9 515.2h1.3v1.3h-1.3zM362.3 537.8h0.7v0.7h-0.7zM404.8 512.6h1.0v1.0h-1.0zM395.4 516.7h1.1v1.1h-1.1zM370.7 555.1h0.7v0.7h-0.7zM357.1 533.0h1.1v1.1h-1.1zM380.9 514.1h1.0v1.0h-1.0zM349.5 539.9h0.9v0.9h-0.9zM404.9 525.7h0.6v0.6h-0.6zM346.2 521.9h0.8v0.8h-0.8zM404.1 545.5h0.9v0.9h-0.9zM361.6 508.3h0.7v0.7h-0.7zM391.1 507.5h1.2v1.2h-1.2zM369.7 540.3h1.1v1.1h-1.1zM352.0 544.0h1.3v1.3h-1.3zM352.1 555.2h1.2v1.2h-1.2zM382.9 541.2h0.6v0.6h-0.6zM359.3 551.8h1.3v1.3h-1.3zM358.9 533.3h0.9v0.9h-0.9zM356.9 545.4h1.1v1.1h-1.1zM349.8 539.8h0.6v0.6h-0.6zM351.5 526.4h0.6v0.6h-0.6zM377.6 540.4h0.8v0.8h-0.8zM388.6 508.5h0.7v0.7h-0.7zM376.0 506.0h1.2v1.2h-1.2zM400.3 504.8h1.2v1.2h-1.2zM380.4 555.5h1.2v1.2h-1.2zM401.0 549.2h1.3v1.3h-1.3zM392.3 552.2h0.7v0.7h-0.7zM395.1 540.1h0.9v0.9h-0.9zM372.5 510.6h0.8v0.8h-0.8zM389.3 533.3h1.3v1.3h-1.3zM361.0 516.5h1.2v1.2h-1.2zM404.5 523.8h0.9v0.9h-0.9zM348.6 516.7h1.3v1.3h-1.3zM405.5 530.1h1.3v1.3h-1.3zM358.6 538.3h1.3v1.3h-1.3zM366.9 537.9h1.2v1.2h-1.2zM354.0 518.1h1.1v1.1h-1.1zM361.5 513.1h0.7v0.7h-0.7zM393.7 528.6h1.0v1.0h-1.0zM384.6 521.5h1.1v1.1h-1.1zM373.3 509.4h1.0v1.0h-1.0zM376.0 540.4h1.4v1.4h-1.4zM348.3 536.8h1.2v1.2h-1.2zM374.9 527.1h1.2v1.2h-1.2zM378.7 526.3h1.1v1.1h-1.1zM382.9 509.3h0.9v0.9h-0.9zM400.5 512.9h1.0v1.0h-1.0zM384.8 511.0h0.8v0.8h-0.8zM365.5 536.1h0.7v0.7h-0.7zM392.6 540.2h1.2v1.2h-1.2zM360.1 532.8h1.3v1.3h-1.3zM372.4 534.5h0.9v0.9h-0.9zM391.0 537.3h1.2v1.2h-1.2zM405.2 545.3h1.1v1.1h-1.1zM360.9 531.3h1.4v1.4h-1.4zM406.1 511.0h1.1v1.1h-1.1zM346.8 510.3h0.9v0.9h-0.9zM351.4 538.6h1.0v1.0h-1.0zM369.2 549.2h0.9v0.9h-0.9zM360.8 519.6h0.6v0.6h-0.6zM390.0 538.4h0.9v0.9h-0.9zM395.9 522.0h0.8v0.8h-0.8zM347.5 513.9h1.0v1.0h-1.0zM366.0 528.0h0.6v0.6h-0.6zM347.1 540.0h0.9v0.9h-0.9zM393.9 548.9h0.9v0.9h-0.9zM373.8 544.8h0.7v0.7h-0.7zM395.2 523.9h0.8v0.8h-0.8zM374.2 538.3h1.3v1.3h-1.3zM396.3 506.6h0.7v0.7h-0.7zM366.3 507.8h1.0v1.0h-1.0zM373.4 532.0h0.9v0.9h-0.9zM360.3 535.6h0.6v0.6h-0.6zM348.0 543.7h0.8v0.8h-0.8zM355.2 517.5h1.1v1.1h-1.1zM360.1 539.2h1.1v1.1h-1.1zM370.2 553.0h1.2v1.2h-1.2zM354.1 516.7h0.7v0.7h-0.7zM389.3 514.6h1.0v1.0h-1.0zM351.0 550.4h1.2v1.2h-1.2zM386.5 541.2h0.9v0.9h-0.9zM357.1 505.6h0.9v0.9h-0.9zM401.5 506.2h0.8v0.8h-0.8zM378.0 508.5h0.8v0.8h-0.8zM391.9 515.9h0.8v0.8h-0.8zM362.7 515.2h1.2v1.2h-1.2zM404.1 535.6h0.8v0.8h-0.8zM360.3 540.6h1.2v1.2h-1.2zM395.9 511.8h0.8v0.8h-0.8zM366.3 526.9h1.3v1.3h-1.3zM350.9 520.4h0.7v0.7h-0.7zM394.9 541.6h1.2v1.2h-1.2zM364.8 531.9h1.3v1.3h-1.3zM346.5 546.3h1.2v1.2h-1.2zM372.1 545.0h1.2v1.2h-1.2zM356.3 555.0h1.4v1.4h-1.4zM361.2 554.5h1.0v1.0h-1.0zM376.7 544.9h1.3v1.3h-1.3zM361.1 510.8h1.3v1.3h-1.3zM372.7 533.4h1.0v1.0h-1.0zM399.5 534.2h1.2v1.2h-1.2zM392.8 504.7h1.0v1.0h-1.0zM382.8 510.2h0.7v0.7h-0.7zM349.5 526.2h1.2v1.2h-1.2zM360.7 550.4h0.7v0.7h-0.7zM366.5 516.6h1.4v1.4h-1.4zM355.7 549.2h1.0v1.0h-1.0zM362.2 526.6h0.7v0.7h-0.7zM382.9 539.5h1.0v1.0h-1.0zM394.2 544.6h1.1v1.1h-1.1zM391.9 527.2h0.7v0.7h-0.7zM378.1 528.9h0.7v0.7h-0.7zM388.3 527.8h1.1v1.1h-1.1zM357.4 517.0h0.7v0.7h-0.7zM401.5 540.8h0.8v0.8h-0.8zM348.5 522.1h1.2v1.2h-1.2zM400.7 513.1h1.3v1.3h-1.3zM358.0 506.6h0.7v0.7h-0.7zM346.4 517.1h1.2v1.2h-1.2zM375.1 546.2h0.7v0.7h-0.7zM391.7 511.8h0.9v0.9h-0.9zM403.0 542.7h1.2v1.2h-1.2zM385.2 523.8h1.1v1.1h-1.1zM371.9 545.9h1.1v1.1h-1.1zM400.1 548.2h1.3v1.3h-1.3zM351.3 505.7h0.9v0.9h-0.9zM403.7 536.3h1.1v1.1h-1.1zM396.5 537.9h0.7v0.7h-0.7zM374.5 549.8h1.2v1.2h-1.2zM349.2 556.8h1.0v1.0h-1.0zM363.1 526.9h1.4v1.4h-1.4zM400.6 523.1h1.1v1.1h-1.1zM350.0 546.2h0.7v0.7h-0.7zM389.7 521.3h0.7v0.7h-0.7zM354.4 555.6h0.8v0.8h-0.8zM374.4 512.8h1.0v1.0h-1.0zM395.9 517.5h1.2v1.2h-1.2zM367.2 511.0h1.2v1.2h-1.2zM366.4 537.8h1.4v1.4h-1.4zM389.9 521.8h1.1v1.1h-1.1zM391.4 515.7h1.4v1.4h-1.4zM359.4 506.5h1.0v1.0h-1.0zM374.7 512.7h1.0v1.0h-1.0zM362.2 547.1h1.0v1.0h-1.0zM377.6 512.0h1.4v1.4h-1.4zM360.9 535.0h1.2v1.2h-1.2zM377.4 521.3h1.1v1.1h-1.1zM389.8 511.9h0.8v0.8h-0.8zM356.6 505.7h1.1v1.1h-1.1zM406.9 518.7h1.4v1.4h-1.4zM369.3 552.5h0.7v0.7h-0.7zM364.8 548.7h1.3v1.3h-1.3zM395.0 540.4h0.8v0.8h-0.8zM406.0 534.5h1.3v1.3h-1.3zM369.9 553.6h1.1v1.1h-1.1zM389.3 512.1h0.9v0.9h-0.9zM351.3 523.1h1.1v1.1h-1.1zM363.3 505.0h0.9v0.9h-0.9zM392.1 524.3h1.2v1.2h-1.2zM369.4 533.4h0.8v0.8h-0.8zM350.7 545.5h1.0v1.0h-1.0zM394.3 545.5h1.2v1.2h-1.2zM369.0 520.1h0.8v0.8h-0.8zM374.1 536.0h1.3v1.3h-1.3zM406.9 542.7h1.1v1.1h-1.1zM363.3 535.2h0.8v0.8h-0.8zM399.1 516.5h0.9v0.9h-0.9zM359.1 515.9h1.2v1.2h-1.2zM358.1 521.6h0.6v0.6h-0.6zM401.6 551.6h0.9v0.9h-0.9zM402.3 516.7h0.8v0.8h-0.8zM379.5 515.8h1.3v1.3h-1.3zM405.3 511.0h1.0v1.0h-1.0zM371.4 556.1h1.4v1.4h-1.4zM349.1 554.5h1.1v1.1h-1.1zM374.4 527.3h1.3v1.3h-1.3zM353.5 525.6h0.7v0.7h-0.7zM369.8 546.3h1.3v1.3h-1.3zM354.0 517.5h1.2v1.2h-1.2zM355.9 507.0h1.3v1.3h-1.3zM346.8 551.2h1.1v1.1h-1.1zM369.8 520.3h0.9v0.9h-0.9zM400.9 535.0h0.7v0.7h-0.7zM379.9 520.8h1.3v1.3h-1.3zM355.4 530.7h0.6v0.6h-0.6zM361.6 541.6h1.1v1.1h-1.1zM402.1 512.7h1.0v1.0h-1.0zM351.9 541.2h0.7v0.7h-0.7zM402.4 530.1h1.0v1.0h-1.0zM368.0 525.3h1.3v1.3h-1.3zM392.1 524.8h1.3v1.3h-1.3zM368.9 508.9h0.8v0.8h-0.8zM371.7 527.9h0.7v0.7h-0.7zM388.8 517.0h1.1v1.1h-1.1zM377.8 538.3h1.3v1.3h-1.3zM389.2 536.7h1.1v1.1h-1.1zM377.2 556.4h1.3v1.3h-1.3zM355.1 512.7h0.9v0.9h-0.9zM402.4 512.2h0.8v0.8h-0.8zM407.1 543.7h1.0v1.0h-1.0zM355.7 506.3h0.9v0.9h-0.9zM357.1 550.8h1.0v1.0h-1.0zM376.6 536.6h1.0v1.0h-1.0zM360.0 542.9h1.2v1.2h-1.2zM401.6 530.3h0.7v0.7h-0.7zM404.9 505.5h0.7v0.7h-0.7zM388.9 549.5h1.4v1.4h-1.4zM382.3 519.2h0.6v0.6h-0.6zM390.9 538.3h0.7v0.7h-0.7zM391.6 554.4h0.7v0.7h-0.7zM382.6 526.4h1.1v1.1h-1.1zM352.7 551.7h0.8v0.8h-0.8zM385.1 517.0h0.7v0.7h-0.7zM404.4 517.9h1.4v1.4h-1.4zM398.5 533.7h1.0v1.0h-1.0zM347.2 544.8h1.1v1.1h-1.1zM381.6 547.2h1.0v1.0h-1.0zM369.0 543.3h1.0v1.0h-1.0zM382.9 512.7h0.8v0.8h-0.8zM356.5 546.4h1.4v1.4h-1.4zM405.4 533.4h1.2v1.2h-1.2zM352.7 521.6h1.4v1.4h-1.4zM363.7 512.9h0.9v0.9h-0.9zM393.0 556.4h0.6v0.6h-0.6zM384.6 548.4h1.3v1.3h-1.3zM402.0 538.3h1.3v1.3h-1.3zM370.2 535.5h1.0v1.0h-1.0zM372.6 528.0h1.2v1.2h-1.2zM354.6 548.1h1.2v1.2h-1.2zM357.7 522.7h1.3v1.3h-1.3zM371.6 549.0h0.9v0.9h-0.9zM406.5 524.8h1.4v1.4h-1.4zM369.3 526.7h0.7v0.7h-0.7zM393.8 508.6h1.2v1.2h-1.2zM376.1 549.6h1.1v1.1h-1.1zM403.9 531.6h0.8v0.8h-0.8zM402.3 551.2h1.3v1.3h-1.3zM382.6 518.6h0.6v0.6h-0.6zM395.5 539.1h1.0v1.0h-1.0zM377.2 545.9h0.8v0.8h-0.8zM346.5 509.3h1.4v1.4h-1.4zM358.5 555.9h0.6v0.6h-0.6zM386.9 532.2h1.0v1.0h-1.0zM345.4 534.2h1.1v1.1h-1.1zM396.8 547.9h1.2v1.2h-1.2zM349.0 550.5h1.0v1.0h-1.0zM399.2 552.3h0.7v0.7h-0.7zM370.7 531.0h1.1v1.1h-1.1zM403.3 506.4h1.1v1.1h-1.1zM375.7 511.5h1.1v1.1h-1.1zM390.5 510.8h0.7v0.7h-0.7zM375.4 554.5h1.3v1.3h-1.3zM386.2 525.1h1.4v1.4h-1.4zM374.6 511.8h1.1v1.1h-1.1zM351.1 549.9h1.0v1.0h-1.0z" fill="#6a4632" opacity="0.45"/>
<path clip-path="url(#c3)" d="M390.9 549.1h1.1v1.1h-1.1zM394.3 545.8h0.8v0.8h-0.8zM347.2 517.9h1.0v1.0h-1.0zM365.1 556.3h0.7v0.7h-0.7zM389.2 511.1h0.8v0.8h-0.8zM395.1 552.4h0.6v0.6h-0.6zM395.3 555.3h0.5v0.5h-0.5zM395.6 506.9h1.0v1.0h-1.0zM406.3 509.1h1.0v1.0h-1.0zM352.3 535.3h0.7v0.7h-0.7zM380.0 544.4h0.6v0.6h-0.6zM364.0 510.8h0.8v0.8h-0.8zM350.4 506.1h1.0v1.0h-1.0zM388.9 506.1h1.0v1.0h-1.0zM387.2 522.7h0.7v0.7h-0.7zM359.8 536.3h0.6v0.6h-0.6zM379.3 525.9h0.9v0.9h-0.9zM392.4 516.5h0.7v0.7h-0.7zM375.1 521.6h1.0v1.0h-1.0zM354.1 552.4h1.2v1.2h-1.2zM353.3 530.2h0.7v0.7h-0.7zM366.7 515.1h0.9v0.9h-0.9zM394.9 517.0h1.0v1.0h-1.0zM391.5 537.5h1.1v1.1h-1.1zM382.5 546.3h1.2v1.2h-1.2zM398.2 534.9h0.7v0.7h-0.7zM382.7 542.3h1.0v1.0h-1.0zM370.1 543.9h0.7v0.7h-0.7zM353.2 554.6h1.1v1.1h-1.1zM371.8 533.6h0.5v0.5h-0.5zM404.2 523.2h0.9v0.9h-0.9zM353.8 511.9h0.9v0.9h-0.9zM387.0 555.8h1.0v1.0h-1.0zM383.3 536.4h0.7v0.7h-0.7zM368.4 537.5h0.6v0.6h-0.6zM364.3 513.6h0.5v0.5h-0.5zM373.3 524.2h0.9v0.9h-0.9zM369.9 508.4h1.1v1.1h-1.1zM348.1 506.0h0.5v0.5h-0.5zM394.0 523.8h1.2v1.2h-1.2zM365.0 526.0h1.0v1.0h-1.0zM404.0 552.5h0.8v0.8h-0.8zM387.4 507.9h0.9v0.9h-0.9zM385.3 519.1h1.0v1.0h-1.0zM364.5 544.9h0.6v0.6h-0.6zM377.6 554.3h0.9v0.9h-0.9zM403.4 554.1h1.0v1.0h-1.0zM395.1 543.1h0.9v0.9h-0.9zM394.1 545.8h1.1v1.1h-1.1zM345.9 506.6h0.8v0.8h-0.8zM389.8 526.6h0.8v0.8h-0.8zM346.6 536.2h1.2v1.2h-1.2zM383.4 517.4h0.9v0.9h-0.9zM368.5 524.0h0.5v0.5h-0.5zM389.4 504.6h1.1v1.1h-1.1zM345.9 545.4h0.7v0.7h-0.7zM367.1 530.4h0.6v0.6h-0.6zM358.1 541.9h1.1v1.1h-1.1zM354.0 518.9h1.2v1.2h-1.2zM387.9 552.7h0.8v0.8h-0.8zM392.8 541.7h1.0v1.0h-1.0zM374.9 520.1h0.8v0.8h-0.8zM354.4 508.8h0.8v0.8h-0.8zM398.3 522.0h0.9v0.9h-0.9zM396.3 510.2h0.8v0.8h-0.8zM368.2 541.8h1.1v1.1h-1.1zM346.1 533.3h0.5v0.5h-0.5zM364.1 525.7h0.7v0.7h-0.7zM370.9 523.6h0.8v0.8h-0.8zM361.0 525.2h0.7v0.7h-0.7zM371.6 541.9h0.5v0.5h-0.5zM407.0 512.4h1.1v1.1h-1.1zM363.1 508.3h1.1v1.1h-1.1zM380.4 518.5h0.8v0.8h-0.8zM398.9 541.7h0.7v0.7h-0.7zM360.2 534.4h0.6v0.6h-0.6zM359.5 546.7h1.0v1.0h-1.0zM347.1 528.1h0.8v0.8h-0.8zM391.2 527.0h0.7v0.7h-0.7zM397.3 514.7h1.0v1.0h-1.0zM363.0 537.2h0.6v0.6h-0.6zM399.5 523.9h1.0v1.0h-1.0zM391.7 529.1h0.9v0.9h-0.9zM352.8 533.0h0.9v0.9h-0.9zM400.8 523.2h0.6v0.6h-0.6zM370.7 545.9h0.5v0.5h-0.5zM347.7 556.9h0.9v0.9h-0.9zM389.9 529.2h0.6v0.6h-0.6zM386.7 517.3h0.8v0.8h-0.8zM358.5 552.2h0.8v0.8h-0.8zM388.3 514.2h0.9v0.9h-0.9zM363.8 511.0h0.7v0.7h-0.7zM349.4 536.2h0.9v0.9h-0.9zM398.2 506.1h0.8v0.8h-0.8zM406.4 523.0h0.5v0.5h-0.5zM394.8 509.5h1.0v1.0h-1.0zM377.9 550.5h0.9v0.9h-0.9zM387.2 518.0h1.2v1.2h-1.2zM358.3 548.4h1.0v1.0h-1.0zM375.3 524.4h0.6v0.6h-0.6zM394.3 516.4h1.1v1.1h-1.1zM400.3 515.7h0.7v0.7h-0.7zM389.5 544.8h0.5v0.5h-0.5zM396.4 547.3h0.9v0.9h-0.9zM400.6 555.8h0.6v0.6h-0.6zM403.6 549.7h0.9v0.9h-0.9zM352.2 554.9h1.0v1.0h-1.0zM368.2 521.4h1.2v1.2h-1.2zM359.7 547.6h0.8v0.8h-0.8zM388.6 547.8h0.6v0.6h-0.6zM361.6 510.7h0.8v0.8h-0.8zM354.1 552.5h1.1v1.1h-1.1zM381.4 514.8h0.6v0.6h-0.6zM381.9 552.0h1.2v1.2h-1.2zM402.7 521.5h1.0v1.0h-1.0zM377.4 533.7h1.0v1.0h-1.0zM363.7 518.7h0.8v0.8h-0.8zM359.9 549.7h0.8v0.8h-0.8zM347.7 537.6h1.2v1.2h-1.2zM379.2 519.3h1.1v1.1h-1.1zM384.3 537.1h0.8v0.8h-0.8zM393.0 539.7h0.9v0.9h-0.9zM366.0 545.5h1.1v1.1h-1.1zM351.3 506.2h0.6v0.6h-0.6zM399.4 537.0h0.8v0.8h-0.8zM405.7 554.1h0.8v0.8h-0.8zM368.2 532.5h0.9v0.9h-0.9zM397.5 550.7h0.7v0.7h-0.7zM398.3 508.8h0.6v0.6h-0.6zM371.4 508.7h0.7v0.7h-0.7zM347.1 546.7h1.0v1.0h-1.0zM361.6 532.1h0.8v0.8h-0.8zM396.1 520.1h0.7v0.7h-0.7zM393.3 544.2h1.0v1.0h-1.0zM349.3 506.7h1.2v1.2h-1.2zM405.5 515.4h0.8v0.8h-0.8zM374.2 519.7h0.6v0.6h-0.6zM361.1 555.0h0.8v0.8h-0.8zM358.1 508.6h1.0v1.0h-1.0zM397.2 517.8h1.0v1.0h-1.0zM346.8 511.4h0.9v0.9h-0.9zM351.3 529.0h0.8v0.8h-0.8zM347.1 547.6h1.0v1.0h-1.0zM394.3 538.9h0.7v0.7h-0.7zM388.3 534.5h0.9v0.9h-0.9zM391.7 519.7h1.1v1.1h-1.1zM374.0 521.2h0.9v0.9h-0.9zM405.7 541.7h0.6v0.6h-0.6zM362.3 539.7h1.2v1.2h-1.2zM378.9 533.1h0.5v0.5h-0.5zM355.0 546.9h0.7v0.7h-0.7zM378.5 540.4h0.9v0.9h-0.9zM392.8 538.4h0.7v0.7h-0.7zM381.8 541.2h0.5v0.5h-0.5zM404.9 536.9h1.2v1.2h-1.2zM398.8 506.5h0.6v0.6h-0.6zM398.1 517.4h1.1v1.1h-1.1zM405.9 544.8h0.9v0.9h-0.9zM372.5 552.2h0.9v0.9h-0.9zM351.3 542.7h0.7v0.7h-0.7zM353.7 523.7h1.1v1.1h-1.1zM391.2 524.4h1.1v1.1h-1.1zM380.1 522.5h0.6v0.6h-0.6zM387.5 517.6h0.9v0.9h-0.9zM360.4 537.8h0.5v0.5h-0.5zM362.6 537.3h1.1v1.1h-1.1zM390.5 519.8h0.8v0.8h-0.8zM376.5 554.3h0.6v0.6h-0.6zM394.0 510.5h1.1v1.1h-1.1zM352.4 524.7h0.8v0.8h-0.8zM386.5 521.1h1.1v1.1h-1.1zM406.4 542.4h0.5v0.5h-0.5zM351.4 546.7h0.8v0.8h-0.8zM377.0 548.8h1.0v1.0h-1.0zM378.1 520.5h0.6v0.6h-0.6zM352.5 507.5h0.8v0.8h-0.8zM403.9 510.5h0.9v0.9h-0.9zM383.3 553.7h1.2v1.2h-1.2zM385.9 534.9h1.0v1.0h-1.0zM372.2 545.4h1.1v1.1h-1.1zM358.8 532.4h0.7v0.7h-0.7zM353.2 526.6h0.9v0.9h-0.9zM377.4 524.8h0.9v0.9h-0.9zM376.6 506.0h1.0v1.0h-1.0zM394.1 528.8h1.0v1.0h-1.0zM360.4 542.8h0.8v0.8h-0.8zM385.0 539.9h0.8v0.8h-0.8zM356.9 553.6h1.1v1.1h-1.1zM369.0 524.3h1.1v1.1h-1.1zM391.8 519.1h1.1v1.1h-1.1zM366.5 548.8h0.6v0.6h-0.6zM403.8 523.7h1.1v1.1h-1.1zM360.8 524.3h0.7v0.7h-0.7zM381.6 517.9h1.0v1.0h-1.0zM387.4 544.8h0.8v0.8h-0.8zM371.9 517.8h0.8v0.8h-0.8zM378.0 519.2h0.9v0.9h-0.9zM356.1 526.6h0.7v0.7h-0.7zM378.6 545.4h0.5v0.5h-0.5zM372.7 510.0h0.7v0.7h-0.7zM390.8 537.8h1.0v1.0h-1.0zM395.8 522.5h0.8v0.8h-0.8zM357.1 521.8h0.9v0.9h-0.9zM386.8 541.8h0.9v0.9h-0.9zM348.5 538.3h1.1v1.1h-1.1zM399.4 505.9h0.8v0.8h-0.8zM375.7 537.2h1.1v1.1h-1.1zM347.2 551.8h0.8v0.8h-0.8zM405.1 546.0h0.8v0.8h-0.8zM404.3 529.1h0.6v0.6h-0.6zM357.8 532.6h1.0v1.0h-1.0zM364.8 553.8h0.7v0.7h-0.7zM405.7 538.5h1.0v1.0h-1.0zM369.4 532.5h0.7v0.7h-0.7zM376.5 548.6h1.0v1.0h-1.0zM396.4 526.3h0.7v0.7h-0.7zM381.9 554.4h1.0v1.0h-1.0zM359.7 546.0h1.1v1.1h-1.1zM390.9 542.6h1.0v1.0h-1.0zM380.3 525.2h1.0v1.0h-1.0zM371.3 513.8h1.1v1.1h-1.1zM401.9 511.1h1.1v1.1h-1.1zM383.8 522.0h0.7v0.7h-0.7zM354.6 528.1h0.6v0.6h-0.6zM387.0 554.2h0.7v0.7h-0.7zM361.6 532.1h0.6v0.6h-0.6zM354.1 513.8h1.1v1.1h-1.1zM376.4 545.7h1.1v1.1h-1.1zM364.2 514.0h0.5v0.5h-0.5zM390.7 532.7h1.1v1.1h-1.1zM385.9 513.6h0.8v0.8h-0.8zM370.6 511.1h0.6v0.6h-0.6zM389.0 539.3h0.8v0.8h-0.8zM353.2 518.2h0.8v0.8h-0.8zM391.0 526.3h1.0v1.0h-1.0zM367.9 536.1h1.0v1.0h-1.0zM371.5 529.4h0.5v0.5h-0.5zM352.6 540.4h0.6v0.6h-0.6zM356.9 529.9h1.1v1.1h-1.1zM407.0 545.3h0.8v0.8h-0.8zM356.6 526.2h0.5v0.5h-0.5zM363.0 541.7h0.9v0.9h-0.9zM402.9 521.1h0.8v0.8h-0.8zM390.9 517.9h0.7v0.7h-0.7zM405.7 522.7h1.1v1.1h-1.1zM370.2 551.6h1.1v1.1h-1.1zM363.5 507.2h1.0v1.0h-1.0zM366.4 521.9h1.0v1.0h-1.0zM370.7 519.0h1.1v1.1h-1.1zM394.6 546.9h0.7v0.7h-0.7zM405.8 531.4h0.7v0.7h-0.7zM354.0 547.0h1.0v1.0h-1.0zM403.4 509.7h0.5v0.5h-0.5zM400.4 517.9h0.7v0.7h-0.7zM353.4 531.0h0.6v0.6h-0.6zM349.3 554.7h0.6v0.6h-0.6zM368.0 515.0h1.1v1.1h-1.1zM393.7 552.8h0.8v0.8h-0.8zM393.9 547.0h1.1v1.1h-1.1zM355.1 530.3h1.0v1.0h-1.0zM364.3 545.7h0.9v0.9h-0.9zM395.0 543.6h0.8v0.8h-0.8zM352.7 517.3h0.8v0.8h-0.8zM404.1 515.4h1.1v1.1h-1.1zM361.2 535.3h1.1v1.1h-1.1zM373.2 516.3h0.7v0.7h-0.7zM391.5 539.6h0.9v0.9h-0.9zM358.5 544.0h1.1v1.1h-1.1zM373.9 519.0h0.9v0.9h-0.9zM394.0 528.4h0.9v0.9h-0.9zM391.8 552.8h0.6v0.6h-0.6zM388.1 508.1h0.7v0.7h-0.7zM387.4 513.8h1.0v1.0h-1.0zM393.6 540.2h1.1v1.1h-1.1zM383.0 530.8h1.2v1.2h-1.2zM366.5 513.7h0.8v0.8h-0.8zM381.5 523.5h1.2v1.2h-1.2zM365.9 514.4h0.9v0.9h-0.9zM359.3 537.6h0.7v0.7h-0.7zM368.0 540.5h1.0v1.0h-1.0zM348.4 534.2h0.9v0.9h-0.9zM367.6 524.0h0.9v0.9h-0.9zM393.6 545.4h1.1v1.1h-1.1zM378.2 518.1h1.0v1.0h-1.0zM355.7 505.8h0.6v0.6h-0.6zM348.8 526.8h0.8v0.8h-0.8zM404.9 549.2h1.1v1.1h-1.1zM391.0 514.3h0.6v0.6h-0.6zM396.2 544.7h0.5v0.5h-0.5zM371.1 518.8h0.9v0.9h-0.9zM373.3 529.0h0.9v0.9h-0.9zM393.2 551.2h0.8v0.8h-0.8zM369.0 549.6h0.5v0.5h-0.5zM393.1 507.6h0.7v0.7h-0.7zM402.6 521.1h0.5v0.5h-0.5zM353.3 554.7h0.8v0.8h-0.8zM368.1 551.9h1.1v1.1h-1.1zM360.6 510.8h1.1v1.1h-1.1zM369.1 528.9h0.6v0.6h-0.6zM370.7 551.3h1.1v1.1h-1.1zM357.3 538.4h0.6v0.6h-0.6zM376.8 545.8h0.7v0.7h-0.7zM381.9 514.9h0.7v0.7h-0.7zM385.1 522.4h0.7v0.7h-0.7zM365.3 544.6h0.8v0.8h-0.8zM382.5 518.2h0.9v0.9h-0.9zM348.2 507.7h0.7v0.7h-0.7zM394.2 513.9h0.8v0.8h-0.8zM406.9 517.0h0.6v0.6h-0.6zM362.4 532.4h1.1v1.1h-1.1zM347.6 532.6h0.5v0.5h-0.5zM406.6 528.5h1.0v1.0h-1.0zM361.3 529.4h1.1v1.1h-1.1zM352.8 516.0h0.7v0.7h-0.7zM396.1 551.7h1.0v1.0h-1.0zM360.5 521.1h1.0v1.0h-1.0zM372.7 522.7h1.2v1.2h-1.2zM361.4 545.6h0.6v0.6h-0.6zM401.6 519.4h1.1v1.1h-1.1zM389.3 550.3h0.9v0.9h-0.9zM351.7 525.3h1.2v1.2h-1.2zM353.1 532.5h0.9v0.9h-0.9zM372.5 519.4h0.7v0.7h-0.7zM358.2 518.6h0.5v0.5h-0.5zM391.8 551.5h0.7v0.7h-0.7zM349.2 524.9h0.6v0.6h-0.6zM371.7 518.0h0.9v0.9h-0.9zM391.2 550.4h1.0v1.0h-1.0zM396.6 556.7h0.8v0.8h-0.8zM355.1 513.6h0.8v0.8h-0.8zM388.4 548.3h0.6v0.6h-0.6zM377.8 508.7h0.9v0.9h-0.9zM398.8 522.6h1.0v1.0h-1.0zM384.6 539.5h0.6v0.6h-0.6zM376.9 507.6h0.8v0.8h-0.8zM348.8 555.2h0.7v0.7h-0.7zM360.8 551.9h0.8v0.8h-0.8zM377.0 550.1h0.9v0.9h-0.9zM369.8 543.3h0.7v0.7h-0.7zM354.8 542.2h0.8v0.8h-0.8zM406.9 533.1h1.1v1.1h-1.1zM348.2 505.9h0.7v0.7h-0.7zM396.9 529.5h0.9v0.9h-0.9zM367.9 522.8h0.7v0.7h-0.7zM362.9 506.5h1.0v1.0h-1.0zM364.5 552.7h0.9v0.9h-0.9zM355.2 520.2h0.6v0.6h-0.6zM392.0 517.9h0.9v0.9h-0.9zM372.1 523.8h1.1v1.1h-1.1zM377.2 521.0h0.6v0.6h-0.6zM363.8 514.5h1.0v1.0h-1.0zM391.3 535.8h1.0v1.0h-1.0zM391.8 534.8h0.6v0.6h-0.6zM385.0 505.9h0.8v0.8h-0.8zM355.3 541.1h1.0v1.0h-1.0zM365.8 535.2h1.0v1.0h-1.0zM377.2 518.1h0.6v0.6h-0.6zM399.3 509.4h0.6v0.6h-0.6zM393.7 507.4h0.6v0.6h-0.6zM368.6 512.7h0.5v0.5h-0.5zM393.2 513.6h1.1v1.1h-1.1zM348.5 519.0h0.9v0.9h-0.9zM351.6 529.7h0.8v0.8h-0.8zM382.5 553.1h0.8v0.8h-0.8zM401.5 516.0h1.0v1.0h-1.0zM371.9 545.2h0.9v0.9h-0.9zM398.2 512.9h0.7v0.7h-0.7zM379.1 537.9h0.8v0.8h-0.8zM394.9 524.3h1.2v1.2h-1.2zM402.9 506.9h0.9v0.9h-0.9zM398.5 507.2h1.0v1.0h-1.0zM381.5 531.8h0.7v0.7h-0.7zM390.9 516.3h0.6v0.6h-0.6zM367.1 556.5h0.8v0.8h-0.8zM354.2 525.5h1.0v1.0h-1.0zM383.9 542.1h1.1v1.1h-1.1zM363.3 522.7h1.1v1.1h-1.1zM368.9 531.4h1.1v1.1h-1.1zM384.5 552.6h0.5v0.5h-0.5zM383.7 531.4h0.8v0.8h-0.8zM363.6 524.3h1.1v1.1h-1.1zM374.8 516.1h1.0v1.0h-1.0zM396.2 526.1h0.6v0.6h-0.6zM391.3 540.7h1.0v1.0h-1.0zM346.2 510.8h1.2v1.2h-1.2zM379.8 518.4h0.5v0.5h-0.5zM374.9 521.7h0.6v0.6h-0.6zM384.7 513.9h1.2v1.2h-1.2zM359.8 551.2h0.7v0.7h-0.7zM363.5 544.3h0.9v0.9h-0.9zM354.1 548.6h0.9v0.9h-0.9zM380.5 524.3h1.1v1.1h-1.1zM383.3 508.4h1.1v1.1h-1.1zM380.6 519.1h0.5v0.5h-0.5zM348.1 511.2h0.7v0.7h-0.7zM378.0 516.4h1.1v1.1h-1.1zM378.0 527.1h0.8v0.8h-0.8zM360.4 532.9h0.7v0.7h-0.7zM365.4 531.3h0.9v0.9h-0.9zM365.7 542.4h0.8v0.8h-0.8zM401.9 512.4h0.9v0.9h-0.9zM367.5 528.6h0.6v0.6h-0.6zM366.3 514.5h1.0v1.0h-1.0zM393.2 545.6h1.1v1.1h-1.1zM368.9 538.0h1.2v1.2h-1.2zM376.2 531.8h1.0v1.0h-1.0zM347.4 549.1h0.8v0.8h-0.8zM392.1 511.6h0.8v0.8h-0.8zM380.5 545.1h0.9v0.9h-0.9zM383.9 553.1h0.7v0.7h-0.7zM373.2 550.8h0.8v0.8h-0.8zM381.8 530.9h1.2v1.2h-1.2zM387.5 545.3h0.5v0.5h-0.5zM369.9 543.9h0.6v0.6h-0.6zM393.5 552.8h1.0v1.0h-1.0zM390.2 519.2h0.6v0.6h-0.6zM403.2 526.6h1.1v1.1h-1.1zM386.8 553.6h0.5v0.5h-0.5zM394.8 543.3h0.9v0.9h-0.9zM355.4 515.2h1.2v1.2h-1.2zM369.4 543.9h1.2v1.2h-1.2zM359.7 508.3h0.5v0.5h-0.5zM372.0 547.7h1.1v1.1h-1.1zM382.0 504.9h0.7v0.7h-0.7zM354.8 513.0h0.6v0.6h-0.6zM347.7 531.1h0.7v0.7h-0.7zM367.1 519.0h1.1v1.1h-1.1zM363.5 513.0h0.7v0.7h-0.7zM360.9 522.8h0.8v0.8h-0.8zM359.6 537.7h0.6v0.6h-0.6zM401.6 550.9h0.8v0.8h-0.8zM390.6 515.9h0.7v0.7h-0.7zM401.4 529.4h1.0v1.0h-1.0zM395.6 541.4h0.8v0.8h-0.8zM368.8 507.7h1.1v1.1h-1.1zM388.1 507.8h1.1v1.1h-1.1zM363.2 549.3h0.6v0.6h-0.6zM346.7 549.4h1.1v1.1h-1.1zM376.0 552.6h0.6v0.6h-0.6zM354.6 555.3h1.2v1.2h-1.2zM388.3 522.1h1.0v1.0h-1.0zM345.4 523.1h1.1v1.1h-1.1zM359.6 511.4h0.8v0.8h-0.8zM386.9 520.8h1.1v1.1h-1.1zM401.5 516.1h0.8v0.8h-0.8zM396.9 530.9h1.0v1.0h-1.0zM364.7 547.3h1.1v1.1h-1.1zM393.3 550.7h0.8v0.8h-0.8zM377.3 546.8h1.0v1.0h-1.0zM378.7 506.6h0.7v0.7h-0.7zM373.3 543.9h1.1v1.1h-1.1zM406.2 524.6h1.2v1.2h-1.2zM368.9 514.0h1.2v1.2h-1.2zM351.9 529.5h1.0v1.0h-1.0zM384.1 549.2h0.9v0.9h-0.9zM372.9 522.3h0.9v0.9h-0.9zM380.2 531.2h1.0v1.0h-1.0zM376.7 541.0h0.8v0.8h-0.8zM393.4 515.4h0.8v0.8h-0.8zM364.3 550.6h0.9v0.9h-0.9zM403.4 533.7h1.2v1.2h-1.2zM391.2 551.5h0.7v0.7h-0.7zM406.8 520.3h1.0v1.0h-1.0zM383.9 523.4h0.6v0.6h-0.6zM348.2 505.2h0.9v0.9h-0.9zM380.3 510.5h0.5v0.5h-0.5zM346.6 534.9h1.0v1.0h-1.0zM400.8 529.1h1.0v1.0h-1.0zM360.1 507.2h0.9v0.9h-0.9zM365.7 525.8h0.6v0.6h-0.6zM388.1 550.8h1.0v1.0h-1.0zM354.0 519.0h0.6v0.6h-0.6zM406.7 525.2h0.6v0.6h-0.6zM395.8 515.9h0.6v0.6h-0.6zM368.4 506.6h0.8v0.8h-0.8zM372.3 521.0h0.9v0.9h-0.9zM394.2 522.6h0.7v0.7h-0.7zM384.9 526.7h0.7v0.7h-0.7zM403.9 515.7h0.8v0.8h-0.8zM363.4 546.9h1.0v1.0h-1.0zM401.5 518.7h1.1v1.1h-1.1zM386.8 510.7h0.7v0.7h-0.7zM397.4 527.5h0.6v0.6h-0.6zM353.5 519.9h1.0v1.0h-1.0zM353.7 512.7h1.1v1.1h-1.1zM361.6 540.2h1.1v1.1h-1.1zM391.6 537.5h0.8v0.8h-0.8zM388.8 523.7h1.0v1.0h-1.0zM388.7 510.8h0.5v0.5h-0.5zM386.4 529.6h0.9v0.9h-0.9zM386.6 529.3h0.6v0.6h-0.6zM381.3 519.8h0.9v0.9h-0.9zM347.3 555.0h0.6v0.6h-0.6zM406.8 546.2h0.8v0.8h-0.8zM380.5 516.3h0.5v0.5h-0.5zM376.1 508.5h0.6v0.6h-0.6zM349.4 533.5h1.0v1.0h-1.0zM404.7 517.3h1.1v1.1h-1.1zM381.8 505.4h0.8v0.8h-0.8zM405.9 542.9h1.0v1.0h-1.0zM388.7 554.7h0.9v0.9h-0.9zM353.8 507.3h0.9v0.9h-0.9zM356.3 553.4h1.2v1.2h-1.2zM380.4 536.8h0.6v0.6h-0.6zM395.4 526.8h1.0v1.0h-1.0zM372.0 546.8h0.6v0.6h-0.6zM405.6 540.5h0.7v0.7h-0.7zM370.8 515.9h0.9v0.9h-0.9zM400.7 529.7h0.7v0.7h-0.7zM374.0 526.5h0.8v0.8h-0.8zM377.3 542.2h1.0v1.0h-1.0zM347.3 553.9h0.7v0.7h-0.7zM372.5 531.5h1.1v1.1h-1.1zM347.9 548.7h1.0v1.0h-1.0zM378.5 525.7h0.9v0.9h-0.9zM388.6 528.1h1.1v1.1h-1.1zM380.4 528.5h1.1v1.1h-1.1zM347.2 551.8h0.8v0.8h-0.8zM354.1 541.1h0.7v0.7h-0.7zM374.9 532.6h1.2v1.2h-1.2zM387.5 528.3h1.0v1.0h-1.0zM385.9 512.5h0.8v0.8h-0.8zM356.4 510.9h0.7v0.7h-0.7zM347.9 514.5h0.6v0.6h-0.6zM379.1 527.1h0.6v0.6h-0.6zM406.8 543.9h1.0v1.0h-1.0zM385.4 542.9h0.6v0.6h-0.6zM390.6 524.0h0.6v0.6h-0.6zM363.6 548.1h0.8v0.8h-0.8zM399.4 556.6h1.2v1.2h-1.2zM375.1 534.3h0.9v0.9h-0.9zM351.0 544.2h1.1v1.1h-1.1zM357.9 522.5h0.9v0.9h-0.9zM404.3 523.4h1.1v1.1h-1.1zM349.9 533.5h0.7v0.7h-0.7zM398.9 514.7h0.6v0.6h-0.6zM369.0 544.2h1.0v1.0h-1.0zM366.8 542.9h0.6v0.6h-0.6zM373.4 550.7h0.6v0.6h-0.6zM360.6 523.7h0.7v0.7h-0.7zM378.3 526.7h0.9v0.9h-0.9zM346.8 547.3h0.8v0.8h-0.8zM349.8 537.3h0.6v0.6h-0.6zM359.0 544.4h0.6v0.6h-0.6zM403.9 517.5h0.9v0.9h-0.9zM352.7 556.8h1.2v1.2h-1.2zM386.0 518.7h0.8v0.8h-0.8zM381.3 519.2h0.9v0.9h-0.9zM401.5 512.5h0.7v0.7h-0.7zM405.0 549.9h0.5v0.5h-0.5zM351.5 538.4h1.1v1.1h-1.1zM405.9 511.5h0.8v0.8h-0.8zM377.2 549.3h0.8v0.8h-0.8zM347.9 508.6h0.9v0.9h-0.9zM353.8 531.4h0.9v0.9h-0.9zM376.9 535.1h0.5v0.5h-0.5zM388.4 506.6h0.9v0.9h-0.9zM354.7 525.7h1.1v1.1h-1.1zM397.3 550.9h1.0v1.0h-1.0zM378.6 546.8h0.5v0.5h-0.5zM347.4 550.7h1.0v1.0h-1.0zM371.8 517.9h1.2v1.2h-1.2zM358.5 517.8h1.2v1.2h-1.2zM392.2 549.0h1.2v1.2h-1.2zM404.7 525.3h0.7v0.7h-0.7zM380.2 524.8h0.7v0.7h-0.7zM381.2 551.4h0.9v0.9h-0.9zM366.3 514.5h1.1v1.1h-1.1zM384.7 515.9h1.1v1.1h-1.1zM350.5 509.4h0.7v0.7h-0.7zM393.8 532.1h1.0v1.0h-1.0zM401.3 556.2h1.1v1.1h-1.1zM372.7 533.4h0.5v0.5h-0.5zM350.4 527.6h0.7v0.7h-0.7zM377.6 504.8h1.2v1.2h-1.2zM375.1 513.2h0.9v0.9h-0.9zM380.9 541.5h1.2v1.2h-1.2zM372.7 504.8h0.6v0.6h-0.6zM370.6 517.9h0.8v0.8h-0.8zM384.6 532.2h0.5v0.5h-0.5zM347.0 506.1h1.0v1.0h-1.0zM370.6 533.5h0.8v0.8h-0.8zM388.1 556.4h0.9v0.9h-0.9zM358.3 542.7h0.6v0.6h-0.6zM388.1 534.9h0.5v0.5h-0.5zM357.2 516.6h0.8v0.8h-0.8zM400.0 541.8h0.8v0.8h-0.8zM370.6 506.3h0.7v0.7h-0.7zM399.8 524.5h0.7v0.7h-0.7zM403.4 516.2h1.1v1.1h-1.1zM369.1 523.8h0.7v0.7h-0.7zM362.2 518.5h0.7v0.7h-0.7zM374.3 528.0h0.5v0.5h-0.5zM369.7 547.4h1.0v1.0h-1.0zM353.2 515.5h0.9v0.9h-0.9zM384.3 507.4h0.7v0.7h-0.7zM377.0 540.3h0.9v0.9h-0.9zM385.0 550.9h1.1v1.1h-1.1zM358.0 550.2h0.6v0.6h-0.6zM345.5 545.4h1.1v1.1h-1.1zM352.0 544.2h0.6v0.6h-0.6zM401.9 528.9h0.8v0.8h-0.8zM401.6 520.6h0.9v0.9h-0.9zM351.7 513.9h0.9v0.9h-0.9zM399.1 524.3h0.5v0.5h-0.5zM360.0 530.8h0.5v0.5h-0.5zM354.2 516.3h1.1v1.1h-1.1zM371.8 511.9h0.9v0.9h-0.9zM380.9 536.9h1.0v1.0h-1.0zM380.4 507.4h0.9v0.9h-0.9zM383.0 531.1h0.6v0.6h-0.6zM358.1 537.4h1.0v1.0h-1.0zM350.0 544.5h0.8v0.8h-0.8zM384.4 545.9h0.6v0.6h-0.6zM390.5 543.6h0.8v0.8h-0.8zM361.3 534.7h0.9v0.9h-0.9zM370.3 532.1h1.0v1.0h-1.0zM394.2 553.9h1.2v1.2h-1.2zM346.8 551.9h1.1v1.1h-1.1zM406.9 545.9h1.2v1.2h-1.2zM406.2 511.8h0.6v0.6h-0.6zM380.1 552.6h0.9v0.9h-0.9zM376.7 549.5h0.9v0.9h-0.9zM396.3 536.2h0.9v0.9h-0.9zM376.3 546.4h0.6v0.6h-0.6zM366.3 509.7h1.0v1.0h-1.0zM370.5 551.5h0.7v0.7h-0.7zM401.9 520.8h1.2v1.2h-1.2zM400.9 519.8h0.9v0.9h-0.9zM350.0 537.1h1.0v1.0h-1.0zM373.9 527.2h0.8v0.8h-0.8zM394.0 515.0h1.1v1.1h-1.1zM389.5 525.3h1.2v1.2h-1.2zM381.5 531.3h0.9v0.9h-0.9zM366.7 532.4h0.6v0.6h-0.6zM382.8 522.4h1.0v1.0h-1.0zM382.6 556.5h1.0v1.0h-1.0zM346.0 511.0h0.8v0.8h-0.8zM378.7 529.5h1.0v1.0h-1.0zM403.1 507.9h0.9v0.9h-0.9zM363.1 524.9h1.2v1.2h-1.2zM349.6 515.4h0.9v0.9h-0.9zM391.5 554.3h1.2v1.2h-1.2zM402.7 545.4h0.8v0.8h-0.8zM363.0 549.7h1.0v1.0h-1.0zM389.2 544.9h1.1v1.1h-1.1zM379.4 518.2h0.5v0.5h-0.5zM360.3 539.0h0.8v0.8h-0.8zM357.8 511.8h0.5v0.5h-0.5zM380.5 538.9h1.2v1.2h-1.2z" fill="#d8bca8" opacity="0.6"/>
<path clip-path="url(#c3)" d="M393.8 512.9h0.7v0.7h-0.7zM405.0 519.8h1.0v1.0h-1.0zM395.2 538.2h0.6v0.6h-0.6zM374.5 532.5h1.0v1.0h-1.0zM352.3 555.0h1.0v1.0h-1.0zM387.0 544.8h0.8v0.8h-0.8zM346.9 536.7h1.2v1.2h-1.2zM400.4 550.6h0.7v0.7h-0.7zM400.0 508.7h0.8v0.8h-0.8zM396.3 509.4h1.1v1.1h-1.1zM394.4 551.9h1.2v1.2h-1.2zM389.8 513.5h0.7v0.7h-0.7zM350.4 521.0h0.8v0.8h-0.8zM406.7 549.4h0.7v0.7h-0.7zM374.5 546.6h0.9v0.9h-0.9zM377.5 550.3h1.2v1.2h-1.2zM356.0 547.6h0.9v0.9h-0.9zM346.7 520.3h1.2v1.2h-1.2zM356.6 513.1h1.3v1.3h-1.3zM372.2 552.4h0.8v0.8h-0.8zM349.3 552.6h0.8v0.8h-0.8zM403.3 539.7h1.2v1.2h-1.2zM365.1 541.8h1.2v1.2h-1.2zM387.2 552.8h1.2v1.2h-1.2zM380.3 553.8h1.1v1.1h-1.1zM401.7 512.2h0.8v0.8h-0.8zM354.7 505.8h1.1v1.1h-1.1zM405.2 537.4h1.3v1.3h-1.3zM396.2 537.0h0.9v0.9h-0.9zM357.5 554.5h1.3v1.3h-1.3zM400.8 522.0h1.1v1.1h-1.1zM378.4 547.7h1.0v1.0h-1.0zM346.2 519.2h0.8v0.8h-0.8zM365.9 522.8h0.6v0.6h-0.6zM376.9 553.8h1.0v1.0h-1.0zM358.4 555.3h1.2v1.2h-1.2zM399.8 510.7h1.1v1.1h-1.1zM365.8 546.4h0.9v0.9h-0.9zM360.5 555.2h1.2v1.2h-1.2zM385.4 529.8h1.0v1.0h-1.0zM386.1 527.1h0.9v0.9h-0.9zM361.9 537.4h0.8v0.8h-0.8zM371.0 519.5h1.2v1.2h-1.2zM377.6 512.6h0.7v0.7h-0.7zM393.1 553.7h0.8v0.8h-0.8zM380.7 530.1h0.9v0.9h-0.9zM388.4 546.6h1.2v1.2h-1.2zM359.2 536.3h0.7v0.7h-0.7zM356.9 522.7h1.0v1.0h-1.0zM375.8 507.1h0.9v0.9h-0.9zM355.8 513.5h1.2v1.2h-1.2zM385.3 517.4h1.1v1.1h-1.1zM406.1 549.4h0.7v0.7h-0.7zM386.2 526.1h0.9v0.9h-0.9zM356.6 511.0h1.3v1.3h-1.3zM373.6 513.3h0.9v0.9h-0.9zM373.5 512.7h1.1v1.1h-1.1zM383.9 542.2h1.2v1.2h-1.2zM399.6 556.8h1.1v1.1h-1.1zM406.1 556.4h0.7v0.7h-0.7zM369.5 529.8h0.9v0.9h-0.9zM351.3 525.1h1.2v1.2h-1.2zM376.8 539.4h1.1v1.1h-1.1zM384.1 505.3h0.9v0.9h-0.9zM391.4 523.6h1.3v1.3h-1.3zM404.5 531.3h1.3v1.3h-1.3zM358.1 529.6h1.2v1.2h-1.2zM351.0 531.4h0.9v0.9h-0.9zM369.4 527.3h1.0v1.0h-1.0zM402.6 507.4h0.7v0.7h-0.7zM387.7 532.8h1.1v1.1h-1.1zM397.6 547.6h0.8v0.8h-0.8zM358.9 537.2h0.6v0.6h-0.6zM382.1 537.1h0.9v0.9h-0.9zM398.3 508.3h0.6v0.6h-0.6zM403.1 548.8h0.6v0.6h-0.6zM390.0 535.4h0.7v0.7h-0.7zM370.9 535.8h1.0v1.0h-1.0zM358.0 505.4h0.6v0.6h-0.6zM360.4 521.1h0.7v0.7h-0.7zM366.5 510.0h0.9v0.9h-0.9zM366.1 520.3h0.9v0.9h-0.9zM398.8 546.0h0.7v0.7h-0.7zM351.7 534.2h0.7v0.7h-0.7zM395.4 523.9h1.3v1.3h-1.3zM368.3 533.0h0.6v0.6h-0.6zM355.9 514.0h1.3v1.3h-1.3zM406.7 537.9h1.0v1.0h-1.0zM392.3 527.5h1.3v1.3h-1.3zM360.0 552.5h0.6v0.6h-0.6zM381.6 536.8h1.1v1.1h-1.1zM356.5 522.4h1.2v1.2h-1.2zM357.6 520.1h1.0v1.0h-1.0zM406.5 522.0h0.7v0.7h-0.7zM353.1 556.4h0.8v0.8h-0.8zM391.3 508.4h0.9v0.9h-0.9zM381.4 543.0h1.0v1.0h-1.0zM371.5 513.3h0.9v0.9h-0.9zM374.2 521.3h0.7v0.7h-0.7zM400.1 514.8h0.9v0.9h-0.9zM373.8 513.2h1.1v1.1h-1.1zM355.5 548.3h0.6v0.6h-0.6zM346.9 531.7h1.0v1.0h-1.0zM373.6 552.5h1.1v1.1h-1.1zM396.2 545.3h1.2v1.2h-1.2zM395.1 551.0h1.1v1.1h-1.1zM356.6 531.4h1.1v1.1h-1.1zM376.9 531.2h0.8v0.8h-0.8zM356.0 551.9h0.9v0.9h-0.9zM346.8 523.2h1.3v1.3h-1.3zM346.7 556.4h0.7v0.7h-0.7zM347.6 556.7h0.8v0.8h-0.8zM405.5 518.2h0.8v0.8h-0.8zM405.9 518.0h1.2v1.2h-1.2zM397.3 525.6h0.7v0.7h-0.7zM395.3 512.9h0.9v0.9h-0.9zM357.9 551.7h0.8v0.8h-0.8zM379.4 539.9h0.8v0.8h-0.8zM380.4 542.0h1.3v1.3h-1.3zM372.1 522.7h0.8v0.8h-0.8zM379.9 521.2h0.9v0.9h-0.9zM384.8 543.1h1.1v1.1h-1.1zM385.9 511.9h1.1v1.1h-1.1zM358.6 548.8h1.2v1.2h-1.2zM362.4 554.5h1.0v1.0h-1.0zM390.6 542.6h1.1v1.1h-1.1zM353.7 535.3h1.3v1.3h-1.3zM396.2 528.1h1.3v1.3h-1.3zM400.9 527.7h1.2v1.2h-1.2zM361.8 512.3h1.0v1.0h-1.0zM395.5 541.2h0.8v0.8h-0.8zM375.8 544.8h1.1v1.1h-1.1zM404.0 512.3h1.1v1.1h-1.1zM386.4 519.3h1.3v1.3h-1.3zM375.8 537.9h1.3v1.3h-1.3zM378.6 539.4h1.0v1.0h-1.0zM397.4 540.0h0.7v0.7h-0.7zM348.8 551.7h1.1v1.1h-1.1zM353.2 550.0h1.1v1.1h-1.1zM382.7 543.8h1.2v1.2h-1.2zM364.0 507.5h1.1v1.1h-1.1zM364.6 542.2h1.1v1.1h-1.1zM387.2 547.3h0.7v0.7h-0.7zM356.7 531.9h0.7v0.7h-0.7zM376.3 518.5h1.3v1.3h-1.3zM397.0 545.8h1.2v1.2h-1.2zM360.5 532.3h1.0v1.0h-1.0zM348.4 517.5h1.2v1.2h-1.2zM361.3 552.0h0.9v0.9h-0.9zM376.2 510.9h1.2v1.2h-1.2zM370.8 516.3h0.7v0.7h-0.7zM355.7 545.3h0.9v0.9h-0.9zM381.8 522.6h1.2v1.2h-1.2zM377.0 528.8h1.3v1.3h-1.3zM395.6 555.8h1.1v1.1h-1.1zM359.5 528.7h1.2v1.2h-1.2zM359.8 528.1h0.7v0.7h-0.7zM372.9 533.8h0.7v0.7h-0.7zM382.3 512.4h0.9v0.9h-0.9zM388.2 542.8h0.9v0.9h-0.9zM356.0 555.7h1.0v1.0h-1.0zM375.4 506.5h1.1v1.1h-1.1zM394.0 542.3h0.9v0.9h-0.9zM373.9 547.5h1.3v1.3h-1.3zM381.9 538.0h1.2v1.2h-1.2zM366.2 513.7h1.1v1.1h-1.1zM383.3 522.3h1.2v1.2h-1.2zM392.0 506.3h1.0v1.0h-1.0zM388.8 552.0h1.1v1.1h-1.1zM359.9 512.4h1.3v1.3h-1.3zM398.5 526.8h0.9v0.9h-0.9zM392.8 538.4h0.8v0.8h-0.8zM375.4 555.8h0.9v0.9h-0.9zM346.8 510.3h0.7v0.7h-0.7zM385.7 523.8h1.1v1.1h-1.1zM363.1 546.0h0.9v0.9h-0.9zM403.2 544.6h0.9v0.9h-0.9zM405.4 521.5h0.9v0.9h-0.9zM367.5 506.4h0.8v0.8h-0.8zM349.9 510.8h0.7v0.7h-0.7zM368.3 533.7h1.0v1.0h-1.0zM384.7 514.5h0.8v0.8h-0.8zM353.4 552.1h0.7v0.7h-0.7zM384.6 530.7h0.7v0.7h-0.7zM396.6 531.1h1.0v1.0h-1.0zM391.8 520.7h0.9v0.9h-0.9zM354.3 550.6h0.9v0.9h-0.9zM397.8 549.2h0.9v0.9h-0.9zM382.2 517.0h0.9v0.9h-0.9zM364.8 553.2h1.1v1.1h-1.1zM400.9 517.7h0.7v0.7h-0.7zM345.6 535.4h0.8v0.8h-0.8zM362.3 528.2h1.0v1.0h-1.0zM391.9 551.1h0.7v0.7h-0.7zM375.9 552.8h0.8v0.8h-0.8zM379.5 527.8h1.1v1.1h-1.1zM390.4 525.6h0.8v0.8h-0.8zM384.3 553.5h0.9v0.9h-0.9zM376.1 517.4h1.2v1.2h-1.2zM348.9 524.7h0.7v0.7h-0.7zM372.8 536.1h0.7v0.7h-0.7zM386.7 518.6h0.7v0.7h-0.7zM366.1 553.1h1.2v1.2h-1.2zM364.2 506.4h0.7v0.7h-0.7zM373.3 505.9h1.1v1.1h-1.1zM382.5 526.3h0.7v0.7h-0.7zM404.5 524.0h0.8v0.8h-0.8zM406.2 543.9h1.0v1.0h-1.0zM367.0 546.8h1.1v1.1h-1.1zM400.0 555.7h1.0v1.0h-1.0zM396.6 552.5h0.7v0.7h-0.7zM384.1 548.9h1.2v1.2h-1.2zM391.0 528.5h1.2v1.2h-1.2zM375.7 520.0h0.9v0.9h-0.9zM396.5 508.9h0.6v0.6h-0.6zM349.4 511.7h0.8v0.8h-0.8zM354.0 505.7h0.8v0.8h-0.8zM382.7 543.5h0.9v0.9h-0.9zM402.5 506.8h1.2v1.2h-1.2zM348.5 536.1h0.7v0.7h-0.7z" fill="#fbf3ec" opacity="0.75"/>
<path d="M345.9 522.7H383.9V505.1H407.6V557.4H345.9Z" fill="none" stroke="#111" stroke-width="0.9"/>
<path d="M415.9 524.7H462.3V504.9H477.6V557.2H415.9Z" fill="#efe8e4"/>
<clipPath id="c4"><path d="M415.9 524.7H462.3V504.9H477.6V557.2H415.9Z"/></clipPath>
<path clip-path="url(#c4)" d="M459.7 543.5h0.9v0.9h-0.9zM433.7 512.7h0.9v0.9h-0.9zM458.0 528.3h0.7v0.7h-0.7zM446.6 554.6h0.5v0.5h-0.5zM452.4 549.6h0.5v0.5h-0.5zM461.5 547.5h0.5v0.5h-0.5zM436.6 526.8h1.0v1.0h-1.0zM471.6 553.1h0.6v0.6h-0.6zM470.1 530.5h0.8v0.8h-0.8zM456.3 543.2h0.6v0.6h-0.6zM438.4 511.0h0.9v0.9h-0.9zM443.6 554.8h0.6v0.6h-0.6zM454.2 556.6h0.8v0.8h-0.8zM470.8 553.3h0.7v0.7h-0.7zM426.7 537.4h0.8v0.8h-0.8zM435.4 514.2h0.6v0.6h-0.6zM463.6 521.1h0.9v0.9h-0.9zM437.9 546.5h0.8v0.8h-0.8zM473.5 516.3h0.9v0.9h-0.9zM443.3 515.4h0.5v0.5h-0.5zM430.7 540.0h0.9v0.9h-0.9zM434.4 522.4h0.5v0.5h-0.5zM448.3 510.4h0.6v0.6h-0.6zM471.5 531.7h0.6v0.6h-0.6zM462.0 504.5h0.8v0.8h-0.8zM465.4 530.1h0.5v0.5h-0.5zM429.3 551.6h0.8v0.8h-0.8zM475.7 514.6h0.7v0.7h-0.7zM463.8 535.2h0.7v0.7h-0.7zM423.8 553.9h0.5v0.5h-0.5zM459.9 536.0h0.9v0.9h-0.9zM463.1 528.6h0.7v0.7h-0.7zM420.4 543.9h0.6v0.6h-0.6zM422.9 506.9h0.6v0.6h-0.6zM423.6 513.4h0.6v0.6h-0.6zM437.0 518.7h0.5v0.5h-0.5zM453.2 532.8h0.6v0.6h-0.6zM427.6 545.7h0.5v0.5h-0.5zM439.1 515.3h0.8v0.8h-0.8zM448.5 552.1h0.8v0.8h-0.8zM455.5 508.8h0.4v0.4h-0.4zM455.0 545.5h0.9v0.9h-0.9zM476.6 550.4h0.7v0.7h-0.7zM457.8 522.9h1.0v1.0h-1.0zM475.8 541.6h0.5v0.5h-0.5zM450.2 540.2h0.9v0.9h-0.9zM455.2 546.2h0.9v0.9h-0.9zM455.8 510.5h0.8v0.8h-0.8zM444.6 546.4h0.5v0.5h-0.5zM445.8 521.2h0.7v0.7h-0.7zM476.0 544.7h0.9v0.9h-0.9zM467.2 507.7h0.8v0.8h-0.8zM461.5 544.2h0.6v0.6h-0.6zM438.7 538.5h0.6v0.6h-0.6zM446.9 526.2h0.4v0.4h-0.4zM420.0 515.3h0.7v0.7h-0.7zM472.1 544.5h0.6v0.6h-0.6zM463.9 546.7h1.0v1.0h-1.0zM458.8 536.8h0.8v0.8h-0.8zM420.3 535.8h0.4v0.4h-0.4zM454.7 539.4h0.6v0.6h-0.6zM426.4 531.6h0.5v0.5h-0.5zM439.2 541.6h0.4v0.4h-0.4zM473.3 551.0h0.6v0.6h-0.6zM466.3 547.2h0.8v0.8h-0.8zM441.5 523.6h0.5v0.5h-0.5zM464.9 539.5h1.0v1.0h-1.0zM453.8 504.9h0.5v0.5h-0.5zM418.3 519.7h0.7v0.7h-0.7zM449.6 536.3h0.6v0.6h-0.6zM472.0 527.5h0.5v0.5h-0.5zM441.1 524.8h0.5v0.5h-0.5zM451.1 532.3h0.4v0.4h-0.4zM434.1 510.7h0.6v0.6h-0.6zM425.9 508.1h0.6v0.6h-0.6zM418.0 508.0h0.8v0.8h-0.8zM429.4 544.6h0.6v0.6h-0.6zM450.8 548.3h0.5v0.5h-0.5zM416.9 522.9h1.0v1.0h-1.0zM437.7 525.9h0.8v0.8h-0.8zM415.6 535.5h0.8v0.8h-0.8zM471.6 538.2h0.8v0.8h-0.8zM421.4 527.9h0.5v0.5h-0.5zM434.4 508.5h0.6v0.6h-0.6zM424.9 520.5h0.4v0.4h-0.4zM475.8 526.0h0.6v0.6h-0.6zM457.9 543.7h0.8v0.8h-0.8zM435.1 533.1h0.7v0.7h-0.7zM462.0 524.9h1.0v1.0h-1.0zM440.9 515.9h0.9v0.9h-0.9zM419.6 556.4h1.0v1.0h-1.0zM446.0 521.3h0.5v0.5h-0.5zM443.4 542.3h0.5v0.5h-0.5zM457.9 520.7h0.7v0.7h-0.7zM464.5 529.8h0.8v0.8h-0.8zM436.9 534.9h0.9v0.9h-0.9zM470.0 554.3h0.6v0.6h-0.6zM421.9 506.1h0.5v0.5h-0.5zM459.7 514.3h0.9v0.9h-0.9zM418.9 545.6h0.6v0.6h-0.6zM425.3 535.6h0.9v0.9h-0.9zM419.2 526.3h0.5v0.5h-0.5zM474.4 527.0h0.7v0.7h-0.7zM452.3 547.3h1.0v1.0h-1.0zM440.3 526.5h0.9v0.9h-0.9zM461.0 540.1h0.9v0.9h-0.9zM473.0 507.3h0.7v0.7h-0.7zM432.0 552.8h0.4v0.4h-0.4zM440.3 529.2h0.4v0.4h-0.4zM436.1 524.7h0.5v0.5h-0.5zM463.0 523.0h0.7v0.7h-0.7zM465.2 552.4h0.6v0.6h-0.6zM461.9 520.0h1.0v1.0h-1.0zM472.6 530.6h0.5v0.5h-0.5zM468.1 540.2h0.9v0.9h-0.9zM447.3 554.9h0.6v0.6h-0.6zM462.9 509.6h1.0v1.0h-1.0zM436.3 511.9h0.7v0.7h-0.7zM423.6 534.6h0.8v0.8h-0.8zM430.2 509.2h0.9v0.9h-0.9zM457.4 536.8h1.0v1.0h-1.0zM422.4 532.3h0.4v0.4h-0.4zM469.1 548.7h0.6v0.6h-0.6zM451.9 543.3h0.8v0.8h-0.8zM458.5 518.3h0.8v0.8h-0.8zM461.5 530.0h0.7v0.7h-0.7zM440.5 536.4h0.9v0.9h-0.9zM417.7 544.6h0.8v0.8h-0.8zM442.3 515.5h0.8v0.8h-0.8zM462.6 512.5h0.7v0.7h-0.7zM461.4 518.4h0.9v0.9h-0.9zM449.1 508.4h0.9v0.9h-0.9zM417.6 547.7h0.7v0.7h-0.7zM416.0 512.5h0.5v0.5h-0.5zM455.5 544.7h0.6v0.6h-0.6zM455.2 533.8h0.9v0.9h-0.9zM430.4 511.2h0.6v0.6h-0.6zM467.0 517.9h0.9v0.9h-0.9zM421.1 549.5h0.7v0.7h-0.7zM466.8 528.9h0.7v0.7h-0.7zM458.6 513.4h0.4v0.4h-0.4zM439.6 511.6h0.5v0.5h-0.5zM425.8 510.6h0.9v0.9h-0.9zM453.8 522.9h0.9v0.9h-0.9zM416.1 552.2h0.9v0.9h-0.9zM444.5 553.6h0.6v0.6h-0.6zM424.1 509.8h0.8v0.8h-0.8zM433.9 518.4h0.9v0.9h-0.9zM469.3 524.7h0.6v0.6h-0.6zM447.2 525.5h0.9v0.9h-0.9zM448.5 518.6h0.4v0.4h-0.4zM473.8 522.1h1.0v1.0h-1.0zM470.4 526.9h0.5v0.5h-0.5zM460.3 509.6h0.4v0.4h-0.4zM417.2 534.1h0.9v0.9h-0.9zM455.6 553.2h0.4v0.4h-0.4zM460.7 541.2h0.8v0.8h-0.8zM447.3 511.7h0.6v0.6h-0.6zM430.5 554.6h0.9v0.9h-0.9zM472.0 534.8h0.4v0.4h-0.4zM461.5 523.5h0.8v0.8h-0.8zM442.7 534.4h0.5v0.5h-0.5zM470.9 520.9h0.9v0.9h-0.9zM471.6 534.5h0.5v0.5h-0.5zM440.4 531.1h0.6v0.6h-0.6zM420.2 554.3h0.8v0.8h-0.8zM447.1 509.8h0.7v0.7h-0.7zM465.3 513.9h0.9v0.9h-0.9zM428.0 511.4h0.9v0.9h-0.9zM427.1 550.9h0.6v0.6h-0.6zM421.0 537.1h0.4v0.4h-0.4zM422.2 535.1h0.8v0.8h-0.8zM446.8 548.2h0.5v0.5h-0.5zM464.9 528.0h0.9v0.9h-0.9zM424.2 532.8h0.5v0.5h-0.5zM426.0 523.0h0.7v0.7h-0.7zM450.3 517.3h0.6v0.6h-0.6zM475.2 506.0h0.6v0.6h-0.6zM467.8 540.3h0.7v0.7h-0.7zM425.1 517.7h1.0v1.0h-1.0zM450.4 519.5h1.0v1.0h-1.0zM466.1 544.2h0.5v0.5h-0.5zM440.6 548.8h0.6v0.6h-0.6zM475.0 526.4h0.7v0.7h-0.7zM462.8 509.6h0.8v0.8h-0.8zM452.8 513.4h0.5v0.5h-0.5zM417.3 523.8h0.8v0.8h-0.8zM420.2 531.6h0.5v0.5h-0.5zM466.3 508.4h0.4v0.4h-0.4zM456.5 522.9h0.9v0.9h-0.9zM439.5 545.9h0.7v0.7h-0.7zM445.7 524.8h0.8v0.8h-0.8zM417.5 547.0h0.8v0.8h-0.8zM460.7 509.9h0.8v0.8h-0.8zM447.3 542.1h0.7v0.7h-0.7zM470.5 546.9h0.7v0.7h-0.7zM476.5 531.8h0.6v0.6h-0.6zM468.7 514.2h0.9v0.9h-0.9zM449.5 556.1h0.4v0.4h-0.4zM433.8 552.8h0.7v0.7h-0.7zM428.6 541.3h0.7v0.7h-0.7zM450.9 513.8h0.4v0.4h-0.4zM471.3 539.2h1.0v1.0h-1.0zM446.4 518.8h0.4v0.4h-0.4zM449.8 545.2h1.0v1.0h-1.0zM439.0 518.8h0.5v0.5h-0.5zM473.3 540.0h0.7v0.7h-0.7zM472.3 543.6h0.7v0.7h-0.7zM463.2 539.3h0.9v0.9h-0.9zM436.3 541.5h0.5v0.5h-0.5zM418.2 530.7h0.9v0.9h-0.9zM429.3 551.0h0.7v0.7h-0.7zM456.5 549.9h0.9v0.9h-0.9zM455.9 519.2h0.5v0.5h-0.5zM450.8 535.4h0.8v0.8h-0.8zM439.9 513.7h1.0v1.0h-1.0zM457.5 540.8h0.4v0.4h-0.4zM448.4 532.5h0.4v0.4h-0.4zM428.9 512.7h0.8v0.8h-0.8zM469.4 537.6h0.6v0.6h-0.6zM467.7 533.2h0.9v0.9h-0.9zM451.5 512.9h0.7v0.7h-0.7zM432.1 521.1h0.4v0.4h-0.4zM463.2 534.1h0.6v0.6h-0.6zM459.7 529.4h0.4v0.4h-0.4zM465.1 546.8h0.7v0.7h-0.7zM455.5 533.9h0.6v0.6h-0.6zM419.1 538.5h0.6v0.6h-0.6zM461.4 520.7h0.6v0.6h-0.6zM471.4 510.4h0.6v0.6h-0.6zM458.2 526.8h0.9v0.9h-0.9zM423.1 505.4h0.9v0.9h-0.9zM425.3 519.5h0.5v0.5h-0.5zM442.4 552.0h0.7v0.7h-0.7zM460.2 512.7h0.7v0.7h-0.7zM429.2 516.1h0.6v0.6h-0.6zM439.5 542.2h0.5v0.5h-0.5zM431.8 555.4h0.6v0.6h-0.6zM417.0 550.2h0.4v0.4h-0.4zM438.8 541.7h1.0v1.0h-1.0zM470.5 553.5h0.8v0.8h-0.8zM475.3 516.8h0.6v0.6h-0.6zM455.8 537.3h0.9v0.9h-0.9zM423.1 524.0h0.8v0.8h-0.8zM420.8 530.8h0.9v0.9h-0.9zM417.0 548.2h0.8v0.8h-0.8zM442.0 515.8h0.9v0.9h-0.9zM437.6 537.5h0.5v0.5h-0.5zM462.4 552.4h1.0v1.0h-1.0zM476.0 507.7h0.9v0.9h-0.9zM430.5 510.1h0.9v0.9h-0.9zM470.9 508.2h0.5v0.5h-0.5zM444.8 549.9h0.7v0.7h-0.7zM418.3 542.7h1.0v1.0h-1.0zM425.2 547.5h1.0v1.0h-1.0zM441.3 548.1h0.8v0.8h-0.8zM476.0 539.8h0.6v0.6h-0.6zM459.2 522.0h0.6v0.6h-0.6zM415.9 508.8h0.5v0.5h-0.5zM456.8 531.7h0.6v0.6h-0.6zM453.3 521.2h0.6v0.6h-0.6zM453.1 543.6h0.8v0.8h-0.8zM449.5 555.6h1.0v1.0h-1.0zM472.8 519.9h0.8v0.8h-0.8zM422.2 556.4h0.7v0.7h-0.7zM419.8 511.2h0.8v0.8h-0.8zM457.6 524.0h0.7v0.7h-0.7zM465.5 545.4h0.9v0.9h-0.9zM438.8 522.8h0.8v0.8h-0.8zM421.4 539.9h0.8v0.8h-0.8zM462.9 517.5h0.6v0.6h-0.6zM430.5 527.5h0.8v0.8h-0.8zM443.6 550.5h0.8v0.8h-0.8zM464.5 554.8h0.9v0.9h-0.9zM429.0 522.5h0.4v0.4h-0.4zM440.5 527.8h0.6v0.6h-0.6zM438.7 515.1h0.9v0.9h-0.9zM439.9 505.6h0.7v0.7h-0.7zM438.1 513.9h0.8v0.8h-0.8zM441.1 545.4h0.8v0.8h-0.8zM474.7 522.3h0.4v0.4h-0.4zM427.0 544.2h0.5v0.5h-0.5zM452.0 510.4h0.9v0.9h-0.9zM439.2 519.7h0.9v0.9h-0.9zM458.8 535.9h0.9v0.9h-0.9zM465.2 504.9h0.9v0.9h-0.9zM427.8 542.7h0.6v0.6h-0.6zM434.0 526.8h0.4v0.4h-0.4zM467.6 518.4h0.8v0.8h-0.8zM424.6 509.8h0.4v0.4h-0.4zM445.5 526.3h0.8v0.8h-0.8zM442.2 531.1h0.7v0.7h-0.7zM424.4 524.1h0.9v0.9h-0.9zM476.6 530.1h0.6v0.6h-0.6zM468.4 533.3h0.4v0.4h-0.4zM425.6 538.2h0.5v0.5h-0.5zM448.2 555.1h0.7v0.7h-0.7zM443.6 546.4h0.7v0.7h-0.7zM467.1 505.1h0.9v0.9h-0.9zM425.8 516.0h0.7v0.7h-0.7zM457.6 513.0h0.9v0.9h-0.9zM445.3 543.9h0.6v0.6h-0.6zM437.6 532.4h0.8v0.8h-0.8zM463.0 522.1h0.8v0.8h-0.8zM431.4 541.3h0.6v0.6h-0.6zM472.9 542.9h0.4v0.4h-0.4zM455.0 524.5h0.6v0.6h-0.6zM428.4 541.1h0.9v0.9h-0.9zM443.0 530.6h0.6v0.6h-0.6zM465.6 556.1h0.7v0.7h-0.7zM443.4 514.6h0.6v0.6h-0.6zM439.9 526.3h0.5v0.5h-0.5zM437.8 507.8h0.6v0.6h-0.6zM456.1 552.1h0.5v0.5h-0.5zM458.6 516.5h1.0v1.0h-1.0zM430.8 507.0h1.0v1.0h-1.0zM436.9 515.4h0.7v0.7h-0.7zM467.7 525.2h0.7v0.7h-0.7zM455.6 505.6h0.9v0.9h-0.9zM459.6 535.5h0.6v0.6h-0.6zM475.5 508.6h0.4v0.4h-0.4zM452.3 540.0h0.5v0.5h-0.5zM467.7 527.4h0.6v0.6h-0.6zM459.8 526.0h0.5v0.5h-0.5zM442.1 506.6h0.6v0.6h-0.6zM451.6 508.8h0.7v0.7h-0.7zM445.3 506.5h0.5v0.5h-0.5zM418.3 531.7h0.8v0.8h-0.8zM415.6 534.1h0.9v0.9h-0.9zM418.3 535.6h0.6v0.6h-0.6zM424.5 550.1h0.6v0.6h-0.6zM467.9 551.8h0.6v0.6h-0.6zM469.6 552.3h0.4v0.4h-0.4zM470.2 537.9h0.4v0.4h-0.4zM448.0 549.2h0.9v0.9h-0.9zM470.5 531.6h0.5v0.5h-0.5zM436.7 520.1h0.8v0.8h-0.8zM432.1 533.8h0.6v0.6h-0.6zM444.2 538.0h0.9v0.9h-0.9zM418.1 528.2h0.6v0.6h-0.6zM454.3 542.1h0.8v0.8h-0.8zM425.1 512.2h0.9v0.9h-0.9zM434.9 541.1h0.4v0.4h-0.4zM452.3 516.7h0.8v0.8h-0.8zM420.6 550.7h0.8v0.8h-0.8zM453.9 529.2h0.9v0.9h-0.9zM442.6 538.0h0.6v0.6h-0.6zM416.3 528.6h0.9v0.9h-0.9zM455.3 509.3h0.4v0.4h-0.4zM426.4 537.4h0.6v0.6h-0.6zM430.9 550.3h0.4v0.4h-0.4zM466.1 522.7h0.9v0.9h-0.9zM433.5 531.7h0.5v0.5h-0.5zM432.6 538.3h0.8v0.8h-0.8zM425.9 537.9h1.0v1.0h-1.0zM452.8 519.1h0.8v0.8h-0.8zM451.6 538.9h0.9v0.9h-0.9zM473.3 512.6h0.5v0.5h-0.5zM423.6 556.5h1.0v1.0h-1.0zM462.1 537.3h0.5v0.5h-0.5zM434.4 511.5h0.6v0.6h-0.6zM421.6 505.7h0.4v0.4h-0.4zM443.0 513.2h0.4v0.4h-0.4zM461.9 544.3h1.0v1.0h-1.0zM465.1 554.1h0.8v0.8h-0.8zM448.3 526.3h0.6v0.6h-0.6zM416.6 541.7h0.6v0.6h-0.6zM460.7 553.7h0.9v0.9h-0.9zM446.7 533.6h0.9v0.9h-0.9zM430.3 535.3h0.8v0.8h-0.8zM452.8 519.7h0.7v0.7h-0.7zM446.6 545.8h1.0v1.0h-1.0zM418.8 546.2h0.7v0.7h-0.7zM455.3 532.8h0.9v0.9h-0.9zM440.7 525.3h0.7v0.7h-0.7zM475.4 526.7h0.7v0.7h-0.7zM446.9 556.8h0.5v0.5h-0.5zM452.4 536.3h0.9v0.9h-0.9zM437.1 536.8h0.6v0.6h-0.6zM439.6 508.6h0.6v0.6h-0.6zM439.6 520.2h0.6v0.6h-0.6zM433.4 517.9h0.6v0.6h-0.6zM456.8 537.0h1.0v1.0h-1.0zM424.1 546.9h0.4v0.4h-0.4zM429.6 505.5h0.7v0.7h-0.7zM416.3 507.9h0.8v0.8h-0.8zM455.6 509.5h0.8v0.8h-0.8zM441.9 549.9h0.7v0.7h-0.7zM448.0 556.5h0.6v0.6h-0.6zM443.5 544.9h0.8v0.8h-0.8zM418.2 505.3h0.6v0.6h-0.6zM475.6 508.1h0.4v0.4h-0.4zM472.4 512.0h0.6v0.6h-0.6zM468.9 525.5h0.4v0.4h-0.4zM441.3 542.8h0.5v0.5h-0.5zM432.1 522.2h0.4v0.4h-0.4zM458.1 509.5h0.5v0.5h-0.5zM443.2 544.4h0.4v0.4h-0.4zM475.3 531.1h0.5v0.5h-0.5zM426.7 532.8h0.5v0.5h-0.5zM425.5 554.4h0.9v0.9h-0.9zM453.7 543.8h0.5v0.5h-0.5zM432.5 505.4h0.7v0.7h-0.7zM415.7 509.9h1.0v1.0h-1.0zM421.1 556.0h0.7v0.7h-0.7zM445.7 511.3h0.6v0.6h-0.6zM437.0 540.8h1.0v1.0h-1.0zM435.4 505.8h1.0v1.0h-1.0zM445.3 526.0h0.9v0.9h-0.9zM455.2 532.9h0.5v0.5h-0.5zM464.8 517.3h0.8v0.8h-0.8zM427.1 516.6h0.8v0.8h-0.8zM461.5 555.3h0.8v0.8h-0.8zM454.9 536.0h0.6v0.6h-0.6zM472.1 535.1h0.4v0.4h-0.4zM445.1 522.5h0.5v0.5h-0.5zM458.1 546.7h0.9v0.9h-0.9zM469.5 556.2h0.5v0.5h-0.5zM450.7 525.8h0.8v0.8h-0.8zM458.2 508.5h0.6v0.6h-0.6zM429.1 508.4h0.6v0.6h-0.6zM445.3 520.9h0.5v0.5h-0.5zM465.1 508.0h0.5v0.5h-0.5zM457.7 525.7h0.8v0.8h-0.8zM420.4 553.6h0.6v0.6h-0.6zM466.4 526.3h0.9v0.9h-0.9zM417.3 518.9h1.0v1.0h-1.0zM420.1 549.2h0.6v0.6h-0.6zM445.4 519.5h0.6v0.6h-0.6zM476.4 529.1h0.5v0.5h-0.5zM462.5 515.7h0.7v0.7h-0.7zM464.1 528.5h0.5v0.5h-0.5zM460.6 552.9h0.8v0.8h-0.8zM473.2 529.1h0.5v0.5h-0.5zM436.0 546.1h1.0v1.0h-1.0zM432.0 547.5h0.9v0.9h-0.9zM429.5 547.7h0.7v0.7h-0.7zM424.6 534.0h0.6v0.6h-0.6zM448.9 554.6h0.5v0.5h-0.5zM449.7 531.5h0.5v0.5h-0.5zM453.0 517.4h0.9v0.9h-0.9zM468.5 532.3h0.5v0.5h-0.5zM424.4 516.5h0.7v0.7h-0.7zM451.6 511.6h0.8v0.8h-0.8zM445.6 555.6h0.6v0.6h-0.6zM444.1 546.0h0.6v0.6h-0.6zM463.9 532.9h0.5v0.5h-0.5zM471.5 551.7h0.5v0.5h-0.5zM436.1 534.3h0.5v0.5h-0.5zM440.4 508.0h0.7v0.7h-0.7zM445.2 553.0h0.9v0.9h-0.9zM432.1 540.0h1.0v1.0h-1.0zM423.6 532.5h0.5v0.5h-0.5zM431.3 530.5h0.4v0.4h-0.4zM445.4 520.2h0.4v0.4h-0.4zM448.4 515.1h0.5v0.5h-0.5zM473.6 527.4h0.7v0.7h-0.7zM421.9 554.3h0.8v0.8h-0.8zM433.7 539.2h0.8v0.8h-0.8zM445.6 527.0h0.5v0.5h-0.5zM462.6 506.7h0.4v0.4h-0.4zM454.0 550.1h0.9v0.9h-0.9zM429.3 547.3h0.5v0.5h-0.5zM427.4 528.7h0.7v0.7h-0.7zM448.3 552.4h0.7v0.7h-0.7zM438.0 528.8h0.5v0.5h-0.5zM460.0 513.8h0.7v0.7h-0.7zM421.3 542.3h0.6v0.6h-0.6zM464.0 513.3h0.7v0.7h-0.7zM469.5 542.8h0.5v0.5h-0.5zM421.4 535.6h1.0v1.0h-1.0zM440.5 541.3h0.8v0.8h-0.8zM476.0 526.0h0.5v0.5h-0.5zM421.7 552.2h0.5v0.5h-0.5zM451.5 537.8h0.9v0.9h-0.9zM441.7 517.5h0.9v0.9h-0.9zM453.3 556.4h0.9v0.9h-0.9zM456.7 529.5h0.4v0.4h-0.4zM466.4 523.4h0.4v0.4h-0.4zM461.1 556.0h0.8v0.8h-0.8zM426.3 522.6h0.6v0.6h-0.6zM434.2 540.2h0.8v0.8h-0.8zM432.8 525.0h0.6v0.6h-0.6zM431.4 538.8h0.9v0.9h-0.9zM459.6 554.7h1.0v1.0h-1.0zM475.0 545.5h0.6v0.6h-0.6zM461.6 555.2h0.6v0.6h-0.6zM437.1 505.7h0.9v0.9h-0.9zM464.7 511.0h0.7v0.7h-0.7zM433.5 522.8h0.7v0.7h-0.7zM473.7 520.9h0.7v0.7h-0.7zM461.6 541.7h0.4v0.4h-0.4zM437.0 547.9h0.5v0.5h-0.5zM443.4 545.9h0.5v0.5h-0.5zM445.8 554.4h0.5v0.5h-0.5zM433.3 506.0h0.4v0.4h-0.4zM465.2 532.3h0.8v0.8h-0.8zM431.8 541.5h0.5v0.5h-0.5zM427.8 507.7h1.0v1.0h-1.0zM435.9 519.7h0.7v0.7h-0.7z" fill="#c4a595" opacity="0.45"/>
<path clip-path="url(#c4)" d="M429.8 552.1h0.8v0.8h-0.8zM418.1 548.3h1.2v1.2h-1.2zM426.8 524.2h0.7v0.7h-0.7zM471.1 552.3h0.6v0.6h-0.6zM428.8 525.9h1.1v1.1h-1.1zM466.4 551.2h1.3v1.3h-1.3zM450.7 543.1h1.3v1.3h-1.3zM461.0 528.5h1.3v1.3h-1.3zM454.3 519.6h0.6v0.6h-0.6zM462.4 505.3h1.2v1.2h-1.2zM463.4 514.3h1.3v1.3h-1.3zM449.6 554.1h1.3v1.3h-1.3zM416.7 516.6h1.3v1.3h-1.3zM447.9 512.0h1.0v1.0h-1.0zM437.0 524.7h0.7v0.7h-0.7zM452.9 547.8h0.9v0.9h-0.9zM434.9 551.7h1.1v1.1h-1.1zM475.7 548.6h0.8v0.8h-0.8zM458.7 512.7h0.7v0.7h-0.7zM454.9 506.1h0.8v0.8h-0.8zM475.1 519.7h1.2v1.2h-1.2zM459.0 532.5h1.3v1.3h-1.3zM427.8 511.6h1.2v1.2h-1.2zM436.7 514.9h1.0v1.0h-1.0zM457.8 531.8h1.2v1.2h-1.2zM436.7 546.1h1.3v1.3h-1.3zM451.3 539.6h1.1v1.1h-1.1zM433.8 517.3h1.2v1.2h-1.2zM424.5 525.6h0.9v0.9h-0.9zM470.5 532.5h0.8v0.8h-0.8zM442.5 507.6h0.8v0.8h-0.8zM457.6 517.3h0.8v0.8h-0.8zM471.7 518.6h1.1v1.1h-1.1zM476.6 509.1h0.9v0.9h-0.9zM464.8 544.4h1.1v1.1h-1.1zM459.4 512.1h0.6v0.6h-0.6zM423.2 551.6h0.7v0.7h-0.7zM457.9 508.3h1.3v1.3h-1.3zM462.7 548.4h1.4v1.4h-1.4zM455.2 550.4h1.4v1.4h-1.4zM421.0 506.7h1.2v1.2h-1.2zM451.4 517.1h1.1v1.1h-1.1zM456.3 522.4h0.6v0.6h-0.6zM476.4 532.9h0.7v0.7h-0.7zM464.7 550.3h0.9v0.9h-0.9zM464.4 507.9h1.2v1.2h-1.2zM475.7 543.7h0.8v0.8h-0.8zM439.8 539.5h0.9v0.9h-0.9zM476.8 545.4h0.9v0.9h-0.9zM458.9 508.1h0.9v0.9h-0.9zM417.9 522.4h0.7v0.7h-0.7zM445.6 521.8h0.6v0.6h-0.6zM425.2 525.8h1.1v1.1h-1.1zM431.6 525.2h1.4v1.4h-1.4zM440.7 529.6h1.0v1.0h-1.0zM472.5 513.2h1.0v1.0h-1.0zM465.5 532.2h0.9v0.9h-0.9zM438.6 514.6h1.1v1.1h-1.1zM467.7 542.6h0.6v0.6h-0.6zM463.9 543.5h0.9v0.9h-0.9zM433.1 554.8h0.7v0.7h-0.7zM464.1 518.5h1.0v1.0h-1.0zM458.6 552.2h1.2v1.2h-1.2zM420.2 549.5h1.4v1.4h-1.4zM417.5 519.7h1.3v1.3h-1.3zM448.1 504.8h1.2v1.2h-1.2zM476.1 512.0h1.3v1.3h-1.3zM453.9 536.5h0.6v0.6h-0.6zM475.6 556.8h0.7v0.7h-0.7zM466.0 522.9h0.6v0.6h-0.6zM447.5 548.4h1.1v1.1h-1.1zM418.9 549.6h0.9v0.9h-0.9zM449.7 525.5h1.4v1.4h-1.4zM448.6 547.0h1.4v1.4h-1.4zM452.2 549.0h0.8v0.8h-0.8zM427.2 543.0h1.1v1.1h-1.1zM474.4 523.3h0.7v0.7h-0.7zM441.2 551.0h1.0v1.0h-1.0zM434.7 530.5h1.2v1.2h-1.2zM421.9 541.1h0.9v0.9h-0.9zM469.4 546.3h1.2v1.2h-1.2zM418.5 532.6h0.6v0.6h-0.6zM437.3 513.4h1.0v1.0h-1.0zM428.5 520.8h1.2v1.2h-1.2zM463.1 543.8h1.2v1.2h-1.2zM437.5 506.6h0.6v0.6h-0.6zM451.2 554.9h1.0v1.0h-1.0zM444.1 549.5h0.9v0.9h-0.9zM429.4 554.3h0.6v0.6h-0.6zM448.4 513.7h0.8v0.8h-0.8zM473.4 539.6h1.0v1.0h-1.0zM422.0 552.9h0.9v0.9h-0.9zM421.8 533.2h0.7v0.7h-0.7zM468.1 525.7h0.8v0.8h-0.8zM431.1 515.4h0.8v0.8h-0.8zM452.6 513.2h1.0v1.0h-1.0zM469.4 543.0h1.0v1.0h-1.0zM442.0 522.6h0.8v0.8h-0.8zM441.2 556.0h1.0v1.0h-1.0zM433.4 518.6h1.0v1.0h-1.0zM443.3 522.5h1.0v1.0h-1.0zM461.0 541.0h1.2v1.2h-1.2zM447.9 548.0h0.7v0.7h-0.7zM451.1 547.8h1.2v1.2h-1.2zM474.4 511.7h1.1v1.1h-1.1zM464.1 525.5h0.8v0.8h-0.8zM442.9 547.6h0.8v0.8h-0.8zM463.8 543.4h1.0v1.0h-1.0zM447.4 554.0h0.7v0.7h-0.7zM419.5 531.8h0.7v0.7h-0.7zM431.0 511.1h1.4v1.4h-1.4zM446.7 518.0h0.9v0.9h-0.9zM426.9 523.8h0.7v0.7h-0.7zM467.4 533.8h0.7v0.7h-0.7zM468.1 528.2h0.6v0.6h-0.6zM462.2 539.0h1.0v1.0h-1.0zM440.8 542.4h1.4v1.4h-1.4zM446.3 551.3h1.0v1.0h-1.0zM430.1 541.6h1.2v1.2h-1.2zM423.3 515.8h0.7v0.7h-0.7zM417.7 522.0h1.0v1.0h-1.0zM451.0 530.2h1.3v1.3h-1.3zM426.2 554.3h1.2v1.2h-1.2zM418.7 507.5h0.7v0.7h-0.7zM453.4 534.0h0.8v0.8h-0.8zM456.9 522.0h1.2v1.2h-1.2zM460.7 516.8h0.7v0.7h-0.7zM453.2 508.8h1.1v1.1h-1.1zM456.5 512.1h1.2v1.2h-1.2zM440.2 537.3h1.0v1.0h-1.0zM459.4 530.2h1.0v1.0h-1.0zM444.4 512.6h1.1v1.1h-1.1zM416.8 526.1h1.2v1.2h-1.2zM468.1 548.5h1.2v1.2h-1.2zM475.2 556.2h0.9v0.9h-0.9zM457.0 512.5h1.1v1.1h-1.1zM435.9 550.3h0.7v0.7h-0.7zM425.4 538.1h1.0v1.0h-1.0zM453.9 535.7h0.6v0.6h-0.6zM452.4 527.5h0.8v0.8h-0.8zM466.3 542.7h1.1v1.1h-1.1zM441.1 512.9h0.6v0.6h-0.6zM469.1 529.0h1.0v1.0h-1.0zM433.6 526.2h1.1v1.1h-1.1zM442.8 547.4h0.8v0.8h-0.8zM423.1 549.1h0.8v0.8h-0.8zM434.6 543.2h0.6v0.6h-0.6zM447.3 521.1h1.4v1.4h-1.4zM447.8 531.2h1.1v1.1h-1.1zM465.0 519.9h0.6v0.6h-0.6zM451.9 527.9h0.8v0.8h-0.8zM459.6 542.6h1.4v1.4h-1.4zM473.9 516.7h0.9v0.9h-0.9zM461.3 505.2h1.3v1.3h-1.3zM455.7 520.4h1.3v1.3h-1.3zM444.0 516.7h1.2v1.2h-1.2zM471.7 511.8h1.4v1.4h-1.4zM425.8 540.3h1.0v1.0h-1.0zM469.3 556.4h0.7v0.7h-0.7zM443.5 549.7h0.9v0.9h-0.9zM426.2 529.9h0.6v0.6h-0.6zM426.2 548.9h1.3v1.3h-1.3zM465.0 507.5h1.1v1.1h-1.1zM443.4 539.4h0.9v0.9h-0.9zM433.6 552.8h1.2v1.2h-1.2zM454.5 531.2h0.8v0.8h-0.8zM442.4 550.9h1.3v1.3h-1.3zM421.5 545.5h1.1v1.1h-1.1zM455.6 521.0h1.4v1.4h-1.4zM450.4 548.7h0.7v0.7h-0.7zM446.6 517.0h0.9v0.9h-0.9zM436.0 533.7h0.7v0.7h-0.7zM442.9 521.2h1.1v1.1h-1.1zM430.8 522.5h0.8v0.8h-0.8zM473.5 509.5h0.8v0.8h-0.8zM469.4 523.9h1.2v1.2h-1.2zM420.3 511.7h1.1v1.1h-1.1zM425.6 517.1h0.9v0.9h-0.9zM454.0 513.2h0.7v0.7h-0.7zM439.4 539.5h1.2v1.2h-1.2zM450.2 521.1h1.3v1.3h-1.3zM434.6 544.4h1.2v1.2h-1.2zM456.3 532.2h0.8v0.8h-0.8zM450.2 504.7h1.4v1.4h-1.4zM447.6 529.3h1.4v1.4h-1.4zM468.0 519.7h1.3v1.3h-1.3zM471.7 513.2h0.9v0.9h-0.9zM439.2 533.5h1.1v1.1h-1.1zM440.3 539.0h1.1v1.1h-1.1zM446.3 505.9h0.8v0.8h-0.8zM438.8 541.8h0.9v0.9h-0.9zM431.0 506.5h1.2v1.2h-1.2zM438.1 531.7h1.3v1.3h-1.3zM456.1 517.3h0.8v0.8h-0.8zM454.0 547.9h0.7v0.7h-0.7zM441.3 515.4h0.7v0.7h-0.7zM458.2 525.5h0.9v0.9h-0.9zM467.5 505.2h0.8v0.8h-0.8zM418.7 505.4h1.0v1.0h-1.0zM435.5 540.1h0.8v0.8h-0.8zM423.6 543.0h0.6v0.6h-0.6zM449.2 507.0h1.3v1.3h-1.3zM470.2 507.2h1.4v1.4h-1.4zM449.5 542.9h1.3v1.3h-1.3zM443.4 528.4h0.9v0.9h-0.9zM453.2 506.0h1.1v1.1h-1.1zM460.5 540.5h1.1v1.1h-1.1zM435.3 540.1h0.9v0.9h-0.9zM455.2 517.7h0.8v0.8h-0.8zM455.4 513.3h1.3v1.3h-1.3zM466.1 533.4h0.8v0.8h-0.8zM436.5 512.1h1.2v1.2h-1.2zM474.6 510.7h0.7v0.7h-0.7zM442.3 555.3h0.8v0.8h-0.8zM428.1 525.4h0.9v0.9h-0.9zM432.0 534.6h0.7v0.7h-0.7zM420.8 530.0h1.4v1.4h-1.4zM427.6 516.5h0.8v0.8h-0.8zM420.7 509.6h0.9v0.9h-0.9zM433.2 535.3h0.7v0.7h-0.7zM471.4 534.1h1.2v1.2h-1.2zM423.3 547.1h0.9v0.9h-0.9zM435.8 550.4h1.0v1.0h-1.0zM433.5 525.3h1.1v1.1h-1.1zM430.4 530.7h0.9v0.9h-0.9zM423.1 505.8h1.3v1.3h-1.3zM470.7 519.2h1.2v1.2h-1.2zM440.6 522.8h0.8v0.8h-0.8zM435.9 523.1h0.7v0.7h-0.7zM466.3 526.7h0.8v0.8h-0.8zM440.7 529.2h1.2v1.2h-1.2zM425.3 530.4h1.2v1.2h-1.2zM465.7 512.4h0.9v0.9h-0.9zM458.7 522.0h1.1v1.1h-1.1zM431.8 521.5h0.7v0.7h-0.7zM455.2 519.9h0.7v0.7h-0.7zM431.6 513.9h0.9v0.9h-0.9zM474.2 552.3h1.3v1.3h-1.3zM464.9 551.9h0.7v0.7h-0.7zM446.0 545.3h1.4v1.4h-1.4zM453.1 511.5h0.9v0.9h-0.9zM426.9 544.3h1.2v1.2h-1.2zM439.7 504.3h1.3v1.3h-1.3zM469.6 552.9h1.2v1.2h-1.2zM476.6 518.8h0.7v0.7h-0.7zM466.9 547.1h0.8v0.8h-0.8zM452.6 509.4h0.7v0.7h-0.7zM475.5 550.2h0.7v0.7h-0.7zM455.7 541.6h1.0v1.0h-1.0zM446.5 540.2h0.6v0.6h-0.6zM474.9 536.3h1.0v1.0h-1.0zM432.7 518.6h1.1v1.1h-1.1zM427.5 541.2h0.7v0.7h-0.7zM439.4 519.4h0.6v0.6h-0.6zM458.4 550.9h0.9v0.9h-0.9zM430.4 538.9h0.7v0.7h-0.7zM467.9 530.8h1.1v1.1h-1.1zM434.3 531.9h1.1v1.1h-1.1zM453.8 545.8h0.9v0.9h-0.9zM442.2 527.0h0.6v0.6h-0.6zM438.2 552.8h1.1v1.1h-1.1zM438.6 547.3h0.8v0.8h-0.8zM441.1 519.6h0.9v0.9h-0.9zM424.2 534.5h0.7v0.7h-0.7zM443.2 544.1h1.3v1.3h-1.3zM456.3 524.5h0.8v0.8h-0.8zM432.6 518.5h1.1v1.1h-1.1zM462.8 511.9h1.0v1.0h-1.0zM462.3 541.1h0.7v0.7h-0.7zM450.7 553.1h1.3v1.3h-1.3zM429.8 548.2h1.4v1.4h-1.4zM473.2 550.0h0.7v0.7h-0.7zM442.1 538.7h1.3v1.3h-1.3zM466.7 526.1h0.9v0.9h-0.9zM458.6 518.9h0.9v0.9h-0.9zM467.9 518.9h1.3v1.3h-1.3zM419.0 509.0h0.9v0.9h-0.9zM457.2 515.9h1.4v1.4h-1.4zM452.4 508.6h0.8v0.8h-0.8zM468.6 510.5h0.6v0.6h-0.6zM430.8 506.0h0.8v0.8h-0.8zM445.6 547.8h1.0v1.0h-1.0zM449.7 510.5h0.9v0.9h-0.9zM455.4 529.4h1.4v1.4h-1.4zM441.3 552.8h0.8v0.8h-0.8zM457.1 544.4h1.4v1.4h-1.4zM425.8 536.6h1.3v1.3h-1.3zM446.0 555.7h1.3v1.3h-1.3zM433.7 529.9h0.9v0.9h-0.9zM465.1 507.2h1.2v1.2h-1.2zM415.6 507.2h1.2v1.2h-1.2zM428.4 534.1h1.3v1.3h-1.3zM426.2 524.9h1.2v1.2h-1.2zM453.5 537.2h0.8v0.8h-0.8zM447.8 548.3h1.0v1.0h-1.0zM454.9 541.0h0.9v0.9h-0.9zM447.3 523.1h0.8v0.8h-0.8zM420.1 550.9h0.9v0.9h-0.9zM459.3 515.1h1.1v1.1h-1.1zM461.2 540.9h1.0v1.0h-1.0z" fill="#ffffff" opacity="0.7"/>
<path d="M415.9 524.7H462.3V504.9H477.6V557.2H415.9Z" fill="none" stroke="#333" stroke-width="0.9"/>
<line x1="420.2" y1="496.1" x2="437.6" y2="496.1" stroke="#222" stroke-width="0.8"/>
<line x1="419.7" y1="552.6" x2="437.8" y2="552.6" stroke="#333" stroke-width="0.8"/>
<line x1="349" y1="495.5" x2="366" y2="495.5" stroke="#222" stroke-width="0.4"/>
<line x1="349" y1="553" x2="366" y2="553" stroke="#5a4030" stroke-width="0.4"/>
<text x="348.7" y="454.8" font-size="5.8" fill="#111">Scramble</text>
<text x="348.7" y="461.1" font-size="5.8" fill="#111">Vehicle</text>
<text x="416.3" y="453.2" font-size="5.8" fill="#111">Scramble</text>
<text x="416.3" y="459.5" font-size="5.8" fill="#111">GSK-025</text>
<text x="347" y="512.1" font-size="5.8" fill="#111">MSI2 shRNA</text>
<text x="347" y="518.4" font-size="5.8" fill="#111">Vehicle</text>
<text x="418" y="513.3" font-size="5.8" fill="#111">MSI2 shRNA</text>
<text x="418" y="519.6" font-size="5.8" fill="#111">GSK-025</text>
<line x1="501" y1="457.2" x2="501" y2="535.3" stroke="#000" stroke-width="0.9"/>
<line x1="501" y1="535.3" x2="631" y2="535.3" stroke="#000" stroke-width="0.9"/>
<line x1="499.2" y1="535.3" x2="501" y2="535.3" stroke="#000" stroke-width="0.6"/>
<text x="498.5" y="536.7" font-size="4.2" text-anchor="end" fill="#222">0</text>
<line x1="499.2" y1="519.7" x2="501" y2="519.7" stroke="#000" stroke-width="0.6"/>
<text x="498.5" y="521.1" font-size="4.2" text-anchor="end" fill="#222">1</text>
<line x1="499.2" y1="504.1" x2="501" y2="504.1" stroke="#000" stroke-width="0.6"/>
<text x="498.5" y="505.5" font-size="4.2" text-anchor="end" fill="#222">2</text>
<line x1="499.2" y1="488.6" x2="501" y2="488.6" stroke="#000" stroke-width="0.6"/>
<text x="498.5" y="490" font-size="4.2" text-anchor="end" fill="#222">3</text>
<line x1="499.2" y1="473" x2="501" y2="473" stroke="#000" stroke-width="0.6"/>
<text x="498.5" y="474.4" font-size="4.2" text-anchor="end" fill="#222">4</text>
<line x1="499.2" y1="457.4" x2="501" y2="457.4" stroke="#000" stroke-width="0.6"/>
<text x="498.5" y="458.8" font-size="4.2" text-anchor="end" fill="#222">5</text>
<text transform="translate(490.6,496.4) rotate(-90)" font-size="5.6" text-anchor="middle" fill="#222">Ki-67 staining intensity</text>
<rect x="510.9" y="474.1" width="19.4" height="61.2" fill="#0532ff"/>
<line x1="520.6" y1="535.3" x2="520.6" y2="537" stroke="#000" stroke-width="0.6"/>
<rect x="540.8" y="481.9" width="19.4" height="53.4" fill="#0532ff"/>
<line x1="550.5" y1="535.3" x2="550.5" y2="537" stroke="#000" stroke-width="0.6"/>
<rect x="570.6" y="491.2" width="19.4" height="44.1" fill="#0532ff"/>
<line x1="580.3" y1="535.3" x2="580.3" y2="537" stroke="#000" stroke-width="0.6"/>
<rect x="600.4" y="514" width="19.4" height="21.3" fill="#0532ff"/>
<line x1="610.1" y1="535.3" x2="610.1" y2="537" stroke="#000" stroke-width="0.6"/>
<path d="M514.2 464.4a0.95 0.95 0 1 0 1.9 0a0.95 0.95 0 1 0 -1.9 0zM519.2 466.0a0.95 0.95 0 1 0 1.9 0a0.95 0.95 0 1 0 -1.9 0zM525.9 466.7a0.95 0.95 0 1 0 1.9 0a0.95 0.95 0 1 0 -1.9 0zM516.2 468.3a0.95 0.95 0 1 0 1.9 0a0.95 0.95 0 1 0 -1.9 0zM522.7 468.3a0.95 0.95 0 1 0 1.9 0a0.95 0.95 0 1 0 -1.9 0zM513.1 469.1a0.95 0.95 0 1 0 1.9 0a0.95 0.95 0 1 0 -1.9 0zM519.1 469.9a0.95 0.95 0 1 0 1.9 0a0.95 0.95 0 1 0 -1.9 0zM526.1 471.4a0.95 0.95 0 1 0 1.9 0a0.95 0.95 0 1 0 -1.9 0zM516.9 472.2a0.95 0.95 0 1 0 1.9 0a0.95 0.95 0 1 0 -1.9 0zM522.1 473.8a0.95 0.95 0 1 0 1.9 0a0.95 0.95 0 1 0 -1.9 0zM513.2 474.5a0.95 0.95 0 1 0 1.9 0a0.95 0.95 0 1 0 -1.9 0zM519.2 476.1a0.95 0.95 0 1 0 1.9 0a0.95 0.95 0 1 0 -1.9 0zM526.1 476.9a0.95 0.95 0 1 0 1.9 0a0.95 0.95 0 1 0 -1.9 0zM516.6 477.7a0.95 0.95 0 1 0 1.9 0a0.95 0.95 0 1 0 -1.9 0zM523.1 479.2a0.95 0.95 0 1 0 1.9 0a0.95 0.95 0 1 0 -1.9 0zM513.8 480.0a0.95 0.95 0 1 0 1.9 0a0.95 0.95 0 1 0 -1.9 0zM520.0 496.0a0.95 0.95 0 1 0 1.9 0a0.95 0.95 0 1 0 -1.9 0zM543.1 474.5a0.95 0.95 0 1 0 1.9 0a0.95 0.95 0 1 0 -1.9 0zM549.8 475.3a0.95 0.95 0 1 0 1.9 0a0.95 0.95 0 1 0 -1.9 0zM555.3 476.9a0.95 0.95 0 1 0 1.9 0a0.95 0.95 0 1 0 -1.9 0zM546.7 477.7a0.95 0.95 0 1 0 1.9 0a0.95 0.95 0 1 0 -1.9 0zM552.1 479.2a0.95 0.95 0 1 0 1.9 0a0.95 0.95 0 1 0 -1.9 0zM543.3 480.0a0.95 0.95 0 1 0 1.9 0a0.95 0.95 0 1 0 -1.9 0zM549.9 480.8a0.95 0.95 0 1 0 1.9 0a0.95 0.95 0 1 0 -1.9 0zM555.0 481.5a0.95 0.95 0 1 0 1.9 0a0.95 0.95 0 1 0 -1.9 0zM546.1 482.3a0.95 0.95 0 1 0 1.9 0a0.95 0.95 0 1 0 -1.9 0zM552.3 483.1a0.95 0.95 0 1 0 1.9 0a0.95 0.95 0 1 0 -1.9 0zM543.2 483.9a0.95 0.95 0 1 0 1.9 0a0.95 0.95 0 1 0 -1.9 0zM549.9 485.4a0.95 0.95 0 1 0 1.9 0a0.95 0.95 0 1 0 -1.9 0zM556.0 487.0a0.95 0.95 0 1 0 1.9 0a0.95 0.95 0 1 0 -1.9 0zM546.9 487.8a0.95 0.95 0 1 0 1.9 0a0.95 0.95 0 1 0 -1.9 0zM552.5 487.8a0.95 0.95 0 1 0 1.9 0a0.95 0.95 0 1 0 -1.9 0zM543.7 488.6a0.95 0.95 0 1 0 1.9 0a0.95 0.95 0 1 0 -1.9 0zM573.4 483.9a0.95 0.95 0 1 0 1.9 0a0.95 0.95 0 1 0 -1.9 0zM579.5 483.9a0.95 0.95 0 1 0 1.9 0a0.95 0.95 0 1 0 -1.9 0zM585.5 486.2a0.95 0.95 0 1 0 1.9 0a0.95 0.95 0 1 0 -1.9 0zM576.9 487.8a0.95 0.95 0 1 0 1.9 0a0.95 0.95 0 1 0 -1.9 0zM582.5 488.6a0.95 0.95 0 1 0 1.9 0a0.95 0.95 0 1 0 -1.9 0zM572.8 489.3a0.95 0.95 0 1 0 1.9 0a0.95 0.95 0 1 0 -1.9 0zM579.7 490.1a0.95 0.95 0 1 0 1.9 0a0.95 0.95 0 1 0 -1.9 0zM585.4 490.9a0.95 0.95 0 1 0 1.9 0a0.95 0.95 0 1 0 -1.9 0zM576.7 491.7a0.95 0.95 0 1 0 1.9 0a0.95 0.95 0 1 0 -1.9 0zM582.2 493.2a0.95 0.95 0 1 0 1.9 0a0.95 0.95 0 1 0 -1.9 0zM573.0 494.0a0.95 0.95 0 1 0 1.9 0a0.95 0.95 0 1 0 -1.9 0zM579.4 494.8a0.95 0.95 0 1 0 1.9 0a0.95 0.95 0 1 0 -1.9 0zM585.0 496.3a0.95 0.95 0 1 0 1.9 0a0.95 0.95 0 1 0 -1.9 0zM576.5 497.1a0.95 0.95 0 1 0 1.9 0a0.95 0.95 0 1 0 -1.9 0zM582.4 497.9a0.95 0.95 0 1 0 1.9 0a0.95 0.95 0 1 0 -1.9 0zM573.6 499.5a0.95 0.95 0 1 0 1.9 0a0.95 0.95 0 1 0 -1.9 0zM602.6 507.3a0.95 0.95 0 1 0 1.9 0a0.95 0.95 0 1 0 -1.9 0zM609.5 508.0a0.95 0.95 0 1 0 1.9 0a0.95 0.95 0 1 0 -1.9 0zM614.7 508.8a0.95 0.95 0 1 0 1.9 0a0.95 0.95 0 1 0 -1.9 0zM606.1 509.6a0.95 0.95 0 1 0 1.9 0a0.95 0.95 0 1 0 -1.9 0zM612.1 510.4a0.95 0.95 0 1 0 1.9 0a0.95 0.95 0 1 0 -1.9 0zM603.7 511.2a0.95 0.95 0 1 0 1.9 0a0.95 0.95 0 1 0 -1.9 0zM609.5 511.9a0.95 0.95 0 1 0 1.9 0a0.95 0.95 0 1 0 -1.9 0zM615.6 513.5a0.95 0.95 0 1 0 1.9 0a0.95 0.95 0 1 0 -1.9 0zM605.9 516.6a0.95 0.95 0 1 0 1.9 0a0.95 0.95 0 1 0 -1.9 0zM612.2 517.4a0.95 0.95 0 1 0 1.9 0a0.95 0.95 0 1 0 -1.9 0zM603.6 518.2a0.95 0.95 0 1 0 1.9 0a0.95 0.95 0 1 0 -1.9 0zM609.6 518.2a0.95 0.95 0 1 0 1.9 0a0.95 0.95 0 1 0 -1.9 0zM615.3 518.9a0.95 0.95 0 1 0 1.9 0a0.95 0.95 0 1 0 -1.9 0zM606.2 518.9a0.95 0.95 0 1 0 1.9 0a0.95 0.95 0 1 0 -1.9 0zM611.9 519.7a0.95 0.95 0 1 0 1.9 0a0.95 0.95 0 1 0 -1.9 0z" fill="#000"/>
<line x1="516.6" y1="472.2" x2="524.6" y2="472.2" stroke="#000" stroke-width="0.6"/>
<line x1="546.5" y1="480.8" x2="554.5" y2="480.8" stroke="#000" stroke-width="0.6"/>
<line x1="576.3" y1="490.1" x2="584.3" y2="490.1" stroke="#000" stroke-width="0.6"/>
<line x1="606.1" y1="512.7" x2="614.1" y2="512.7" stroke="#000" stroke-width="0.6"/>
<text x="521.3" y="542.6" font-size="5.8" text-anchor="middle" fill="#111">Scramble</text>
<text x="521.3" y="549.3" font-size="5.8" text-anchor="middle" fill="#111">Vehicle</text>
<text x="550.8" y="542.6" font-size="5.8" text-anchor="middle" fill="#111">Scramble</text>
<text x="550.8" y="549.3" font-size="5.8" text-anchor="middle" fill="#111">GSK-025</text>
<text x="580.6" y="542.6" font-size="5.8" text-anchor="middle" fill="#111">MSI2 shRNA</text>
<text x="580.6" y="549.3" font-size="5.8" text-anchor="middle" fill="#111">Vehicle</text>
<text x="613" y="542.6" font-size="5.8" text-anchor="middle" fill="#111">MSI2 shRNA</text>
<text x="613" y="549.3" font-size="5.8" text-anchor="middle" fill="#111">GSK-025</text>
<text x="582" y="474.8" font-size="7.2" text-anchor="middle" font-style="italic" fill="#222">p=0.0496</text>
<text x="611.4" y="503.6" font-size="7.2" text-anchor="middle" font-style="italic" fill="#222">p&lt;0.001</text>
<text x="136.7" y="608.4" font-size="9.75" text-anchor="middle">GSK-591 and Ro combination</text>
<rect x="39.5" y="613.2" width="185.8" height="137" fill="none" stroke="#cfcfcf" stroke-width="0.8"/>
<line x1="39.5" y1="632.6" x2="225.3" y2="632.6" stroke="#9a9a9a" stroke-width="0.8"/>
<line x1="37" y1="632.6" x2="39.5" y2="632.6" stroke="#333" stroke-width="0.6"/>
<text x="34.8" y="634.9" font-size="7" text-anchor="end" fill="#222">0</text>
<line x1="37" y1="669.6" x2="39.5" y2="669.6" stroke="#333" stroke-width="0.6"/>
<text x="34.8" y="671.9" font-size="7" text-anchor="end" fill="#222">-1</text>
<line x1="37" y1="706.6" x2="39.5" y2="706.6" stroke="#333" stroke-width="0.6"/>
<text x="34.8" y="708.9" font-size="7" text-anchor="end" fill="#222">-2</text>
<line x1="37" y1="743.6" x2="39.5" y2="743.6" stroke="#333" stroke-width="0.6"/>
<text x="34.8" y="745.9" font-size="7" text-anchor="end" fill="#222">-3</text>
<text transform="translate(22,679.5) rotate(-90)" font-size="7.8" text-anchor="middle" fill="#111">Log-Odds (Obs/Exp) inhibition</text>
<line x1="50.2" y1="644.3" x2="50.2" y2="678.5" stroke="#111" stroke-width="0.7"/>
<line x1="48" y1="644.3" x2="52.4" y2="644.3" stroke="#111" stroke-width="0.7"/>
<line x1="48" y1="678.5" x2="52.4" y2="678.5" stroke="#111" stroke-width="0.7"/>
<rect x="46.1" y="650.4" width="8.2" height="20.5" fill="#6b7fc8" stroke="#222" stroke-width="0.6"/>
<line x1="46.1" y1="659.2" x2="54.3" y2="659.2" stroke="#111" stroke-width="0.9"/>
<path d="M49.2 703.7a0.95 0.95 0 1 0 1.9 0a0.95 0.95 0 1 0 -1.9 0zM49.2 744.5a0.95 0.95 0 1 0 1.9 0a0.95 0.95 0 1 0 -1.9 0zM49.2 746.0a0.95 0.95 0 1 0 1.9 0a0.95 0.95 0 1 0 -1.9 0zM49.2 747.6a0.95 0.95 0 1 0 1.9 0a0.95 0.95 0 1 0 -1.9 0z" fill="#000"/>
<line x1="50.2" y1="750.2" x2="50.2" y2="752" stroke="#555" stroke-width="0.5"/>
<text transform="translate(56.2,755.6) rotate(-52)" font-size="6.2" text-anchor="end" fill="#111">SUP-M2</text>
<line x1="68.3" y1="632.6" x2="68.3" y2="683.4" stroke="#111" stroke-width="0.7"/>
<line x1="66.1" y1="632.6" x2="70.5" y2="632.6" stroke="#111" stroke-width="0.7"/>
<line x1="66.1" y1="683.4" x2="70.5" y2="683.4" stroke="#111" stroke-width="0.7"/>
<rect x="64.2" y="640.5" width="8.2" height="24" fill="#e05a5c" stroke="#222" stroke-width="0.6"/>
<line x1="64.2" y1="644.3" x2="72.4" y2="644.3" stroke="#111" stroke-width="0.9"/>
<path d="M67.4 712.6a0.95 0.95 0 1 0 1.9 0a0.95 0.95 0 1 0 -1.9 0zM67.4 716.0a0.95 0.95 0 1 0 1.9 0a0.95 0.95 0 1 0 -1.9 0z" fill="#000"/>
<line x1="68.3" y1="750.2" x2="68.3" y2="752" stroke="#555" stroke-width="0.5"/>
<text transform="translate(74.3,755.6) rotate(-52)" font-size="6.2" text-anchor="end" fill="#111">Z-138</text>
<line x1="86.5" y1="629.4" x2="86.5" y2="651.3" stroke="#111" stroke-width="0.7"/>
<line x1="84.3" y1="629.4" x2="88.7" y2="629.4" stroke="#111" stroke-width="0.7"/>
<line x1="84.3" y1="651.3" x2="88.7" y2="651.3" stroke="#111" stroke-width="0.7"/>
<rect x="82.4" y="635.5" width="8.2" height="11.8" fill="#5db5a6" stroke="#222" stroke-width="0.6"/>
<line x1="82.4" y1="640.3" x2="90.6" y2="640.3" stroke="#111" stroke-width="0.9"/>
<line x1="86.5" y1="750.2" x2="86.5" y2="752" stroke="#555" stroke-width="0.5"/>
<text transform="translate(92.5,755.6) rotate(-52)" font-size="6.2" text-anchor="end" fill="#111">TMD-8</text>
<line x1="104.6" y1="630.3" x2="104.6" y2="644.3" stroke="#111" stroke-width="0.7"/>
<line x1="102.4" y1="630.3" x2="106.8" y2="630.3" stroke="#111" stroke-width="0.7"/>
<line x1="102.4" y1="644.3" x2="106.8" y2="644.3" stroke="#111" stroke-width="0.7"/>
<rect x="100.5" y="633.8" width="8.2" height="5.8" fill="#c99a5c" stroke="#222" stroke-width="0.6"/>
<line x1="100.5" y1="635.9" x2="108.7" y2="635.9" stroke="#111" stroke-width="0.9"/>
<path d="M103.7 651.7a0.95 0.95 0 1 0 1.9 0a0.95 0.95 0 1 0 -1.9 0z" fill="#000"/>
<line x1="104.6" y1="750.2" x2="104.6" y2="752" stroke="#555" stroke-width="0.5"/>
<text transform="translate(110.6,755.6) rotate(-52)" font-size="6.2" text-anchor="end" fill="#111">NUDHL-1</text>
<line x1="122.8" y1="630" x2="122.8" y2="638.3" stroke="#111" stroke-width="0.7"/>
<line x1="120.6" y1="630" x2="125" y2="630" stroke="#111" stroke-width="0.7"/>
<line x1="120.6" y1="638.3" x2="125" y2="638.3" stroke="#111" stroke-width="0.7"/>
<rect x="118.7" y="630.9" width="8.2" height="4.8" fill="#9b5fc0" stroke="#222" stroke-width="0.6"/>
<line x1="118.7" y1="632.6" x2="126.9" y2="632.6" stroke="#111" stroke-width="0.9"/>
<line x1="122.8" y1="750.2" x2="122.8" y2="752" stroke="#555" stroke-width="0.5"/>
<text transform="translate(128.8,755.6) rotate(-52)" font-size="6.2" text-anchor="end" fill="#111">CA-46</text>
<line x1="140.9" y1="628.5" x2="140.9" y2="640.8" stroke="#111" stroke-width="0.7"/>
<line x1="138.7" y1="628.5" x2="143.1" y2="628.5" stroke="#111" stroke-width="0.7"/>
<line x1="138.7" y1="640.8" x2="143.1" y2="640.8" stroke="#111" stroke-width="0.7"/>
<rect x="136.8" y="632.3" width="8.2" height="3.2" fill="#d0cc58" stroke="#222" stroke-width="0.6"/>
<line x1="136.8" y1="633.6" x2="145" y2="633.6" stroke="#111" stroke-width="0.9"/>
<line x1="140.9" y1="750.2" x2="140.9" y2="752" stroke="#555" stroke-width="0.5"/>
<text transform="translate(146.9,755.6) rotate(-52)" font-size="6.2" text-anchor="end" fill="#111">JVM-13</text>
<line x1="159" y1="629.4" x2="159" y2="636" stroke="#111" stroke-width="0.7"/>
<line x1="156.8" y1="629.4" x2="161.2" y2="629.4" stroke="#111" stroke-width="0.7"/>
<line x1="156.8" y1="636" x2="161.2" y2="636" stroke="#111" stroke-width="0.7"/>
<rect x="154.9" y="631.7" width="8.2" height="2.6" fill="#6c9cc6" stroke="#222" stroke-width="0.6"/>
<line x1="154.9" y1="632.8" x2="163.1" y2="632.8" stroke="#111" stroke-width="0.9"/>
<line x1="159" y1="750.2" x2="159" y2="752" stroke="#555" stroke-width="0.5"/>
<text transform="translate(165,755.6) rotate(-52)" font-size="6.2" text-anchor="end" fill="#111">JVM-2</text>
<line x1="177.2" y1="629.4" x2="177.2" y2="635.5" stroke="#111" stroke-width="0.7"/>
<line x1="175" y1="629.4" x2="179.4" y2="629.4" stroke="#111" stroke-width="0.7"/>
<line x1="175" y1="635.5" x2="179.4" y2="635.5" stroke="#111" stroke-width="0.7"/>
<rect x="173.1" y="632" width="8.2" height="2.3" fill="#a23a66" stroke="#222" stroke-width="0.6"/>
<line x1="173.1" y1="633" x2="181.3" y2="633" stroke="#111" stroke-width="0.9"/>
<path d="M176.2 628.5a0.95 0.95 0 1 0 1.9 0a0.95 0.95 0 1 0 -1.9 0zM176.2 637.6a0.95 0.95 0 1 0 1.9 0a0.95 0.95 0 1 0 -1.9 0z" fill="#000"/>
<line x1="177.2" y1="750.2" x2="177.2" y2="752" stroke="#555" stroke-width="0.5"/>
<text transform="translate(183.2,755.6) rotate(-52)" font-size="6.2" text-anchor="end" fill="#111">OCI-LY19</text>
<line x1="195.3" y1="631.2" x2="195.3" y2="635" stroke="#111" stroke-width="0.7"/>
<line x1="193.1" y1="631.2" x2="197.5" y2="631.2" stroke="#111" stroke-width="0.7"/>
<line x1="193.1" y1="635" x2="197.5" y2="635" stroke="#111" stroke-width="0.7"/>
<rect x="191.2" y="631.8" width="8.2" height="2.5" fill="#8c6644" stroke="#222" stroke-width="0.6"/>
<line x1="191.2" y1="632.6" x2="199.4" y2="632.6" stroke="#111" stroke-width="0.9"/>
<path d="M194.4 636.2a0.95 0.95 0 1 0 1.9 0a0.95 0.95 0 1 0 -1.9 0z" fill="#000"/>
<line x1="195.3" y1="750.2" x2="195.3" y2="752" stroke="#555" stroke-width="0.5"/>
<text transform="translate(201.3,755.6) rotate(-52)" font-size="6.2" text-anchor="end" fill="#111">HBL-1</text>
<line x1="213.5" y1="624.3" x2="213.5" y2="631.9" stroke="#111" stroke-width="0.7"/>
<line x1="211.3" y1="624.3" x2="215.7" y2="624.3" stroke="#111" stroke-width="0.7"/>
<line x1="211.3" y1="631.9" x2="215.7" y2="631.9" stroke="#111" stroke-width="0.7"/>
<rect x="209.4" y="628.1" width="8.2" height="2.8" fill="#3e9a42" stroke="#222" stroke-width="0.6"/>
<line x1="209.4" y1="629.2" x2="217.6" y2="629.2" stroke="#111" stroke-width="0.9"/>
<line x1="213.5" y1="750.2" x2="213.5" y2="752" stroke="#555" stroke-width="0.5"/>
<text transform="translate(219.5,755.6) rotate(-52)" font-size="6.2" text-anchor="end" fill="#111">SUDHL-4</text>
<text x="452.3" y="616" font-size="9.75" text-anchor="middle">GSK-591 and Ro combination</text>
<line x1="289.3" y1="634" x2="289.3" y2="698.3" stroke="#000" stroke-width="0.9"/>
<line x1="289.3" y1="698.3" x2="434.7" y2="698.3" stroke="#000" stroke-width="0.9"/>
<line x1="287.7" y1="634.3" x2="289.3" y2="634.3" stroke="#000" stroke-width="0.6"/>
<text x="287.1" y="635.8" font-size="4.6" text-anchor="end" fill="#222">2.0×10<tspan font-size="2.6" dy="-1.4">7</tspan></text>
<line x1="287.7" y1="650.3" x2="289.3" y2="650.3" stroke="#000" stroke-width="0.6"/>
<text x="287.1" y="651.8" font-size="4.6" text-anchor="end" fill="#222">1.5×10<tspan font-size="2.6" dy="-1.4">7</tspan></text>
<line x1="287.7" y1="666.3" x2="289.3" y2="666.3" stroke="#000" stroke-width="0.6"/>
<text x="287.1" y="667.8" font-size="4.6" text-anchor="end" fill="#222">1.0×10<tspan font-size="2.6" dy="-1.4">7</tspan></text>
<line x1="287.7" y1="682.3" x2="289.3" y2="682.3" stroke="#000" stroke-width="0.6"/>
<text x="287.1" y="683.8" font-size="4.6" text-anchor="end" fill="#222">5.0×10<tspan font-size="2.6" dy="-1.4">6</tspan></text>
<line x1="287.7" y1="698.3" x2="289.3" y2="698.3" stroke="#000" stroke-width="0.6"/>
<text x="287.1" y="699.8" font-size="4.6" text-anchor="end" fill="#222">0.0</text>
<rect x="294" y="643.1" width="7.6" height="55.2" fill="#000"/>
<rect x="305.4" y="662.5" width="8" height="35.8" fill="#0532ff"/>
<line x1="309.4" y1="662.5" x2="309.4" y2="660" stroke="#000" stroke-width="0.6"/>
<line x1="307.4" y1="660" x2="311.4" y2="660" stroke="#000" stroke-width="0.6"/>
<path d="M306.6 656.2a0.95 0.95 0 1 0 1.9 0a0.95 0.95 0 1 0 -1.9 0zM310.2 656.2a0.95 0.95 0 1 0 1.9 0a0.95 0.95 0 1 0 -1.9 0zM308.4 659.4a0.95 0.95 0 1 0 1.9 0a0.95 0.95 0 1 0 -1.9 0zM305.4 662.5a0.95 0.95 0 1 0 1.9 0a0.95 0.95 0 1 0 -1.9 0zM308.4 662.5a0.95 0.95 0 1 0 1.9 0a0.95 0.95 0 1 0 -1.9 0zM311.4 662.5a0.95 0.95 0 1 0 1.9 0a0.95 0.95 0 1 0 -1.9 0zM305.4 668.4a0.95 0.95 0 1 0 1.9 0a0.95 0.95 0 1 0 -1.9 0zM308.4 668.4a0.95 0.95 0 1 0 1.9 0a0.95 0.95 0 1 0 -1.9 0zM311.4 668.4a0.95 0.95 0 1 0 1.9 0a0.95 0.95 0 1 0 -1.9 0z" fill="#000"/>
<rect x="317" y="651.1" width="8" height="47.2" fill="#78d6ff"/>
<line x1="321" y1="651.1" x2="321" y2="648.6" stroke="#000" stroke-width="0.6"/>
<line x1="319" y1="648.6" x2="323" y2="648.6" stroke="#000" stroke-width="0.6"/>
<path d="M317.1 644.5a0.95 0.95 0 1 0 1.9 0a0.95 0.95 0 1 0 -1.9 0zM320.1 644.5a0.95 0.95 0 1 0 1.9 0a0.95 0.95 0 1 0 -1.9 0zM323.1 644.5a0.95 0.95 0 1 0 1.9 0a0.95 0.95 0 1 0 -1.9 0zM320.1 646.3a0.95 0.95 0 1 0 1.9 0a0.95 0.95 0 1 0 -1.9 0zM318.2 648.5a0.95 0.95 0 1 0 1.9 0a0.95 0.95 0 1 0 -1.9 0zM321.9 648.5a0.95 0.95 0 1 0 1.9 0a0.95 0.95 0 1 0 -1.9 0zM320.1 650.6a0.95 0.95 0 1 0 1.9 0a0.95 0.95 0 1 0 -1.9 0zM317.1 659.1a0.95 0.95 0 1 0 1.9 0a0.95 0.95 0 1 0 -1.9 0zM320.1 659.1a0.95 0.95 0 1 0 1.9 0a0.95 0.95 0 1 0 -1.9 0zM323.1 659.1a0.95 0.95 0 1 0 1.9 0a0.95 0.95 0 1 0 -1.9 0z" fill="#000"/>
<rect x="328.8" y="695.5" width="7.6" height="2.8" fill="#e6e6e6"/>
<line x1="332.6" y1="695.5" x2="332.6" y2="694.7" stroke="#000" stroke-width="0.6"/>
<line x1="330.6" y1="694.7" x2="334.6" y2="694.7" stroke="#000" stroke-width="0.6"/>
<rect x="340.9" y="663.8" width="7.6" height="34.5" fill="#000"/>
<line x1="344.7" y1="663.8" x2="344.7" y2="659.5" stroke="#000" stroke-width="0.6"/>
<line x1="342.7" y1="659.5" x2="346.7" y2="659.5" stroke="#000" stroke-width="0.6"/>
<path d="M341.8 648.5a0.95 0.95 0 1 0 1.9 0a0.95 0.95 0 1 0 -1.9 0zM343.8 644.5a0.95 0.95 0 1 0 1.9 0a0.95 0.95 0 1 0 -1.9 0zM345.8 650.1a0.95 0.95 0 1 0 1.9 0a0.95 0.95 0 1 0 -1.9 0z" fill="#000"/>
<rect x="352.2" y="679.1" width="8" height="19.2" fill="#0532ff"/>
<line x1="356.2" y1="679.1" x2="356.2" y2="675.6" stroke="#000" stroke-width="0.6"/>
<line x1="354.2" y1="675.6" x2="358.2" y2="675.6" stroke="#000" stroke-width="0.6"/>
<path d="M352.2 667.8a0.95 0.95 0 1 0 1.9 0a0.95 0.95 0 1 0 -1.9 0zM355.2 667.8a0.95 0.95 0 1 0 1.9 0a0.95 0.95 0 1 0 -1.9 0zM358.2 667.8a0.95 0.95 0 1 0 1.9 0a0.95 0.95 0 1 0 -1.9 0zM352.2 683.1a0.95 0.95 0 1 0 1.9 0a0.95 0.95 0 1 0 -1.9 0zM355.2 683.1a0.95 0.95 0 1 0 1.9 0a0.95 0.95 0 1 0 -1.9 0zM358.2 683.1a0.95 0.95 0 1 0 1.9 0a0.95 0.95 0 1 0 -1.9 0zM353.4 685.8a0.95 0.95 0 1 0 1.9 0a0.95 0.95 0 1 0 -1.9 0zM357.1 685.8a0.95 0.95 0 1 0 1.9 0a0.95 0.95 0 1 0 -1.9 0z" fill="#000"/>
<rect x="364.2" y="675.8" width="7.9" height="22.5" fill="#78d6ff"/>
<line x1="368.1" y1="675.8" x2="368.1" y2="670.8" stroke="#000" stroke-width="0.6"/>
<line x1="366.1" y1="670.8" x2="370.1" y2="670.8" stroke="#000" stroke-width="0.6"/>
<path d="M364.2 661.1a0.95 0.95 0 1 0 1.9 0a0.95 0.95 0 1 0 -1.9 0zM367.2 661.1a0.95 0.95 0 1 0 1.9 0a0.95 0.95 0 1 0 -1.9 0zM370.2 661.1a0.95 0.95 0 1 0 1.9 0a0.95 0.95 0 1 0 -1.9 0zM364.2 680.3a0.95 0.95 0 1 0 1.9 0a0.95 0.95 0 1 0 -1.9 0zM367.2 680.3a0.95 0.95 0 1 0 1.9 0a0.95 0.95 0 1 0 -1.9 0zM370.2 680.3a0.95 0.95 0 1 0 1.9 0a0.95 0.95 0 1 0 -1.9 0zM364.2 685.2a0.95 0.95 0 1 0 1.9 0a0.95 0.95 0 1 0 -1.9 0zM367.2 685.2a0.95 0.95 0 1 0 1.9 0a0.95 0.95 0 1 0 -1.9 0zM370.2 685.2a0.95 0.95 0 1 0 1.9 0a0.95 0.95 0 1 0 -1.9 0z" fill="#000"/>
<rect x="376.1" y="688.2" width="7.7" height="10.1" fill="#e6e6e6"/>
<line x1="380" y1="688.2" x2="380" y2="685.2" stroke="#000" stroke-width="0.6"/>
<line x1="378" y1="685.2" x2="382" y2="685.2" stroke="#000" stroke-width="0.6"/>
<rect x="387.8" y="681.1" width="7.7" height="17.2" fill="#000"/>
<line x1="391.6" y1="681.1" x2="391.6" y2="678.6" stroke="#000" stroke-width="0.6"/>
<line x1="389.6" y1="678.6" x2="393.6" y2="678.6" stroke="#000" stroke-width="0.6"/>
<path d="M390.7 670.2a0.95 0.95 0 1 0 1.9 0a0.95 0.95 0 1 0 -1.9 0zM388.9 673.4a0.95 0.95 0 1 0 1.9 0a0.95 0.95 0 1 0 -1.9 0zM392.5 673.4a0.95 0.95 0 1 0 1.9 0a0.95 0.95 0 1 0 -1.9 0zM387.7 675.5a0.95 0.95 0 1 0 1.9 0a0.95 0.95 0 1 0 -1.9 0zM390.7 675.5a0.95 0.95 0 1 0 1.9 0a0.95 0.95 0 1 0 -1.9 0zM393.7 675.5a0.95 0.95 0 1 0 1.9 0a0.95 0.95 0 1 0 -1.9 0zM390.7 677.6a0.95 0.95 0 1 0 1.9 0a0.95 0.95 0 1 0 -1.9 0z" fill="#000"/>
<rect x="399.4" y="693.2" width="7.7" height="5.1" fill="#0532ff"/>
<line x1="403.2" y1="693.2" x2="403.2" y2="692.2" stroke="#000" stroke-width="0.6"/>
<line x1="401.2" y1="692.2" x2="405.2" y2="692.2" stroke="#000" stroke-width="0.6"/>
<path d="M399.3 690.0a0.95 0.95 0 1 0 1.9 0a0.95 0.95 0 1 0 -1.9 0zM402.3 690.0a0.95 0.95 0 1 0 1.9 0a0.95 0.95 0 1 0 -1.9 0zM405.3 690.0a0.95 0.95 0 1 0 1.9 0a0.95 0.95 0 1 0 -1.9 0zM399.3 691.3a0.95 0.95 0 1 0 1.9 0a0.95 0.95 0 1 0 -1.9 0zM402.3 691.3a0.95 0.95 0 1 0 1.9 0a0.95 0.95 0 1 0 -1.9 0zM405.3 691.3a0.95 0.95 0 1 0 1.9 0a0.95 0.95 0 1 0 -1.9 0z" fill="#000"/>
<rect x="411.1" y="684.2" width="8" height="14.1" fill="#78d6ff"/>
<line x1="415.1" y1="684.2" x2="415.1" y2="682.7" stroke="#000" stroke-width="0.6"/>
<line x1="413.1" y1="682.7" x2="417.1" y2="682.7" stroke="#000" stroke-width="0.6"/>
<path d="M411.2 675.5a0.95 0.95 0 1 0 1.9 0a0.95 0.95 0 1 0 -1.9 0zM414.2 675.5a0.95 0.95 0 1 0 1.9 0a0.95 0.95 0 1 0 -1.9 0zM417.2 675.5a0.95 0.95 0 1 0 1.9 0a0.95 0.95 0 1 0 -1.9 0zM411.2 681.5a0.95 0.95 0 1 0 1.9 0a0.95 0.95 0 1 0 -1.9 0zM414.2 681.5a0.95 0.95 0 1 0 1.9 0a0.95 0.95 0 1 0 -1.9 0zM417.2 681.5a0.95 0.95 0 1 0 1.9 0a0.95 0.95 0 1 0 -1.9 0zM411.2 694.3a0.95 0.95 0 1 0 1.9 0a0.95 0.95 0 1 0 -1.9 0zM414.2 694.3a0.95 0.95 0 1 0 1.9 0a0.95 0.95 0 1 0 -1.9 0zM417.2 694.3a0.95 0.95 0 1 0 1.9 0a0.95 0.95 0 1 0 -1.9 0z" fill="#000"/>
<path d="M423.0 696.6a0.95 0.95 0 1 0 1.9 0a0.95 0.95 0 1 0 -1.9 0zM426.0 696.6a0.95 0.95 0 1 0 1.9 0a0.95 0.95 0 1 0 -1.9 0zM429.0 696.6a0.95 0.95 0 1 0 1.9 0a0.95 0.95 0 1 0 -1.9 0zM424.2 697.4a0.95 0.95 0 1 0 1.9 0a0.95 0.95 0 1 0 -1.9 0zM427.8 697.4a0.95 0.95 0 1 0 1.9 0a0.95 0.95 0 1 0 -1.9 0z" fill="#000"/>
<line x1="297.8" y1="698.3" x2="297.8" y2="699.8" stroke="#000" stroke-width="0.5"/>
<text transform="translate(298.2,704.3) rotate(-45)" font-size="4.7" text-anchor="end" fill="#222">DMSO</text>
<line x1="309.4" y1="698.3" x2="309.4" y2="699.8" stroke="#000" stroke-width="0.5"/>
<text transform="translate(309.8,704.3) rotate(-45)" font-size="4.7" text-anchor="end" fill="#222">10uM GSK-591</text>
<line x1="321" y1="698.3" x2="321" y2="699.8" stroke="#000" stroke-width="0.5"/>
<text transform="translate(321.4,704.3) rotate(-45)" font-size="4.7" text-anchor="end" fill="#222">10uM Ro</text>
<line x1="332.6" y1="698.3" x2="332.6" y2="699.8" stroke="#000" stroke-width="0.5"/>
<text transform="translate(333,704.3) rotate(-45)" font-size="4.7" text-anchor="end" fill="#222">10 uM GSK-591 + Ro</text>
<line x1="344.7" y1="698.3" x2="344.7" y2="699.8" stroke="#000" stroke-width="0.5"/>
<text transform="translate(345.1,704.3) rotate(-45)" font-size="4.7" text-anchor="end" fill="#222">DMSO</text>
<line x1="356.2" y1="698.3" x2="356.2" y2="699.8" stroke="#000" stroke-width="0.5"/>
<text transform="translate(356.6,704.3) rotate(-45)" font-size="4.7" text-anchor="end" fill="#222">10uM GSK-591</text>
<line x1="368.1" y1="698.3" x2="368.1" y2="699.8" stroke="#000" stroke-width="0.5"/>
<text transform="translate(368.5,704.3) rotate(-45)" font-size="4.7" text-anchor="end" fill="#222">10uM Ro</text>
<line x1="380" y1="698.3" x2="380" y2="699.8" stroke="#000" stroke-width="0.5"/>
<text transform="translate(380.4,704.3) rotate(-45)" font-size="4.7" text-anchor="end" fill="#222">10 uM GSK-591 + Ro</text>
<line x1="391.6" y1="698.3" x2="391.6" y2="699.8" stroke="#000" stroke-width="0.5"/>
<text transform="translate(392,704.3) rotate(-45)" font-size="4.7" text-anchor="end" fill="#222">DMSO</text>
<line x1="403.2" y1="698.3" x2="403.2" y2="699.8" stroke="#000" stroke-width="0.5"/>
<text transform="translate(403.6,704.3) rotate(-45)" font-size="4.7" text-anchor="end" fill="#222">10uM GSK-591</text>
<line x1="415.1" y1="698.3" x2="415.1" y2="699.8" stroke="#000" stroke-width="0.5"/>
<text transform="translate(415.5,704.3) rotate(-45)" font-size="4.7" text-anchor="end" fill="#222">10uM Ro</text>
<line x1="427" y1="698.3" x2="427" y2="699.8" stroke="#000" stroke-width="0.5"/>
<text transform="translate(427.4,704.3) rotate(-45)" font-size="4.7" text-anchor="end" fill="#222">10 uM GSK-591 + Ro</text>
<line x1="285.8" y1="736.2" x2="324.8" y2="736.2" stroke="#888" stroke-width="0.6"/>
<text x="306.2" y="743.4" font-size="5.8" text-anchor="middle" fill="#111">Z-138</text>
<line x1="333.3" y1="736.2" x2="369.9" y2="736.2" stroke="#888" stroke-width="0.6"/>
<text x="350.8" y="743.4" font-size="5.8" text-anchor="middle" fill="#111">OCI-LY19</text>
<line x1="377" y1="736.2" x2="416" y2="736.2" stroke="#888" stroke-width="0.6"/>
<text x="396.5" y="743.4" font-size="5.8" text-anchor="middle" fill="#111">SUPM2</text>
<text transform="translate(264.2,666.1) rotate(-90)" font-size="5.4" text-anchor="middle" fill="#222">Number of viable cells</text>
<path d="M309.2 655.5V634.6H332.6V694.4M321 634.6V641.2" stroke="#777" stroke-width="0.5" fill="none"/>
<text x="331" y="624.8" font-size="6.0" text-anchor="middle" font-style="italic" fill="#222">p&lt;0.0001</text>
<path d="M356.2 667V651.3H380.9V683.9M368.1 651.3V656.6" stroke="#777" stroke-width="0.5" fill="none"/>
<text x="372" y="640.8" font-size="6.0" text-anchor="middle" font-style="italic" fill="#222">p=0.05</text>
<path d="M403.6 689.5V650.1H426.4V695.9M414.8 650.1V674.2" stroke="#777" stroke-width="0.5" fill="none"/>
<text x="418.4" y="639.8" font-size="6.0" text-anchor="middle" font-style="italic" fill="#222">p&lt;0.0001</text>
<line x1="486.5" y1="635" x2="486.5" y2="698.3" stroke="#000" stroke-width="0.9"/>
<line x1="486.5" y1="698.3" x2="638.7" y2="698.3" stroke="#000" stroke-width="0.9"/>
<line x1="484.9" y1="635.8" x2="486.5" y2="635.8" stroke="#000" stroke-width="0.6"/>
<text x="484.3" y="637.2" font-size="4.6" text-anchor="end" fill="#222">1.5</text>
<line x1="484.9" y1="656.6" x2="486.5" y2="656.6" stroke="#000" stroke-width="0.6"/>
<text x="484.3" y="658.1" font-size="4.6" text-anchor="end" fill="#222">1.0</text>
<line x1="484.9" y1="677.4" x2="486.5" y2="677.4" stroke="#000" stroke-width="0.6"/>
<text x="484.3" y="678.9" font-size="4.6" text-anchor="end" fill="#222">0.5</text>
<line x1="484.9" y1="698.3" x2="486.5" y2="698.3" stroke="#000" stroke-width="0.6"/>
<text x="484.3" y="699.8" font-size="4.6" text-anchor="end" fill="#222">0.0</text>
<rect x="491" y="656.6" width="8" height="41.7" fill="#000"/>
<rect x="503.4" y="672.6" width="8.3" height="25.7" fill="#0532ff"/>
<line x1="507.5" y1="672.6" x2="507.5" y2="670.6" stroke="#000" stroke-width="0.6"/>
<line x1="505.5" y1="670.6" x2="509.5" y2="670.6" stroke="#000" stroke-width="0.6"/>
<path d="M503.6 667.5a0.95 0.95 0 1 0 1.9 0a0.95 0.95 0 1 0 -1.9 0zM506.6 667.5a0.95 0.95 0 1 0 1.9 0a0.95 0.95 0 1 0 -1.9 0zM509.6 667.5a0.95 0.95 0 1 0 1.9 0a0.95 0.95 0 1 0 -1.9 0zM504.8 670.2a0.95 0.95 0 1 0 1.9 0a0.95 0.95 0 1 0 -1.9 0zM508.4 670.2a0.95 0.95 0 1 0 1.9 0a0.95 0.95 0 1 0 -1.9 0zM506.6 672.6a0.95 0.95 0 1 0 1.9 0a0.95 0.95 0 1 0 -1.9 0zM503.6 677.1a0.95 0.95 0 1 0 1.9 0a0.95 0.95 0 1 0 -1.9 0zM506.6 677.1a0.95 0.95 0 1 0 1.9 0a0.95 0.95 0 1 0 -1.9 0zM509.6 677.1a0.95 0.95 0 1 0 1.9 0a0.95 0.95 0 1 0 -1.9 0z" fill="#000"/>
<rect x="515.4" y="663" width="8.5" height="35.3" fill="#78d6ff"/>
<line x1="519.6" y1="663" x2="519.6" y2="661" stroke="#000" stroke-width="0.6"/>
<line x1="517.6" y1="661" x2="521.6" y2="661" stroke="#000" stroke-width="0.6"/>
<path d="M515.7 656.6a0.95 0.95 0 1 0 1.9 0a0.95 0.95 0 1 0 -1.9 0zM518.7 656.6a0.95 0.95 0 1 0 1.9 0a0.95 0.95 0 1 0 -1.9 0zM521.7 656.6a0.95 0.95 0 1 0 1.9 0a0.95 0.95 0 1 0 -1.9 0zM516.9 658.2a0.95 0.95 0 1 0 1.9 0a0.95 0.95 0 1 0 -1.9 0zM520.5 658.2a0.95 0.95 0 1 0 1.9 0a0.95 0.95 0 1 0 -1.9 0zM516.9 661.7a0.95 0.95 0 1 0 1.9 0a0.95 0.95 0 1 0 -1.9 0zM520.5 661.7a0.95 0.95 0 1 0 1.9 0a0.95 0.95 0 1 0 -1.9 0zM516.9 665.9a0.95 0.95 0 1 0 1.9 0a0.95 0.95 0 1 0 -1.9 0zM520.5 665.9a0.95 0.95 0 1 0 1.9 0a0.95 0.95 0 1 0 -1.9 0zM516.9 669.7a0.95 0.95 0 1 0 1.9 0a0.95 0.95 0 1 0 -1.9 0zM520.5 669.7a0.95 0.95 0 1 0 1.9 0a0.95 0.95 0 1 0 -1.9 0z" fill="#000"/>
<rect x="540.3" y="656.1" width="8" height="42.2" fill="#000"/>
<rect x="552.7" y="675" width="8.2" height="23.3" fill="#0532ff"/>
<line x1="556.8" y1="675" x2="556.8" y2="673.5" stroke="#000" stroke-width="0.6"/>
<line x1="554.8" y1="673.5" x2="558.8" y2="673.5" stroke="#000" stroke-width="0.6"/>
<path d="M552.8 673.0a0.95 0.95 0 1 0 1.9 0a0.95 0.95 0 1 0 -1.9 0zM555.8 673.0a0.95 0.95 0 1 0 1.9 0a0.95 0.95 0 1 0 -1.9 0zM558.8 673.0a0.95 0.95 0 1 0 1.9 0a0.95 0.95 0 1 0 -1.9 0zM552.8 675.8a0.95 0.95 0 1 0 1.9 0a0.95 0.95 0 1 0 -1.9 0zM555.8 675.8a0.95 0.95 0 1 0 1.9 0a0.95 0.95 0 1 0 -1.9 0zM558.8 675.8a0.95 0.95 0 1 0 1.9 0a0.95 0.95 0 1 0 -1.9 0zM555.8 680.7a0.95 0.95 0 1 0 1.9 0a0.95 0.95 0 1 0 -1.9 0z" fill="#000"/>
<rect x="565.1" y="671.8" width="7.7" height="26.5" fill="#78d6ff"/>
<line x1="569" y1="671.8" x2="569" y2="669.8" stroke="#000" stroke-width="0.6"/>
<line x1="567" y1="669.8" x2="571" y2="669.8" stroke="#000" stroke-width="0.6"/>
<path d="M565.0 666.2a0.95 0.95 0 1 0 1.9 0a0.95 0.95 0 1 0 -1.9 0zM568.0 666.2a0.95 0.95 0 1 0 1.9 0a0.95 0.95 0 1 0 -1.9 0zM571.0 666.2a0.95 0.95 0 1 0 1.9 0a0.95 0.95 0 1 0 -1.9 0zM566.2 668.1a0.95 0.95 0 1 0 1.9 0a0.95 0.95 0 1 0 -1.9 0zM569.8 668.1a0.95 0.95 0 1 0 1.9 0a0.95 0.95 0 1 0 -1.9 0zM566.2 679.0a0.95 0.95 0 1 0 1.9 0a0.95 0.95 0 1 0 -1.9 0zM569.8 679.0a0.95 0.95 0 1 0 1.9 0a0.95 0.95 0 1 0 -1.9 0zM568.0 681.5a0.95 0.95 0 1 0 1.9 0a0.95 0.95 0 1 0 -1.9 0z" fill="#000"/>
<rect x="577.3" y="686.6" width="8.1" height="11.7" fill="#9337ff"/>
<line x1="581.3" y1="686.6" x2="581.3" y2="684.1" stroke="#000" stroke-width="0.6"/>
<line x1="579.3" y1="684.1" x2="583.3" y2="684.1" stroke="#000" stroke-width="0.6"/>
<path d="M577.4 682.6a0.95 0.95 0 1 0 1.9 0a0.95 0.95 0 1 0 -1.9 0zM580.4 682.6a0.95 0.95 0 1 0 1.9 0a0.95 0.95 0 1 0 -1.9 0zM583.4 682.6a0.95 0.95 0 1 0 1.9 0a0.95 0.95 0 1 0 -1.9 0zM578.6 685.2a0.95 0.95 0 1 0 1.9 0a0.95 0.95 0 1 0 -1.9 0zM582.2 685.2a0.95 0.95 0 1 0 1.9 0a0.95 0.95 0 1 0 -1.9 0zM577.4 692.7a0.95 0.95 0 1 0 1.9 0a0.95 0.95 0 1 0 -1.9 0zM580.4 692.7a0.95 0.95 0 1 0 1.9 0a0.95 0.95 0 1 0 -1.9 0zM583.4 692.7a0.95 0.95 0 1 0 1.9 0a0.95 0.95 0 1 0 -1.9 0z" fill="#000"/>
<rect x="589.4" y="656.1" width="8.3" height="42.2" fill="#000"/>
<rect x="602.1" y="689" width="8" height="9.3" fill="#0532ff"/>
<line x1="606.1" y1="689" x2="606.1" y2="687.5" stroke="#000" stroke-width="0.6"/>
<line x1="604.1" y1="687.5" x2="608.1" y2="687.5" stroke="#000" stroke-width="0.6"/>
<path d="M602.1 684.7a0.95 0.95 0 1 0 1.9 0a0.95 0.95 0 1 0 -1.9 0zM605.1 684.7a0.95 0.95 0 1 0 1.9 0a0.95 0.95 0 1 0 -1.9 0zM608.1 684.7a0.95 0.95 0 1 0 1.9 0a0.95 0.95 0 1 0 -1.9 0zM603.4 687.4a0.95 0.95 0 1 0 1.9 0a0.95 0.95 0 1 0 -1.9 0zM606.9 687.4a0.95 0.95 0 1 0 1.9 0a0.95 0.95 0 1 0 -1.9 0zM602.1 693.5a0.95 0.95 0 1 0 1.9 0a0.95 0.95 0 1 0 -1.9 0zM605.1 693.5a0.95 0.95 0 1 0 1.9 0a0.95 0.95 0 1 0 -1.9 0zM608.1 693.5a0.95 0.95 0 1 0 1.9 0a0.95 0.95 0 1 0 -1.9 0z" fill="#000"/>
<rect x="613.8" y="663" width="8.3" height="35.3" fill="#78d6ff"/>
<line x1="618" y1="663" x2="618" y2="661" stroke="#000" stroke-width="0.6"/>
<line x1="616" y1="661" x2="620" y2="661" stroke="#000" stroke-width="0.6"/>
<path d="M617.0 656.6a0.95 0.95 0 1 0 1.9 0a0.95 0.95 0 1 0 -1.9 0zM615.2 658.2a0.95 0.95 0 1 0 1.9 0a0.95 0.95 0 1 0 -1.9 0zM618.8 658.2a0.95 0.95 0 1 0 1.9 0a0.95 0.95 0 1 0 -1.9 0zM615.2 659.8a0.95 0.95 0 1 0 1.9 0a0.95 0.95 0 1 0 -1.9 0zM618.8 659.8a0.95 0.95 0 1 0 1.9 0a0.95 0.95 0 1 0 -1.9 0zM615.2 663.8a0.95 0.95 0 1 0 1.9 0a0.95 0.95 0 1 0 -1.9 0zM618.8 663.8a0.95 0.95 0 1 0 1.9 0a0.95 0.95 0 1 0 -1.9 0zM615.2 667.8a0.95 0.95 0 1 0 1.9 0a0.95 0.95 0 1 0 -1.9 0zM618.8 667.8a0.95 0.95 0 1 0 1.9 0a0.95 0.95 0 1 0 -1.9 0zM615.2 669.7a0.95 0.95 0 1 0 1.9 0a0.95 0.95 0 1 0 -1.9 0zM618.8 669.7a0.95 0.95 0 1 0 1.9 0a0.95 0.95 0 1 0 -1.9 0z" fill="#000"/>
<path d="M628.7 697.5a0.95 0.95 0 1 0 1.9 0a0.95 0.95 0 1 0 -1.9 0zM629.7 697.8a0.95 0.95 0 1 0 1.9 0a0.95 0.95 0 1 0 -1.9 0zM630.7 697.4a0.95 0.95 0 1 0 1.9 0a0.95 0.95 0 1 0 -1.9 0zM631.7 697.9a0.95 0.95 0 1 0 1.9 0a0.95 0.95 0 1 0 -1.9 0z" fill="#000"/>
<line x1="495" y1="698.3" x2="495" y2="699.8" stroke="#000" stroke-width="0.5"/>
<text transform="translate(495.4,704.3) rotate(-45)" font-size="4.7" text-anchor="end" fill="#222">DMSO</text>
<line x1="507.5" y1="698.3" x2="507.5" y2="699.8" stroke="#000" stroke-width="0.5"/>
<text transform="translate(507.9,704.3) rotate(-45)" font-size="4.7" text-anchor="end" fill="#222">10uM GSK-591</text>
<line x1="519.6" y1="698.3" x2="519.6" y2="699.8" stroke="#000" stroke-width="0.5"/>
<text transform="translate(520,704.3) rotate(-45)" font-size="4.7" text-anchor="end" fill="#222">10uM Ro</text>
<line x1="531.5" y1="698.3" x2="531.5" y2="699.8" stroke="#000" stroke-width="0.5"/>
<text transform="translate(531.9,704.3) rotate(-45)" font-size="4.7" text-anchor="end" fill="#222">10 uM GSK-591 + Ro</text>
<line x1="544.3" y1="698.3" x2="544.3" y2="699.8" stroke="#000" stroke-width="0.5"/>
<text transform="translate(544.7,704.3) rotate(-45)" font-size="4.7" text-anchor="end" fill="#222">DMSO</text>
<line x1="556.8" y1="698.3" x2="556.8" y2="699.8" stroke="#000" stroke-width="0.5"/>
<text transform="translate(557.2,704.3) rotate(-45)" font-size="4.7" text-anchor="end" fill="#222">10uM GSK-591</text>
<line x1="569" y1="698.3" x2="569" y2="699.8" stroke="#000" stroke-width="0.5"/>
<text transform="translate(569.4,704.3) rotate(-45)" font-size="4.7" text-anchor="end" fill="#222">10uM Ro</text>
<line x1="581.3" y1="698.3" x2="581.3" y2="699.8" stroke="#000" stroke-width="0.5"/>
<text transform="translate(581.7,704.3) rotate(-45)" font-size="4.7" text-anchor="end" fill="#222">10 uM GSK-591 + Ro</text>
<line x1="593.5" y1="698.3" x2="593.5" y2="699.8" stroke="#000" stroke-width="0.5"/>
<text transform="translate(593.9,704.3) rotate(-45)" font-size="4.7" text-anchor="end" fill="#222">DMSO</text>
<line x1="606.1" y1="698.3" x2="606.1" y2="699.8" stroke="#000" stroke-width="0.5"/>
<text transform="translate(606.5,704.3) rotate(-45)" font-size="4.7" text-anchor="end" fill="#222">10uM GSK-591</text>
<line x1="618" y1="698.3" x2="618" y2="699.8" stroke="#000" stroke-width="0.5"/>
<text transform="translate(618.4,704.3) rotate(-45)" font-size="4.7" text-anchor="end" fill="#222">10uM Ro</text>
<line x1="630.6" y1="698.3" x2="630.6" y2="699.8" stroke="#000" stroke-width="0.5"/>
<text transform="translate(631,704.3) rotate(-45)" font-size="4.7" text-anchor="end" fill="#222">10 uM GSK-591 + Ro</text>
<line x1="482.9" y1="736.2" x2="520.5" y2="736.2" stroke="#888" stroke-width="0.6"/>
<text x="501.5" y="743.4" font-size="5.8" text-anchor="middle" fill="#111">Z-138</text>
<line x1="538.4" y1="736.2" x2="574.1" y2="736.2" stroke="#888" stroke-width="0.6"/>
<text x="555.2" y="743.4" font-size="5.8" text-anchor="middle" fill="#111">OCI-LY19</text>
<line x1="578.8" y1="736.2" x2="616" y2="736.2" stroke="#888" stroke-width="0.6"/>
<text x="597.4" y="743.4" font-size="5.8" text-anchor="middle" fill="#111">SUPM2</text>
<text transform="translate(474.5,666.6) rotate(-90)" font-size="5.4" text-anchor="middle" fill="#222">Normalized growth</text>
<line x1="626.5" y1="698" x2="634.8" y2="698" stroke="#333" stroke-width="1"/>
<path d="M506.9 667V638.1H532.6V692.7M519.7 638.1V656.6" stroke="#777" stroke-width="0.5" fill="none"/>
<text x="518.1" y="629.1" font-size="6.0" text-anchor="middle" font-style="italic" fill="#222">p&lt;0.0001</text>
<path d="M556.5 669V637.3H580.6V683M568.8 637.3V665" stroke="#777" stroke-width="0.5" fill="none"/>
<text x="569.6" y="629.8" font-size="6.0" text-anchor="middle" font-style="italic" fill="#222">p=0.05</text>
<path d="M605.3 682.3V637.3H630.7V695.1M617.8 637.3V656.6" stroke="#777" stroke-width="0.5" fill="none"/>
<text x="616.2" y="629.8" font-size="6.0" text-anchor="middle" font-style="italic" fill="#222">p&lt;0.0001</text>
</svg></body></html>
